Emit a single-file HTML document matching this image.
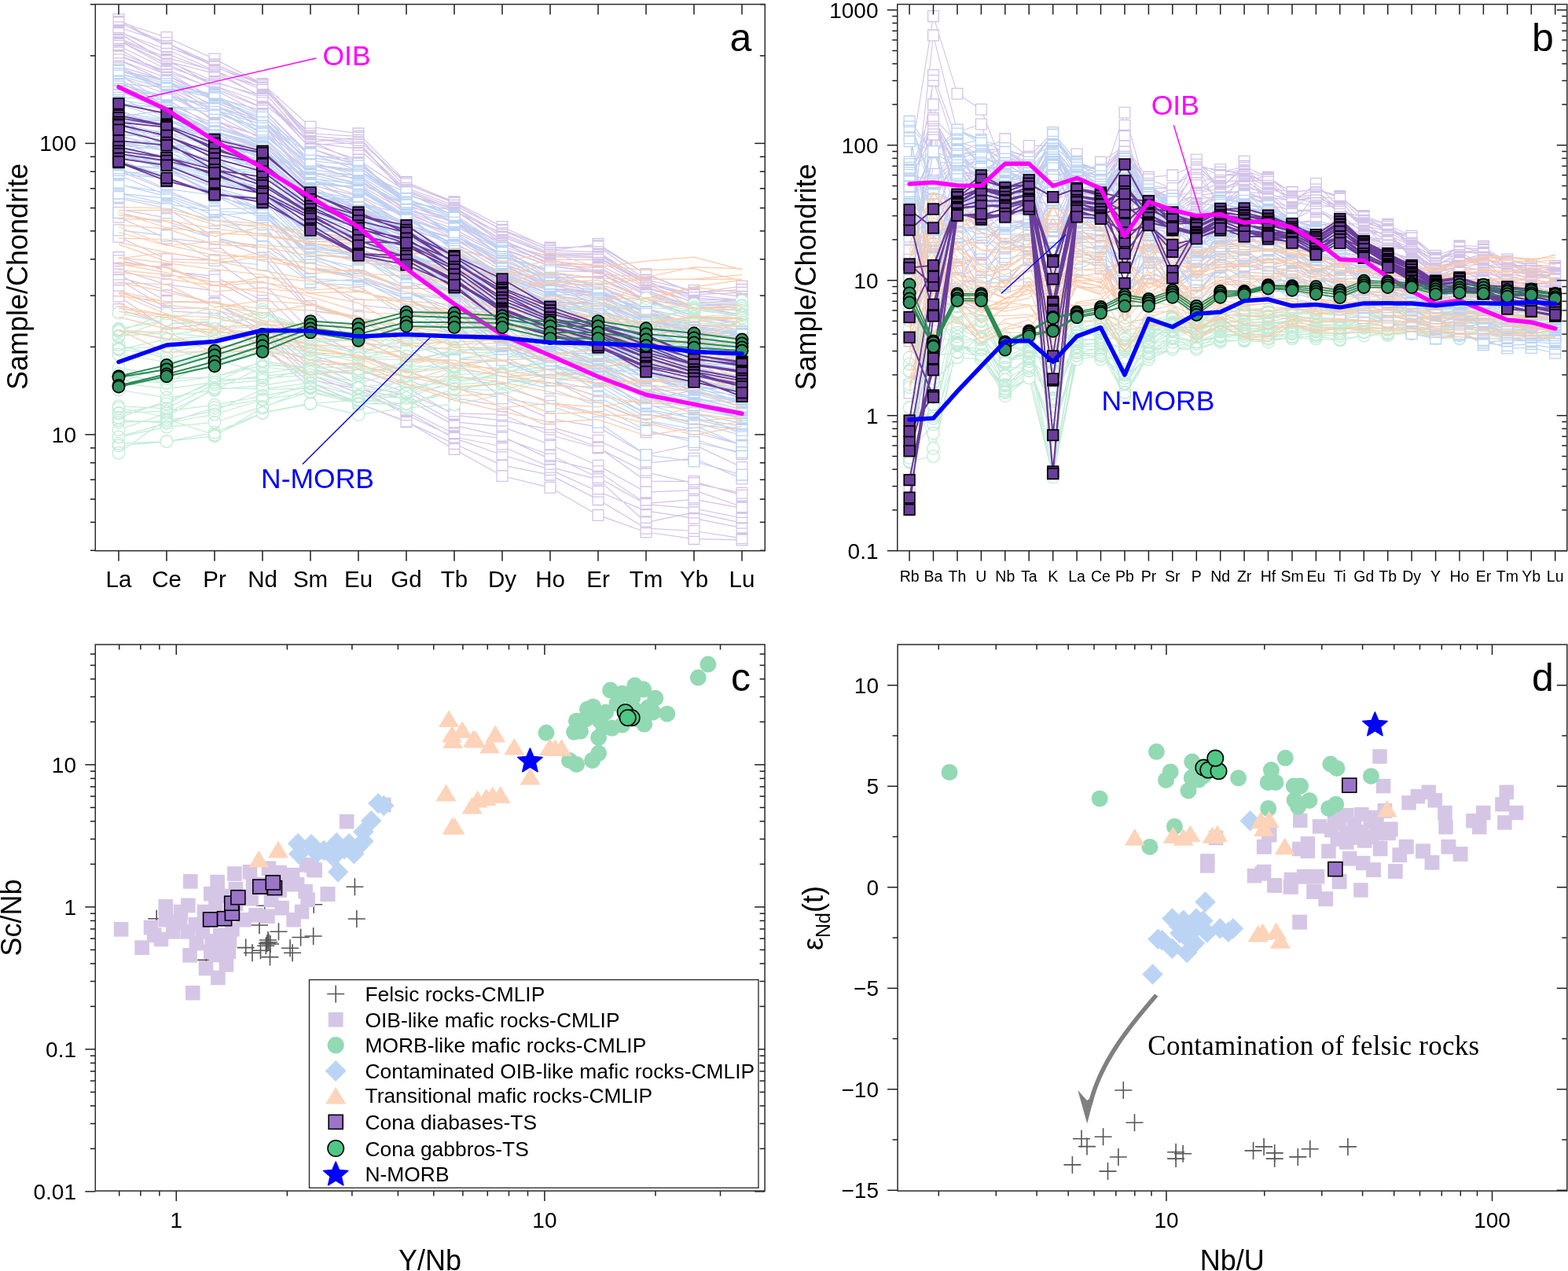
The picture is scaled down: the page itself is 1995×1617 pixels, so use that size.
<!DOCTYPE html>
<html><head><meta charset="utf-8"><style>
html,body{margin:0;padding:0;background:#fff;}
svg{display:block;}
</style></head><body>
<svg xmlns="http://www.w3.org/2000/svg" width="1995" height="1617" viewBox="0 0 1995 1617" font-family="'Liberation Sans', Arial, sans-serif">
<rect width="1995" height="1617" fill="#fff"/>
<defs>
<clipPath id="clipA"><rect x="121.3" y="5.5" width="852.0" height="695.2"/></clipPath>
<clipPath id="clipB"><rect x="1141.8" y="5.5" width="852.0" height="695.2"/></clipPath>
<clipPath id="clipC"><rect x="121.3" y="820.0" width="851.8" height="695.1"/></clipPath>
<clipPath id="clipD"><rect x="1142.1" y="820.0" width="851.7" height="695.1"/></clipPath>
<rect id="dsq" x="-6.8" y="-6.8" width="13.6" height="13.6" fill="#6a3d9a" stroke="#000" stroke-width="1.7"/>
<circle id="dci" r="7.6" fill="#2e915e" stroke="#000" stroke-width="1.7"/>
</defs>
<g clip-path="url(#clipA)">
<path d="M151 94.7L212 131.5 273 157.4 334 183.5 395 239.3 456 268.6 517 296.3 578 324.2 639 349.2 700 370.1 761 376 822 407 883 422.1 944 430.5M151 40.7L212 62.7 273 89.7 334 114.5 395 184.4 456 181.5 517 247.7 578 265.2 639 301.1 700 324.4 761 326.4 822 361.3 883 375.6 944 381.8M151 27.5L212 47.6 273 75.1 334 106.6 395 161.3 456 169.9 517 231.6 578 257.7 639 293.3 700 319 761 310.4 822 349.1 883 372.9 944 364M151 100.1L212 134.9 273 167.9 334 188.7 395 247.5 456 264.9 517 295 578 324.1 639 345 700 375.1 761 383.6 822 410 883 425.9 944 439.2M151 50.4L212 75.6 273 109.2 334 137 395 197.7 456 203 517 262.2 578 278.3 639 309.2 700 336.8 761 340.6 822 374.7 883 389.2 944 387.2M151 114.9L212 142.1 273 167.2 334 204.2 395 260 456 286.9 517 304.2 578 334.3 639 355.8 700 386.9 761 395.3 822 414 883 427.8 944 440.5M151 96.7L212 120 273 152.1 334 185.4 395 252.5 456 266.5 517 291.6 578 308.2 639 344.3 700 369 761 371.9 822 397 883 413.1 944 428.5M151 48.6L212 73.3 273 90.1 334 124.1 395 183.3 456 203.4 517 243.7 578 267.2 639 305.4 700 330.5 761 330.4 822 364.7 883 384.7 944 383.3M151 28.8L212 54.5 273 81.9 334 106.9 395 172.9 456 178.4 517 232.2 578 256.7 639 288.5 700 316.2 761 312.7 822 348.5 883 372.6 944 368.4M151 76.1L212 99.3 273 127.1 334 151.5 395 208.1 456 229.6 517 266.7 578 287.2 639 319 700 348.4 761 353.2 822 382.1 883 402.7 944 410.3M151 34.7L212 54.6 273 85.2 334 107.2 395 175.8 456 184.3 517 241.2 578 264.1 639 298.5 700 323.9 761 323.6 822 360.5 883 378.6 944 383.9M151 106.7L212 126.3 273 162 334 179.8 395 240.6 456 267.5 517 293.8 578 321.3 639 350.5 700 374.8 761 375.5 822 402.1 883 423.1 944 432.3M151 86.7L212 113.3 273 154.7 334 174.2 395 235.4 456 249.1 517 286.3 578 303.9 639 339.3 700 360.3 761 370.1 822 397.9 883 412.9 944 419.9M151 76.1L212 104.5 273 135.1 334 153 395 218.4 456 234.6 517 269.4 578 297.9 639 336.9 700 353.5 761 361.1 822 381.9 883 401.7 944 413.3M151 93.5L212 109.1 273 139.3 334 159.2 395 228.5 456 248.5 517 276.7 578 299.3 639 335.4 700 366.9 761 371.4 822 395.5 883 415.6 944 422.4M151 62.3L212 95.4 273 124.2 334 140.8 395 205.5 456 224 517 266.8 578 281.7 639 326.4 700 344.6 761 345.8 822 375.8 883 391.7 944 399.9M151 103.9L212 134.7 273 170.3 334 189.5 395 248.2 456 281.2 517 300.1 578 322.2 639 358.2 700 388.2 761 385.3 822 413.1 883 432.4 944 440.3M151 24.7L212 59.1 273 81.7 334 108.7 395 180.5 456 175.2 517 234.1 578 258.3 639 292.7 700 318.6 761 320.6 822 359.1 883 374.6 944 372.4M151 89.3L212 102.2 273 136.8 334 155.5 395 234.4 456 237.2 517 274 578 300 639 329.7 700 357.8 761 364 822 392.9 883 405.9 944 416M151 39.9L212 68.4 273 91.1 334 111.1 395 176.5 456 180.7 517 247.1 578 268.8 639 296.8 700 321.6 761 323 822 356.7 883 382.2 944 380.6M151 42.3L212 77.8 273 93.4 334 122.7 395 181.7 456 189.3 517 242.7 578 266.8 639 309.7 700 326.6 761 327.9 822 361.4 883 385.5 944 381.5M151 51.5L212 84.5 273 105 334 122 395 188.6 456 211.8 517 257.3 578 267.7 639 306.5 700 331.7 761 339.1 822 372.1 883 388.5 944 385.2M151 51.4L212 81.1 273 109 334 130.7 395 179.6 456 206.8 517 254.1 578 272.7 639 313 700 334.2 761 344.5 822 369.1 883 391.1 944 391.7M151 86.7L212 116.7 273 152.8 334 174.3 395 234 456 254.1 517 284.5 578 311.2 639 336.2 700 367.6 761 374.1 822 392.4 883 416.5 944 421.4M151 71L212 94.9 273 129.1 334 156.2 395 221.3 456 226.2 517 272.2 578 294.6 639 325.1 700 353 761 352.6 822 380.4 883 402.1 944 411M151 67L212 91.1 273 112.6 334 137.2 395 199.9 456 211.4 517 260.1 578 283.8 639 317.2 700 338.4 761 345.7 822 382 883 388 944 400.9M151 41.8L212 77.6 273 103.5 334 124.6 395 188.9 456 207.8 517 256.1 578 282.3 639 308.8 700 335.6 761 336.4 822 366.5 883 384.1 944 393.6M151 84.5L212 112.4 273 145 334 177.4 395 236.7 456 263.6 517 285.9 578 302.8 639 341.6 700 361.5 761 369.8 822 399.2 883 415.4 944 421.5M151 115.5L212 140 273 176.7 334 200.8 395 258.5 456 281.4 517 310.4 578 331.9 639 357.2 700 384.3 761 385.9 822 417.8 883 429.3 944 437.1M151 70.6L212 91.5 273 126.8 334 151.4 395 215.6 456 223.9 517 268.5 578 291.6 639 323.2 700 354 761 351.9 822 383 883 405.5 944 404.7M151 84.3L212 102.4 273 144 334 162.9 395 231.2 456 239.9 517 275.7 578 303 639 333.3 700 361.7 761 361.8 822 392.4 883 413.5 944 413.8M151 114.1L212 138.6 273 171.8 334 198.8 395 253.1 456 277.9 517 301.5 578 327.7 639 350.7 700 386.4 761 383.4 822 407.5 883 424.1 944 443.8M151 58.3L212 88 273 114 334 145.6 395 209 456 216.4 517 257.4 578 282.1 639 315.7 700 338.3 761 346.9 822 375.5 883 394 944 401.9M151 27.6L212 58.8 273 83.8 334 112.5 395 170 456 173.4 517 239.2 578 261.2 639 292.2 700 315 761 313.7 822 356.1 883 369.6 944 377.4M151 355.7L212 392.3 273 391.9 334 426.9 395 483.2 456 494.7 517 527.7 578 556 639 568 700 594.3 761 609.8 822 664.7 883 651.9 944 665.3M151 331.7L212 342.7 273 356.1 334 389.3 395 451.4 456 469.9 517 492.6 578 528.1 639 534.9 700 546.3 761 568.8 822 612.1 883 612.6 944 630.2M151 327.4L212 344.5 273 351.6 334 382.5 395 457.2 456 477.6 517 499.6 578 526.2 639 527.2 700 553.5 761 570 822 600.8 883 614.8 944 627.3M151 353.2L212 368.4 273 386.5 334 414.1 395 466.5 456 494.5 517 507.7 578 541.1 639 555.1 700 584.1 761 599.7 822 640.7 883 635.3 944 646.3M151 369.7L212 395.6 273 399.2 334 422.5 395 476.9 456 500.1 517 523.6 578 557.4 639 578.7 700 597.4 761 625.3 822 649.9 883 659.3 944 671.7M151 393.6L212 412 273 409.6 334 441.1 395 486.6 456 513 517 536.1 578 571.4 639 605.5 700 620.3 761 655.4 822 677 883 685.6 944 686.9M151 377L212 417.8 273 411.4 334 440.2 395 493.8 456 513.3 517 536.6 578 564.5 639 591.9 700 604.1 761 635.6 822 672.2 883 675.5 944 684.8M151 342.8L212 362.1 273 369.8 334 405.4 395 460.1 456 488.7 517 503.2 578 536.7 639 542.9 700 565.8 761 592.2 822 626.1 883 623.6 944 644.7M151 349L212 383.6 273 385.6 334 420.7 395 471.5 456 492.4 517 521.2 578 552 639 557 700 578.7 761 607.5 822 641.6 883 646.8 944 659M151 276.2L212 303.2 273 309.2 334 359.3 395 420.6 456 450.7 517 472.1 578 494 639 506.2 700 532.6 761 543.2 822 578.5 883 565.6 944 594.5M151 139.6L212 165.1 273 205 334 236.3 395 290.1 456 299.8 517 328 578 349.7 639 378.8 700 400.1 761 418.5 822 450 883 465.6 944 461.7M151 124.4L212 149.8 273 187.1 334 204.2 395 272.8 456 303.9 517 310.1 578 336.8 639 378.6 700 388.5 761 404.3 822 436.5 883 442.1 944 459.7M151 266.1L212 277.1 273 303.9 334 325.9 395 394.3 456 435.6 517 442.9 578 477.5 639 492.2 700 510.8 761 526.7 822 549.7 883 558.8 944 577.7M151 194.1L212 214.4 273 248.7 334 278.3 395 338.7 456 355.5 517 376.7 578 419.1 639 415.8 700 451.6 761 466.9 822 508.4 883 496.6 944 518M151 194.9L212 215 273 239 334 271.8 395 323.7 456 346.5 517 366.6 578 405.6 639 426.9 700 444.6 761 464.9 822 488.9 883 508.5 944 512M151 252L212 265 273 301.6 334 317.8 395 389.5 456 406.9 517 436.5 578 457 639 459.4 700 483 761 513 822 535.8 883 550.5 944 565.7M151 171.9L212 173.8 273 216.4 334 246.4 395 291.9 456 332.7 517 331 578 388.8 639 396.7 700 410.7 761 441.9 822 470.9 883 454.7 944 499.3M151 301.2L212 329.7 273 330.9 334 373.1 395 430.6 456 447.6 517 482.5 578 506.3 639 516.4 700 543.2 761 560.2 822 589.1 883 583.3 944 608.9M151 217.1L212 241.7 273 268.8 334 310 395 349.7 456 387.8 517 394.5 578 421.8 639 436.2 700 474.6 761 475.3 822 521.1 883 539.3 944 547" fill="none" stroke="#d3c3e8" stroke-width="1.2" stroke-linejoin="round" />
<path d="M144.1 87.8h13.8v13.8h-13.8zM205.1 124.6h13.8v13.8h-13.8zM266.1 150.5h13.8v13.8h-13.8zM327.1 176.6h13.8v13.8h-13.8zM388.1 232.4h13.8v13.8h-13.8zM449.1 261.7h13.8v13.8h-13.8zM510.1 289.4h13.8v13.8h-13.8zM571.1 317.3h13.8v13.8h-13.8zM632.1 342.3h13.8v13.8h-13.8zM693.1 363.2h13.8v13.8h-13.8zM754.1 369.1h13.8v13.8h-13.8zM815.1 400.1h13.8v13.8h-13.8zM876.1 415.2h13.8v13.8h-13.8zM937.1 423.6h13.8v13.8h-13.8zM144.1 33.8h13.8v13.8h-13.8zM205.1 55.8h13.8v13.8h-13.8zM266.1 82.8h13.8v13.8h-13.8zM327.1 107.6h13.8v13.8h-13.8zM388.1 177.5h13.8v13.8h-13.8zM449.1 174.6h13.8v13.8h-13.8zM510.1 240.8h13.8v13.8h-13.8zM571.1 258.3h13.8v13.8h-13.8zM632.1 294.2h13.8v13.8h-13.8zM693.1 317.5h13.8v13.8h-13.8zM754.1 319.5h13.8v13.8h-13.8zM815.1 354.4h13.8v13.8h-13.8zM876.1 368.7h13.8v13.8h-13.8zM937.1 374.9h13.8v13.8h-13.8zM144.1 20.6h13.8v13.8h-13.8zM205.1 40.7h13.8v13.8h-13.8zM266.1 68.2h13.8v13.8h-13.8zM327.1 99.7h13.8v13.8h-13.8zM388.1 154.4h13.8v13.8h-13.8zM449.1 163h13.8v13.8h-13.8zM510.1 224.7h13.8v13.8h-13.8zM571.1 250.8h13.8v13.8h-13.8zM632.1 286.4h13.8v13.8h-13.8zM693.1 312.1h13.8v13.8h-13.8zM754.1 303.5h13.8v13.8h-13.8zM815.1 342.2h13.8v13.8h-13.8zM876.1 366h13.8v13.8h-13.8zM937.1 357.1h13.8v13.8h-13.8zM144.1 93.2h13.8v13.8h-13.8zM205.1 128h13.8v13.8h-13.8zM266.1 161h13.8v13.8h-13.8zM327.1 181.8h13.8v13.8h-13.8zM388.1 240.6h13.8v13.8h-13.8zM449.1 258h13.8v13.8h-13.8zM510.1 288.1h13.8v13.8h-13.8zM571.1 317.2h13.8v13.8h-13.8zM632.1 338.1h13.8v13.8h-13.8zM693.1 368.2h13.8v13.8h-13.8zM754.1 376.7h13.8v13.8h-13.8zM815.1 403.1h13.8v13.8h-13.8zM876.1 419h13.8v13.8h-13.8zM937.1 432.3h13.8v13.8h-13.8zM144.1 43.5h13.8v13.8h-13.8zM205.1 68.7h13.8v13.8h-13.8zM266.1 102.3h13.8v13.8h-13.8zM327.1 130.1h13.8v13.8h-13.8zM388.1 190.8h13.8v13.8h-13.8zM449.1 196.1h13.8v13.8h-13.8zM510.1 255.3h13.8v13.8h-13.8zM571.1 271.4h13.8v13.8h-13.8zM632.1 302.3h13.8v13.8h-13.8zM693.1 329.9h13.8v13.8h-13.8zM754.1 333.7h13.8v13.8h-13.8zM815.1 367.8h13.8v13.8h-13.8zM876.1 382.3h13.8v13.8h-13.8zM937.1 380.3h13.8v13.8h-13.8zM144.1 108h13.8v13.8h-13.8zM205.1 135.2h13.8v13.8h-13.8zM266.1 160.3h13.8v13.8h-13.8zM327.1 197.3h13.8v13.8h-13.8zM388.1 253.1h13.8v13.8h-13.8zM449.1 280h13.8v13.8h-13.8zM510.1 297.3h13.8v13.8h-13.8zM571.1 327.4h13.8v13.8h-13.8zM632.1 348.9h13.8v13.8h-13.8zM693.1 380h13.8v13.8h-13.8zM754.1 388.4h13.8v13.8h-13.8zM815.1 407.1h13.8v13.8h-13.8zM876.1 420.9h13.8v13.8h-13.8zM937.1 433.6h13.8v13.8h-13.8zM144.1 89.8h13.8v13.8h-13.8zM205.1 113.1h13.8v13.8h-13.8zM266.1 145.2h13.8v13.8h-13.8zM327.1 178.5h13.8v13.8h-13.8zM388.1 245.6h13.8v13.8h-13.8zM449.1 259.6h13.8v13.8h-13.8zM510.1 284.7h13.8v13.8h-13.8zM571.1 301.3h13.8v13.8h-13.8zM632.1 337.4h13.8v13.8h-13.8zM693.1 362.1h13.8v13.8h-13.8zM754.1 365h13.8v13.8h-13.8zM815.1 390.1h13.8v13.8h-13.8zM876.1 406.2h13.8v13.8h-13.8zM937.1 421.6h13.8v13.8h-13.8zM144.1 41.7h13.8v13.8h-13.8zM205.1 66.4h13.8v13.8h-13.8zM266.1 83.2h13.8v13.8h-13.8zM327.1 117.2h13.8v13.8h-13.8zM388.1 176.4h13.8v13.8h-13.8zM449.1 196.5h13.8v13.8h-13.8zM510.1 236.8h13.8v13.8h-13.8zM571.1 260.3h13.8v13.8h-13.8zM632.1 298.5h13.8v13.8h-13.8zM693.1 323.6h13.8v13.8h-13.8zM754.1 323.5h13.8v13.8h-13.8zM815.1 357.8h13.8v13.8h-13.8zM876.1 377.8h13.8v13.8h-13.8zM937.1 376.4h13.8v13.8h-13.8zM144.1 21.9h13.8v13.8h-13.8zM205.1 47.6h13.8v13.8h-13.8zM266.1 75h13.8v13.8h-13.8zM327.1 100h13.8v13.8h-13.8zM388.1 166h13.8v13.8h-13.8zM449.1 171.5h13.8v13.8h-13.8zM510.1 225.3h13.8v13.8h-13.8zM571.1 249.8h13.8v13.8h-13.8zM632.1 281.6h13.8v13.8h-13.8zM693.1 309.3h13.8v13.8h-13.8zM754.1 305.8h13.8v13.8h-13.8zM815.1 341.6h13.8v13.8h-13.8zM876.1 365.7h13.8v13.8h-13.8zM937.1 361.5h13.8v13.8h-13.8zM144.1 69.2h13.8v13.8h-13.8zM205.1 92.4h13.8v13.8h-13.8zM266.1 120.2h13.8v13.8h-13.8zM327.1 144.6h13.8v13.8h-13.8zM388.1 201.2h13.8v13.8h-13.8zM449.1 222.7h13.8v13.8h-13.8zM510.1 259.8h13.8v13.8h-13.8zM571.1 280.3h13.8v13.8h-13.8zM632.1 312.1h13.8v13.8h-13.8zM693.1 341.5h13.8v13.8h-13.8zM754.1 346.3h13.8v13.8h-13.8zM815.1 375.2h13.8v13.8h-13.8zM876.1 395.8h13.8v13.8h-13.8zM937.1 403.4h13.8v13.8h-13.8zM144.1 27.8h13.8v13.8h-13.8zM205.1 47.7h13.8v13.8h-13.8zM266.1 78.3h13.8v13.8h-13.8zM327.1 100.3h13.8v13.8h-13.8zM388.1 168.9h13.8v13.8h-13.8zM449.1 177.4h13.8v13.8h-13.8zM510.1 234.3h13.8v13.8h-13.8zM571.1 257.2h13.8v13.8h-13.8zM632.1 291.6h13.8v13.8h-13.8zM693.1 317h13.8v13.8h-13.8zM754.1 316.7h13.8v13.8h-13.8zM815.1 353.6h13.8v13.8h-13.8zM876.1 371.7h13.8v13.8h-13.8zM937.1 377h13.8v13.8h-13.8zM144.1 99.8h13.8v13.8h-13.8zM205.1 119.4h13.8v13.8h-13.8zM266.1 155.1h13.8v13.8h-13.8zM327.1 172.9h13.8v13.8h-13.8zM388.1 233.7h13.8v13.8h-13.8zM449.1 260.6h13.8v13.8h-13.8zM510.1 286.9h13.8v13.8h-13.8zM571.1 314.4h13.8v13.8h-13.8zM632.1 343.6h13.8v13.8h-13.8zM693.1 367.9h13.8v13.8h-13.8zM754.1 368.6h13.8v13.8h-13.8zM815.1 395.2h13.8v13.8h-13.8zM876.1 416.2h13.8v13.8h-13.8zM937.1 425.4h13.8v13.8h-13.8zM144.1 79.8h13.8v13.8h-13.8zM205.1 106.4h13.8v13.8h-13.8zM266.1 147.8h13.8v13.8h-13.8zM327.1 167.3h13.8v13.8h-13.8zM388.1 228.5h13.8v13.8h-13.8zM449.1 242.2h13.8v13.8h-13.8zM510.1 279.4h13.8v13.8h-13.8zM571.1 297h13.8v13.8h-13.8zM632.1 332.4h13.8v13.8h-13.8zM693.1 353.4h13.8v13.8h-13.8zM754.1 363.2h13.8v13.8h-13.8zM815.1 391h13.8v13.8h-13.8zM876.1 406h13.8v13.8h-13.8zM937.1 413h13.8v13.8h-13.8zM144.1 69.2h13.8v13.8h-13.8zM205.1 97.6h13.8v13.8h-13.8zM266.1 128.2h13.8v13.8h-13.8zM327.1 146.1h13.8v13.8h-13.8zM388.1 211.5h13.8v13.8h-13.8zM449.1 227.7h13.8v13.8h-13.8zM510.1 262.5h13.8v13.8h-13.8zM571.1 291h13.8v13.8h-13.8zM632.1 330h13.8v13.8h-13.8zM693.1 346.6h13.8v13.8h-13.8zM754.1 354.2h13.8v13.8h-13.8zM815.1 375h13.8v13.8h-13.8zM876.1 394.8h13.8v13.8h-13.8zM937.1 406.4h13.8v13.8h-13.8zM144.1 86.6h13.8v13.8h-13.8zM205.1 102.2h13.8v13.8h-13.8zM266.1 132.4h13.8v13.8h-13.8zM327.1 152.3h13.8v13.8h-13.8zM388.1 221.6h13.8v13.8h-13.8zM449.1 241.6h13.8v13.8h-13.8zM510.1 269.8h13.8v13.8h-13.8zM571.1 292.4h13.8v13.8h-13.8zM632.1 328.5h13.8v13.8h-13.8zM693.1 360h13.8v13.8h-13.8zM754.1 364.5h13.8v13.8h-13.8zM815.1 388.6h13.8v13.8h-13.8zM876.1 408.7h13.8v13.8h-13.8zM937.1 415.5h13.8v13.8h-13.8zM144.1 55.4h13.8v13.8h-13.8zM205.1 88.5h13.8v13.8h-13.8zM266.1 117.3h13.8v13.8h-13.8zM327.1 133.9h13.8v13.8h-13.8zM388.1 198.6h13.8v13.8h-13.8zM449.1 217.1h13.8v13.8h-13.8zM510.1 259.9h13.8v13.8h-13.8zM571.1 274.8h13.8v13.8h-13.8zM632.1 319.5h13.8v13.8h-13.8zM693.1 337.7h13.8v13.8h-13.8zM754.1 338.9h13.8v13.8h-13.8zM815.1 368.9h13.8v13.8h-13.8zM876.1 384.8h13.8v13.8h-13.8zM937.1 393h13.8v13.8h-13.8zM144.1 97h13.8v13.8h-13.8zM205.1 127.8h13.8v13.8h-13.8zM266.1 163.4h13.8v13.8h-13.8zM327.1 182.6h13.8v13.8h-13.8zM388.1 241.3h13.8v13.8h-13.8zM449.1 274.3h13.8v13.8h-13.8zM510.1 293.2h13.8v13.8h-13.8zM571.1 315.3h13.8v13.8h-13.8zM632.1 351.3h13.8v13.8h-13.8zM693.1 381.3h13.8v13.8h-13.8zM754.1 378.4h13.8v13.8h-13.8zM815.1 406.2h13.8v13.8h-13.8zM876.1 425.5h13.8v13.8h-13.8zM937.1 433.4h13.8v13.8h-13.8zM144.1 17.8h13.8v13.8h-13.8zM205.1 52.2h13.8v13.8h-13.8zM266.1 74.8h13.8v13.8h-13.8zM327.1 101.8h13.8v13.8h-13.8zM388.1 173.6h13.8v13.8h-13.8zM449.1 168.3h13.8v13.8h-13.8zM510.1 227.2h13.8v13.8h-13.8zM571.1 251.4h13.8v13.8h-13.8zM632.1 285.8h13.8v13.8h-13.8zM693.1 311.7h13.8v13.8h-13.8zM754.1 313.7h13.8v13.8h-13.8zM815.1 352.2h13.8v13.8h-13.8zM876.1 367.7h13.8v13.8h-13.8zM937.1 365.5h13.8v13.8h-13.8zM144.1 82.4h13.8v13.8h-13.8zM205.1 95.3h13.8v13.8h-13.8zM266.1 129.9h13.8v13.8h-13.8zM327.1 148.6h13.8v13.8h-13.8zM388.1 227.5h13.8v13.8h-13.8zM449.1 230.3h13.8v13.8h-13.8zM510.1 267.1h13.8v13.8h-13.8zM571.1 293.1h13.8v13.8h-13.8zM632.1 322.8h13.8v13.8h-13.8zM693.1 350.9h13.8v13.8h-13.8zM754.1 357.1h13.8v13.8h-13.8zM815.1 386h13.8v13.8h-13.8zM876.1 399h13.8v13.8h-13.8zM937.1 409.1h13.8v13.8h-13.8zM144.1 33h13.8v13.8h-13.8zM205.1 61.5h13.8v13.8h-13.8zM266.1 84.2h13.8v13.8h-13.8zM327.1 104.2h13.8v13.8h-13.8zM388.1 169.6h13.8v13.8h-13.8zM449.1 173.8h13.8v13.8h-13.8zM510.1 240.2h13.8v13.8h-13.8zM571.1 261.9h13.8v13.8h-13.8zM632.1 289.9h13.8v13.8h-13.8zM693.1 314.7h13.8v13.8h-13.8zM754.1 316.1h13.8v13.8h-13.8zM815.1 349.8h13.8v13.8h-13.8zM876.1 375.3h13.8v13.8h-13.8zM937.1 373.7h13.8v13.8h-13.8zM144.1 35.4h13.8v13.8h-13.8zM205.1 70.9h13.8v13.8h-13.8zM266.1 86.5h13.8v13.8h-13.8zM327.1 115.8h13.8v13.8h-13.8zM388.1 174.8h13.8v13.8h-13.8zM449.1 182.4h13.8v13.8h-13.8zM510.1 235.8h13.8v13.8h-13.8zM571.1 259.9h13.8v13.8h-13.8zM632.1 302.8h13.8v13.8h-13.8zM693.1 319.7h13.8v13.8h-13.8zM754.1 321h13.8v13.8h-13.8zM815.1 354.5h13.8v13.8h-13.8zM876.1 378.6h13.8v13.8h-13.8zM937.1 374.6h13.8v13.8h-13.8zM144.1 44.6h13.8v13.8h-13.8zM205.1 77.6h13.8v13.8h-13.8zM266.1 98.1h13.8v13.8h-13.8zM327.1 115.1h13.8v13.8h-13.8zM388.1 181.7h13.8v13.8h-13.8zM449.1 204.9h13.8v13.8h-13.8zM510.1 250.4h13.8v13.8h-13.8zM571.1 260.8h13.8v13.8h-13.8zM632.1 299.6h13.8v13.8h-13.8zM693.1 324.8h13.8v13.8h-13.8zM754.1 332.2h13.8v13.8h-13.8zM815.1 365.2h13.8v13.8h-13.8zM876.1 381.6h13.8v13.8h-13.8zM937.1 378.3h13.8v13.8h-13.8zM144.1 44.5h13.8v13.8h-13.8zM205.1 74.2h13.8v13.8h-13.8zM266.1 102.1h13.8v13.8h-13.8zM327.1 123.8h13.8v13.8h-13.8zM388.1 172.7h13.8v13.8h-13.8zM449.1 199.9h13.8v13.8h-13.8zM510.1 247.2h13.8v13.8h-13.8zM571.1 265.8h13.8v13.8h-13.8zM632.1 306.1h13.8v13.8h-13.8zM693.1 327.3h13.8v13.8h-13.8zM754.1 337.6h13.8v13.8h-13.8zM815.1 362.2h13.8v13.8h-13.8zM876.1 384.2h13.8v13.8h-13.8zM937.1 384.8h13.8v13.8h-13.8zM144.1 79.8h13.8v13.8h-13.8zM205.1 109.8h13.8v13.8h-13.8zM266.1 145.9h13.8v13.8h-13.8zM327.1 167.4h13.8v13.8h-13.8zM388.1 227.1h13.8v13.8h-13.8zM449.1 247.2h13.8v13.8h-13.8zM510.1 277.6h13.8v13.8h-13.8zM571.1 304.3h13.8v13.8h-13.8zM632.1 329.3h13.8v13.8h-13.8zM693.1 360.7h13.8v13.8h-13.8zM754.1 367.2h13.8v13.8h-13.8zM815.1 385.5h13.8v13.8h-13.8zM876.1 409.6h13.8v13.8h-13.8zM937.1 414.5h13.8v13.8h-13.8zM144.1 64.1h13.8v13.8h-13.8zM205.1 88h13.8v13.8h-13.8zM266.1 122.2h13.8v13.8h-13.8zM327.1 149.3h13.8v13.8h-13.8zM388.1 214.4h13.8v13.8h-13.8zM449.1 219.3h13.8v13.8h-13.8zM510.1 265.3h13.8v13.8h-13.8zM571.1 287.7h13.8v13.8h-13.8zM632.1 318.2h13.8v13.8h-13.8zM693.1 346.1h13.8v13.8h-13.8zM754.1 345.7h13.8v13.8h-13.8zM815.1 373.5h13.8v13.8h-13.8zM876.1 395.2h13.8v13.8h-13.8zM937.1 404.1h13.8v13.8h-13.8zM144.1 60.1h13.8v13.8h-13.8zM205.1 84.2h13.8v13.8h-13.8zM266.1 105.7h13.8v13.8h-13.8zM327.1 130.3h13.8v13.8h-13.8zM388.1 193h13.8v13.8h-13.8zM449.1 204.5h13.8v13.8h-13.8zM510.1 253.2h13.8v13.8h-13.8zM571.1 276.9h13.8v13.8h-13.8zM632.1 310.3h13.8v13.8h-13.8zM693.1 331.5h13.8v13.8h-13.8zM754.1 338.8h13.8v13.8h-13.8zM815.1 375.1h13.8v13.8h-13.8zM876.1 381.1h13.8v13.8h-13.8zM937.1 394h13.8v13.8h-13.8zM144.1 34.9h13.8v13.8h-13.8zM205.1 70.7h13.8v13.8h-13.8zM266.1 96.6h13.8v13.8h-13.8zM327.1 117.7h13.8v13.8h-13.8zM388.1 182h13.8v13.8h-13.8zM449.1 200.9h13.8v13.8h-13.8zM510.1 249.2h13.8v13.8h-13.8zM571.1 275.4h13.8v13.8h-13.8zM632.1 301.9h13.8v13.8h-13.8zM693.1 328.7h13.8v13.8h-13.8zM754.1 329.5h13.8v13.8h-13.8zM815.1 359.6h13.8v13.8h-13.8zM876.1 377.2h13.8v13.8h-13.8zM937.1 386.7h13.8v13.8h-13.8zM144.1 77.6h13.8v13.8h-13.8zM205.1 105.5h13.8v13.8h-13.8zM266.1 138.1h13.8v13.8h-13.8zM327.1 170.5h13.8v13.8h-13.8zM388.1 229.8h13.8v13.8h-13.8zM449.1 256.7h13.8v13.8h-13.8zM510.1 279h13.8v13.8h-13.8zM571.1 295.9h13.8v13.8h-13.8zM632.1 334.7h13.8v13.8h-13.8zM693.1 354.6h13.8v13.8h-13.8zM754.1 362.9h13.8v13.8h-13.8zM815.1 392.3h13.8v13.8h-13.8zM876.1 408.5h13.8v13.8h-13.8zM937.1 414.6h13.8v13.8h-13.8zM144.1 108.6h13.8v13.8h-13.8zM205.1 133.1h13.8v13.8h-13.8zM266.1 169.8h13.8v13.8h-13.8zM327.1 193.9h13.8v13.8h-13.8zM388.1 251.6h13.8v13.8h-13.8zM449.1 274.5h13.8v13.8h-13.8zM510.1 303.5h13.8v13.8h-13.8zM571.1 325h13.8v13.8h-13.8zM632.1 350.3h13.8v13.8h-13.8zM693.1 377.4h13.8v13.8h-13.8zM754.1 379h13.8v13.8h-13.8zM815.1 410.9h13.8v13.8h-13.8zM876.1 422.4h13.8v13.8h-13.8zM937.1 430.2h13.8v13.8h-13.8zM144.1 63.7h13.8v13.8h-13.8zM205.1 84.6h13.8v13.8h-13.8zM266.1 119.9h13.8v13.8h-13.8zM327.1 144.5h13.8v13.8h-13.8zM388.1 208.7h13.8v13.8h-13.8zM449.1 217h13.8v13.8h-13.8zM510.1 261.6h13.8v13.8h-13.8zM571.1 284.7h13.8v13.8h-13.8zM632.1 316.3h13.8v13.8h-13.8zM693.1 347.1h13.8v13.8h-13.8zM754.1 345h13.8v13.8h-13.8zM815.1 376.1h13.8v13.8h-13.8zM876.1 398.6h13.8v13.8h-13.8zM937.1 397.8h13.8v13.8h-13.8zM144.1 77.4h13.8v13.8h-13.8zM205.1 95.5h13.8v13.8h-13.8zM266.1 137.1h13.8v13.8h-13.8zM327.1 156h13.8v13.8h-13.8zM388.1 224.3h13.8v13.8h-13.8zM449.1 233h13.8v13.8h-13.8zM510.1 268.8h13.8v13.8h-13.8zM571.1 296.1h13.8v13.8h-13.8zM632.1 326.4h13.8v13.8h-13.8zM693.1 354.8h13.8v13.8h-13.8zM754.1 354.9h13.8v13.8h-13.8zM815.1 385.5h13.8v13.8h-13.8zM876.1 406.6h13.8v13.8h-13.8zM937.1 406.9h13.8v13.8h-13.8zM144.1 107.2h13.8v13.8h-13.8zM205.1 131.7h13.8v13.8h-13.8zM266.1 164.9h13.8v13.8h-13.8zM327.1 191.9h13.8v13.8h-13.8zM388.1 246.2h13.8v13.8h-13.8zM449.1 271h13.8v13.8h-13.8zM510.1 294.6h13.8v13.8h-13.8zM571.1 320.8h13.8v13.8h-13.8zM632.1 343.8h13.8v13.8h-13.8zM693.1 379.5h13.8v13.8h-13.8zM754.1 376.5h13.8v13.8h-13.8zM815.1 400.6h13.8v13.8h-13.8zM876.1 417.2h13.8v13.8h-13.8zM937.1 436.9h13.8v13.8h-13.8zM144.1 51.4h13.8v13.8h-13.8zM205.1 81.1h13.8v13.8h-13.8zM266.1 107.1h13.8v13.8h-13.8zM327.1 138.7h13.8v13.8h-13.8zM388.1 202.1h13.8v13.8h-13.8zM449.1 209.5h13.8v13.8h-13.8zM510.1 250.5h13.8v13.8h-13.8zM571.1 275.2h13.8v13.8h-13.8zM632.1 308.8h13.8v13.8h-13.8zM693.1 331.4h13.8v13.8h-13.8zM754.1 340h13.8v13.8h-13.8zM815.1 368.6h13.8v13.8h-13.8zM876.1 387.1h13.8v13.8h-13.8zM937.1 395h13.8v13.8h-13.8zM144.1 20.7h13.8v13.8h-13.8zM205.1 51.9h13.8v13.8h-13.8zM266.1 76.9h13.8v13.8h-13.8zM327.1 105.6h13.8v13.8h-13.8zM388.1 163.1h13.8v13.8h-13.8zM449.1 166.5h13.8v13.8h-13.8zM510.1 232.3h13.8v13.8h-13.8zM571.1 254.3h13.8v13.8h-13.8zM632.1 285.3h13.8v13.8h-13.8zM693.1 308.1h13.8v13.8h-13.8zM754.1 306.8h13.8v13.8h-13.8zM815.1 349.2h13.8v13.8h-13.8zM876.1 362.7h13.8v13.8h-13.8zM937.1 370.5h13.8v13.8h-13.8zM144.1 348.8h13.8v13.8h-13.8zM205.1 385.4h13.8v13.8h-13.8zM266.1 385h13.8v13.8h-13.8zM327.1 420h13.8v13.8h-13.8zM388.1 476.3h13.8v13.8h-13.8zM449.1 487.8h13.8v13.8h-13.8zM510.1 520.8h13.8v13.8h-13.8zM571.1 549.1h13.8v13.8h-13.8zM632.1 561.1h13.8v13.8h-13.8zM693.1 587.4h13.8v13.8h-13.8zM754.1 602.9h13.8v13.8h-13.8zM815.1 657.8h13.8v13.8h-13.8zM876.1 645h13.8v13.8h-13.8zM937.1 658.4h13.8v13.8h-13.8zM144.1 324.8h13.8v13.8h-13.8zM205.1 335.8h13.8v13.8h-13.8zM266.1 349.2h13.8v13.8h-13.8zM327.1 382.4h13.8v13.8h-13.8zM388.1 444.5h13.8v13.8h-13.8zM449.1 463h13.8v13.8h-13.8zM510.1 485.7h13.8v13.8h-13.8zM571.1 521.2h13.8v13.8h-13.8zM632.1 528h13.8v13.8h-13.8zM693.1 539.4h13.8v13.8h-13.8zM754.1 561.9h13.8v13.8h-13.8zM815.1 605.2h13.8v13.8h-13.8zM876.1 605.7h13.8v13.8h-13.8zM937.1 623.3h13.8v13.8h-13.8zM144.1 320.5h13.8v13.8h-13.8zM205.1 337.6h13.8v13.8h-13.8zM266.1 344.7h13.8v13.8h-13.8zM327.1 375.6h13.8v13.8h-13.8zM388.1 450.3h13.8v13.8h-13.8zM449.1 470.7h13.8v13.8h-13.8zM510.1 492.7h13.8v13.8h-13.8zM571.1 519.3h13.8v13.8h-13.8zM632.1 520.3h13.8v13.8h-13.8zM693.1 546.6h13.8v13.8h-13.8zM754.1 563.1h13.8v13.8h-13.8zM815.1 593.9h13.8v13.8h-13.8zM876.1 607.9h13.8v13.8h-13.8zM937.1 620.4h13.8v13.8h-13.8zM144.1 346.3h13.8v13.8h-13.8zM205.1 361.5h13.8v13.8h-13.8zM266.1 379.6h13.8v13.8h-13.8zM327.1 407.2h13.8v13.8h-13.8zM388.1 459.6h13.8v13.8h-13.8zM449.1 487.6h13.8v13.8h-13.8zM510.1 500.8h13.8v13.8h-13.8zM571.1 534.2h13.8v13.8h-13.8zM632.1 548.2h13.8v13.8h-13.8zM693.1 577.2h13.8v13.8h-13.8zM754.1 592.8h13.8v13.8h-13.8zM815.1 633.8h13.8v13.8h-13.8zM876.1 628.4h13.8v13.8h-13.8zM937.1 639.4h13.8v13.8h-13.8zM144.1 362.8h13.8v13.8h-13.8zM205.1 388.7h13.8v13.8h-13.8zM266.1 392.3h13.8v13.8h-13.8zM327.1 415.6h13.8v13.8h-13.8zM388.1 470h13.8v13.8h-13.8zM449.1 493.2h13.8v13.8h-13.8zM510.1 516.7h13.8v13.8h-13.8zM571.1 550.5h13.8v13.8h-13.8zM632.1 571.8h13.8v13.8h-13.8zM693.1 590.5h13.8v13.8h-13.8zM754.1 618.4h13.8v13.8h-13.8zM815.1 643h13.8v13.8h-13.8zM876.1 652.4h13.8v13.8h-13.8zM937.1 664.8h13.8v13.8h-13.8zM144.1 386.7h13.8v13.8h-13.8zM205.1 405.1h13.8v13.8h-13.8zM266.1 402.7h13.8v13.8h-13.8zM327.1 434.2h13.8v13.8h-13.8zM388.1 479.7h13.8v13.8h-13.8zM449.1 506.1h13.8v13.8h-13.8zM510.1 529.2h13.8v13.8h-13.8zM571.1 564.5h13.8v13.8h-13.8zM632.1 598.6h13.8v13.8h-13.8zM693.1 613.4h13.8v13.8h-13.8zM754.1 648.5h13.8v13.8h-13.8zM815.1 670.1h13.8v13.8h-13.8zM876.1 678.7h13.8v13.8h-13.8zM937.1 680h13.8v13.8h-13.8zM144.1 370.1h13.8v13.8h-13.8zM205.1 410.9h13.8v13.8h-13.8zM266.1 404.5h13.8v13.8h-13.8zM327.1 433.3h13.8v13.8h-13.8zM388.1 486.9h13.8v13.8h-13.8zM449.1 506.4h13.8v13.8h-13.8zM510.1 529.7h13.8v13.8h-13.8zM571.1 557.6h13.8v13.8h-13.8zM632.1 585h13.8v13.8h-13.8zM693.1 597.2h13.8v13.8h-13.8zM754.1 628.7h13.8v13.8h-13.8zM815.1 665.3h13.8v13.8h-13.8zM876.1 668.6h13.8v13.8h-13.8zM937.1 677.9h13.8v13.8h-13.8zM144.1 335.9h13.8v13.8h-13.8zM205.1 355.2h13.8v13.8h-13.8zM266.1 362.9h13.8v13.8h-13.8zM327.1 398.5h13.8v13.8h-13.8zM388.1 453.2h13.8v13.8h-13.8zM449.1 481.8h13.8v13.8h-13.8zM510.1 496.3h13.8v13.8h-13.8zM571.1 529.8h13.8v13.8h-13.8zM632.1 536h13.8v13.8h-13.8zM693.1 558.9h13.8v13.8h-13.8zM754.1 585.3h13.8v13.8h-13.8zM815.1 619.2h13.8v13.8h-13.8zM876.1 616.7h13.8v13.8h-13.8zM937.1 637.8h13.8v13.8h-13.8zM144.1 342.1h13.8v13.8h-13.8zM205.1 376.7h13.8v13.8h-13.8zM266.1 378.7h13.8v13.8h-13.8zM327.1 413.8h13.8v13.8h-13.8zM388.1 464.6h13.8v13.8h-13.8zM449.1 485.5h13.8v13.8h-13.8zM510.1 514.3h13.8v13.8h-13.8zM571.1 545.1h13.8v13.8h-13.8zM632.1 550.1h13.8v13.8h-13.8zM693.1 571.8h13.8v13.8h-13.8zM754.1 600.6h13.8v13.8h-13.8zM815.1 634.7h13.8v13.8h-13.8zM876.1 639.9h13.8v13.8h-13.8zM937.1 652.1h13.8v13.8h-13.8zM144.1 269.3h13.8v13.8h-13.8zM205.1 296.3h13.8v13.8h-13.8zM266.1 302.3h13.8v13.8h-13.8zM327.1 352.4h13.8v13.8h-13.8zM388.1 413.7h13.8v13.8h-13.8zM449.1 443.8h13.8v13.8h-13.8zM510.1 465.2h13.8v13.8h-13.8zM571.1 487.1h13.8v13.8h-13.8zM632.1 499.3h13.8v13.8h-13.8zM693.1 525.7h13.8v13.8h-13.8zM754.1 536.3h13.8v13.8h-13.8zM815.1 571.6h13.8v13.8h-13.8zM876.1 558.7h13.8v13.8h-13.8zM937.1 587.6h13.8v13.8h-13.8zM144.1 132.7h13.8v13.8h-13.8zM205.1 158.2h13.8v13.8h-13.8zM266.1 198.1h13.8v13.8h-13.8zM327.1 229.4h13.8v13.8h-13.8zM388.1 283.2h13.8v13.8h-13.8zM449.1 292.9h13.8v13.8h-13.8zM510.1 321.1h13.8v13.8h-13.8zM571.1 342.8h13.8v13.8h-13.8zM632.1 371.9h13.8v13.8h-13.8zM693.1 393.2h13.8v13.8h-13.8zM754.1 411.6h13.8v13.8h-13.8zM815.1 443.1h13.8v13.8h-13.8zM876.1 458.7h13.8v13.8h-13.8zM937.1 454.8h13.8v13.8h-13.8zM144.1 117.5h13.8v13.8h-13.8zM205.1 142.9h13.8v13.8h-13.8zM266.1 180.2h13.8v13.8h-13.8zM327.1 197.3h13.8v13.8h-13.8zM388.1 265.9h13.8v13.8h-13.8zM449.1 297h13.8v13.8h-13.8zM510.1 303.2h13.8v13.8h-13.8zM571.1 329.9h13.8v13.8h-13.8zM632.1 371.7h13.8v13.8h-13.8zM693.1 381.6h13.8v13.8h-13.8zM754.1 397.4h13.8v13.8h-13.8zM815.1 429.6h13.8v13.8h-13.8zM876.1 435.2h13.8v13.8h-13.8zM937.1 452.8h13.8v13.8h-13.8zM144.1 259.2h13.8v13.8h-13.8zM205.1 270.2h13.8v13.8h-13.8zM266.1 297h13.8v13.8h-13.8zM327.1 319h13.8v13.8h-13.8zM388.1 387.4h13.8v13.8h-13.8zM449.1 428.7h13.8v13.8h-13.8zM510.1 436h13.8v13.8h-13.8zM571.1 470.6h13.8v13.8h-13.8zM632.1 485.3h13.8v13.8h-13.8zM693.1 503.9h13.8v13.8h-13.8zM754.1 519.8h13.8v13.8h-13.8zM815.1 542.8h13.8v13.8h-13.8zM876.1 551.9h13.8v13.8h-13.8zM937.1 570.8h13.8v13.8h-13.8zM144.1 187.2h13.8v13.8h-13.8zM205.1 207.5h13.8v13.8h-13.8zM266.1 241.8h13.8v13.8h-13.8zM327.1 271.4h13.8v13.8h-13.8zM388.1 331.8h13.8v13.8h-13.8zM449.1 348.6h13.8v13.8h-13.8zM510.1 369.8h13.8v13.8h-13.8zM571.1 412.2h13.8v13.8h-13.8zM632.1 408.9h13.8v13.8h-13.8zM693.1 444.7h13.8v13.8h-13.8zM754.1 460h13.8v13.8h-13.8zM815.1 501.5h13.8v13.8h-13.8zM876.1 489.7h13.8v13.8h-13.8zM937.1 511.1h13.8v13.8h-13.8zM144.1 188h13.8v13.8h-13.8zM205.1 208.1h13.8v13.8h-13.8zM266.1 232.1h13.8v13.8h-13.8zM327.1 264.9h13.8v13.8h-13.8zM388.1 316.8h13.8v13.8h-13.8zM449.1 339.6h13.8v13.8h-13.8zM510.1 359.7h13.8v13.8h-13.8zM571.1 398.7h13.8v13.8h-13.8zM632.1 420h13.8v13.8h-13.8zM693.1 437.7h13.8v13.8h-13.8zM754.1 458h13.8v13.8h-13.8zM815.1 482h13.8v13.8h-13.8zM876.1 501.6h13.8v13.8h-13.8zM937.1 505.1h13.8v13.8h-13.8zM144.1 245.1h13.8v13.8h-13.8zM205.1 258.1h13.8v13.8h-13.8zM266.1 294.7h13.8v13.8h-13.8zM327.1 310.9h13.8v13.8h-13.8zM388.1 382.6h13.8v13.8h-13.8zM449.1 400h13.8v13.8h-13.8zM510.1 429.6h13.8v13.8h-13.8zM571.1 450.1h13.8v13.8h-13.8zM632.1 452.5h13.8v13.8h-13.8zM693.1 476.1h13.8v13.8h-13.8zM754.1 506.1h13.8v13.8h-13.8zM815.1 528.9h13.8v13.8h-13.8zM876.1 543.6h13.8v13.8h-13.8zM937.1 558.8h13.8v13.8h-13.8zM144.1 165h13.8v13.8h-13.8zM205.1 166.9h13.8v13.8h-13.8zM266.1 209.5h13.8v13.8h-13.8zM327.1 239.5h13.8v13.8h-13.8zM388.1 285h13.8v13.8h-13.8zM449.1 325.8h13.8v13.8h-13.8zM510.1 324.1h13.8v13.8h-13.8zM571.1 381.9h13.8v13.8h-13.8zM632.1 389.8h13.8v13.8h-13.8zM693.1 403.8h13.8v13.8h-13.8zM754.1 435h13.8v13.8h-13.8zM815.1 464h13.8v13.8h-13.8zM876.1 447.8h13.8v13.8h-13.8zM937.1 492.4h13.8v13.8h-13.8zM144.1 294.3h13.8v13.8h-13.8zM205.1 322.8h13.8v13.8h-13.8zM266.1 324h13.8v13.8h-13.8zM327.1 366.2h13.8v13.8h-13.8zM388.1 423.7h13.8v13.8h-13.8zM449.1 440.7h13.8v13.8h-13.8zM510.1 475.6h13.8v13.8h-13.8zM571.1 499.4h13.8v13.8h-13.8zM632.1 509.5h13.8v13.8h-13.8zM693.1 536.3h13.8v13.8h-13.8zM754.1 553.3h13.8v13.8h-13.8zM815.1 582.2h13.8v13.8h-13.8zM876.1 576.4h13.8v13.8h-13.8zM937.1 602h13.8v13.8h-13.8zM144.1 210.2h13.8v13.8h-13.8zM205.1 234.8h13.8v13.8h-13.8zM266.1 261.9h13.8v13.8h-13.8zM327.1 303.1h13.8v13.8h-13.8zM388.1 342.8h13.8v13.8h-13.8zM449.1 380.9h13.8v13.8h-13.8zM510.1 387.6h13.8v13.8h-13.8zM571.1 414.9h13.8v13.8h-13.8zM632.1 429.3h13.8v13.8h-13.8zM693.1 467.7h13.8v13.8h-13.8zM754.1 468.4h13.8v13.8h-13.8zM815.1 514.2h13.8v13.8h-13.8zM876.1 532.4h13.8v13.8h-13.8zM937.1 540.1h13.8v13.8h-13.8z" fill="#fff" stroke="#d3c3e8" stroke-width="1.3"/>
<path d="M151 438.8L212 456.2 273 442.8 334 431 395 441.4 456 454.9 517 453.3 578 429.8 639 432.5 700 428.9 761 414.4 822 405 883 407.3 944 404.6M151 427.1L212 423.8 273 428.7 334 418.8 395 438 456 448.7 517 432.9 578 431.3 639 414.5 700 407.9 761 398.9 822 406.2 883 408.9 944 399.7M151 418.3L212 407.7 273 406.4 334 396.8 395 432.9 456 433.2 517 426 578 416 639 398.2 700 400.9 761 383.6 822 399 883 398.5 944 388.6M151 428.5L212 406.9 273 390.9 334 397.3 395 418.3 456 424.8 517 410.3 578 404 639 397.7 700 394.4 761 388.5 822 379.6 883 387.1 944 382.8M151 537.1L212 535.6 273 522.6 334 495.4 395 494.1 456 509.5 517 496.4 578 480.6 639 480.9 700 470.7 761 459.2 822 452.6 883 433.6 944 451.8M151 555.9L212 543.3 273 537.2 334 517.4 395 498.5 456 510.2 517 517.1 578 494.4 639 488.2 700 475.7 761 466.6 822 463.5 883 458.4 944 441.4M151 496L212 505.9 273 496.2 334 467 395 472.9 456 474.5 517 478.7 578 458.2 639 449.9 700 449.5 761 449.5 822 428.2 883 427.3 944 428.1M151 566.9L212 561.8 273 550.2 334 525.2 395 513.1 456 527.6 517 518.9 578 514.7 639 502.2 700 481.2 761 482.3 822 457.6 883 453.8 944 456.3M151 445L212 450.4 273 434.4 334 418.3 395 444.8 456 451.4 517 428.6 578 423.5 639 420.6 700 406.8 761 402.3 822 409.9 883 402.6 944 400M151 486.9L212 494.7 273 486.2 334 458.7 395 469.9 456 477 517 466 578 449.6 639 447.4 700 466.1 761 423 822 437.3 883 417.1 944 425M151 484.3L212 487 273 479 334 465.1 395 466.2 456 477.5 517 460.4 578 445 639 443.8 700 428.6 761 427.8 822 420.8 883 418.8 944 420.3M151 526L212 513.9 273 483.2 334 481.1 395 477 456 493.8 517 499.3 578 470.5 639 476.2 700 453.7 761 439.9 822 445.3 883 436.2 944 435.9M151 450.9L212 460.5 273 454.2 334 449.3 395 450 456 455.7 517 458 578 447.1 639 439.3 700 430.4 761 428.6 822 420.1 883 412 944 409.9M151 564.4L212 561.6 273 554.8 334 519 395 493 456 514.1 517 513.3 578 495 639 496.7 700 479.1 761 473.6 822 461 883 465 944 453.7M151 487.4L212 465.2 273 453.3 334 440.5 395 458.3 456 449.6 517 446.7 578 441.8 639 425.5 700 430.9 761 418.2 822 421.5 883 416.3 944 413.4M151 418.9L212 425.8 273 418.3 334 415.7 395 435.6 456 432.6 517 433 578 418.1 639 415.3 700 411.1 761 399.2 822 406.7 883 392.4 944 395.4M151 516.7L212 519.8 273 488.9 334 483.9 395 468.6 456 492.6 517 486.1 578 466.4 639 468.4 700 462.3 761 446.9 822 442.2 883 433.9 944 424.1M151 546.9L212 525.7 273 495.3 334 490.3 395 480.8 456 504.9 517 489.5 578 488 639 474.1 700 465.8 761 455.8 822 448.5 883 439.7 944 438.6M151 531.4L212 510.4 273 486.4 334 478.4 395 473.2 456 486.9 517 472.4 578 464.9 639 454.6 700 452.7 761 443.7 822 448.1 883 431.3 944 427.1M151 576.2L212 533.3 273 553.3 334 525.5 395 513.8 456 508.4 517 514.1 578 498.8 639 481.8 700 486.9 761 473.2 822 470.3 883 463.7 944 444.8M151 525.3L212 523.1 273 515.2 334 503.8 395 491.8 456 514.5 517 477.4 578 487.2 639 467.8 700 461.7 761 450.1 822 448.4 883 447.5 944 431.5M151 420L212 431.9 273 434 334 421.4 395 429.6 456 452 517 416.9 578 422.1 639 418.7 700 390.5 761 396.9 822 386.2 883 394.4 944 400.7M151 534.7L212 537.9 273 527.3 334 508.7 395 488.3 456 503.4 517 506.2 578 484.5 639 477.1 700 469.4 761 472 822 448.7 883 452.4 944 432.7M151 397.9L212 411.7 273 408.8 334 405.3 395 415.4 456 428.4 517 426.1 578 395.6 639 398.2 700 392.4 761 394.2 822 391.2 883 395.5 944 392.5M151 421.7L212 399.1 273 426.7 334 394 395 426.7 456 424.4 517 415.2 578 413 639 406.1 700 395.7 761 390.6 822 388.2 883 390.4 944 389.7M151 443.3L212 440.9 273 461.2 334 441.2 395 446.6 456 461 517 431.7 578 455.2 639 419.4 700 429.2 761 407.6 822 412.7 883 411.5 944 413M151 444.6L212 431.7 273 427.3 334 430.1 395 450.4 456 456 517 444.1 578 430.8 639 417.5 700 414.8 761 413.7 822 407.6 883 394 944 400.8M151 555.9L212 538.3 273 518.7 334 508 395 499.3 456 513.1 517 500.5 578 489.2 639 485.4 700 485.7 761 462.1 822 454.9 883 447.9 944 456.2M151 475.7L212 487.3 273 456.5 334 475.4 395 466.1 456 469.1 517 471.8 578 457.5 639 446.3 700 440 761 424.3 822 425.6 883 405.4 944 420.6M151 519L212 530.5 273 493.4 334 494.9 395 487.2 456 504.7 517 500.9 578 476.5 639 474.9 700 458.5 761 460.1 822 455.1 883 441.4 944 436.9M151 467.7L212 479.4 273 464.1 334 445.2 395 454.8 456 470.8 517 462.2 578 445.7 639 445.2 700 441.3 761 422.3 822 417.9 883 403.5 944 404.5M151 491.4L212 481.7 273 479.6 334 460.4 395 473.2 456 473.9 517 465.1 578 467.6 639 456 700 440.2 761 433.3 822 436.7 883 427.6 944 422.4" fill="none" stroke="#c3ecd8" stroke-width="1.2" stroke-linejoin="round" />
<path d="M143.2 438.8a7.8 7.8 0 1 0 15.6 0a7.8 7.8 0 1 0 -15.6 0zM204.2 456.2a7.8 7.8 0 1 0 15.6 0a7.8 7.8 0 1 0 -15.6 0zM265.2 442.8a7.8 7.8 0 1 0 15.6 0a7.8 7.8 0 1 0 -15.6 0zM326.2 431a7.8 7.8 0 1 0 15.6 0a7.8 7.8 0 1 0 -15.6 0zM387.2 441.4a7.8 7.8 0 1 0 15.6 0a7.8 7.8 0 1 0 -15.6 0zM448.2 454.9a7.8 7.8 0 1 0 15.6 0a7.8 7.8 0 1 0 -15.6 0zM509.2 453.3a7.8 7.8 0 1 0 15.6 0a7.8 7.8 0 1 0 -15.6 0zM570.2 429.8a7.8 7.8 0 1 0 15.6 0a7.8 7.8 0 1 0 -15.6 0zM631.2 432.5a7.8 7.8 0 1 0 15.6 0a7.8 7.8 0 1 0 -15.6 0zM692.2 428.9a7.8 7.8 0 1 0 15.6 0a7.8 7.8 0 1 0 -15.6 0zM753.2 414.4a7.8 7.8 0 1 0 15.6 0a7.8 7.8 0 1 0 -15.6 0zM814.2 405a7.8 7.8 0 1 0 15.6 0a7.8 7.8 0 1 0 -15.6 0zM875.2 407.3a7.8 7.8 0 1 0 15.6 0a7.8 7.8 0 1 0 -15.6 0zM936.2 404.6a7.8 7.8 0 1 0 15.6 0a7.8 7.8 0 1 0 -15.6 0zM143.2 427.1a7.8 7.8 0 1 0 15.6 0a7.8 7.8 0 1 0 -15.6 0zM204.2 423.8a7.8 7.8 0 1 0 15.6 0a7.8 7.8 0 1 0 -15.6 0zM265.2 428.7a7.8 7.8 0 1 0 15.6 0a7.8 7.8 0 1 0 -15.6 0zM326.2 418.8a7.8 7.8 0 1 0 15.6 0a7.8 7.8 0 1 0 -15.6 0zM387.2 438a7.8 7.8 0 1 0 15.6 0a7.8 7.8 0 1 0 -15.6 0zM448.2 448.7a7.8 7.8 0 1 0 15.6 0a7.8 7.8 0 1 0 -15.6 0zM509.2 432.9a7.8 7.8 0 1 0 15.6 0a7.8 7.8 0 1 0 -15.6 0zM570.2 431.3a7.8 7.8 0 1 0 15.6 0a7.8 7.8 0 1 0 -15.6 0zM631.2 414.5a7.8 7.8 0 1 0 15.6 0a7.8 7.8 0 1 0 -15.6 0zM692.2 407.9a7.8 7.8 0 1 0 15.6 0a7.8 7.8 0 1 0 -15.6 0zM753.2 398.9a7.8 7.8 0 1 0 15.6 0a7.8 7.8 0 1 0 -15.6 0zM814.2 406.2a7.8 7.8 0 1 0 15.6 0a7.8 7.8 0 1 0 -15.6 0zM875.2 408.9a7.8 7.8 0 1 0 15.6 0a7.8 7.8 0 1 0 -15.6 0zM936.2 399.7a7.8 7.8 0 1 0 15.6 0a7.8 7.8 0 1 0 -15.6 0zM143.2 418.3a7.8 7.8 0 1 0 15.6 0a7.8 7.8 0 1 0 -15.6 0zM204.2 407.7a7.8 7.8 0 1 0 15.6 0a7.8 7.8 0 1 0 -15.6 0zM265.2 406.4a7.8 7.8 0 1 0 15.6 0a7.8 7.8 0 1 0 -15.6 0zM326.2 396.8a7.8 7.8 0 1 0 15.6 0a7.8 7.8 0 1 0 -15.6 0zM387.2 432.9a7.8 7.8 0 1 0 15.6 0a7.8 7.8 0 1 0 -15.6 0zM448.2 433.2a7.8 7.8 0 1 0 15.6 0a7.8 7.8 0 1 0 -15.6 0zM509.2 426a7.8 7.8 0 1 0 15.6 0a7.8 7.8 0 1 0 -15.6 0zM570.2 416a7.8 7.8 0 1 0 15.6 0a7.8 7.8 0 1 0 -15.6 0zM631.2 398.2a7.8 7.8 0 1 0 15.6 0a7.8 7.8 0 1 0 -15.6 0zM692.2 400.9a7.8 7.8 0 1 0 15.6 0a7.8 7.8 0 1 0 -15.6 0zM753.2 383.6a7.8 7.8 0 1 0 15.6 0a7.8 7.8 0 1 0 -15.6 0zM814.2 399a7.8 7.8 0 1 0 15.6 0a7.8 7.8 0 1 0 -15.6 0zM875.2 398.5a7.8 7.8 0 1 0 15.6 0a7.8 7.8 0 1 0 -15.6 0zM936.2 388.6a7.8 7.8 0 1 0 15.6 0a7.8 7.8 0 1 0 -15.6 0zM143.2 428.5a7.8 7.8 0 1 0 15.6 0a7.8 7.8 0 1 0 -15.6 0zM204.2 406.9a7.8 7.8 0 1 0 15.6 0a7.8 7.8 0 1 0 -15.6 0zM265.2 390.9a7.8 7.8 0 1 0 15.6 0a7.8 7.8 0 1 0 -15.6 0zM326.2 397.3a7.8 7.8 0 1 0 15.6 0a7.8 7.8 0 1 0 -15.6 0zM387.2 418.3a7.8 7.8 0 1 0 15.6 0a7.8 7.8 0 1 0 -15.6 0zM448.2 424.8a7.8 7.8 0 1 0 15.6 0a7.8 7.8 0 1 0 -15.6 0zM509.2 410.3a7.8 7.8 0 1 0 15.6 0a7.8 7.8 0 1 0 -15.6 0zM570.2 404a7.8 7.8 0 1 0 15.6 0a7.8 7.8 0 1 0 -15.6 0zM631.2 397.7a7.8 7.8 0 1 0 15.6 0a7.8 7.8 0 1 0 -15.6 0zM692.2 394.4a7.8 7.8 0 1 0 15.6 0a7.8 7.8 0 1 0 -15.6 0zM753.2 388.5a7.8 7.8 0 1 0 15.6 0a7.8 7.8 0 1 0 -15.6 0zM814.2 379.6a7.8 7.8 0 1 0 15.6 0a7.8 7.8 0 1 0 -15.6 0zM875.2 387.1a7.8 7.8 0 1 0 15.6 0a7.8 7.8 0 1 0 -15.6 0zM936.2 382.8a7.8 7.8 0 1 0 15.6 0a7.8 7.8 0 1 0 -15.6 0zM143.2 537.1a7.8 7.8 0 1 0 15.6 0a7.8 7.8 0 1 0 -15.6 0zM204.2 535.6a7.8 7.8 0 1 0 15.6 0a7.8 7.8 0 1 0 -15.6 0zM265.2 522.6a7.8 7.8 0 1 0 15.6 0a7.8 7.8 0 1 0 -15.6 0zM326.2 495.4a7.8 7.8 0 1 0 15.6 0a7.8 7.8 0 1 0 -15.6 0zM387.2 494.1a7.8 7.8 0 1 0 15.6 0a7.8 7.8 0 1 0 -15.6 0zM448.2 509.5a7.8 7.8 0 1 0 15.6 0a7.8 7.8 0 1 0 -15.6 0zM509.2 496.4a7.8 7.8 0 1 0 15.6 0a7.8 7.8 0 1 0 -15.6 0zM570.2 480.6a7.8 7.8 0 1 0 15.6 0a7.8 7.8 0 1 0 -15.6 0zM631.2 480.9a7.8 7.8 0 1 0 15.6 0a7.8 7.8 0 1 0 -15.6 0zM692.2 470.7a7.8 7.8 0 1 0 15.6 0a7.8 7.8 0 1 0 -15.6 0zM753.2 459.2a7.8 7.8 0 1 0 15.6 0a7.8 7.8 0 1 0 -15.6 0zM814.2 452.6a7.8 7.8 0 1 0 15.6 0a7.8 7.8 0 1 0 -15.6 0zM875.2 433.6a7.8 7.8 0 1 0 15.6 0a7.8 7.8 0 1 0 -15.6 0zM936.2 451.8a7.8 7.8 0 1 0 15.6 0a7.8 7.8 0 1 0 -15.6 0zM143.2 555.9a7.8 7.8 0 1 0 15.6 0a7.8 7.8 0 1 0 -15.6 0zM204.2 543.3a7.8 7.8 0 1 0 15.6 0a7.8 7.8 0 1 0 -15.6 0zM265.2 537.2a7.8 7.8 0 1 0 15.6 0a7.8 7.8 0 1 0 -15.6 0zM326.2 517.4a7.8 7.8 0 1 0 15.6 0a7.8 7.8 0 1 0 -15.6 0zM387.2 498.5a7.8 7.8 0 1 0 15.6 0a7.8 7.8 0 1 0 -15.6 0zM448.2 510.2a7.8 7.8 0 1 0 15.6 0a7.8 7.8 0 1 0 -15.6 0zM509.2 517.1a7.8 7.8 0 1 0 15.6 0a7.8 7.8 0 1 0 -15.6 0zM570.2 494.4a7.8 7.8 0 1 0 15.6 0a7.8 7.8 0 1 0 -15.6 0zM631.2 488.2a7.8 7.8 0 1 0 15.6 0a7.8 7.8 0 1 0 -15.6 0zM692.2 475.7a7.8 7.8 0 1 0 15.6 0a7.8 7.8 0 1 0 -15.6 0zM753.2 466.6a7.8 7.8 0 1 0 15.6 0a7.8 7.8 0 1 0 -15.6 0zM814.2 463.5a7.8 7.8 0 1 0 15.6 0a7.8 7.8 0 1 0 -15.6 0zM875.2 458.4a7.8 7.8 0 1 0 15.6 0a7.8 7.8 0 1 0 -15.6 0zM936.2 441.4a7.8 7.8 0 1 0 15.6 0a7.8 7.8 0 1 0 -15.6 0zM143.2 496a7.8 7.8 0 1 0 15.6 0a7.8 7.8 0 1 0 -15.6 0zM204.2 505.9a7.8 7.8 0 1 0 15.6 0a7.8 7.8 0 1 0 -15.6 0zM265.2 496.2a7.8 7.8 0 1 0 15.6 0a7.8 7.8 0 1 0 -15.6 0zM326.2 467a7.8 7.8 0 1 0 15.6 0a7.8 7.8 0 1 0 -15.6 0zM387.2 472.9a7.8 7.8 0 1 0 15.6 0a7.8 7.8 0 1 0 -15.6 0zM448.2 474.5a7.8 7.8 0 1 0 15.6 0a7.8 7.8 0 1 0 -15.6 0zM509.2 478.7a7.8 7.8 0 1 0 15.6 0a7.8 7.8 0 1 0 -15.6 0zM570.2 458.2a7.8 7.8 0 1 0 15.6 0a7.8 7.8 0 1 0 -15.6 0zM631.2 449.9a7.8 7.8 0 1 0 15.6 0a7.8 7.8 0 1 0 -15.6 0zM692.2 449.5a7.8 7.8 0 1 0 15.6 0a7.8 7.8 0 1 0 -15.6 0zM753.2 449.5a7.8 7.8 0 1 0 15.6 0a7.8 7.8 0 1 0 -15.6 0zM814.2 428.2a7.8 7.8 0 1 0 15.6 0a7.8 7.8 0 1 0 -15.6 0zM875.2 427.3a7.8 7.8 0 1 0 15.6 0a7.8 7.8 0 1 0 -15.6 0zM936.2 428.1a7.8 7.8 0 1 0 15.6 0a7.8 7.8 0 1 0 -15.6 0zM143.2 566.9a7.8 7.8 0 1 0 15.6 0a7.8 7.8 0 1 0 -15.6 0zM204.2 561.8a7.8 7.8 0 1 0 15.6 0a7.8 7.8 0 1 0 -15.6 0zM265.2 550.2a7.8 7.8 0 1 0 15.6 0a7.8 7.8 0 1 0 -15.6 0zM326.2 525.2a7.8 7.8 0 1 0 15.6 0a7.8 7.8 0 1 0 -15.6 0zM387.2 513.1a7.8 7.8 0 1 0 15.6 0a7.8 7.8 0 1 0 -15.6 0zM448.2 527.6a7.8 7.8 0 1 0 15.6 0a7.8 7.8 0 1 0 -15.6 0zM509.2 518.9a7.8 7.8 0 1 0 15.6 0a7.8 7.8 0 1 0 -15.6 0zM570.2 514.7a7.8 7.8 0 1 0 15.6 0a7.8 7.8 0 1 0 -15.6 0zM631.2 502.2a7.8 7.8 0 1 0 15.6 0a7.8 7.8 0 1 0 -15.6 0zM692.2 481.2a7.8 7.8 0 1 0 15.6 0a7.8 7.8 0 1 0 -15.6 0zM753.2 482.3a7.8 7.8 0 1 0 15.6 0a7.8 7.8 0 1 0 -15.6 0zM814.2 457.6a7.8 7.8 0 1 0 15.6 0a7.8 7.8 0 1 0 -15.6 0zM875.2 453.8a7.8 7.8 0 1 0 15.6 0a7.8 7.8 0 1 0 -15.6 0zM936.2 456.3a7.8 7.8 0 1 0 15.6 0a7.8 7.8 0 1 0 -15.6 0zM143.2 445a7.8 7.8 0 1 0 15.6 0a7.8 7.8 0 1 0 -15.6 0zM204.2 450.4a7.8 7.8 0 1 0 15.6 0a7.8 7.8 0 1 0 -15.6 0zM265.2 434.4a7.8 7.8 0 1 0 15.6 0a7.8 7.8 0 1 0 -15.6 0zM326.2 418.3a7.8 7.8 0 1 0 15.6 0a7.8 7.8 0 1 0 -15.6 0zM387.2 444.8a7.8 7.8 0 1 0 15.6 0a7.8 7.8 0 1 0 -15.6 0zM448.2 451.4a7.8 7.8 0 1 0 15.6 0a7.8 7.8 0 1 0 -15.6 0zM509.2 428.6a7.8 7.8 0 1 0 15.6 0a7.8 7.8 0 1 0 -15.6 0zM570.2 423.5a7.8 7.8 0 1 0 15.6 0a7.8 7.8 0 1 0 -15.6 0zM631.2 420.6a7.8 7.8 0 1 0 15.6 0a7.8 7.8 0 1 0 -15.6 0zM692.2 406.8a7.8 7.8 0 1 0 15.6 0a7.8 7.8 0 1 0 -15.6 0zM753.2 402.3a7.8 7.8 0 1 0 15.6 0a7.8 7.8 0 1 0 -15.6 0zM814.2 409.9a7.8 7.8 0 1 0 15.6 0a7.8 7.8 0 1 0 -15.6 0zM875.2 402.6a7.8 7.8 0 1 0 15.6 0a7.8 7.8 0 1 0 -15.6 0zM936.2 400a7.8 7.8 0 1 0 15.6 0a7.8 7.8 0 1 0 -15.6 0zM143.2 486.9a7.8 7.8 0 1 0 15.6 0a7.8 7.8 0 1 0 -15.6 0zM204.2 494.7a7.8 7.8 0 1 0 15.6 0a7.8 7.8 0 1 0 -15.6 0zM265.2 486.2a7.8 7.8 0 1 0 15.6 0a7.8 7.8 0 1 0 -15.6 0zM326.2 458.7a7.8 7.8 0 1 0 15.6 0a7.8 7.8 0 1 0 -15.6 0zM387.2 469.9a7.8 7.8 0 1 0 15.6 0a7.8 7.8 0 1 0 -15.6 0zM448.2 477a7.8 7.8 0 1 0 15.6 0a7.8 7.8 0 1 0 -15.6 0zM509.2 466a7.8 7.8 0 1 0 15.6 0a7.8 7.8 0 1 0 -15.6 0zM570.2 449.6a7.8 7.8 0 1 0 15.6 0a7.8 7.8 0 1 0 -15.6 0zM631.2 447.4a7.8 7.8 0 1 0 15.6 0a7.8 7.8 0 1 0 -15.6 0zM692.2 466.1a7.8 7.8 0 1 0 15.6 0a7.8 7.8 0 1 0 -15.6 0zM753.2 423a7.8 7.8 0 1 0 15.6 0a7.8 7.8 0 1 0 -15.6 0zM814.2 437.3a7.8 7.8 0 1 0 15.6 0a7.8 7.8 0 1 0 -15.6 0zM875.2 417.1a7.8 7.8 0 1 0 15.6 0a7.8 7.8 0 1 0 -15.6 0zM936.2 425a7.8 7.8 0 1 0 15.6 0a7.8 7.8 0 1 0 -15.6 0zM143.2 484.3a7.8 7.8 0 1 0 15.6 0a7.8 7.8 0 1 0 -15.6 0zM204.2 487a7.8 7.8 0 1 0 15.6 0a7.8 7.8 0 1 0 -15.6 0zM265.2 479a7.8 7.8 0 1 0 15.6 0a7.8 7.8 0 1 0 -15.6 0zM326.2 465.1a7.8 7.8 0 1 0 15.6 0a7.8 7.8 0 1 0 -15.6 0zM387.2 466.2a7.8 7.8 0 1 0 15.6 0a7.8 7.8 0 1 0 -15.6 0zM448.2 477.5a7.8 7.8 0 1 0 15.6 0a7.8 7.8 0 1 0 -15.6 0zM509.2 460.4a7.8 7.8 0 1 0 15.6 0a7.8 7.8 0 1 0 -15.6 0zM570.2 445a7.8 7.8 0 1 0 15.6 0a7.8 7.8 0 1 0 -15.6 0zM631.2 443.8a7.8 7.8 0 1 0 15.6 0a7.8 7.8 0 1 0 -15.6 0zM692.2 428.6a7.8 7.8 0 1 0 15.6 0a7.8 7.8 0 1 0 -15.6 0zM753.2 427.8a7.8 7.8 0 1 0 15.6 0a7.8 7.8 0 1 0 -15.6 0zM814.2 420.8a7.8 7.8 0 1 0 15.6 0a7.8 7.8 0 1 0 -15.6 0zM875.2 418.8a7.8 7.8 0 1 0 15.6 0a7.8 7.8 0 1 0 -15.6 0zM936.2 420.3a7.8 7.8 0 1 0 15.6 0a7.8 7.8 0 1 0 -15.6 0zM143.2 526a7.8 7.8 0 1 0 15.6 0a7.8 7.8 0 1 0 -15.6 0zM204.2 513.9a7.8 7.8 0 1 0 15.6 0a7.8 7.8 0 1 0 -15.6 0zM265.2 483.2a7.8 7.8 0 1 0 15.6 0a7.8 7.8 0 1 0 -15.6 0zM326.2 481.1a7.8 7.8 0 1 0 15.6 0a7.8 7.8 0 1 0 -15.6 0zM387.2 477a7.8 7.8 0 1 0 15.6 0a7.8 7.8 0 1 0 -15.6 0zM448.2 493.8a7.8 7.8 0 1 0 15.6 0a7.8 7.8 0 1 0 -15.6 0zM509.2 499.3a7.8 7.8 0 1 0 15.6 0a7.8 7.8 0 1 0 -15.6 0zM570.2 470.5a7.8 7.8 0 1 0 15.6 0a7.8 7.8 0 1 0 -15.6 0zM631.2 476.2a7.8 7.8 0 1 0 15.6 0a7.8 7.8 0 1 0 -15.6 0zM692.2 453.7a7.8 7.8 0 1 0 15.6 0a7.8 7.8 0 1 0 -15.6 0zM753.2 439.9a7.8 7.8 0 1 0 15.6 0a7.8 7.8 0 1 0 -15.6 0zM814.2 445.3a7.8 7.8 0 1 0 15.6 0a7.8 7.8 0 1 0 -15.6 0zM875.2 436.2a7.8 7.8 0 1 0 15.6 0a7.8 7.8 0 1 0 -15.6 0zM936.2 435.9a7.8 7.8 0 1 0 15.6 0a7.8 7.8 0 1 0 -15.6 0zM143.2 450.9a7.8 7.8 0 1 0 15.6 0a7.8 7.8 0 1 0 -15.6 0zM204.2 460.5a7.8 7.8 0 1 0 15.6 0a7.8 7.8 0 1 0 -15.6 0zM265.2 454.2a7.8 7.8 0 1 0 15.6 0a7.8 7.8 0 1 0 -15.6 0zM326.2 449.3a7.8 7.8 0 1 0 15.6 0a7.8 7.8 0 1 0 -15.6 0zM387.2 450a7.8 7.8 0 1 0 15.6 0a7.8 7.8 0 1 0 -15.6 0zM448.2 455.7a7.8 7.8 0 1 0 15.6 0a7.8 7.8 0 1 0 -15.6 0zM509.2 458a7.8 7.8 0 1 0 15.6 0a7.8 7.8 0 1 0 -15.6 0zM570.2 447.1a7.8 7.8 0 1 0 15.6 0a7.8 7.8 0 1 0 -15.6 0zM631.2 439.3a7.8 7.8 0 1 0 15.6 0a7.8 7.8 0 1 0 -15.6 0zM692.2 430.4a7.8 7.8 0 1 0 15.6 0a7.8 7.8 0 1 0 -15.6 0zM753.2 428.6a7.8 7.8 0 1 0 15.6 0a7.8 7.8 0 1 0 -15.6 0zM814.2 420.1a7.8 7.8 0 1 0 15.6 0a7.8 7.8 0 1 0 -15.6 0zM875.2 412a7.8 7.8 0 1 0 15.6 0a7.8 7.8 0 1 0 -15.6 0zM936.2 409.9a7.8 7.8 0 1 0 15.6 0a7.8 7.8 0 1 0 -15.6 0zM143.2 564.4a7.8 7.8 0 1 0 15.6 0a7.8 7.8 0 1 0 -15.6 0zM204.2 561.6a7.8 7.8 0 1 0 15.6 0a7.8 7.8 0 1 0 -15.6 0zM265.2 554.8a7.8 7.8 0 1 0 15.6 0a7.8 7.8 0 1 0 -15.6 0zM326.2 519a7.8 7.8 0 1 0 15.6 0a7.8 7.8 0 1 0 -15.6 0zM387.2 493a7.8 7.8 0 1 0 15.6 0a7.8 7.8 0 1 0 -15.6 0zM448.2 514.1a7.8 7.8 0 1 0 15.6 0a7.8 7.8 0 1 0 -15.6 0zM509.2 513.3a7.8 7.8 0 1 0 15.6 0a7.8 7.8 0 1 0 -15.6 0zM570.2 495a7.8 7.8 0 1 0 15.6 0a7.8 7.8 0 1 0 -15.6 0zM631.2 496.7a7.8 7.8 0 1 0 15.6 0a7.8 7.8 0 1 0 -15.6 0zM692.2 479.1a7.8 7.8 0 1 0 15.6 0a7.8 7.8 0 1 0 -15.6 0zM753.2 473.6a7.8 7.8 0 1 0 15.6 0a7.8 7.8 0 1 0 -15.6 0zM814.2 461a7.8 7.8 0 1 0 15.6 0a7.8 7.8 0 1 0 -15.6 0zM875.2 465a7.8 7.8 0 1 0 15.6 0a7.8 7.8 0 1 0 -15.6 0zM936.2 453.7a7.8 7.8 0 1 0 15.6 0a7.8 7.8 0 1 0 -15.6 0zM143.2 487.4a7.8 7.8 0 1 0 15.6 0a7.8 7.8 0 1 0 -15.6 0zM204.2 465.2a7.8 7.8 0 1 0 15.6 0a7.8 7.8 0 1 0 -15.6 0zM265.2 453.3a7.8 7.8 0 1 0 15.6 0a7.8 7.8 0 1 0 -15.6 0zM326.2 440.5a7.8 7.8 0 1 0 15.6 0a7.8 7.8 0 1 0 -15.6 0zM387.2 458.3a7.8 7.8 0 1 0 15.6 0a7.8 7.8 0 1 0 -15.6 0zM448.2 449.6a7.8 7.8 0 1 0 15.6 0a7.8 7.8 0 1 0 -15.6 0zM509.2 446.7a7.8 7.8 0 1 0 15.6 0a7.8 7.8 0 1 0 -15.6 0zM570.2 441.8a7.8 7.8 0 1 0 15.6 0a7.8 7.8 0 1 0 -15.6 0zM631.2 425.5a7.8 7.8 0 1 0 15.6 0a7.8 7.8 0 1 0 -15.6 0zM692.2 430.9a7.8 7.8 0 1 0 15.6 0a7.8 7.8 0 1 0 -15.6 0zM753.2 418.2a7.8 7.8 0 1 0 15.6 0a7.8 7.8 0 1 0 -15.6 0zM814.2 421.5a7.8 7.8 0 1 0 15.6 0a7.8 7.8 0 1 0 -15.6 0zM875.2 416.3a7.8 7.8 0 1 0 15.6 0a7.8 7.8 0 1 0 -15.6 0zM936.2 413.4a7.8 7.8 0 1 0 15.6 0a7.8 7.8 0 1 0 -15.6 0zM143.2 418.9a7.8 7.8 0 1 0 15.6 0a7.8 7.8 0 1 0 -15.6 0zM204.2 425.8a7.8 7.8 0 1 0 15.6 0a7.8 7.8 0 1 0 -15.6 0zM265.2 418.3a7.8 7.8 0 1 0 15.6 0a7.8 7.8 0 1 0 -15.6 0zM326.2 415.7a7.8 7.8 0 1 0 15.6 0a7.8 7.8 0 1 0 -15.6 0zM387.2 435.6a7.8 7.8 0 1 0 15.6 0a7.8 7.8 0 1 0 -15.6 0zM448.2 432.6a7.8 7.8 0 1 0 15.6 0a7.8 7.8 0 1 0 -15.6 0zM509.2 433a7.8 7.8 0 1 0 15.6 0a7.8 7.8 0 1 0 -15.6 0zM570.2 418.1a7.8 7.8 0 1 0 15.6 0a7.8 7.8 0 1 0 -15.6 0zM631.2 415.3a7.8 7.8 0 1 0 15.6 0a7.8 7.8 0 1 0 -15.6 0zM692.2 411.1a7.8 7.8 0 1 0 15.6 0a7.8 7.8 0 1 0 -15.6 0zM753.2 399.2a7.8 7.8 0 1 0 15.6 0a7.8 7.8 0 1 0 -15.6 0zM814.2 406.7a7.8 7.8 0 1 0 15.6 0a7.8 7.8 0 1 0 -15.6 0zM875.2 392.4a7.8 7.8 0 1 0 15.6 0a7.8 7.8 0 1 0 -15.6 0zM936.2 395.4a7.8 7.8 0 1 0 15.6 0a7.8 7.8 0 1 0 -15.6 0zM143.2 516.7a7.8 7.8 0 1 0 15.6 0a7.8 7.8 0 1 0 -15.6 0zM204.2 519.8a7.8 7.8 0 1 0 15.6 0a7.8 7.8 0 1 0 -15.6 0zM265.2 488.9a7.8 7.8 0 1 0 15.6 0a7.8 7.8 0 1 0 -15.6 0zM326.2 483.9a7.8 7.8 0 1 0 15.6 0a7.8 7.8 0 1 0 -15.6 0zM387.2 468.6a7.8 7.8 0 1 0 15.6 0a7.8 7.8 0 1 0 -15.6 0zM448.2 492.6a7.8 7.8 0 1 0 15.6 0a7.8 7.8 0 1 0 -15.6 0zM509.2 486.1a7.8 7.8 0 1 0 15.6 0a7.8 7.8 0 1 0 -15.6 0zM570.2 466.4a7.8 7.8 0 1 0 15.6 0a7.8 7.8 0 1 0 -15.6 0zM631.2 468.4a7.8 7.8 0 1 0 15.6 0a7.8 7.8 0 1 0 -15.6 0zM692.2 462.3a7.8 7.8 0 1 0 15.6 0a7.8 7.8 0 1 0 -15.6 0zM753.2 446.9a7.8 7.8 0 1 0 15.6 0a7.8 7.8 0 1 0 -15.6 0zM814.2 442.2a7.8 7.8 0 1 0 15.6 0a7.8 7.8 0 1 0 -15.6 0zM875.2 433.9a7.8 7.8 0 1 0 15.6 0a7.8 7.8 0 1 0 -15.6 0zM936.2 424.1a7.8 7.8 0 1 0 15.6 0a7.8 7.8 0 1 0 -15.6 0zM143.2 546.9a7.8 7.8 0 1 0 15.6 0a7.8 7.8 0 1 0 -15.6 0zM204.2 525.7a7.8 7.8 0 1 0 15.6 0a7.8 7.8 0 1 0 -15.6 0zM265.2 495.3a7.8 7.8 0 1 0 15.6 0a7.8 7.8 0 1 0 -15.6 0zM326.2 490.3a7.8 7.8 0 1 0 15.6 0a7.8 7.8 0 1 0 -15.6 0zM387.2 480.8a7.8 7.8 0 1 0 15.6 0a7.8 7.8 0 1 0 -15.6 0zM448.2 504.9a7.8 7.8 0 1 0 15.6 0a7.8 7.8 0 1 0 -15.6 0zM509.2 489.5a7.8 7.8 0 1 0 15.6 0a7.8 7.8 0 1 0 -15.6 0zM570.2 488a7.8 7.8 0 1 0 15.6 0a7.8 7.8 0 1 0 -15.6 0zM631.2 474.1a7.8 7.8 0 1 0 15.6 0a7.8 7.8 0 1 0 -15.6 0zM692.2 465.8a7.8 7.8 0 1 0 15.6 0a7.8 7.8 0 1 0 -15.6 0zM753.2 455.8a7.8 7.8 0 1 0 15.6 0a7.8 7.8 0 1 0 -15.6 0zM814.2 448.5a7.8 7.8 0 1 0 15.6 0a7.8 7.8 0 1 0 -15.6 0zM875.2 439.7a7.8 7.8 0 1 0 15.6 0a7.8 7.8 0 1 0 -15.6 0zM936.2 438.6a7.8 7.8 0 1 0 15.6 0a7.8 7.8 0 1 0 -15.6 0zM143.2 531.4a7.8 7.8 0 1 0 15.6 0a7.8 7.8 0 1 0 -15.6 0zM204.2 510.4a7.8 7.8 0 1 0 15.6 0a7.8 7.8 0 1 0 -15.6 0zM265.2 486.4a7.8 7.8 0 1 0 15.6 0a7.8 7.8 0 1 0 -15.6 0zM326.2 478.4a7.8 7.8 0 1 0 15.6 0a7.8 7.8 0 1 0 -15.6 0zM387.2 473.2a7.8 7.8 0 1 0 15.6 0a7.8 7.8 0 1 0 -15.6 0zM448.2 486.9a7.8 7.8 0 1 0 15.6 0a7.8 7.8 0 1 0 -15.6 0zM509.2 472.4a7.8 7.8 0 1 0 15.6 0a7.8 7.8 0 1 0 -15.6 0zM570.2 464.9a7.8 7.8 0 1 0 15.6 0a7.8 7.8 0 1 0 -15.6 0zM631.2 454.6a7.8 7.8 0 1 0 15.6 0a7.8 7.8 0 1 0 -15.6 0zM692.2 452.7a7.8 7.8 0 1 0 15.6 0a7.8 7.8 0 1 0 -15.6 0zM753.2 443.7a7.8 7.8 0 1 0 15.6 0a7.8 7.8 0 1 0 -15.6 0zM814.2 448.1a7.8 7.8 0 1 0 15.6 0a7.8 7.8 0 1 0 -15.6 0zM875.2 431.3a7.8 7.8 0 1 0 15.6 0a7.8 7.8 0 1 0 -15.6 0zM936.2 427.1a7.8 7.8 0 1 0 15.6 0a7.8 7.8 0 1 0 -15.6 0zM143.2 576.2a7.8 7.8 0 1 0 15.6 0a7.8 7.8 0 1 0 -15.6 0zM204.2 533.3a7.8 7.8 0 1 0 15.6 0a7.8 7.8 0 1 0 -15.6 0zM265.2 553.3a7.8 7.8 0 1 0 15.6 0a7.8 7.8 0 1 0 -15.6 0zM326.2 525.5a7.8 7.8 0 1 0 15.6 0a7.8 7.8 0 1 0 -15.6 0zM387.2 513.8a7.8 7.8 0 1 0 15.6 0a7.8 7.8 0 1 0 -15.6 0zM448.2 508.4a7.8 7.8 0 1 0 15.6 0a7.8 7.8 0 1 0 -15.6 0zM509.2 514.1a7.8 7.8 0 1 0 15.6 0a7.8 7.8 0 1 0 -15.6 0zM570.2 498.8a7.8 7.8 0 1 0 15.6 0a7.8 7.8 0 1 0 -15.6 0zM631.2 481.8a7.8 7.8 0 1 0 15.6 0a7.8 7.8 0 1 0 -15.6 0zM692.2 486.9a7.8 7.8 0 1 0 15.6 0a7.8 7.8 0 1 0 -15.6 0zM753.2 473.2a7.8 7.8 0 1 0 15.6 0a7.8 7.8 0 1 0 -15.6 0zM814.2 470.3a7.8 7.8 0 1 0 15.6 0a7.8 7.8 0 1 0 -15.6 0zM875.2 463.7a7.8 7.8 0 1 0 15.6 0a7.8 7.8 0 1 0 -15.6 0zM936.2 444.8a7.8 7.8 0 1 0 15.6 0a7.8 7.8 0 1 0 -15.6 0zM143.2 525.3a7.8 7.8 0 1 0 15.6 0a7.8 7.8 0 1 0 -15.6 0zM204.2 523.1a7.8 7.8 0 1 0 15.6 0a7.8 7.8 0 1 0 -15.6 0zM265.2 515.2a7.8 7.8 0 1 0 15.6 0a7.8 7.8 0 1 0 -15.6 0zM326.2 503.8a7.8 7.8 0 1 0 15.6 0a7.8 7.8 0 1 0 -15.6 0zM387.2 491.8a7.8 7.8 0 1 0 15.6 0a7.8 7.8 0 1 0 -15.6 0zM448.2 514.5a7.8 7.8 0 1 0 15.6 0a7.8 7.8 0 1 0 -15.6 0zM509.2 477.4a7.8 7.8 0 1 0 15.6 0a7.8 7.8 0 1 0 -15.6 0zM570.2 487.2a7.8 7.8 0 1 0 15.6 0a7.8 7.8 0 1 0 -15.6 0zM631.2 467.8a7.8 7.8 0 1 0 15.6 0a7.8 7.8 0 1 0 -15.6 0zM692.2 461.7a7.8 7.8 0 1 0 15.6 0a7.8 7.8 0 1 0 -15.6 0zM753.2 450.1a7.8 7.8 0 1 0 15.6 0a7.8 7.8 0 1 0 -15.6 0zM814.2 448.4a7.8 7.8 0 1 0 15.6 0a7.8 7.8 0 1 0 -15.6 0zM875.2 447.5a7.8 7.8 0 1 0 15.6 0a7.8 7.8 0 1 0 -15.6 0zM936.2 431.5a7.8 7.8 0 1 0 15.6 0a7.8 7.8 0 1 0 -15.6 0zM143.2 420a7.8 7.8 0 1 0 15.6 0a7.8 7.8 0 1 0 -15.6 0zM204.2 431.9a7.8 7.8 0 1 0 15.6 0a7.8 7.8 0 1 0 -15.6 0zM265.2 434a7.8 7.8 0 1 0 15.6 0a7.8 7.8 0 1 0 -15.6 0zM326.2 421.4a7.8 7.8 0 1 0 15.6 0a7.8 7.8 0 1 0 -15.6 0zM387.2 429.6a7.8 7.8 0 1 0 15.6 0a7.8 7.8 0 1 0 -15.6 0zM448.2 452a7.8 7.8 0 1 0 15.6 0a7.8 7.8 0 1 0 -15.6 0zM509.2 416.9a7.8 7.8 0 1 0 15.6 0a7.8 7.8 0 1 0 -15.6 0zM570.2 422.1a7.8 7.8 0 1 0 15.6 0a7.8 7.8 0 1 0 -15.6 0zM631.2 418.7a7.8 7.8 0 1 0 15.6 0a7.8 7.8 0 1 0 -15.6 0zM692.2 390.5a7.8 7.8 0 1 0 15.6 0a7.8 7.8 0 1 0 -15.6 0zM753.2 396.9a7.8 7.8 0 1 0 15.6 0a7.8 7.8 0 1 0 -15.6 0zM814.2 386.2a7.8 7.8 0 1 0 15.6 0a7.8 7.8 0 1 0 -15.6 0zM875.2 394.4a7.8 7.8 0 1 0 15.6 0a7.8 7.8 0 1 0 -15.6 0zM936.2 400.7a7.8 7.8 0 1 0 15.6 0a7.8 7.8 0 1 0 -15.6 0zM143.2 534.7a7.8 7.8 0 1 0 15.6 0a7.8 7.8 0 1 0 -15.6 0zM204.2 537.9a7.8 7.8 0 1 0 15.6 0a7.8 7.8 0 1 0 -15.6 0zM265.2 527.3a7.8 7.8 0 1 0 15.6 0a7.8 7.8 0 1 0 -15.6 0zM326.2 508.7a7.8 7.8 0 1 0 15.6 0a7.8 7.8 0 1 0 -15.6 0zM387.2 488.3a7.8 7.8 0 1 0 15.6 0a7.8 7.8 0 1 0 -15.6 0zM448.2 503.4a7.8 7.8 0 1 0 15.6 0a7.8 7.8 0 1 0 -15.6 0zM509.2 506.2a7.8 7.8 0 1 0 15.6 0a7.8 7.8 0 1 0 -15.6 0zM570.2 484.5a7.8 7.8 0 1 0 15.6 0a7.8 7.8 0 1 0 -15.6 0zM631.2 477.1a7.8 7.8 0 1 0 15.6 0a7.8 7.8 0 1 0 -15.6 0zM692.2 469.4a7.8 7.8 0 1 0 15.6 0a7.8 7.8 0 1 0 -15.6 0zM753.2 472a7.8 7.8 0 1 0 15.6 0a7.8 7.8 0 1 0 -15.6 0zM814.2 448.7a7.8 7.8 0 1 0 15.6 0a7.8 7.8 0 1 0 -15.6 0zM875.2 452.4a7.8 7.8 0 1 0 15.6 0a7.8 7.8 0 1 0 -15.6 0zM936.2 432.7a7.8 7.8 0 1 0 15.6 0a7.8 7.8 0 1 0 -15.6 0zM143.2 397.9a7.8 7.8 0 1 0 15.6 0a7.8 7.8 0 1 0 -15.6 0zM204.2 411.7a7.8 7.8 0 1 0 15.6 0a7.8 7.8 0 1 0 -15.6 0zM265.2 408.8a7.8 7.8 0 1 0 15.6 0a7.8 7.8 0 1 0 -15.6 0zM326.2 405.3a7.8 7.8 0 1 0 15.6 0a7.8 7.8 0 1 0 -15.6 0zM387.2 415.4a7.8 7.8 0 1 0 15.6 0a7.8 7.8 0 1 0 -15.6 0zM448.2 428.4a7.8 7.8 0 1 0 15.6 0a7.8 7.8 0 1 0 -15.6 0zM509.2 426.1a7.8 7.8 0 1 0 15.6 0a7.8 7.8 0 1 0 -15.6 0zM570.2 395.6a7.8 7.8 0 1 0 15.6 0a7.8 7.8 0 1 0 -15.6 0zM631.2 398.2a7.8 7.8 0 1 0 15.6 0a7.8 7.8 0 1 0 -15.6 0zM692.2 392.4a7.8 7.8 0 1 0 15.6 0a7.8 7.8 0 1 0 -15.6 0zM753.2 394.2a7.8 7.8 0 1 0 15.6 0a7.8 7.8 0 1 0 -15.6 0zM814.2 391.2a7.8 7.8 0 1 0 15.6 0a7.8 7.8 0 1 0 -15.6 0zM875.2 395.5a7.8 7.8 0 1 0 15.6 0a7.8 7.8 0 1 0 -15.6 0zM936.2 392.5a7.8 7.8 0 1 0 15.6 0a7.8 7.8 0 1 0 -15.6 0zM143.2 421.7a7.8 7.8 0 1 0 15.6 0a7.8 7.8 0 1 0 -15.6 0zM204.2 399.1a7.8 7.8 0 1 0 15.6 0a7.8 7.8 0 1 0 -15.6 0zM265.2 426.7a7.8 7.8 0 1 0 15.6 0a7.8 7.8 0 1 0 -15.6 0zM326.2 394a7.8 7.8 0 1 0 15.6 0a7.8 7.8 0 1 0 -15.6 0zM387.2 426.7a7.8 7.8 0 1 0 15.6 0a7.8 7.8 0 1 0 -15.6 0zM448.2 424.4a7.8 7.8 0 1 0 15.6 0a7.8 7.8 0 1 0 -15.6 0zM509.2 415.2a7.8 7.8 0 1 0 15.6 0a7.8 7.8 0 1 0 -15.6 0zM570.2 413a7.8 7.8 0 1 0 15.6 0a7.8 7.8 0 1 0 -15.6 0zM631.2 406.1a7.8 7.8 0 1 0 15.6 0a7.8 7.8 0 1 0 -15.6 0zM692.2 395.7a7.8 7.8 0 1 0 15.6 0a7.8 7.8 0 1 0 -15.6 0zM753.2 390.6a7.8 7.8 0 1 0 15.6 0a7.8 7.8 0 1 0 -15.6 0zM814.2 388.2a7.8 7.8 0 1 0 15.6 0a7.8 7.8 0 1 0 -15.6 0zM875.2 390.4a7.8 7.8 0 1 0 15.6 0a7.8 7.8 0 1 0 -15.6 0zM936.2 389.7a7.8 7.8 0 1 0 15.6 0a7.8 7.8 0 1 0 -15.6 0zM143.2 443.3a7.8 7.8 0 1 0 15.6 0a7.8 7.8 0 1 0 -15.6 0zM204.2 440.9a7.8 7.8 0 1 0 15.6 0a7.8 7.8 0 1 0 -15.6 0zM265.2 461.2a7.8 7.8 0 1 0 15.6 0a7.8 7.8 0 1 0 -15.6 0zM326.2 441.2a7.8 7.8 0 1 0 15.6 0a7.8 7.8 0 1 0 -15.6 0zM387.2 446.6a7.8 7.8 0 1 0 15.6 0a7.8 7.8 0 1 0 -15.6 0zM448.2 461a7.8 7.8 0 1 0 15.6 0a7.8 7.8 0 1 0 -15.6 0zM509.2 431.7a7.8 7.8 0 1 0 15.6 0a7.8 7.8 0 1 0 -15.6 0zM570.2 455.2a7.8 7.8 0 1 0 15.6 0a7.8 7.8 0 1 0 -15.6 0zM631.2 419.4a7.8 7.8 0 1 0 15.6 0a7.8 7.8 0 1 0 -15.6 0zM692.2 429.2a7.8 7.8 0 1 0 15.6 0a7.8 7.8 0 1 0 -15.6 0zM753.2 407.6a7.8 7.8 0 1 0 15.6 0a7.8 7.8 0 1 0 -15.6 0zM814.2 412.7a7.8 7.8 0 1 0 15.6 0a7.8 7.8 0 1 0 -15.6 0zM875.2 411.5a7.8 7.8 0 1 0 15.6 0a7.8 7.8 0 1 0 -15.6 0zM936.2 413a7.8 7.8 0 1 0 15.6 0a7.8 7.8 0 1 0 -15.6 0zM143.2 444.6a7.8 7.8 0 1 0 15.6 0a7.8 7.8 0 1 0 -15.6 0zM204.2 431.7a7.8 7.8 0 1 0 15.6 0a7.8 7.8 0 1 0 -15.6 0zM265.2 427.3a7.8 7.8 0 1 0 15.6 0a7.8 7.8 0 1 0 -15.6 0zM326.2 430.1a7.8 7.8 0 1 0 15.6 0a7.8 7.8 0 1 0 -15.6 0zM387.2 450.4a7.8 7.8 0 1 0 15.6 0a7.8 7.8 0 1 0 -15.6 0zM448.2 456a7.8 7.8 0 1 0 15.6 0a7.8 7.8 0 1 0 -15.6 0zM509.2 444.1a7.8 7.8 0 1 0 15.6 0a7.8 7.8 0 1 0 -15.6 0zM570.2 430.8a7.8 7.8 0 1 0 15.6 0a7.8 7.8 0 1 0 -15.6 0zM631.2 417.5a7.8 7.8 0 1 0 15.6 0a7.8 7.8 0 1 0 -15.6 0zM692.2 414.8a7.8 7.8 0 1 0 15.6 0a7.8 7.8 0 1 0 -15.6 0zM753.2 413.7a7.8 7.8 0 1 0 15.6 0a7.8 7.8 0 1 0 -15.6 0zM814.2 407.6a7.8 7.8 0 1 0 15.6 0a7.8 7.8 0 1 0 -15.6 0zM875.2 394a7.8 7.8 0 1 0 15.6 0a7.8 7.8 0 1 0 -15.6 0zM936.2 400.8a7.8 7.8 0 1 0 15.6 0a7.8 7.8 0 1 0 -15.6 0zM143.2 555.9a7.8 7.8 0 1 0 15.6 0a7.8 7.8 0 1 0 -15.6 0zM204.2 538.3a7.8 7.8 0 1 0 15.6 0a7.8 7.8 0 1 0 -15.6 0zM265.2 518.7a7.8 7.8 0 1 0 15.6 0a7.8 7.8 0 1 0 -15.6 0zM326.2 508a7.8 7.8 0 1 0 15.6 0a7.8 7.8 0 1 0 -15.6 0zM387.2 499.3a7.8 7.8 0 1 0 15.6 0a7.8 7.8 0 1 0 -15.6 0zM448.2 513.1a7.8 7.8 0 1 0 15.6 0a7.8 7.8 0 1 0 -15.6 0zM509.2 500.5a7.8 7.8 0 1 0 15.6 0a7.8 7.8 0 1 0 -15.6 0zM570.2 489.2a7.8 7.8 0 1 0 15.6 0a7.8 7.8 0 1 0 -15.6 0zM631.2 485.4a7.8 7.8 0 1 0 15.6 0a7.8 7.8 0 1 0 -15.6 0zM692.2 485.7a7.8 7.8 0 1 0 15.6 0a7.8 7.8 0 1 0 -15.6 0zM753.2 462.1a7.8 7.8 0 1 0 15.6 0a7.8 7.8 0 1 0 -15.6 0zM814.2 454.9a7.8 7.8 0 1 0 15.6 0a7.8 7.8 0 1 0 -15.6 0zM875.2 447.9a7.8 7.8 0 1 0 15.6 0a7.8 7.8 0 1 0 -15.6 0zM936.2 456.2a7.8 7.8 0 1 0 15.6 0a7.8 7.8 0 1 0 -15.6 0zM143.2 475.7a7.8 7.8 0 1 0 15.6 0a7.8 7.8 0 1 0 -15.6 0zM204.2 487.3a7.8 7.8 0 1 0 15.6 0a7.8 7.8 0 1 0 -15.6 0zM265.2 456.5a7.8 7.8 0 1 0 15.6 0a7.8 7.8 0 1 0 -15.6 0zM326.2 475.4a7.8 7.8 0 1 0 15.6 0a7.8 7.8 0 1 0 -15.6 0zM387.2 466.1a7.8 7.8 0 1 0 15.6 0a7.8 7.8 0 1 0 -15.6 0zM448.2 469.1a7.8 7.8 0 1 0 15.6 0a7.8 7.8 0 1 0 -15.6 0zM509.2 471.8a7.8 7.8 0 1 0 15.6 0a7.8 7.8 0 1 0 -15.6 0zM570.2 457.5a7.8 7.8 0 1 0 15.6 0a7.8 7.8 0 1 0 -15.6 0zM631.2 446.3a7.8 7.8 0 1 0 15.6 0a7.8 7.8 0 1 0 -15.6 0zM692.2 440a7.8 7.8 0 1 0 15.6 0a7.8 7.8 0 1 0 -15.6 0zM753.2 424.3a7.8 7.8 0 1 0 15.6 0a7.8 7.8 0 1 0 -15.6 0zM814.2 425.6a7.8 7.8 0 1 0 15.6 0a7.8 7.8 0 1 0 -15.6 0zM875.2 405.4a7.8 7.8 0 1 0 15.6 0a7.8 7.8 0 1 0 -15.6 0zM936.2 420.6a7.8 7.8 0 1 0 15.6 0a7.8 7.8 0 1 0 -15.6 0zM143.2 519a7.8 7.8 0 1 0 15.6 0a7.8 7.8 0 1 0 -15.6 0zM204.2 530.5a7.8 7.8 0 1 0 15.6 0a7.8 7.8 0 1 0 -15.6 0zM265.2 493.4a7.8 7.8 0 1 0 15.6 0a7.8 7.8 0 1 0 -15.6 0zM326.2 494.9a7.8 7.8 0 1 0 15.6 0a7.8 7.8 0 1 0 -15.6 0zM387.2 487.2a7.8 7.8 0 1 0 15.6 0a7.8 7.8 0 1 0 -15.6 0zM448.2 504.7a7.8 7.8 0 1 0 15.6 0a7.8 7.8 0 1 0 -15.6 0zM509.2 500.9a7.8 7.8 0 1 0 15.6 0a7.8 7.8 0 1 0 -15.6 0zM570.2 476.5a7.8 7.8 0 1 0 15.6 0a7.8 7.8 0 1 0 -15.6 0zM631.2 474.9a7.8 7.8 0 1 0 15.6 0a7.8 7.8 0 1 0 -15.6 0zM692.2 458.5a7.8 7.8 0 1 0 15.6 0a7.8 7.8 0 1 0 -15.6 0zM753.2 460.1a7.8 7.8 0 1 0 15.6 0a7.8 7.8 0 1 0 -15.6 0zM814.2 455.1a7.8 7.8 0 1 0 15.6 0a7.8 7.8 0 1 0 -15.6 0zM875.2 441.4a7.8 7.8 0 1 0 15.6 0a7.8 7.8 0 1 0 -15.6 0zM936.2 436.9a7.8 7.8 0 1 0 15.6 0a7.8 7.8 0 1 0 -15.6 0zM143.2 467.7a7.8 7.8 0 1 0 15.6 0a7.8 7.8 0 1 0 -15.6 0zM204.2 479.4a7.8 7.8 0 1 0 15.6 0a7.8 7.8 0 1 0 -15.6 0zM265.2 464.1a7.8 7.8 0 1 0 15.6 0a7.8 7.8 0 1 0 -15.6 0zM326.2 445.2a7.8 7.8 0 1 0 15.6 0a7.8 7.8 0 1 0 -15.6 0zM387.2 454.8a7.8 7.8 0 1 0 15.6 0a7.8 7.8 0 1 0 -15.6 0zM448.2 470.8a7.8 7.8 0 1 0 15.6 0a7.8 7.8 0 1 0 -15.6 0zM509.2 462.2a7.8 7.8 0 1 0 15.6 0a7.8 7.8 0 1 0 -15.6 0zM570.2 445.7a7.8 7.8 0 1 0 15.6 0a7.8 7.8 0 1 0 -15.6 0zM631.2 445.2a7.8 7.8 0 1 0 15.6 0a7.8 7.8 0 1 0 -15.6 0zM692.2 441.3a7.8 7.8 0 1 0 15.6 0a7.8 7.8 0 1 0 -15.6 0zM753.2 422.3a7.8 7.8 0 1 0 15.6 0a7.8 7.8 0 1 0 -15.6 0zM814.2 417.9a7.8 7.8 0 1 0 15.6 0a7.8 7.8 0 1 0 -15.6 0zM875.2 403.5a7.8 7.8 0 1 0 15.6 0a7.8 7.8 0 1 0 -15.6 0zM936.2 404.5a7.8 7.8 0 1 0 15.6 0a7.8 7.8 0 1 0 -15.6 0zM143.2 491.4a7.8 7.8 0 1 0 15.6 0a7.8 7.8 0 1 0 -15.6 0zM204.2 481.7a7.8 7.8 0 1 0 15.6 0a7.8 7.8 0 1 0 -15.6 0zM265.2 479.6a7.8 7.8 0 1 0 15.6 0a7.8 7.8 0 1 0 -15.6 0zM326.2 460.4a7.8 7.8 0 1 0 15.6 0a7.8 7.8 0 1 0 -15.6 0zM387.2 473.2a7.8 7.8 0 1 0 15.6 0a7.8 7.8 0 1 0 -15.6 0zM448.2 473.9a7.8 7.8 0 1 0 15.6 0a7.8 7.8 0 1 0 -15.6 0zM509.2 465.1a7.8 7.8 0 1 0 15.6 0a7.8 7.8 0 1 0 -15.6 0zM570.2 467.6a7.8 7.8 0 1 0 15.6 0a7.8 7.8 0 1 0 -15.6 0zM631.2 456a7.8 7.8 0 1 0 15.6 0a7.8 7.8 0 1 0 -15.6 0zM692.2 440.2a7.8 7.8 0 1 0 15.6 0a7.8 7.8 0 1 0 -15.6 0zM753.2 433.3a7.8 7.8 0 1 0 15.6 0a7.8 7.8 0 1 0 -15.6 0zM814.2 436.7a7.8 7.8 0 1 0 15.6 0a7.8 7.8 0 1 0 -15.6 0zM875.2 427.6a7.8 7.8 0 1 0 15.6 0a7.8 7.8 0 1 0 -15.6 0zM936.2 422.4a7.8 7.8 0 1 0 15.6 0a7.8 7.8 0 1 0 -15.6 0z" fill="#fff" stroke="#c3ecd8" stroke-width="1.3"/>
<path d="M151 171.4L212 192.7 273 214.8 334 220.3 395 271.3 456 276.4 517 308.4 578 342 639 391.3 700 418.6 761 425.7 822 464.3 883 478.3 944 488.1M151 220L212 218 273 245.6 334 256 395 314.2 456 322 517 343.2 578 376.3 639 428.9 700 438.2 761 466 822 506 883 519.6 944 526M151 136L212 133.8 273 163.1 334 181.6 395 225.5 456 242.4 517 279 578 312.8 639 351.1 700 374.7 761 388.4 822 434.5 883 436.5 944 456.5M151 178.8L212 203.8 273 204.3 334 229.8 395 284.3 456 301.5 517 321.3 578 348.6 639 396.9 700 411.3 761 438.1 822 476.7 883 491.2 944 497.2M151 292.7L212 299.8 273 331.4 334 337 395 395.4 456 403.4 517 423.2 578 458.3 639 506.7 700 516.5 761 537.3 822 578.7 883 587 944 604.1M151 143.1L212 152.3 273 167.4 334 183.2 395 241.8 456 254.3 517 295.8 578 319.6 639 361.9 700 383.8 761 414.3 822 431.1 883 462.1 944 469.2M151 90.2L212 106.5 273 121.8 334 146.8 395 209 456 217.9 517 244.8 578 274.8 639 315.8 700 353.4 761 369.5 822 397.3 883 427.5 944 426.1M151 184.6L212 191.5 273 202.8 334 229.7 395 272.9 456 293.6 517 327.2 578 339 639 397.7 700 418.1 761 427.6 822 476.9 883 486.3 944 495.9M151 149.3L212 189.1 273 183.5 334 213.2 395 271.5 456 279.5 517 312.1 578 338.5 639 371.9 700 410.9 761 427.8 822 472.3 883 482.4 944 498.1M151 147.8L212 140.9 273 186.2 334 193.2 395 248.2 456 255.3 517 286.6 578 323.7 639 364.1 700 381.2 761 413 822 444.8 883 461.1 944 465.6M151 213.9L212 240.2 273 248.6 334 267 395 323.4 456 328.3 517 357.6 578 387.5 639 436.9 700 452.2 761 475.7 822 505.4 883 525.8 944 538.6M151 235L212 245.1 273 266 334 264.7 395 328.1 456 352.1 517 373.9 578 381.6 639 432.2 700 463 761 485.7 822 520.3 883 532.3 944 542.2M151 153.7L212 159.4 273 173.3 334 194 395 227.9 456 258.2 517 287.1 578 313.3 639 350.1 700 388 761 399.9 822 438.6 883 445.6 944 470M151 198.7L212 209 273 226.1 334 245.5 395 292.9 456 305.7 517 332.8 578 354.2 639 404.3 700 421.6 761 449.1 822 467.6 883 490 944 506.6M151 115.4L212 121.3 273 138.4 334 170 395 220.5 456 222.7 517 260.4 578 299.3 639 331.8 700 354.9 761 392.9 822 415.7 883 443.4 944 440.9M151 131.2L212 138.1 273 159.4 334 178.8 395 233.8 456 238.8 517 277.8 578 316.4 639 351.2 700 377.7 761 400.1 822 439.6 883 454.7 944 464M151 189.1L212 198.7 273 226.4 334 237.5 395 304 456 304.2 517 336.6 578 358.8 639 396.4 700 435.6 761 449 822 482 883 492.1 944 511.7M151 132.1L212 152.8 273 168.2 334 186.9 395 243 456 257.8 517 272.9 578 319.6 639 353.4 700 380.1 761 395 822 429.3 883 452.1 944 458.7M151 202.4L212 209.1 273 232.3 334 243.8 395 303.5 456 304.8 517 340.2 578 371.2 639 409.2 700 448.7 761 449.9 822 481 883 496.1 944 512.4M151 189.7L212 206.9 273 223.5 334 239.9 395 287.1 456 301.7 517 326.5 578 361 639 403.2 700 423.6 761 457.3 822 474.5 883 498.7 944 508.7M151 93.9L212 109.1 273 119.6 334 167.2 395 209.1 456 219.8 517 257.1 578 283 639 327 700 343 761 367 822 399.3 883 420.5 944 431.5M151 106.6L212 111.2 273 125 334 149.2 395 194.9 456 217.2 517 253.1 578 273.5 639 320.4 700 356.6 761 360.6 822 407 883 417.3 944 424.5M151 180.2L212 191.2 273 225.5 334 227.7 395 293.9 456 295.7 517 318.4 578 352.5 639 405.9 700 435.5 761 443.1 822 481.4 883 495.5 944 503.6M151 221.3L212 226.8 273 245.1 334 273.8 395 319.8 456 324.5 517 366.6 578 368.4 639 427.6 700 462.7 761 480.1 822 515.9 883 521 944 531.9M151 191.5L212 185.2 273 219.3 334 235 395 270.1 456 288.8 517 325 578 350.9 639 404 700 414.8 761 450.2 822 480.2 883 489.9 944 506.6M151 155.5L212 171 273 185.5 334 218.6 395 263.4 456 269.2 517 300.8 578 334 639 371.8 700 405.5 761 436 822 459.2 883 477.5 944 486M151 162.3L212 174.4 273 195.5 334 216.5 395 253.6 456 271.6 517 300.4 578 325 639 383.5 700 398.4 761 419.9 822 445 883 468.5 944 491.6M151 216.6L212 227.6 273 248.5 334 268 395 323.2 456 330.1 517 347.7 578 383.9 639 435.6 700 458.6 761 471.2 822 504.3 883 508.5 944 524.4M151 246L212 259.3 273 269.2 334 285.4 395 354.5 456 357.8 517 380.4 578 411.4 639 457.9 700 484.3 761 495.9 822 526.1 883 541.1 944 566.8M151 96.2L212 112.9 273 120.5 334 155.8 395 204.3 456 211 517 256.9 578 277.2 639 321.5 700 345.1 761 379.3 822 396.5 883 419.5 944 422.5M151 116.4L212 135.7 273 138.7 334 173.8 395 226.8 456 234.7 517 279.9 578 295.3 639 335.7 700 365 761 383 822 425.9 883 437.9 944 450.6M151 146.3L212 154.1 273 171.5 334 209.7 395 241.9 456 264.1 517 290.5 578 330.2 639 352.9 700 392.8 761 410.9 822 452.5 883 468.4 944 479.6M151 151.9L212 160.1 273 186.4 334 196.5 395 251.8 456 257.9 517 292.8 578 335.7 639 362.4 700 405.8 761 425.3 822 444.4 883 454.6 944 484.2M151 152.9L212 153.6 273 176.4 334 189.1 395 246.8 456 273.1 517 309.2 578 324.7 639 363 700 389.3 761 412.7 822 448.4 883 464.6 944 468M151 196.9L212 215.6 273 236.8 334 267.8 395 309.6 456 316.1 517 349 578 372.9 639 423.6 700 454.3 761 466.9 822 497.7 883 517.8 944 522.4M151 270.4L212 284.6 273 303.6 334 314.1 395 359.8 456 363.4 517 403.5 578 423.4 639 480.7 700 494.3 761 516.4 822 547.2 883 562.5 944 575.6M151 209.8L212 213.6 273 238.1 334 256.1 395 296.3 456 319.7 517 358.5 578 369.5 639 413.9 700 433.8 761 463 822 498.1 883 506.5 944 520.6M151 169.2L212 178.5 273 198.6 334 210.5 395 270.9 456 275.2 517 302.9 578 342.2 639 369.8 700 407.9 761 431 822 463.7 883 473.2 944 485M151 195.6L212 206.7 273 219.4 334 248.5 395 308.2 456 304 517 334.7 578 373.5 639 404.8 700 437.2 761 465.1 822 479.5 883 500.2 944 518M151 203.6L212 224.6 273 250.1 334 264 395 316.1 456 323.4 517 348.8 578 381 639 429.9 700 453.9 761 469.6 822 495.1 883 516 944 532.4M151 124.2L212 126.5 273 132 334 169.7 395 218.8 456 233.2 517 261 578 297.9 639 342.1 700 368.1 761 385.4 822 409.5 883 449.2 944 443.1M151 113.3L212 136.3 273 142.6 334 167.5 395 221.8 456 236.6 517 276.6 578 313.8 639 348.4 700 369.1 761 405.4 822 422.2 883 439.8 944 453.3M151 222.7L212 248.3 273 268.5 334 272 395 327.2 456 340.6 517 371.2 578 392.3 639 440.7 700 463.3 761 483.9 822 513.6 883 533.3 944 547.2M151 191.2L212 212.3 273 228.7 334 246.8 395 297.5 456 314 517 346.6 578 357 639 409.9 700 442.2 761 458.6 822 492.3 883 505.1 944 521.1M151 184.2L212 187.2 273 213.4 334 217.4 395 286.5 456 278 517 324.7 578 348.8 639 383.4 700 412.4 761 431.7 822 459.4 883 480.3 944 498.3M151 174.5L212 183.8 273 189.4 334 212.8 395 283.7 456 284.8 517 323.2 578 341.2 639 388.7 700 405.4 761 437.7 822 466.1 883 493.8 944 495.5M151 246.2L212 252.1 273 280.5 334 290.2 395 341.5 456 351.6 517 380.4 578 405.2 639 440.6 700 472.7 761 490 822 526.6 883 537.3 944 554M151 183.1L212 180.2 273 210.1 334 245.9 395 285.7 456 296.8 517 323.4 578 348.1 639 394.5 700 420.8 761 439.7 822 474.3 883 489 944 507.4M151 163L212 189 273 190.5 334 210.9 395 261.9 456 280.8 517 307.3 578 335.7 639 370.1 700 406.1 761 422.5 822 457.9 883 469.9 944 491M151 163.5L212 167.7 273 184.3 334 199.1 395 250.3 456 263.5 517 295 578 323.2 639 366.9 700 398.5 761 425.1 822 447.5 883 465.8 944 483.5M151 89.2L212 103.6 273 123.6 334 155.5 395 195.9 456 208.2 517 252.4 578 276.1 639 318.7 700 363.5 761 372.1 822 406.8 883 420.3 944 425.9M151 234.3L212 249.9 273 274 334 269.8 395 341.1 456 350.5 517 371.6 578 396.7 639 439.5 700 462.5 761 497.6 822 530.7 883 525 944 552.4M151 173L212 185.8 273 205.7 334 210.4 395 276.4 456 283.9 517 326.7 578 345.3 639 379.8 700 419.7 761 436.6 822 466.3 883 475.5 944 497M151 127L212 136.8 273 166.9 334 185.9 395 229.1 456 240.9 517 278 578 311.4 639 349.2 700 375.1 761 393 822 431.8 883 436.4 944 450.5M151 202.2L212 198.4 273 213.9 334 237.4 395 305.2 456 300.6 517 331.7 578 360.9 639 410 700 423.5 761 450.8 822 488.8 883 498.9 944 512.8M151 210L212 215.5 273 245.3 334 252.5 395 310.4 456 327.8 517 342.6 578 373.2 639 423.7 700 451.6 761 462.7 822 491.5 883 515.3 944 531M151 250.5L212 260.9 273 283.9 334 299.5 395 359 456 355.2 517 386 578 415.5 639 452.3 700 483.8 761 505.3 822 534.8 883 546 944 566.5M151 147L212 160.7 273 175.7 334 203 395 252.5 456 254.4 517 299 578 322.7 639 372.2 700 395.6 761 415.4 822 448.6 883 464.1 944 473.6M151 160.3L212 184.1 273 190.4 334 203.4 395 266.6 456 274.1 517 312.3 578 330 639 371.4 700 413.9 761 422.7 822 454.8 883 480.7 944 485.9M151 107.2L212 122.3 273 133.4 334 160 395 209.1 456 229.7 517 260.6 578 300.3 639 326.6 700 360.5 761 381.2 822 408.9 883 434.4 944 442.8" fill="none" stroke="#bad3f4" stroke-width="1.2" stroke-linejoin="round" />
<path d="M144.1 164.5h13.8v13.8h-13.8zM205.1 185.8h13.8v13.8h-13.8zM266.1 207.9h13.8v13.8h-13.8zM327.1 213.4h13.8v13.8h-13.8zM388.1 264.4h13.8v13.8h-13.8zM449.1 269.5h13.8v13.8h-13.8zM510.1 301.5h13.8v13.8h-13.8zM571.1 335.1h13.8v13.8h-13.8zM632.1 384.4h13.8v13.8h-13.8zM693.1 411.7h13.8v13.8h-13.8zM754.1 418.8h13.8v13.8h-13.8zM815.1 457.4h13.8v13.8h-13.8zM876.1 471.4h13.8v13.8h-13.8zM937.1 481.2h13.8v13.8h-13.8zM144.1 213.1h13.8v13.8h-13.8zM205.1 211.1h13.8v13.8h-13.8zM266.1 238.7h13.8v13.8h-13.8zM327.1 249.1h13.8v13.8h-13.8zM388.1 307.3h13.8v13.8h-13.8zM449.1 315.1h13.8v13.8h-13.8zM510.1 336.3h13.8v13.8h-13.8zM571.1 369.4h13.8v13.8h-13.8zM632.1 422h13.8v13.8h-13.8zM693.1 431.3h13.8v13.8h-13.8zM754.1 459.1h13.8v13.8h-13.8zM815.1 499.1h13.8v13.8h-13.8zM876.1 512.7h13.8v13.8h-13.8zM937.1 519.1h13.8v13.8h-13.8zM144.1 129.1h13.8v13.8h-13.8zM205.1 126.9h13.8v13.8h-13.8zM266.1 156.2h13.8v13.8h-13.8zM327.1 174.7h13.8v13.8h-13.8zM388.1 218.6h13.8v13.8h-13.8zM449.1 235.5h13.8v13.8h-13.8zM510.1 272.1h13.8v13.8h-13.8zM571.1 305.9h13.8v13.8h-13.8zM632.1 344.2h13.8v13.8h-13.8zM693.1 367.8h13.8v13.8h-13.8zM754.1 381.5h13.8v13.8h-13.8zM815.1 427.6h13.8v13.8h-13.8zM876.1 429.6h13.8v13.8h-13.8zM937.1 449.6h13.8v13.8h-13.8zM144.1 171.9h13.8v13.8h-13.8zM205.1 196.9h13.8v13.8h-13.8zM266.1 197.4h13.8v13.8h-13.8zM327.1 222.9h13.8v13.8h-13.8zM388.1 277.4h13.8v13.8h-13.8zM449.1 294.6h13.8v13.8h-13.8zM510.1 314.4h13.8v13.8h-13.8zM571.1 341.7h13.8v13.8h-13.8zM632.1 390h13.8v13.8h-13.8zM693.1 404.4h13.8v13.8h-13.8zM754.1 431.2h13.8v13.8h-13.8zM815.1 469.8h13.8v13.8h-13.8zM876.1 484.3h13.8v13.8h-13.8zM937.1 490.3h13.8v13.8h-13.8zM144.1 285.8h13.8v13.8h-13.8zM205.1 292.9h13.8v13.8h-13.8zM266.1 324.5h13.8v13.8h-13.8zM327.1 330.1h13.8v13.8h-13.8zM388.1 388.5h13.8v13.8h-13.8zM449.1 396.5h13.8v13.8h-13.8zM510.1 416.3h13.8v13.8h-13.8zM571.1 451.4h13.8v13.8h-13.8zM632.1 499.8h13.8v13.8h-13.8zM693.1 509.6h13.8v13.8h-13.8zM754.1 530.4h13.8v13.8h-13.8zM815.1 571.8h13.8v13.8h-13.8zM876.1 580.1h13.8v13.8h-13.8zM937.1 597.2h13.8v13.8h-13.8zM144.1 136.2h13.8v13.8h-13.8zM205.1 145.4h13.8v13.8h-13.8zM266.1 160.5h13.8v13.8h-13.8zM327.1 176.3h13.8v13.8h-13.8zM388.1 234.9h13.8v13.8h-13.8zM449.1 247.4h13.8v13.8h-13.8zM510.1 288.9h13.8v13.8h-13.8zM571.1 312.7h13.8v13.8h-13.8zM632.1 355h13.8v13.8h-13.8zM693.1 376.9h13.8v13.8h-13.8zM754.1 407.4h13.8v13.8h-13.8zM815.1 424.2h13.8v13.8h-13.8zM876.1 455.2h13.8v13.8h-13.8zM937.1 462.3h13.8v13.8h-13.8zM144.1 83.3h13.8v13.8h-13.8zM205.1 99.6h13.8v13.8h-13.8zM266.1 114.9h13.8v13.8h-13.8zM327.1 139.9h13.8v13.8h-13.8zM388.1 202.1h13.8v13.8h-13.8zM449.1 211h13.8v13.8h-13.8zM510.1 237.9h13.8v13.8h-13.8zM571.1 267.9h13.8v13.8h-13.8zM632.1 308.9h13.8v13.8h-13.8zM693.1 346.5h13.8v13.8h-13.8zM754.1 362.6h13.8v13.8h-13.8zM815.1 390.4h13.8v13.8h-13.8zM876.1 420.6h13.8v13.8h-13.8zM937.1 419.2h13.8v13.8h-13.8zM144.1 177.7h13.8v13.8h-13.8zM205.1 184.6h13.8v13.8h-13.8zM266.1 195.9h13.8v13.8h-13.8zM327.1 222.8h13.8v13.8h-13.8zM388.1 266h13.8v13.8h-13.8zM449.1 286.7h13.8v13.8h-13.8zM510.1 320.3h13.8v13.8h-13.8zM571.1 332.1h13.8v13.8h-13.8zM632.1 390.8h13.8v13.8h-13.8zM693.1 411.2h13.8v13.8h-13.8zM754.1 420.7h13.8v13.8h-13.8zM815.1 470h13.8v13.8h-13.8zM876.1 479.4h13.8v13.8h-13.8zM937.1 489h13.8v13.8h-13.8zM144.1 142.4h13.8v13.8h-13.8zM205.1 182.2h13.8v13.8h-13.8zM266.1 176.6h13.8v13.8h-13.8zM327.1 206.3h13.8v13.8h-13.8zM388.1 264.6h13.8v13.8h-13.8zM449.1 272.6h13.8v13.8h-13.8zM510.1 305.2h13.8v13.8h-13.8zM571.1 331.6h13.8v13.8h-13.8zM632.1 365h13.8v13.8h-13.8zM693.1 404h13.8v13.8h-13.8zM754.1 420.9h13.8v13.8h-13.8zM815.1 465.4h13.8v13.8h-13.8zM876.1 475.5h13.8v13.8h-13.8zM937.1 491.2h13.8v13.8h-13.8zM144.1 140.9h13.8v13.8h-13.8zM205.1 134h13.8v13.8h-13.8zM266.1 179.3h13.8v13.8h-13.8zM327.1 186.3h13.8v13.8h-13.8zM388.1 241.3h13.8v13.8h-13.8zM449.1 248.4h13.8v13.8h-13.8zM510.1 279.7h13.8v13.8h-13.8zM571.1 316.8h13.8v13.8h-13.8zM632.1 357.2h13.8v13.8h-13.8zM693.1 374.3h13.8v13.8h-13.8zM754.1 406.1h13.8v13.8h-13.8zM815.1 437.9h13.8v13.8h-13.8zM876.1 454.2h13.8v13.8h-13.8zM937.1 458.7h13.8v13.8h-13.8zM144.1 207h13.8v13.8h-13.8zM205.1 233.3h13.8v13.8h-13.8zM266.1 241.7h13.8v13.8h-13.8zM327.1 260.1h13.8v13.8h-13.8zM388.1 316.5h13.8v13.8h-13.8zM449.1 321.4h13.8v13.8h-13.8zM510.1 350.7h13.8v13.8h-13.8zM571.1 380.6h13.8v13.8h-13.8zM632.1 430h13.8v13.8h-13.8zM693.1 445.3h13.8v13.8h-13.8zM754.1 468.8h13.8v13.8h-13.8zM815.1 498.5h13.8v13.8h-13.8zM876.1 518.9h13.8v13.8h-13.8zM937.1 531.7h13.8v13.8h-13.8zM144.1 228.1h13.8v13.8h-13.8zM205.1 238.2h13.8v13.8h-13.8zM266.1 259.1h13.8v13.8h-13.8zM327.1 257.8h13.8v13.8h-13.8zM388.1 321.2h13.8v13.8h-13.8zM449.1 345.2h13.8v13.8h-13.8zM510.1 367h13.8v13.8h-13.8zM571.1 374.7h13.8v13.8h-13.8zM632.1 425.3h13.8v13.8h-13.8zM693.1 456.1h13.8v13.8h-13.8zM754.1 478.8h13.8v13.8h-13.8zM815.1 513.4h13.8v13.8h-13.8zM876.1 525.4h13.8v13.8h-13.8zM937.1 535.3h13.8v13.8h-13.8zM144.1 146.8h13.8v13.8h-13.8zM205.1 152.5h13.8v13.8h-13.8zM266.1 166.4h13.8v13.8h-13.8zM327.1 187.1h13.8v13.8h-13.8zM388.1 221h13.8v13.8h-13.8zM449.1 251.3h13.8v13.8h-13.8zM510.1 280.2h13.8v13.8h-13.8zM571.1 306.4h13.8v13.8h-13.8zM632.1 343.2h13.8v13.8h-13.8zM693.1 381.1h13.8v13.8h-13.8zM754.1 393h13.8v13.8h-13.8zM815.1 431.7h13.8v13.8h-13.8zM876.1 438.7h13.8v13.8h-13.8zM937.1 463.1h13.8v13.8h-13.8zM144.1 191.8h13.8v13.8h-13.8zM205.1 202.1h13.8v13.8h-13.8zM266.1 219.2h13.8v13.8h-13.8zM327.1 238.6h13.8v13.8h-13.8zM388.1 286h13.8v13.8h-13.8zM449.1 298.8h13.8v13.8h-13.8zM510.1 325.9h13.8v13.8h-13.8zM571.1 347.3h13.8v13.8h-13.8zM632.1 397.4h13.8v13.8h-13.8zM693.1 414.7h13.8v13.8h-13.8zM754.1 442.2h13.8v13.8h-13.8zM815.1 460.7h13.8v13.8h-13.8zM876.1 483.1h13.8v13.8h-13.8zM937.1 499.7h13.8v13.8h-13.8zM144.1 108.5h13.8v13.8h-13.8zM205.1 114.4h13.8v13.8h-13.8zM266.1 131.5h13.8v13.8h-13.8zM327.1 163.1h13.8v13.8h-13.8zM388.1 213.6h13.8v13.8h-13.8zM449.1 215.8h13.8v13.8h-13.8zM510.1 253.5h13.8v13.8h-13.8zM571.1 292.4h13.8v13.8h-13.8zM632.1 324.9h13.8v13.8h-13.8zM693.1 348h13.8v13.8h-13.8zM754.1 386h13.8v13.8h-13.8zM815.1 408.8h13.8v13.8h-13.8zM876.1 436.5h13.8v13.8h-13.8zM937.1 434h13.8v13.8h-13.8zM144.1 124.3h13.8v13.8h-13.8zM205.1 131.2h13.8v13.8h-13.8zM266.1 152.5h13.8v13.8h-13.8zM327.1 171.9h13.8v13.8h-13.8zM388.1 226.9h13.8v13.8h-13.8zM449.1 231.9h13.8v13.8h-13.8zM510.1 270.9h13.8v13.8h-13.8zM571.1 309.5h13.8v13.8h-13.8zM632.1 344.3h13.8v13.8h-13.8zM693.1 370.8h13.8v13.8h-13.8zM754.1 393.2h13.8v13.8h-13.8zM815.1 432.7h13.8v13.8h-13.8zM876.1 447.8h13.8v13.8h-13.8zM937.1 457.1h13.8v13.8h-13.8zM144.1 182.2h13.8v13.8h-13.8zM205.1 191.8h13.8v13.8h-13.8zM266.1 219.5h13.8v13.8h-13.8zM327.1 230.6h13.8v13.8h-13.8zM388.1 297.1h13.8v13.8h-13.8zM449.1 297.3h13.8v13.8h-13.8zM510.1 329.7h13.8v13.8h-13.8zM571.1 351.9h13.8v13.8h-13.8zM632.1 389.5h13.8v13.8h-13.8zM693.1 428.7h13.8v13.8h-13.8zM754.1 442.1h13.8v13.8h-13.8zM815.1 475.1h13.8v13.8h-13.8zM876.1 485.2h13.8v13.8h-13.8zM937.1 504.8h13.8v13.8h-13.8zM144.1 125.2h13.8v13.8h-13.8zM205.1 145.9h13.8v13.8h-13.8zM266.1 161.3h13.8v13.8h-13.8zM327.1 180h13.8v13.8h-13.8zM388.1 236.1h13.8v13.8h-13.8zM449.1 250.9h13.8v13.8h-13.8zM510.1 266h13.8v13.8h-13.8zM571.1 312.7h13.8v13.8h-13.8zM632.1 346.5h13.8v13.8h-13.8zM693.1 373.2h13.8v13.8h-13.8zM754.1 388.1h13.8v13.8h-13.8zM815.1 422.4h13.8v13.8h-13.8zM876.1 445.2h13.8v13.8h-13.8zM937.1 451.8h13.8v13.8h-13.8zM144.1 195.5h13.8v13.8h-13.8zM205.1 202.2h13.8v13.8h-13.8zM266.1 225.4h13.8v13.8h-13.8zM327.1 236.9h13.8v13.8h-13.8zM388.1 296.6h13.8v13.8h-13.8zM449.1 297.9h13.8v13.8h-13.8zM510.1 333.3h13.8v13.8h-13.8zM571.1 364.3h13.8v13.8h-13.8zM632.1 402.3h13.8v13.8h-13.8zM693.1 441.8h13.8v13.8h-13.8zM754.1 443h13.8v13.8h-13.8zM815.1 474.1h13.8v13.8h-13.8zM876.1 489.2h13.8v13.8h-13.8zM937.1 505.5h13.8v13.8h-13.8zM144.1 182.8h13.8v13.8h-13.8zM205.1 200h13.8v13.8h-13.8zM266.1 216.6h13.8v13.8h-13.8zM327.1 233h13.8v13.8h-13.8zM388.1 280.2h13.8v13.8h-13.8zM449.1 294.8h13.8v13.8h-13.8zM510.1 319.6h13.8v13.8h-13.8zM571.1 354.1h13.8v13.8h-13.8zM632.1 396.3h13.8v13.8h-13.8zM693.1 416.7h13.8v13.8h-13.8zM754.1 450.4h13.8v13.8h-13.8zM815.1 467.6h13.8v13.8h-13.8zM876.1 491.8h13.8v13.8h-13.8zM937.1 501.8h13.8v13.8h-13.8zM144.1 87h13.8v13.8h-13.8zM205.1 102.2h13.8v13.8h-13.8zM266.1 112.7h13.8v13.8h-13.8zM327.1 160.3h13.8v13.8h-13.8zM388.1 202.2h13.8v13.8h-13.8zM449.1 212.9h13.8v13.8h-13.8zM510.1 250.2h13.8v13.8h-13.8zM571.1 276.1h13.8v13.8h-13.8zM632.1 320.1h13.8v13.8h-13.8zM693.1 336.1h13.8v13.8h-13.8zM754.1 360.1h13.8v13.8h-13.8zM815.1 392.4h13.8v13.8h-13.8zM876.1 413.6h13.8v13.8h-13.8zM937.1 424.6h13.8v13.8h-13.8zM144.1 99.7h13.8v13.8h-13.8zM205.1 104.3h13.8v13.8h-13.8zM266.1 118.1h13.8v13.8h-13.8zM327.1 142.3h13.8v13.8h-13.8zM388.1 188h13.8v13.8h-13.8zM449.1 210.3h13.8v13.8h-13.8zM510.1 246.2h13.8v13.8h-13.8zM571.1 266.6h13.8v13.8h-13.8zM632.1 313.5h13.8v13.8h-13.8zM693.1 349.7h13.8v13.8h-13.8zM754.1 353.7h13.8v13.8h-13.8zM815.1 400.1h13.8v13.8h-13.8zM876.1 410.4h13.8v13.8h-13.8zM937.1 417.6h13.8v13.8h-13.8zM144.1 173.3h13.8v13.8h-13.8zM205.1 184.3h13.8v13.8h-13.8zM266.1 218.6h13.8v13.8h-13.8zM327.1 220.8h13.8v13.8h-13.8zM388.1 287h13.8v13.8h-13.8zM449.1 288.8h13.8v13.8h-13.8zM510.1 311.5h13.8v13.8h-13.8zM571.1 345.6h13.8v13.8h-13.8zM632.1 399h13.8v13.8h-13.8zM693.1 428.6h13.8v13.8h-13.8zM754.1 436.2h13.8v13.8h-13.8zM815.1 474.5h13.8v13.8h-13.8zM876.1 488.6h13.8v13.8h-13.8zM937.1 496.7h13.8v13.8h-13.8zM144.1 214.4h13.8v13.8h-13.8zM205.1 219.9h13.8v13.8h-13.8zM266.1 238.2h13.8v13.8h-13.8zM327.1 266.9h13.8v13.8h-13.8zM388.1 312.9h13.8v13.8h-13.8zM449.1 317.6h13.8v13.8h-13.8zM510.1 359.7h13.8v13.8h-13.8zM571.1 361.5h13.8v13.8h-13.8zM632.1 420.7h13.8v13.8h-13.8zM693.1 455.8h13.8v13.8h-13.8zM754.1 473.2h13.8v13.8h-13.8zM815.1 509h13.8v13.8h-13.8zM876.1 514.1h13.8v13.8h-13.8zM937.1 525h13.8v13.8h-13.8zM144.1 184.6h13.8v13.8h-13.8zM205.1 178.3h13.8v13.8h-13.8zM266.1 212.4h13.8v13.8h-13.8zM327.1 228.1h13.8v13.8h-13.8zM388.1 263.2h13.8v13.8h-13.8zM449.1 281.9h13.8v13.8h-13.8zM510.1 318.1h13.8v13.8h-13.8zM571.1 344h13.8v13.8h-13.8zM632.1 397.1h13.8v13.8h-13.8zM693.1 407.9h13.8v13.8h-13.8zM754.1 443.3h13.8v13.8h-13.8zM815.1 473.3h13.8v13.8h-13.8zM876.1 483h13.8v13.8h-13.8zM937.1 499.7h13.8v13.8h-13.8zM144.1 148.6h13.8v13.8h-13.8zM205.1 164.1h13.8v13.8h-13.8zM266.1 178.6h13.8v13.8h-13.8zM327.1 211.7h13.8v13.8h-13.8zM388.1 256.5h13.8v13.8h-13.8zM449.1 262.3h13.8v13.8h-13.8zM510.1 293.9h13.8v13.8h-13.8zM571.1 327.1h13.8v13.8h-13.8zM632.1 364.9h13.8v13.8h-13.8zM693.1 398.6h13.8v13.8h-13.8zM754.1 429.1h13.8v13.8h-13.8zM815.1 452.3h13.8v13.8h-13.8zM876.1 470.6h13.8v13.8h-13.8zM937.1 479.1h13.8v13.8h-13.8zM144.1 155.4h13.8v13.8h-13.8zM205.1 167.5h13.8v13.8h-13.8zM266.1 188.6h13.8v13.8h-13.8zM327.1 209.6h13.8v13.8h-13.8zM388.1 246.7h13.8v13.8h-13.8zM449.1 264.7h13.8v13.8h-13.8zM510.1 293.5h13.8v13.8h-13.8zM571.1 318.1h13.8v13.8h-13.8zM632.1 376.6h13.8v13.8h-13.8zM693.1 391.5h13.8v13.8h-13.8zM754.1 413h13.8v13.8h-13.8zM815.1 438.1h13.8v13.8h-13.8zM876.1 461.6h13.8v13.8h-13.8zM937.1 484.7h13.8v13.8h-13.8zM144.1 209.7h13.8v13.8h-13.8zM205.1 220.7h13.8v13.8h-13.8zM266.1 241.6h13.8v13.8h-13.8zM327.1 261.1h13.8v13.8h-13.8zM388.1 316.3h13.8v13.8h-13.8zM449.1 323.2h13.8v13.8h-13.8zM510.1 340.8h13.8v13.8h-13.8zM571.1 377h13.8v13.8h-13.8zM632.1 428.7h13.8v13.8h-13.8zM693.1 451.7h13.8v13.8h-13.8zM754.1 464.3h13.8v13.8h-13.8zM815.1 497.4h13.8v13.8h-13.8zM876.1 501.6h13.8v13.8h-13.8zM937.1 517.5h13.8v13.8h-13.8zM144.1 239.1h13.8v13.8h-13.8zM205.1 252.4h13.8v13.8h-13.8zM266.1 262.3h13.8v13.8h-13.8zM327.1 278.5h13.8v13.8h-13.8zM388.1 347.6h13.8v13.8h-13.8zM449.1 350.9h13.8v13.8h-13.8zM510.1 373.5h13.8v13.8h-13.8zM571.1 404.5h13.8v13.8h-13.8zM632.1 451h13.8v13.8h-13.8zM693.1 477.4h13.8v13.8h-13.8zM754.1 489h13.8v13.8h-13.8zM815.1 519.2h13.8v13.8h-13.8zM876.1 534.2h13.8v13.8h-13.8zM937.1 559.9h13.8v13.8h-13.8zM144.1 89.3h13.8v13.8h-13.8zM205.1 106h13.8v13.8h-13.8zM266.1 113.6h13.8v13.8h-13.8zM327.1 148.9h13.8v13.8h-13.8zM388.1 197.4h13.8v13.8h-13.8zM449.1 204.1h13.8v13.8h-13.8zM510.1 250h13.8v13.8h-13.8zM571.1 270.3h13.8v13.8h-13.8zM632.1 314.6h13.8v13.8h-13.8zM693.1 338.2h13.8v13.8h-13.8zM754.1 372.4h13.8v13.8h-13.8zM815.1 389.6h13.8v13.8h-13.8zM876.1 412.6h13.8v13.8h-13.8zM937.1 415.6h13.8v13.8h-13.8zM144.1 109.5h13.8v13.8h-13.8zM205.1 128.8h13.8v13.8h-13.8zM266.1 131.8h13.8v13.8h-13.8zM327.1 166.9h13.8v13.8h-13.8zM388.1 219.9h13.8v13.8h-13.8zM449.1 227.8h13.8v13.8h-13.8zM510.1 273h13.8v13.8h-13.8zM571.1 288.4h13.8v13.8h-13.8zM632.1 328.8h13.8v13.8h-13.8zM693.1 358.1h13.8v13.8h-13.8zM754.1 376.1h13.8v13.8h-13.8zM815.1 419h13.8v13.8h-13.8zM876.1 431h13.8v13.8h-13.8zM937.1 443.7h13.8v13.8h-13.8zM144.1 139.4h13.8v13.8h-13.8zM205.1 147.2h13.8v13.8h-13.8zM266.1 164.6h13.8v13.8h-13.8zM327.1 202.8h13.8v13.8h-13.8zM388.1 235h13.8v13.8h-13.8zM449.1 257.2h13.8v13.8h-13.8zM510.1 283.6h13.8v13.8h-13.8zM571.1 323.3h13.8v13.8h-13.8zM632.1 346h13.8v13.8h-13.8zM693.1 385.9h13.8v13.8h-13.8zM754.1 404h13.8v13.8h-13.8zM815.1 445.6h13.8v13.8h-13.8zM876.1 461.5h13.8v13.8h-13.8zM937.1 472.7h13.8v13.8h-13.8zM144.1 145h13.8v13.8h-13.8zM205.1 153.2h13.8v13.8h-13.8zM266.1 179.5h13.8v13.8h-13.8zM327.1 189.6h13.8v13.8h-13.8zM388.1 244.9h13.8v13.8h-13.8zM449.1 251h13.8v13.8h-13.8zM510.1 285.9h13.8v13.8h-13.8zM571.1 328.8h13.8v13.8h-13.8zM632.1 355.5h13.8v13.8h-13.8zM693.1 398.9h13.8v13.8h-13.8zM754.1 418.4h13.8v13.8h-13.8zM815.1 437.5h13.8v13.8h-13.8zM876.1 447.7h13.8v13.8h-13.8zM937.1 477.3h13.8v13.8h-13.8zM144.1 146h13.8v13.8h-13.8zM205.1 146.7h13.8v13.8h-13.8zM266.1 169.5h13.8v13.8h-13.8zM327.1 182.2h13.8v13.8h-13.8zM388.1 239.9h13.8v13.8h-13.8zM449.1 266.2h13.8v13.8h-13.8zM510.1 302.3h13.8v13.8h-13.8zM571.1 317.8h13.8v13.8h-13.8zM632.1 356.1h13.8v13.8h-13.8zM693.1 382.4h13.8v13.8h-13.8zM754.1 405.8h13.8v13.8h-13.8zM815.1 441.5h13.8v13.8h-13.8zM876.1 457.7h13.8v13.8h-13.8zM937.1 461.1h13.8v13.8h-13.8zM144.1 190h13.8v13.8h-13.8zM205.1 208.7h13.8v13.8h-13.8zM266.1 229.9h13.8v13.8h-13.8zM327.1 260.9h13.8v13.8h-13.8zM388.1 302.7h13.8v13.8h-13.8zM449.1 309.2h13.8v13.8h-13.8zM510.1 342.1h13.8v13.8h-13.8zM571.1 366h13.8v13.8h-13.8zM632.1 416.7h13.8v13.8h-13.8zM693.1 447.4h13.8v13.8h-13.8zM754.1 460h13.8v13.8h-13.8zM815.1 490.8h13.8v13.8h-13.8zM876.1 510.9h13.8v13.8h-13.8zM937.1 515.5h13.8v13.8h-13.8zM144.1 263.5h13.8v13.8h-13.8zM205.1 277.7h13.8v13.8h-13.8zM266.1 296.7h13.8v13.8h-13.8zM327.1 307.2h13.8v13.8h-13.8zM388.1 352.9h13.8v13.8h-13.8zM449.1 356.5h13.8v13.8h-13.8zM510.1 396.6h13.8v13.8h-13.8zM571.1 416.5h13.8v13.8h-13.8zM632.1 473.8h13.8v13.8h-13.8zM693.1 487.4h13.8v13.8h-13.8zM754.1 509.5h13.8v13.8h-13.8zM815.1 540.3h13.8v13.8h-13.8zM876.1 555.6h13.8v13.8h-13.8zM937.1 568.7h13.8v13.8h-13.8zM144.1 202.9h13.8v13.8h-13.8zM205.1 206.7h13.8v13.8h-13.8zM266.1 231.2h13.8v13.8h-13.8zM327.1 249.2h13.8v13.8h-13.8zM388.1 289.4h13.8v13.8h-13.8zM449.1 312.8h13.8v13.8h-13.8zM510.1 351.6h13.8v13.8h-13.8zM571.1 362.6h13.8v13.8h-13.8zM632.1 407h13.8v13.8h-13.8zM693.1 426.9h13.8v13.8h-13.8zM754.1 456.1h13.8v13.8h-13.8zM815.1 491.2h13.8v13.8h-13.8zM876.1 499.6h13.8v13.8h-13.8zM937.1 513.7h13.8v13.8h-13.8zM144.1 162.3h13.8v13.8h-13.8zM205.1 171.6h13.8v13.8h-13.8zM266.1 191.7h13.8v13.8h-13.8zM327.1 203.6h13.8v13.8h-13.8zM388.1 264h13.8v13.8h-13.8zM449.1 268.3h13.8v13.8h-13.8zM510.1 296h13.8v13.8h-13.8zM571.1 335.3h13.8v13.8h-13.8zM632.1 362.9h13.8v13.8h-13.8zM693.1 401h13.8v13.8h-13.8zM754.1 424.1h13.8v13.8h-13.8zM815.1 456.8h13.8v13.8h-13.8zM876.1 466.3h13.8v13.8h-13.8zM937.1 478.1h13.8v13.8h-13.8zM144.1 188.7h13.8v13.8h-13.8zM205.1 199.8h13.8v13.8h-13.8zM266.1 212.5h13.8v13.8h-13.8zM327.1 241.6h13.8v13.8h-13.8zM388.1 301.3h13.8v13.8h-13.8zM449.1 297.1h13.8v13.8h-13.8zM510.1 327.8h13.8v13.8h-13.8zM571.1 366.6h13.8v13.8h-13.8zM632.1 397.9h13.8v13.8h-13.8zM693.1 430.3h13.8v13.8h-13.8zM754.1 458.2h13.8v13.8h-13.8zM815.1 472.6h13.8v13.8h-13.8zM876.1 493.3h13.8v13.8h-13.8zM937.1 511.1h13.8v13.8h-13.8zM144.1 196.7h13.8v13.8h-13.8zM205.1 217.7h13.8v13.8h-13.8zM266.1 243.2h13.8v13.8h-13.8zM327.1 257.1h13.8v13.8h-13.8zM388.1 309.2h13.8v13.8h-13.8zM449.1 316.5h13.8v13.8h-13.8zM510.1 341.9h13.8v13.8h-13.8zM571.1 374.1h13.8v13.8h-13.8zM632.1 423h13.8v13.8h-13.8zM693.1 447h13.8v13.8h-13.8zM754.1 462.7h13.8v13.8h-13.8zM815.1 488.2h13.8v13.8h-13.8zM876.1 509.1h13.8v13.8h-13.8zM937.1 525.5h13.8v13.8h-13.8zM144.1 117.3h13.8v13.8h-13.8zM205.1 119.6h13.8v13.8h-13.8zM266.1 125.1h13.8v13.8h-13.8zM327.1 162.8h13.8v13.8h-13.8zM388.1 211.9h13.8v13.8h-13.8zM449.1 226.3h13.8v13.8h-13.8zM510.1 254.1h13.8v13.8h-13.8zM571.1 291h13.8v13.8h-13.8zM632.1 335.2h13.8v13.8h-13.8zM693.1 361.2h13.8v13.8h-13.8zM754.1 378.5h13.8v13.8h-13.8zM815.1 402.6h13.8v13.8h-13.8zM876.1 442.3h13.8v13.8h-13.8zM937.1 436.2h13.8v13.8h-13.8zM144.1 106.4h13.8v13.8h-13.8zM205.1 129.4h13.8v13.8h-13.8zM266.1 135.7h13.8v13.8h-13.8zM327.1 160.6h13.8v13.8h-13.8zM388.1 214.9h13.8v13.8h-13.8zM449.1 229.7h13.8v13.8h-13.8zM510.1 269.7h13.8v13.8h-13.8zM571.1 306.9h13.8v13.8h-13.8zM632.1 341.5h13.8v13.8h-13.8zM693.1 362.2h13.8v13.8h-13.8zM754.1 398.5h13.8v13.8h-13.8zM815.1 415.3h13.8v13.8h-13.8zM876.1 432.9h13.8v13.8h-13.8zM937.1 446.4h13.8v13.8h-13.8zM144.1 215.8h13.8v13.8h-13.8zM205.1 241.4h13.8v13.8h-13.8zM266.1 261.6h13.8v13.8h-13.8zM327.1 265.1h13.8v13.8h-13.8zM388.1 320.3h13.8v13.8h-13.8zM449.1 333.7h13.8v13.8h-13.8zM510.1 364.3h13.8v13.8h-13.8zM571.1 385.4h13.8v13.8h-13.8zM632.1 433.8h13.8v13.8h-13.8zM693.1 456.4h13.8v13.8h-13.8zM754.1 477h13.8v13.8h-13.8zM815.1 506.7h13.8v13.8h-13.8zM876.1 526.4h13.8v13.8h-13.8zM937.1 540.3h13.8v13.8h-13.8zM144.1 184.3h13.8v13.8h-13.8zM205.1 205.4h13.8v13.8h-13.8zM266.1 221.8h13.8v13.8h-13.8zM327.1 239.9h13.8v13.8h-13.8zM388.1 290.6h13.8v13.8h-13.8zM449.1 307.1h13.8v13.8h-13.8zM510.1 339.7h13.8v13.8h-13.8zM571.1 350.1h13.8v13.8h-13.8zM632.1 403h13.8v13.8h-13.8zM693.1 435.3h13.8v13.8h-13.8zM754.1 451.7h13.8v13.8h-13.8zM815.1 485.4h13.8v13.8h-13.8zM876.1 498.2h13.8v13.8h-13.8zM937.1 514.2h13.8v13.8h-13.8zM144.1 177.3h13.8v13.8h-13.8zM205.1 180.3h13.8v13.8h-13.8zM266.1 206.5h13.8v13.8h-13.8zM327.1 210.5h13.8v13.8h-13.8zM388.1 279.6h13.8v13.8h-13.8zM449.1 271.1h13.8v13.8h-13.8zM510.1 317.8h13.8v13.8h-13.8zM571.1 341.9h13.8v13.8h-13.8zM632.1 376.5h13.8v13.8h-13.8zM693.1 405.5h13.8v13.8h-13.8zM754.1 424.8h13.8v13.8h-13.8zM815.1 452.5h13.8v13.8h-13.8zM876.1 473.4h13.8v13.8h-13.8zM937.1 491.4h13.8v13.8h-13.8zM144.1 167.6h13.8v13.8h-13.8zM205.1 176.9h13.8v13.8h-13.8zM266.1 182.5h13.8v13.8h-13.8zM327.1 205.9h13.8v13.8h-13.8zM388.1 276.8h13.8v13.8h-13.8zM449.1 277.9h13.8v13.8h-13.8zM510.1 316.3h13.8v13.8h-13.8zM571.1 334.3h13.8v13.8h-13.8zM632.1 381.8h13.8v13.8h-13.8zM693.1 398.5h13.8v13.8h-13.8zM754.1 430.8h13.8v13.8h-13.8zM815.1 459.2h13.8v13.8h-13.8zM876.1 486.9h13.8v13.8h-13.8zM937.1 488.6h13.8v13.8h-13.8zM144.1 239.3h13.8v13.8h-13.8zM205.1 245.2h13.8v13.8h-13.8zM266.1 273.6h13.8v13.8h-13.8zM327.1 283.3h13.8v13.8h-13.8zM388.1 334.6h13.8v13.8h-13.8zM449.1 344.7h13.8v13.8h-13.8zM510.1 373.5h13.8v13.8h-13.8zM571.1 398.3h13.8v13.8h-13.8zM632.1 433.7h13.8v13.8h-13.8zM693.1 465.8h13.8v13.8h-13.8zM754.1 483.1h13.8v13.8h-13.8zM815.1 519.7h13.8v13.8h-13.8zM876.1 530.4h13.8v13.8h-13.8zM937.1 547.1h13.8v13.8h-13.8zM144.1 176.2h13.8v13.8h-13.8zM205.1 173.3h13.8v13.8h-13.8zM266.1 203.2h13.8v13.8h-13.8zM327.1 239h13.8v13.8h-13.8zM388.1 278.8h13.8v13.8h-13.8zM449.1 289.9h13.8v13.8h-13.8zM510.1 316.5h13.8v13.8h-13.8zM571.1 341.2h13.8v13.8h-13.8zM632.1 387.6h13.8v13.8h-13.8zM693.1 413.9h13.8v13.8h-13.8zM754.1 432.8h13.8v13.8h-13.8zM815.1 467.4h13.8v13.8h-13.8zM876.1 482.1h13.8v13.8h-13.8zM937.1 500.5h13.8v13.8h-13.8zM144.1 156.1h13.8v13.8h-13.8zM205.1 182.1h13.8v13.8h-13.8zM266.1 183.6h13.8v13.8h-13.8zM327.1 204h13.8v13.8h-13.8zM388.1 255h13.8v13.8h-13.8zM449.1 273.9h13.8v13.8h-13.8zM510.1 300.4h13.8v13.8h-13.8zM571.1 328.8h13.8v13.8h-13.8zM632.1 363.2h13.8v13.8h-13.8zM693.1 399.2h13.8v13.8h-13.8zM754.1 415.6h13.8v13.8h-13.8zM815.1 451h13.8v13.8h-13.8zM876.1 463h13.8v13.8h-13.8zM937.1 484.1h13.8v13.8h-13.8zM144.1 156.6h13.8v13.8h-13.8zM205.1 160.8h13.8v13.8h-13.8zM266.1 177.4h13.8v13.8h-13.8zM327.1 192.2h13.8v13.8h-13.8zM388.1 243.4h13.8v13.8h-13.8zM449.1 256.6h13.8v13.8h-13.8zM510.1 288.1h13.8v13.8h-13.8zM571.1 316.3h13.8v13.8h-13.8zM632.1 360h13.8v13.8h-13.8zM693.1 391.6h13.8v13.8h-13.8zM754.1 418.2h13.8v13.8h-13.8zM815.1 440.6h13.8v13.8h-13.8zM876.1 458.9h13.8v13.8h-13.8zM937.1 476.6h13.8v13.8h-13.8zM144.1 82.3h13.8v13.8h-13.8zM205.1 96.7h13.8v13.8h-13.8zM266.1 116.7h13.8v13.8h-13.8zM327.1 148.6h13.8v13.8h-13.8zM388.1 189h13.8v13.8h-13.8zM449.1 201.3h13.8v13.8h-13.8zM510.1 245.5h13.8v13.8h-13.8zM571.1 269.2h13.8v13.8h-13.8zM632.1 311.8h13.8v13.8h-13.8zM693.1 356.6h13.8v13.8h-13.8zM754.1 365.2h13.8v13.8h-13.8zM815.1 399.9h13.8v13.8h-13.8zM876.1 413.4h13.8v13.8h-13.8zM937.1 419h13.8v13.8h-13.8zM144.1 227.4h13.8v13.8h-13.8zM205.1 243h13.8v13.8h-13.8zM266.1 267.1h13.8v13.8h-13.8zM327.1 262.9h13.8v13.8h-13.8zM388.1 334.2h13.8v13.8h-13.8zM449.1 343.6h13.8v13.8h-13.8zM510.1 364.7h13.8v13.8h-13.8zM571.1 389.8h13.8v13.8h-13.8zM632.1 432.6h13.8v13.8h-13.8zM693.1 455.6h13.8v13.8h-13.8zM754.1 490.7h13.8v13.8h-13.8zM815.1 523.8h13.8v13.8h-13.8zM876.1 518.1h13.8v13.8h-13.8zM937.1 545.5h13.8v13.8h-13.8zM144.1 166.1h13.8v13.8h-13.8zM205.1 178.9h13.8v13.8h-13.8zM266.1 198.8h13.8v13.8h-13.8zM327.1 203.5h13.8v13.8h-13.8zM388.1 269.5h13.8v13.8h-13.8zM449.1 277h13.8v13.8h-13.8zM510.1 319.8h13.8v13.8h-13.8zM571.1 338.4h13.8v13.8h-13.8zM632.1 372.9h13.8v13.8h-13.8zM693.1 412.8h13.8v13.8h-13.8zM754.1 429.7h13.8v13.8h-13.8zM815.1 459.4h13.8v13.8h-13.8zM876.1 468.6h13.8v13.8h-13.8zM937.1 490.1h13.8v13.8h-13.8zM144.1 120.1h13.8v13.8h-13.8zM205.1 129.9h13.8v13.8h-13.8zM266.1 160h13.8v13.8h-13.8zM327.1 179h13.8v13.8h-13.8zM388.1 222.2h13.8v13.8h-13.8zM449.1 234h13.8v13.8h-13.8zM510.1 271.1h13.8v13.8h-13.8zM571.1 304.5h13.8v13.8h-13.8zM632.1 342.3h13.8v13.8h-13.8zM693.1 368.2h13.8v13.8h-13.8zM754.1 386.1h13.8v13.8h-13.8zM815.1 424.9h13.8v13.8h-13.8zM876.1 429.5h13.8v13.8h-13.8zM937.1 443.6h13.8v13.8h-13.8zM144.1 195.3h13.8v13.8h-13.8zM205.1 191.5h13.8v13.8h-13.8zM266.1 207h13.8v13.8h-13.8zM327.1 230.5h13.8v13.8h-13.8zM388.1 298.3h13.8v13.8h-13.8zM449.1 293.7h13.8v13.8h-13.8zM510.1 324.8h13.8v13.8h-13.8zM571.1 354h13.8v13.8h-13.8zM632.1 403.1h13.8v13.8h-13.8zM693.1 416.6h13.8v13.8h-13.8zM754.1 443.9h13.8v13.8h-13.8zM815.1 481.9h13.8v13.8h-13.8zM876.1 492h13.8v13.8h-13.8zM937.1 505.9h13.8v13.8h-13.8zM144.1 203.1h13.8v13.8h-13.8zM205.1 208.6h13.8v13.8h-13.8zM266.1 238.4h13.8v13.8h-13.8zM327.1 245.6h13.8v13.8h-13.8zM388.1 303.5h13.8v13.8h-13.8zM449.1 320.9h13.8v13.8h-13.8zM510.1 335.7h13.8v13.8h-13.8zM571.1 366.3h13.8v13.8h-13.8zM632.1 416.8h13.8v13.8h-13.8zM693.1 444.7h13.8v13.8h-13.8zM754.1 455.8h13.8v13.8h-13.8zM815.1 484.6h13.8v13.8h-13.8zM876.1 508.4h13.8v13.8h-13.8zM937.1 524.1h13.8v13.8h-13.8zM144.1 243.6h13.8v13.8h-13.8zM205.1 254h13.8v13.8h-13.8zM266.1 277h13.8v13.8h-13.8zM327.1 292.6h13.8v13.8h-13.8zM388.1 352.1h13.8v13.8h-13.8zM449.1 348.3h13.8v13.8h-13.8zM510.1 379.1h13.8v13.8h-13.8zM571.1 408.6h13.8v13.8h-13.8zM632.1 445.4h13.8v13.8h-13.8zM693.1 476.9h13.8v13.8h-13.8zM754.1 498.4h13.8v13.8h-13.8zM815.1 527.9h13.8v13.8h-13.8zM876.1 539.1h13.8v13.8h-13.8zM937.1 559.6h13.8v13.8h-13.8zM144.1 140.1h13.8v13.8h-13.8zM205.1 153.8h13.8v13.8h-13.8zM266.1 168.8h13.8v13.8h-13.8zM327.1 196.1h13.8v13.8h-13.8zM388.1 245.6h13.8v13.8h-13.8zM449.1 247.5h13.8v13.8h-13.8zM510.1 292.1h13.8v13.8h-13.8zM571.1 315.8h13.8v13.8h-13.8zM632.1 365.3h13.8v13.8h-13.8zM693.1 388.7h13.8v13.8h-13.8zM754.1 408.5h13.8v13.8h-13.8zM815.1 441.7h13.8v13.8h-13.8zM876.1 457.2h13.8v13.8h-13.8zM937.1 466.7h13.8v13.8h-13.8zM144.1 153.4h13.8v13.8h-13.8zM205.1 177.2h13.8v13.8h-13.8zM266.1 183.5h13.8v13.8h-13.8zM327.1 196.5h13.8v13.8h-13.8zM388.1 259.7h13.8v13.8h-13.8zM449.1 267.2h13.8v13.8h-13.8zM510.1 305.4h13.8v13.8h-13.8zM571.1 323.1h13.8v13.8h-13.8zM632.1 364.5h13.8v13.8h-13.8zM693.1 407h13.8v13.8h-13.8zM754.1 415.8h13.8v13.8h-13.8zM815.1 447.9h13.8v13.8h-13.8zM876.1 473.8h13.8v13.8h-13.8zM937.1 479h13.8v13.8h-13.8zM144.1 100.3h13.8v13.8h-13.8zM205.1 115.4h13.8v13.8h-13.8zM266.1 126.5h13.8v13.8h-13.8zM327.1 153.1h13.8v13.8h-13.8zM388.1 202.2h13.8v13.8h-13.8zM449.1 222.8h13.8v13.8h-13.8zM510.1 253.7h13.8v13.8h-13.8zM571.1 293.4h13.8v13.8h-13.8zM632.1 319.7h13.8v13.8h-13.8zM693.1 353.6h13.8v13.8h-13.8zM754.1 374.3h13.8v13.8h-13.8zM815.1 402h13.8v13.8h-13.8zM876.1 427.5h13.8v13.8h-13.8zM937.1 435.9h13.8v13.8h-13.8z" fill="#fff" stroke="#bad3f4" stroke-width="1.3"/>
<path d="M151 392.2L212 401.9 273 417.6 334 424.3 395 448.7 456 451.6 517 474.5 578 467.2 639 478.7 700 486.6 761 503.6 822 513.7 883 513.7 944 522.6M151 396.3L212 404 273 429.5 334 428.8 395 438.2 456 455.5 517 480.6 578 478.5 639 486.2 700 498.9 761 512.1 822 535 883 516.5 944 527.4M151 286.2L212 291.1 273 311.2 334 314.4 395 325.3 456 326.5 517 347.1 578 345.3 639 359.3 700 359.9 761 356.4 822 379.7 883 365.7 944 372.2M151 374L212 399.7 273 416.2 334 413.4 395 413.4 456 429.7 517 460.6 578 458 639 479.3 700 476.2 761 476.7 822 491.3 883 491.2 944 484.7M151 303.2L212 304.5 273 319.3 334 331.8 395 341.7 456 345.1 517 365.7 578 354.1 639 378 700 378.9 761 389.7 822 359.2 883 392.1 944 394.3M151 370.6L212 384 273 384.2 334 398.7 395 387.3 456 408 517 427.4 578 438.5 639 436.1 700 459.9 761 467.9 822 456.6 883 477.8 944 485M151 403.4L212 418.3 273 418.9 334 436.9 395 442.5 456 454 517 471.9 578 492.3 639 488.2 700 513.4 761 517.9 822 507.9 883 525.9 944 534.1M151 358.8L212 371.6 273 385.8 334 392.5 395 394.9 456 402.2 517 437.2 578 435.5 639 432.2 700 449.7 761 457.5 822 468.2 883 461.3 944 451.9M151 278.4L212 280 273 291 334 298.2 395 308.3 456 324.5 517 336 578 343.5 639 360.2 700 346.1 761 354.4 822 355 883 355.3 944 355.2M151 333.9L212 340.6 273 363.8 334 352.7 395 357.6 456 369.8 517 386.9 578 394.7 639 398.8 700 409.5 761 402.2 822 425.8 883 420.7 944 429.3M151 335.9L212 346.8 273 370.8 334 366.5 395 373.3 456 385.4 517 419.9 578 410.7 639 413.1 700 425.7 761 421.5 822 441.4 883 441.9 944 429M151 308.7L212 321.2 273 331.1 334 321.5 395 348.2 456 342.5 517 366.9 578 367.9 639 397.7 700 376.5 761 383.9 822 401.7 883 409 944 405M151 327.6L212 334.7 273 342.7 334 349.5 395 372.7 456 371.1 517 383.2 578 399.1 639 404.1 700 393.7 761 404.6 822 415.7 883 414.6 944 415.2M151 346.1L212 354.9 273 363.2 334 371.7 395 385.1 456 408.1 517 415.5 578 423.7 639 428.1 700 437 761 440.9 822 433.9 883 446.9 944 454.9M151 336.6L212 339.1 273 363.5 334 359.4 395 369 456 365.2 517 396.3 578 396.1 639 412 700 417.4 761 412.5 822 440.4 883 433.9 944 407.9M151 372.3L212 388.1 273 394.2 334 410.7 395 426.9 456 424.9 517 450.4 578 462.1 639 459.1 700 471.1 761 487.7 822 483.8 883 484.3 944 493.5M151 359.5L212 361.9 273 390.8 334 382.5 395 387.2 456 404.3 517 414.4 578 441.6 639 443.2 700 450.2 761 445.3 822 438.6 883 449.6 944 462.2M151 267.7L212 267.3 273 286.1 334 286.3 395 294.9 456 305.7 517 323.9 578 319.1 639 346.8 700 329.9 761 348.5 822 352.5 883 339.9 944 341.9M151 343.5L212 349.4 273 358.5 334 358.3 395 377.8 456 396.1 517 400.5 578 399.6 639 427.9 700 426.1 761 427.5 822 437.2 883 431.6 944 449.5M151 263.7L212 265 273 280.3 334 284.6 395 301.1 456 307.5 517 323.4 578 316.2 639 332.7 700 321.8 761 340.1 822 332.2 883 327.1 944 343.2M151 273.7L212 281.9 273 300.6 334 288.9 395 306.9 456 309.7 517 334.4 578 338.2 639 350.9 700 335.5 761 337.3 822 343.9 883 341.6 944 357.8M151 419.7L212 448 273 447.5 334 447 395 477 456 470.1 517 489 578 509.1 639 523.7 700 537.4 761 533.7 822 554.2 883 544.5 944 536.5M151 376.6L212 383.4 273 384.3 334 407.9 395 415.6 456 413.5 517 438.4 578 445.2 639 458.1 700 454.9 761 467.8 822 486.3 883 470.9 944 477.4M151 289L212 311.7 273 324.8 334 327.1 395 334.9 456 348 517 351.3 578 359.9 639 373.4 700 360 761 379.8 822 379.9 883 393.2 944 387.9M151 420L212 430.9 273 440.7 334 439.7 395 457.8 456 464.6 517 479 578 491.5 639 518.3 700 513.4 761 528.4 822 528 883 535.5 944 531.3M151 295.5L212 312.5 273 307.3 334 311.8 395 316.7 456 333.9 517 339.2 578 366.5 639 376.5 700 357.4 761 366.2 822 383.5 883 365.1 944 356.1M151 422L212 422.3 273 449 334 444 395 464.5 456 461.6 517 488.5 578 503.4 639 501.1 700 526.1 761 524.6 822 538.1 883 553.4 944 542.3M151 389.4L212 401 273 404.1 334 418.3 395 430.3 456 433.1 517 456.7 578 458.2 639 473.6 700 490.5 761 492.3 822 485.7 883 484 944 503.8M151 328.9L212 321.5 273 331.7 334 344.3 395 355.3 456 381.1 517 383.2 578 387.5 639 396.2 700 398.6 761 404.1 822 410 883 403.9 944 405.7M151 385.2L212 415.8 273 423.8 334 420.7 395 438.5 456 441.6 517 456 578 463.5 639 470 700 481.4 761 487 822 497 883 495.8 944 518.9M151 270.2L212 289.7 273 296.3 334 299.8 395 309.4 456 318.2 517 331.8 578 349.1 639 350 700 350 761 361.5 822 355.1 883 355.2 944 349.6M151 310.9L212 332.6 273 335.6 334 326 395 342.4 456 354.1 517 371.5 578 379.8 639 391.7 700 384.7 761 397.4 822 412.8 883 402.7 944 404.6" fill="none" stroke="#fdcaa9" stroke-width="1.2" stroke-linejoin="round" />
</g>
<g clip-path="url(#clipA)">
<path d="M151 131.9L212 144.5 273 177.4 334 192.2 395 246.4 456 270.1 517 296.1 578 325.6 639 355 700 390.4 761 411.5 822 426.2 883 452 944 460.1M151 146.9L212 159.5 273 182.5 334 194.5 395 244.9 456 274.3 517 286.6 578 327.1 639 366.3 700 390.4 761 411.3 822 427.8 883 452.2 944 461.6M151 149.9L212 160.2 273 190.9 334 207.5 395 256.4 456 273.8 517 292.6 578 335 639 368.5 700 394.9 761 414.4 822 438.7 883 456 944 465.5M151 155.5L212 161.9 273 187.9 334 211.5 395 253.6 456 280.8 517 295.9 578 334.4 639 371.9 700 398.7 761 415.2 822 433.9 883 457.3 944 463.1M151 158.2L212 173.1 273 195.9 334 208.7 395 257.4 456 287.1 517 306.4 578 331.7 639 373.7 700 405 761 416.4 822 439.2 883 463.4 944 471.6M151 159.3L212 172.4 273 201.4 334 218.2 395 262.2 456 291.8 517 303.2 578 340.7 639 378.5 700 403.8 761 423.1 822 443.4 883 464.9 944 472.6M151 165.2L212 181.4 273 216.5 334 224.8 395 266.1 456 290.3 517 309.9 578 339.5 639 382.2 700 407.2 761 422.9 822 448.3 883 463.8 944 474.1M151 179L212 184.9 273 208.2 334 232.8 395 271 456 299 517 313.1 578 342.9 639 386.7 700 410.2 761 425.6 822 450.9 883 470 944 481.5M151 186.9L212 200.6 273 215.9 334 236 395 272.5 456 307.8 517 308.9 578 349 639 392.2 700 416.2 761 428.5 822 454.7 883 473.2 944 484.3M151 192.2L212 200.6 273 222.8 334 243.6 395 275.1 456 305.5 517 327.7 578 356.4 639 393.1 700 417.4 761 432.2 822 455.1 883 473.9 944 491.8M151 195.6L212 204.5 273 220 334 247.3 395 278.1 456 312.3 517 326 578 358.6 639 395.2 700 416.3 761 434.5 822 461.6 883 477.2 944 488.7M151 201.5L212 210.3 273 234.9 334 246.2 395 285.5 456 322.7 517 325.5 578 354.8 639 397.3 700 421.5 761 439.6 822 465.6 883 477.2 944 491.9M151 206.6L212 230.2 273 245.9 334 257.7 395 290.7 456 323.1 517 330.6 578 365.8 639 409.2 700 427.2 761 442 822 467.4 883 481.4 944 504.4M151 205.8L212 226.4 273 247.9 334 252.8 395 293 456 325 517 337 578 362.6 639 410.4 700 425.5 761 439.4 822 473 883 486 944 499.6" fill="none" stroke="#6a3d9a" stroke-width="1.8" stroke-linejoin="round" />
<use href="#dsq" x="151" y="131.9"/><use href="#dsq" x="212" y="144.5"/><use href="#dsq" x="273" y="177.4"/><use href="#dsq" x="334" y="192.2"/><use href="#dsq" x="395" y="246.4"/><use href="#dsq" x="456" y="270.1"/><use href="#dsq" x="517" y="296.1"/><use href="#dsq" x="578" y="325.6"/><use href="#dsq" x="639" y="355"/><use href="#dsq" x="700" y="390.4"/><use href="#dsq" x="761" y="411.5"/><use href="#dsq" x="822" y="426.2"/><use href="#dsq" x="883" y="452"/><use href="#dsq" x="944" y="460.1"/><use href="#dsq" x="151" y="146.9"/><use href="#dsq" x="212" y="159.5"/><use href="#dsq" x="273" y="182.5"/><use href="#dsq" x="334" y="194.5"/><use href="#dsq" x="395" y="244.9"/><use href="#dsq" x="456" y="274.3"/><use href="#dsq" x="517" y="286.6"/><use href="#dsq" x="578" y="327.1"/><use href="#dsq" x="639" y="366.3"/><use href="#dsq" x="700" y="390.4"/><use href="#dsq" x="761" y="411.3"/><use href="#dsq" x="822" y="427.8"/><use href="#dsq" x="883" y="452.2"/><use href="#dsq" x="944" y="461.6"/><use href="#dsq" x="151" y="149.9"/><use href="#dsq" x="212" y="160.2"/><use href="#dsq" x="273" y="190.9"/><use href="#dsq" x="334" y="207.5"/><use href="#dsq" x="395" y="256.4"/><use href="#dsq" x="456" y="273.8"/><use href="#dsq" x="517" y="292.6"/><use href="#dsq" x="578" y="335"/><use href="#dsq" x="639" y="368.5"/><use href="#dsq" x="700" y="394.9"/><use href="#dsq" x="761" y="414.4"/><use href="#dsq" x="822" y="438.7"/><use href="#dsq" x="883" y="456"/><use href="#dsq" x="944" y="465.5"/><use href="#dsq" x="151" y="155.5"/><use href="#dsq" x="212" y="161.9"/><use href="#dsq" x="273" y="187.9"/><use href="#dsq" x="334" y="211.5"/><use href="#dsq" x="395" y="253.6"/><use href="#dsq" x="456" y="280.8"/><use href="#dsq" x="517" y="295.9"/><use href="#dsq" x="578" y="334.4"/><use href="#dsq" x="639" y="371.9"/><use href="#dsq" x="700" y="398.7"/><use href="#dsq" x="761" y="415.2"/><use href="#dsq" x="822" y="433.9"/><use href="#dsq" x="883" y="457.3"/><use href="#dsq" x="944" y="463.1"/><use href="#dsq" x="151" y="158.2"/><use href="#dsq" x="212" y="173.1"/><use href="#dsq" x="273" y="195.9"/><use href="#dsq" x="334" y="208.7"/><use href="#dsq" x="395" y="257.4"/><use href="#dsq" x="456" y="287.1"/><use href="#dsq" x="517" y="306.4"/><use href="#dsq" x="578" y="331.7"/><use href="#dsq" x="639" y="373.7"/><use href="#dsq" x="700" y="405"/><use href="#dsq" x="761" y="416.4"/><use href="#dsq" x="822" y="439.2"/><use href="#dsq" x="883" y="463.4"/><use href="#dsq" x="944" y="471.6"/><use href="#dsq" x="151" y="159.3"/><use href="#dsq" x="212" y="172.4"/><use href="#dsq" x="273" y="201.4"/><use href="#dsq" x="334" y="218.2"/><use href="#dsq" x="395" y="262.2"/><use href="#dsq" x="456" y="291.8"/><use href="#dsq" x="517" y="303.2"/><use href="#dsq" x="578" y="340.7"/><use href="#dsq" x="639" y="378.5"/><use href="#dsq" x="700" y="403.8"/><use href="#dsq" x="761" y="423.1"/><use href="#dsq" x="822" y="443.4"/><use href="#dsq" x="883" y="464.9"/><use href="#dsq" x="944" y="472.6"/><use href="#dsq" x="151" y="165.2"/><use href="#dsq" x="212" y="181.4"/><use href="#dsq" x="273" y="216.5"/><use href="#dsq" x="334" y="224.8"/><use href="#dsq" x="395" y="266.1"/><use href="#dsq" x="456" y="290.3"/><use href="#dsq" x="517" y="309.9"/><use href="#dsq" x="578" y="339.5"/><use href="#dsq" x="639" y="382.2"/><use href="#dsq" x="700" y="407.2"/><use href="#dsq" x="761" y="422.9"/><use href="#dsq" x="822" y="448.3"/><use href="#dsq" x="883" y="463.8"/><use href="#dsq" x="944" y="474.1"/><use href="#dsq" x="151" y="179"/><use href="#dsq" x="212" y="184.9"/><use href="#dsq" x="273" y="208.2"/><use href="#dsq" x="334" y="232.8"/><use href="#dsq" x="395" y="271"/><use href="#dsq" x="456" y="299"/><use href="#dsq" x="517" y="313.1"/><use href="#dsq" x="578" y="342.9"/><use href="#dsq" x="639" y="386.7"/><use href="#dsq" x="700" y="410.2"/><use href="#dsq" x="761" y="425.6"/><use href="#dsq" x="822" y="450.9"/><use href="#dsq" x="883" y="470"/><use href="#dsq" x="944" y="481.5"/><use href="#dsq" x="151" y="186.9"/><use href="#dsq" x="212" y="200.6"/><use href="#dsq" x="273" y="215.9"/><use href="#dsq" x="334" y="236"/><use href="#dsq" x="395" y="272.5"/><use href="#dsq" x="456" y="307.8"/><use href="#dsq" x="517" y="308.9"/><use href="#dsq" x="578" y="349"/><use href="#dsq" x="639" y="392.2"/><use href="#dsq" x="700" y="416.2"/><use href="#dsq" x="761" y="428.5"/><use href="#dsq" x="822" y="454.7"/><use href="#dsq" x="883" y="473.2"/><use href="#dsq" x="944" y="484.3"/><use href="#dsq" x="151" y="192.2"/><use href="#dsq" x="212" y="200.6"/><use href="#dsq" x="273" y="222.8"/><use href="#dsq" x="334" y="243.6"/><use href="#dsq" x="395" y="275.1"/><use href="#dsq" x="456" y="305.5"/><use href="#dsq" x="517" y="327.7"/><use href="#dsq" x="578" y="356.4"/><use href="#dsq" x="639" y="393.1"/><use href="#dsq" x="700" y="417.4"/><use href="#dsq" x="761" y="432.2"/><use href="#dsq" x="822" y="455.1"/><use href="#dsq" x="883" y="473.9"/><use href="#dsq" x="944" y="491.8"/><use href="#dsq" x="151" y="195.6"/><use href="#dsq" x="212" y="204.5"/><use href="#dsq" x="273" y="220"/><use href="#dsq" x="334" y="247.3"/><use href="#dsq" x="395" y="278.1"/><use href="#dsq" x="456" y="312.3"/><use href="#dsq" x="517" y="326"/><use href="#dsq" x="578" y="358.6"/><use href="#dsq" x="639" y="395.2"/><use href="#dsq" x="700" y="416.3"/><use href="#dsq" x="761" y="434.5"/><use href="#dsq" x="822" y="461.6"/><use href="#dsq" x="883" y="477.2"/><use href="#dsq" x="944" y="488.7"/><use href="#dsq" x="151" y="201.5"/><use href="#dsq" x="212" y="210.3"/><use href="#dsq" x="273" y="234.9"/><use href="#dsq" x="334" y="246.2"/><use href="#dsq" x="395" y="285.5"/><use href="#dsq" x="456" y="322.7"/><use href="#dsq" x="517" y="325.5"/><use href="#dsq" x="578" y="354.8"/><use href="#dsq" x="639" y="397.3"/><use href="#dsq" x="700" y="421.5"/><use href="#dsq" x="761" y="439.6"/><use href="#dsq" x="822" y="465.6"/><use href="#dsq" x="883" y="477.2"/><use href="#dsq" x="944" y="491.9"/><use href="#dsq" x="151" y="206.6"/><use href="#dsq" x="212" y="230.2"/><use href="#dsq" x="273" y="245.9"/><use href="#dsq" x="334" y="257.7"/><use href="#dsq" x="395" y="290.7"/><use href="#dsq" x="456" y="323.1"/><use href="#dsq" x="517" y="330.6"/><use href="#dsq" x="578" y="365.8"/><use href="#dsq" x="639" y="409.2"/><use href="#dsq" x="700" y="427.2"/><use href="#dsq" x="761" y="442"/><use href="#dsq" x="822" y="467.4"/><use href="#dsq" x="883" y="481.4"/><use href="#dsq" x="944" y="504.4"/><use href="#dsq" x="151" y="205.8"/><use href="#dsq" x="212" y="226.4"/><use href="#dsq" x="273" y="247.9"/><use href="#dsq" x="334" y="252.8"/><use href="#dsq" x="395" y="293"/><use href="#dsq" x="456" y="325"/><use href="#dsq" x="517" y="337"/><use href="#dsq" x="578" y="362.6"/><use href="#dsq" x="639" y="410.4"/><use href="#dsq" x="700" y="425.5"/><use href="#dsq" x="761" y="439.4"/><use href="#dsq" x="822" y="473"/><use href="#dsq" x="883" y="486"/><use href="#dsq" x="944" y="499.6"/>
<path d="M151 110.7L212 139.3 273 179.1 334 213.5 395 250.7 456 288.6 517 341.9 578 386.7 639 426 700 452.2 761 479.3 822 502.2 883 514.4 944 526.3" fill="none" stroke="#ff00ff" stroke-width="5.5" stroke-linejoin="round" stroke-linecap="round"/>
<path d="M151 478.7L212 464.4 273 446.2 334 425.5 395 408.6 456 412.5 517 396.9 578 398.2 639 402 700 409.9 761 408.6 822 417.7 883 424 944 432M151 480L212 470 273 452 334 433 395 413 456 418 517 402 578 404 639 406 700 415 761 415 822 425 883 430 944 437M151 490.4L212 476 273 460 334 440 395 418 456 425 517 410 578 410 639 411 700 423 761 423 822 432 883 436 944 442M151 492L212 478.7 273 465.7 334 447.5 395 422.9 456 433.2 517 415 578 416.4 639 416.4 700 430.6 761 430.6 822 439.7 883 442.3 944 446.2" fill="none" stroke="#2a8a55" stroke-width="2" stroke-linejoin="round" />
<use href="#dci" x="151" y="478.7"/><use href="#dci" x="212" y="464.4"/><use href="#dci" x="273" y="446.2"/><use href="#dci" x="334" y="425.5"/><use href="#dci" x="395" y="408.6"/><use href="#dci" x="456" y="412.5"/><use href="#dci" x="517" y="396.9"/><use href="#dci" x="578" y="398.2"/><use href="#dci" x="639" y="402"/><use href="#dci" x="700" y="409.9"/><use href="#dci" x="761" y="408.6"/><use href="#dci" x="822" y="417.7"/><use href="#dci" x="883" y="424"/><use href="#dci" x="944" y="432"/><use href="#dci" x="151" y="480"/><use href="#dci" x="212" y="470"/><use href="#dci" x="273" y="452"/><use href="#dci" x="334" y="433"/><use href="#dci" x="395" y="413"/><use href="#dci" x="456" y="418"/><use href="#dci" x="517" y="402"/><use href="#dci" x="578" y="404"/><use href="#dci" x="639" y="406"/><use href="#dci" x="700" y="415"/><use href="#dci" x="761" y="415"/><use href="#dci" x="822" y="425"/><use href="#dci" x="883" y="430"/><use href="#dci" x="944" y="437"/><use href="#dci" x="151" y="490.4"/><use href="#dci" x="212" y="476"/><use href="#dci" x="273" y="460"/><use href="#dci" x="334" y="440"/><use href="#dci" x="395" y="418"/><use href="#dci" x="456" y="425"/><use href="#dci" x="517" y="410"/><use href="#dci" x="578" y="410"/><use href="#dci" x="639" y="411"/><use href="#dci" x="700" y="423"/><use href="#dci" x="761" y="423"/><use href="#dci" x="822" y="432"/><use href="#dci" x="883" y="436"/><use href="#dci" x="944" y="442"/><use href="#dci" x="151" y="492"/><use href="#dci" x="212" y="478.7"/><use href="#dci" x="273" y="465.7"/><use href="#dci" x="334" y="447.5"/><use href="#dci" x="395" y="422.9"/><use href="#dci" x="456" y="433.2"/><use href="#dci" x="517" y="415"/><use href="#dci" x="578" y="416.4"/><use href="#dci" x="639" y="416.4"/><use href="#dci" x="700" y="430.6"/><use href="#dci" x="761" y="430.6"/><use href="#dci" x="822" y="439.7"/><use href="#dci" x="883" y="442.3"/><use href="#dci" x="944" y="446.2"/>
<path d="M151 460.5L212 439 273 434.5 334 420.3 395 421 456 428 517 425.5 578 428 639 429.4 700 435.8 761 437 822 439.7 883 447.5 944 450" fill="none" stroke="#0000ff" stroke-width="5.5" stroke-linejoin="round" stroke-linecap="round"/>
</g>
<line x1="402.3" y1="74" x2="186.7" y2="124" stroke="#ff00ff" stroke-width="1.4"/>
<text x="441" y="82.7" font-size="35.5" text-anchor="middle" fill="#ff00ff" >OIB</text>
<line x1="385" y1="590.4" x2="548.6" y2="428" stroke="#0000ff" stroke-width="1.4"/>
<text x="404" y="621" font-size="35.5" text-anchor="middle" fill="#0000ff" >N-MORB</text>
<g clip-path="url(#clipB)">
<path d="M1157.1 239.6L1187.5 150.5 1218 202.4 1248.4 282.1 1278.8 230.2 1309.2 233.2 1339.7 301.7 1370.1 243.4 1400.5 250 1431 260.8 1461.4 253.8 1491.8 287.6 1522.3 260.1 1552.7 251.3 1583.1 249.3 1613.5 272.6 1644 284.3 1674.4 279.5 1704.8 290.8 1735.3 301.1 1765.7 316.3 1796.1 336.4 1826.6 348.1 1857 354.2 1887.4 349.7 1917.8 349.7 1948.3 359.8 1978.7 360.4M1157.1 618.6L1187.5 320.1 1218 236.1 1248.4 254.9 1278.8 232.4 1309.2 241.1 1339.7 185.5 1370.1 240.1 1400.5 262.1 1431 208.9 1461.4 259 1491.8 294.9 1522.3 245.8 1552.7 258.3 1583.1 238.2 1613.5 245.6 1644 279.9 1674.4 265.1 1704.8 287.5 1735.3 301.6 1765.7 305 1796.1 320.8 1826.6 345.4 1857 340.8 1887.4 343.8 1917.8 355.8 1948.3 363 1978.7 365.5M1157.1 222.9L1187.5 150.5 1218 248.2 1248.4 290.2 1278.8 244.5 1309.2 268.7 1339.7 195.6 1370.1 253.8 1400.5 254.8 1431 408.5 1461.4 283.1 1491.8 311.7 1522.3 267.3 1552.7 277.5 1583.1 271.9 1613.5 279.7 1644 287.3 1674.4 317.3 1704.8 297.9 1735.3 316.5 1765.7 330.6 1796.1 331.2 1826.6 359.9 1857 354.9 1887.4 368.7 1917.8 373.6 1948.3 371.6 1978.7 370.9M1157.1 551.5L1187.5 164.3 1218 353.7 1248.4 338 1278.8 303.1 1309.2 325.8 1339.7 353.5 1370.1 310.3 1400.5 317.7 1431 408.5 1461.4 330.5 1491.8 364.6 1522.3 328.2 1552.7 327.1 1583.1 343.7 1613.5 341.4 1644 342.9 1674.4 354.6 1704.8 360.9 1735.3 366.5 1765.7 385.7 1796.1 381.5 1826.6 401.9 1857 396.9 1887.4 410.7 1917.8 405.7 1948.3 407.9 1978.7 420.8M1157.1 404.7L1187.5 357.6 1218 262.4 1248.4 244.5 1278.8 230.1 1309.2 218.4 1339.7 185.5 1370.1 244.1 1400.5 245.1 1431 211.2 1461.4 250.9 1491.8 239.5 1522.3 209.2 1552.7 267.1 1583.1 248.4 1613.5 258.8 1644 279.4 1674.4 288.6 1704.8 280.4 1735.3 301.2 1765.7 311.7 1796.1 317.5 1826.6 343.6 1857 332.8 1887.4 333 1917.8 362.4 1948.3 364.4 1978.7 356.1M1157.1 339.4L1187.5 324.5 1218 288.2 1248.4 290.8 1278.8 275.6 1309.2 269.4 1339.7 316.5 1370.1 283 1400.5 282 1431 267.1 1461.4 287.9 1491.8 298.8 1522.3 282.4 1552.7 289.7 1583.1 282.8 1613.5 311.1 1644 306.9 1674.4 308.9 1704.8 331.5 1735.3 351.7 1765.7 346.5 1796.1 344 1826.6 363.5 1857 368.8 1887.4 375.5 1917.8 384.5 1948.3 383.5 1978.7 395.4M1157.1 222.9L1187.5 150.5 1218 235 1248.4 218.8 1278.8 198.6 1309.2 210.8 1339.7 262.6 1370.1 222.5 1400.5 247.7 1431 203.8 1461.4 251.7 1491.8 239.5 1522.3 265.3 1552.7 246.5 1583.1 243.5 1613.5 254 1644 265.1 1674.4 244.6 1704.8 265.5 1735.3 287.3 1765.7 307.6 1796.1 320.2 1826.6 341.3 1857 330.6 1887.4 327.2 1917.8 341.4 1948.3 349.6 1978.7 354.5M1157.1 222.9L1187.5 161.2 1218 214.7 1248.4 226.4 1278.8 193.9 1309.2 226.6 1339.7 338 1370.1 207.7 1400.5 215.7 1431 185.5 1461.4 239.6 1491.8 239.5 1522.3 209.2 1552.7 240.5 1583.1 227.7 1613.5 225.4 1644 249.8 1674.4 247.7 1704.8 267.3 1735.3 281.3 1765.7 288.2 1796.1 313 1826.6 331.3 1857 319.7 1887.4 323.2 1917.8 330 1948.3 348.4 1978.7 340.7M1157.1 581.8L1187.5 150.5 1218 341.7 1248.4 322.3 1278.8 288.2 1309.2 283.1 1339.7 309.7 1370.1 273 1400.5 278 1431 245.6 1461.4 297 1491.8 310.6 1522.3 280.5 1552.7 307.1 1583.1 291.6 1613.5 307 1644 311.5 1674.4 314.4 1704.8 324.2 1735.3 334.3 1765.7 353.3 1796.1 358.1 1826.6 373.8 1857 365.8 1887.4 376 1917.8 381 1948.3 387 1978.7 382.2M1157.1 222.9L1187.5 253.7 1218 198.8 1248.4 190.1 1278.8 190.5 1309.2 214.4 1339.7 298.5 1370.1 219.4 1400.5 223.3 1431 185.5 1461.4 250.6 1491.8 239.5 1522.3 209.2 1552.7 239.4 1583.1 211.3 1613.5 226.5 1644 244.3 1674.4 241.1 1704.8 251.8 1735.3 281.4 1765.7 294.1 1796.1 312.2 1826.6 334.8 1857 331.4 1887.4 323.1 1917.8 333.9 1948.3 345.2 1978.7 347.4M1157.1 222.9L1187.5 229.8 1218 201.6 1248.4 220.3 1278.8 211.7 1309.2 199.5 1339.7 185.5 1370.1 210.7 1400.5 221.1 1431 238.7 1461.4 233.5 1491.8 269.4 1522.3 209.2 1552.7 223.9 1583.1 218 1613.5 236.2 1644 253.3 1674.4 241.1 1704.8 249.5 1735.3 274.6 1765.7 292.6 1796.1 300.2 1826.6 325.2 1857 314.9 1887.4 317.1 1917.8 334.5 1948.3 342.4 1978.7 341.8M1157.1 571.7L1187.5 150.5 1218 256.7 1248.4 298.2 1278.8 269.5 1309.2 258.1 1339.7 185.5 1370.1 267.3 1400.5 270.7 1431 193 1461.4 281.6 1491.8 285.1 1522.3 269.6 1552.7 289.2 1583.1 294.6 1613.5 288.1 1644 304.9 1674.4 304.2 1704.8 328 1735.3 333.3 1765.7 329.6 1796.1 362.6 1826.6 365.5 1857 355.9 1887.4 358.5 1917.8 361.5 1948.3 374 1978.7 380.1M1157.1 618.6L1187.5 368.7 1218 382.3 1248.4 393.3 1278.8 309.2 1309.2 317.7 1339.7 408.5 1370.1 316 1400.5 333.4 1431 408.5 1461.4 343.5 1491.8 325.7 1522.3 337.9 1552.7 334.7 1583.1 337 1613.5 345 1644 352.7 1674.4 359.7 1704.8 353.2 1735.3 383.6 1765.7 389 1796.1 394.4 1826.6 409.6 1857 404.7 1887.4 409.3 1917.8 411.6 1948.3 421.9 1978.7 408.4M1157.1 365.1L1187.5 150.5 1218 180.3 1248.4 190.1 1278.8 190.1 1309.2 201.3 1339.7 227.4 1370.1 211.3 1400.5 220.4 1431 185.5 1461.4 228.3 1491.8 239.5 1522.3 209.2 1552.7 219.2 1583.1 211.8 1613.5 225.6 1644 244.8 1674.4 241.1 1704.8 249.5 1735.3 276.6 1765.7 286.5 1796.1 300.2 1826.6 330.6 1857 313.9 1887.4 321.3 1917.8 330 1948.3 337.1 1978.7 342.2M1157.1 568.4L1187.5 383.5 1218 388 1248.4 394.9 1278.8 352.1 1309.2 356.5 1339.7 366.3 1370.1 326.7 1400.5 341.9 1431 334.6 1461.4 352.9 1491.8 364.6 1522.3 346.2 1552.7 354.5 1583.1 357.5 1613.5 370.4 1644 371 1674.4 376.9 1704.8 363 1735.3 387.6 1765.7 397.3 1796.1 408.5 1826.6 409.7 1857 410.2 1887.4 419.6 1917.8 423.8 1948.3 429 1978.7 424.9M1157.1 409.3L1187.5 295.9 1218 180.8 1248.4 209.5 1278.8 218.9 1309.2 228.9 1339.7 205 1370.1 239.1 1400.5 237 1431 185.5 1461.4 236.1 1491.8 255.3 1522.3 222 1552.7 259.4 1583.1 248.6 1613.5 252.6 1644 270.9 1674.4 265.3 1704.8 279.4 1735.3 293.2 1765.7 298.3 1796.1 322.8 1826.6 353 1857 324.4 1887.4 341.9 1917.8 348.6 1948.3 352.5 1978.7 354.3M1157.1 360.5L1187.5 294.7 1218 222.4 1248.4 196.2 1278.8 190.6 1309.2 211.8 1339.7 355.6 1370.1 215.5 1400.5 224.5 1431 260.8 1461.4 243.6 1491.8 266.6 1522.3 245.8 1552.7 239.5 1583.1 213.7 1613.5 238.9 1644 250.9 1674.4 258.7 1704.8 265.3 1735.3 285.1 1765.7 302.2 1796.1 316.2 1826.6 329.2 1857 320.8 1887.4 322.5 1917.8 330 1948.3 354.3 1978.7 340.4M1157.1 420.4L1187.5 446.6 1218 364.2 1248.4 305.7 1278.8 311 1309.2 314.6 1339.7 248.4 1370.1 288.5 1400.5 311.7 1431 185.5 1461.4 308.4 1491.8 318.6 1522.3 331.8 1552.7 321.6 1583.1 317.8 1613.5 338 1644 331.2 1674.4 343.3 1704.8 336.3 1735.3 358.2 1765.7 364.7 1796.1 363.7 1826.6 382.4 1857 391.1 1887.4 392.5 1917.8 412.1 1948.3 398.4 1978.7 408.1M1157.1 222.9L1187.5 150.5 1218 205.3 1248.4 228.7 1278.8 230.6 1309.2 213.9 1339.7 185.5 1370.1 225.1 1400.5 247.5 1431 185.5 1461.4 237.2 1491.8 261.1 1522.3 246.8 1552.7 231.6 1583.1 229.4 1613.5 248 1644 251.8 1674.4 249.7 1704.8 253.3 1735.3 290.8 1765.7 305.5 1796.1 324 1826.6 338.2 1857 324.8 1887.4 338.8 1917.8 334.5 1948.3 350.9 1978.7 351.1M1157.1 222.9L1187.5 420.9 1218 293 1248.4 254.9 1278.8 269.5 1309.2 256.4 1339.7 185.5 1370.1 245.1 1400.5 261.6 1431 212.7 1461.4 272 1491.8 290.4 1522.3 262.7 1552.7 276.3 1583.1 262.3 1613.5 283.3 1644 300.2 1674.4 290.1 1704.8 291.7 1735.3 336.7 1765.7 324.9 1796.1 340.7 1826.6 355.6 1857 342.8 1887.4 357.4 1917.8 364.7 1948.3 373.6 1978.7 377.6M1157.1 259.6L1187.5 385.1 1218 228.9 1248.4 214.4 1278.8 240.5 1309.2 239.9 1339.7 254.1 1370.1 245.3 1400.5 249.7 1431 285.6 1461.4 262.5 1491.8 272 1522.3 270.2 1552.7 248 1583.1 241.3 1613.5 272.9 1644 277.4 1674.4 290.3 1704.8 290.1 1735.3 307.3 1765.7 321.2 1796.1 328.3 1826.6 347.4 1857 328.8 1887.4 330.9 1917.8 357.2 1948.3 365 1978.7 362.7M1157.1 500L1187.5 309.3 1218 276.4 1248.4 320.4 1278.8 278.8 1309.2 283.8 1339.7 277.6 1370.1 274.6 1400.5 298.9 1431 285 1461.4 307.5 1491.8 304.8 1522.3 289 1552.7 316.1 1583.1 290.1 1613.5 306.8 1644 319.4 1674.4 318.9 1704.8 333.8 1735.3 340.8 1765.7 346.9 1796.1 350.9 1826.6 376.2 1857 377 1887.4 379.4 1917.8 388.5 1948.3 388.5 1978.7 390.2M1157.1 610.9L1187.5 280.3 1218 326.2 1248.4 308.7 1278.8 285.7 1309.2 277.7 1339.7 383.1 1370.1 292.8 1400.5 293.6 1431 307.5 1461.4 291.8 1491.8 343.7 1522.3 295.9 1552.7 305.7 1583.1 306.9 1613.5 320 1644 320.2 1674.4 327.4 1704.8 331 1735.3 342.4 1765.7 355.9 1796.1 361.7 1826.6 382.6 1857 363.5 1887.4 381.5 1917.8 376.9 1948.3 389.7 1978.7 399.2M1157.1 618.6L1187.5 444.7 1218 308.7 1248.4 301.9 1278.8 297.2 1309.2 299 1339.7 366.9 1370.1 305.8 1400.5 301.8 1431 230.4 1461.4 323.5 1491.8 317.7 1522.3 307 1552.7 317.3 1583.1 279.1 1613.5 315.5 1644 327.5 1674.4 343.3 1704.8 335.5 1735.3 353.4 1765.7 371.9 1796.1 383 1826.6 384 1857 374.7 1887.4 390.4 1917.8 386.7 1948.3 397.4 1978.7 402.2M1157.1 433.8L1187.5 153.1 1218 214.2 1248.4 202.7 1278.8 206.8 1309.2 216.6 1339.7 210.2 1370.1 246.7 1400.5 243.7 1431 310 1461.4 251.4 1491.8 274 1522.3 252.8 1552.7 250.9 1583.1 227.9 1613.5 251 1644 287.4 1674.4 244.9 1704.8 272.5 1735.3 296.9 1765.7 312.8 1796.1 318.6 1826.6 345.4 1857 339.4 1887.4 327.3 1917.8 345.2 1948.3 349.6 1978.7 352.3M1157.1 434L1187.5 207.7 1218 205.4 1248.4 246.1 1278.8 209.5 1309.2 223.8 1339.7 201 1370.1 227.7 1400.5 238.4 1431 204.5 1461.4 263.2 1491.8 271 1522.3 249.4 1552.7 244.4 1583.1 243.9 1613.5 246.7 1644 267.6 1674.4 266.8 1704.8 282.6 1735.3 286.3 1765.7 316.7 1796.1 315.9 1826.6 353.1 1857 321 1887.4 336 1917.8 343.3 1948.3 350.5 1978.7 349.1M1157.1 222.9L1187.5 258.5 1218 196.3 1248.4 220 1278.8 206.8 1309.2 227.4 1339.7 200.1 1370.1 218.7 1400.5 228.5 1431 185.5 1461.4 236.3 1491.8 239.5 1522.3 215 1552.7 240.1 1583.1 230.3 1613.5 229.2 1644 254.8 1674.4 251.1 1704.8 262.8 1735.3 290.6 1765.7 298.5 1796.1 312.9 1826.6 338.7 1857 320.8 1887.4 321.1 1917.8 333.9 1948.3 348.6 1978.7 350.4M1157.1 382.9L1187.5 150.5 1218 202.6 1248.4 252.5 1278.8 190.1 1309.2 199.5 1339.7 325.4 1370.1 215.6 1400.5 229.9 1431 256.8 1461.4 236.9 1491.8 268.9 1522.3 232.8 1552.7 223.8 1583.1 221.3 1613.5 239.2 1644 244.3 1674.4 241.1 1704.8 269.3 1735.3 275.9 1765.7 294.3 1796.1 300.2 1826.6 329.4 1857 320.7 1887.4 318.2 1917.8 336 1948.3 339.6 1978.7 350.6M1157.1 576.1L1187.5 413.1 1218 259.1 1248.4 230.5 1278.8 239 1309.2 235.8 1339.7 185.5 1370.1 253 1400.5 255.4 1431 252.6 1461.4 266.2 1491.8 290.3 1522.3 258.4 1552.7 262.3 1583.1 264.3 1613.5 268.3 1644 304.3 1674.4 300.7 1704.8 299.5 1735.3 305.1 1765.7 333 1796.1 332.8 1826.6 366.6 1857 344.9 1887.4 350.7 1917.8 372.2 1948.3 364.4 1978.7 372.3M1157.1 553.7L1187.5 446.6 1218 237.1 1248.4 260.9 1278.8 230.6 1309.2 224.5 1339.7 222 1370.1 246.2 1400.5 256.6 1431 185.5 1461.4 262.6 1491.8 287.1 1522.3 295.1 1552.7 258 1583.1 243.6 1613.5 257.2 1644 281.6 1674.4 283 1704.8 291.6 1735.3 305.7 1765.7 302.4 1796.1 320.7 1826.6 353.2 1857 339.2 1887.4 353.4 1917.8 356.4 1948.3 355.4 1978.7 360.5M1157.1 489.9L1187.5 348.7 1218 267.1 1248.4 254.6 1278.8 259.4 1309.2 273.9 1339.7 293 1370.1 255.7 1400.5 275.7 1431 227.2 1461.4 284.6 1491.8 280.1 1522.3 296.6 1552.7 285.5 1583.1 283.7 1613.5 301 1644 298.1 1674.4 311.2 1704.8 299.6 1735.3 325.4 1765.7 336.8 1796.1 341.8 1826.6 367.7 1857 359.3 1887.4 365.2 1917.8 372.7 1948.3 382.1 1978.7 375.3M1157.1 618.6L1187.5 327.4 1218 265.8 1248.4 308.9 1278.8 283.4 1309.2 283.1 1339.7 357.2 1370.1 273.4 1400.5 292.3 1431 338.4 1461.4 287.4 1491.8 292.5 1522.3 298.7 1552.7 301.4 1583.1 291 1613.5 305.2 1644 320.9 1674.4 315.7 1704.8 317.4 1735.3 330.6 1765.7 336.8 1796.1 359.1 1826.6 386.1 1857 363.8 1887.4 370.6 1917.8 373 1948.3 387.2 1978.7 384.7M1157.1 222.9L1187.5 150.5 1218 215.8 1248.4 231.6 1278.8 204.3 1309.2 214.6 1339.7 282 1370.1 221.8 1400.5 239.8 1431 310.3 1461.4 245.3 1491.8 248.7 1522.3 245 1552.7 222.5 1583.1 223.3 1613.5 246.1 1644 256.2 1674.4 251.7 1704.8 269.5 1735.3 280.3 1765.7 293.9 1796.1 302.9 1826.6 327.8 1857 320.6 1887.4 337.3 1917.8 342.6 1948.3 344.5 1978.7 347.6M1157.1 618.6L1187.5 366.1 1218 291.7 1248.4 337.2 1278.8 298.9 1309.2 282.2 1339.7 408.5 1370.1 289.6 1400.5 308.7 1431 341.5 1461.4 315.7 1491.8 316.9 1522.3 314.4 1552.7 318.4 1583.1 298.1 1613.5 319.6 1644 330.9 1674.4 339.2 1704.8 343.6 1735.3 352.3 1765.7 355.2 1796.1 374.5 1826.6 386.4 1857 386.7 1887.4 378.7 1917.8 394.9 1948.3 405.5 1978.7 403.7M1157.1 229.8L1187.5 326.4 1218 221.9 1248.4 218 1278.8 233.1 1309.2 233.4 1339.7 402.9 1370.1 237.9 1400.5 273.5 1431 256.9 1461.4 265.6 1491.8 267.3 1522.3 233.1 1552.7 250.7 1583.1 258.7 1613.5 267.2 1644 278 1674.4 292 1704.8 286.2 1735.3 303.5 1765.7 318.5 1796.1 330.9 1826.6 352.1 1857 339.9 1887.4 343.2 1917.8 358.8 1948.3 359.9 1978.7 363M1157.1 226.1L1187.5 397.6 1218 257.6 1248.4 286.2 1278.8 271 1309.2 255.5 1339.7 309.5 1370.1 264.5 1400.5 273.7 1431 355.9 1461.4 281 1491.8 289.1 1522.3 290.9 1552.7 280.3 1583.1 282 1613.5 270.1 1644 297.8 1674.4 307.5 1704.8 294.8 1735.3 316.1 1765.7 336.5 1796.1 338 1826.6 355.8 1857 357.6 1887.4 353.1 1917.8 363.5 1948.3 370.6 1978.7 374.8M1157.1 222.9L1187.5 242.9 1218 258.4 1248.4 254.7 1278.8 252.3 1309.2 241.4 1339.7 199.9 1370.1 249.1 1400.5 269.6 1431 271.8 1461.4 266 1491.8 266.6 1522.3 274.4 1552.7 257.3 1583.1 268.5 1613.5 272.4 1644 281.3 1674.4 282.7 1704.8 292.7 1735.3 312 1765.7 316.1 1796.1 334.8 1826.6 354.6 1857 346 1887.4 353.9 1917.8 374.1 1948.3 373.1 1978.7 379.5M1157.1 409.1L1187.5 409.8 1218 344.9 1248.4 361.8 1278.8 300.8 1309.2 328.1 1339.7 265.8 1370.1 308.8 1400.5 308 1431 311.5 1461.4 314.8 1491.8 364.6 1522.3 344.2 1552.7 317.7 1583.1 314.9 1613.5 343.2 1644 333.2 1674.4 360.2 1704.8 337.7 1735.3 362.2 1765.7 366.2 1796.1 368.3 1826.6 396.8 1857 384.4 1887.4 389.9 1917.8 413.5 1948.3 402.7 1978.7 407.4M1157.1 211.3L1187.5 20.6 1218 119.3 1248.4 139.2 1278.8 217.9 1309.2 218.8 1339.7 335.1 1370.1 217.1 1400.5 236.7 1431 143.3 1461.4 255 1491.8 272.2 1522.3 264.5 1552.7 242.8 1583.1 246.1 1613.5 261.4 1644 267 1674.4 269.2 1704.8 281.1 1735.3 300.7 1765.7 312.1 1796.1 314.4 1826.6 338.6 1857 338 1887.4 336.3 1917.8 342.8 1948.3 357.3 1978.7 348.2M1157.1 319L1187.5 44.9 1218 168 1248.4 158 1278.8 256.4 1309.2 260 1339.7 236.5 1370.1 258.7 1400.5 275.2 1431 172.3 1461.4 279.6 1491.8 316 1522.3 298.3 1552.7 278.5 1583.1 271.1 1613.5 304.7 1644 312.6 1674.4 292.2 1704.8 305.3 1735.3 306.1 1765.7 343.4 1796.1 346.8 1826.6 366 1857 352.8 1887.4 351.2 1917.8 362.5 1948.3 380.4 1978.7 370.7M1157.1 410.6L1187.5 95.5 1218 180.3 1248.4 190.1 1278.8 176.9 1309.2 199.5 1339.7 168.6 1370.1 205.3 1400.5 217.7 1431 266.6 1461.4 225.4 1491.8 222.9 1522.3 209.2 1552.7 219.2 1583.1 216.6 1613.5 227.7 1644 244.3 1674.4 241.1 1704.8 250.8 1735.3 274.6 1765.7 285.3 1796.1 310.6 1826.6 328.3 1857 324.2 1887.4 315 1917.8 332.2 1948.3 337.1 1978.7 338.3M1157.1 282.5L1187.5 102.6 1218 195.4 1248.4 181.1 1278.8 217.4 1309.2 185.5 1339.7 185.5 1370.1 224 1400.5 233.8 1431 193.3 1461.4 236.3 1491.8 257.4 1522.3 203.3 1552.7 240.8 1583.1 233.5 1613.5 250.4 1644 255.9 1674.4 263.3 1704.8 262.3 1735.3 287.1 1765.7 293.7 1796.1 329.6 1826.6 341.3 1857 332.7 1887.4 328.3 1917.8 338.1 1948.3 337.1 1978.7 342.1M1157.1 222.9L1187.5 132.9 1218 265.3 1248.4 250.2 1278.8 269.9 1309.2 248.1 1339.7 264.9 1370.1 196 1400.5 271.4 1431 159.6 1461.4 277.3 1491.8 285.5 1522.3 266.2 1552.7 274.3 1583.1 205.2 1613.5 273.2 1644 299 1674.4 293.1 1704.8 309.1 1735.3 321.5 1765.7 321.3 1796.1 343.4 1826.6 348.5 1857 347.2 1887.4 348 1917.8 365 1948.3 365.8 1978.7 366.1M1157.1 229.4L1187.5 171.1 1218 203.9 1248.4 190.1 1278.8 201.5 1309.2 212.6 1339.7 260.1 1370.1 225.9 1400.5 206.2 1431 185.5 1461.4 236.5 1491.8 264.5 1522.3 212.7 1552.7 215.7 1583.1 222 1613.5 231.5 1644 258.7 1674.4 233.5 1704.8 264.5 1735.3 283.8 1765.7 291.2 1796.1 309 1826.6 336 1857 312.8 1887.4 313.2 1917.8 345.2 1948.3 341.8 1978.7 350.1" fill="none" stroke="#d3c3e8" stroke-width="1.1" stroke-linejoin="round" />
<path d="M1150.2 232.7h13.8v13.8h-13.8zM1180.6 143.6h13.8v13.8h-13.8zM1211.1 195.5h13.8v13.8h-13.8zM1241.5 275.2h13.8v13.8h-13.8zM1271.9 223.3h13.8v13.8h-13.8zM1302.3 226.3h13.8v13.8h-13.8zM1332.8 294.8h13.8v13.8h-13.8zM1363.2 236.5h13.8v13.8h-13.8zM1393.6 243.1h13.8v13.8h-13.8zM1424.1 253.9h13.8v13.8h-13.8zM1454.5 246.9h13.8v13.8h-13.8zM1484.9 280.7h13.8v13.8h-13.8zM1515.4 253.2h13.8v13.8h-13.8zM1545.8 244.4h13.8v13.8h-13.8zM1576.2 242.4h13.8v13.8h-13.8zM1606.6 265.7h13.8v13.8h-13.8zM1637.1 277.4h13.8v13.8h-13.8zM1667.5 272.6h13.8v13.8h-13.8zM1697.9 283.9h13.8v13.8h-13.8zM1728.4 294.2h13.8v13.8h-13.8zM1758.8 309.4h13.8v13.8h-13.8zM1789.2 329.5h13.8v13.8h-13.8zM1819.7 341.2h13.8v13.8h-13.8zM1850.1 347.3h13.8v13.8h-13.8zM1880.5 342.8h13.8v13.8h-13.8zM1910.9 342.8h13.8v13.8h-13.8zM1941.4 352.9h13.8v13.8h-13.8zM1971.8 353.5h13.8v13.8h-13.8zM1150.2 611.7h13.8v13.8h-13.8zM1180.6 313.2h13.8v13.8h-13.8zM1211.1 229.2h13.8v13.8h-13.8zM1241.5 248h13.8v13.8h-13.8zM1271.9 225.5h13.8v13.8h-13.8zM1302.3 234.2h13.8v13.8h-13.8zM1332.8 178.6h13.8v13.8h-13.8zM1363.2 233.2h13.8v13.8h-13.8zM1393.6 255.2h13.8v13.8h-13.8zM1424.1 202h13.8v13.8h-13.8zM1454.5 252.1h13.8v13.8h-13.8zM1484.9 288h13.8v13.8h-13.8zM1515.4 238.9h13.8v13.8h-13.8zM1545.8 251.4h13.8v13.8h-13.8zM1576.2 231.3h13.8v13.8h-13.8zM1606.6 238.7h13.8v13.8h-13.8zM1637.1 273h13.8v13.8h-13.8zM1667.5 258.2h13.8v13.8h-13.8zM1697.9 280.6h13.8v13.8h-13.8zM1728.4 294.7h13.8v13.8h-13.8zM1758.8 298.1h13.8v13.8h-13.8zM1789.2 313.9h13.8v13.8h-13.8zM1819.7 338.5h13.8v13.8h-13.8zM1850.1 333.9h13.8v13.8h-13.8zM1880.5 336.9h13.8v13.8h-13.8zM1910.9 348.9h13.8v13.8h-13.8zM1941.4 356.1h13.8v13.8h-13.8zM1971.8 358.6h13.8v13.8h-13.8zM1150.2 216h13.8v13.8h-13.8zM1180.6 143.6h13.8v13.8h-13.8zM1211.1 241.3h13.8v13.8h-13.8zM1241.5 283.3h13.8v13.8h-13.8zM1271.9 237.6h13.8v13.8h-13.8zM1302.3 261.8h13.8v13.8h-13.8zM1332.8 188.7h13.8v13.8h-13.8zM1363.2 246.9h13.8v13.8h-13.8zM1393.6 247.9h13.8v13.8h-13.8zM1424.1 401.6h13.8v13.8h-13.8zM1454.5 276.2h13.8v13.8h-13.8zM1484.9 304.8h13.8v13.8h-13.8zM1515.4 260.4h13.8v13.8h-13.8zM1545.8 270.6h13.8v13.8h-13.8zM1576.2 265h13.8v13.8h-13.8zM1606.6 272.8h13.8v13.8h-13.8zM1637.1 280.4h13.8v13.8h-13.8zM1667.5 310.4h13.8v13.8h-13.8zM1697.9 291h13.8v13.8h-13.8zM1728.4 309.6h13.8v13.8h-13.8zM1758.8 323.7h13.8v13.8h-13.8zM1789.2 324.3h13.8v13.8h-13.8zM1819.7 353h13.8v13.8h-13.8zM1850.1 348h13.8v13.8h-13.8zM1880.5 361.8h13.8v13.8h-13.8zM1910.9 366.7h13.8v13.8h-13.8zM1941.4 364.7h13.8v13.8h-13.8zM1971.8 364h13.8v13.8h-13.8zM1150.2 544.6h13.8v13.8h-13.8zM1180.6 157.4h13.8v13.8h-13.8zM1211.1 346.8h13.8v13.8h-13.8zM1241.5 331.1h13.8v13.8h-13.8zM1271.9 296.2h13.8v13.8h-13.8zM1302.3 318.9h13.8v13.8h-13.8zM1332.8 346.6h13.8v13.8h-13.8zM1363.2 303.4h13.8v13.8h-13.8zM1393.6 310.8h13.8v13.8h-13.8zM1424.1 401.6h13.8v13.8h-13.8zM1454.5 323.6h13.8v13.8h-13.8zM1484.9 357.7h13.8v13.8h-13.8zM1515.4 321.3h13.8v13.8h-13.8zM1545.8 320.2h13.8v13.8h-13.8zM1576.2 336.8h13.8v13.8h-13.8zM1606.6 334.5h13.8v13.8h-13.8zM1637.1 336h13.8v13.8h-13.8zM1667.5 347.7h13.8v13.8h-13.8zM1697.9 354h13.8v13.8h-13.8zM1728.4 359.6h13.8v13.8h-13.8zM1758.8 378.8h13.8v13.8h-13.8zM1789.2 374.6h13.8v13.8h-13.8zM1819.7 395h13.8v13.8h-13.8zM1850.1 390h13.8v13.8h-13.8zM1880.5 403.8h13.8v13.8h-13.8zM1910.9 398.8h13.8v13.8h-13.8zM1941.4 401h13.8v13.8h-13.8zM1971.8 413.9h13.8v13.8h-13.8zM1150.2 397.8h13.8v13.8h-13.8zM1180.6 350.7h13.8v13.8h-13.8zM1211.1 255.5h13.8v13.8h-13.8zM1241.5 237.6h13.8v13.8h-13.8zM1271.9 223.2h13.8v13.8h-13.8zM1302.3 211.5h13.8v13.8h-13.8zM1332.8 178.6h13.8v13.8h-13.8zM1363.2 237.2h13.8v13.8h-13.8zM1393.6 238.2h13.8v13.8h-13.8zM1424.1 204.3h13.8v13.8h-13.8zM1454.5 244h13.8v13.8h-13.8zM1484.9 232.6h13.8v13.8h-13.8zM1515.4 202.3h13.8v13.8h-13.8zM1545.8 260.2h13.8v13.8h-13.8zM1576.2 241.5h13.8v13.8h-13.8zM1606.6 251.9h13.8v13.8h-13.8zM1637.1 272.5h13.8v13.8h-13.8zM1667.5 281.7h13.8v13.8h-13.8zM1697.9 273.5h13.8v13.8h-13.8zM1728.4 294.3h13.8v13.8h-13.8zM1758.8 304.8h13.8v13.8h-13.8zM1789.2 310.6h13.8v13.8h-13.8zM1819.7 336.7h13.8v13.8h-13.8zM1850.1 325.9h13.8v13.8h-13.8zM1880.5 326.1h13.8v13.8h-13.8zM1910.9 355.5h13.8v13.8h-13.8zM1941.4 357.5h13.8v13.8h-13.8zM1971.8 349.2h13.8v13.8h-13.8zM1150.2 332.5h13.8v13.8h-13.8zM1180.6 317.6h13.8v13.8h-13.8zM1211.1 281.3h13.8v13.8h-13.8zM1241.5 283.9h13.8v13.8h-13.8zM1271.9 268.7h13.8v13.8h-13.8zM1302.3 262.5h13.8v13.8h-13.8zM1332.8 309.6h13.8v13.8h-13.8zM1363.2 276.1h13.8v13.8h-13.8zM1393.6 275.1h13.8v13.8h-13.8zM1424.1 260.2h13.8v13.8h-13.8zM1454.5 281h13.8v13.8h-13.8zM1484.9 291.9h13.8v13.8h-13.8zM1515.4 275.5h13.8v13.8h-13.8zM1545.8 282.8h13.8v13.8h-13.8zM1576.2 275.9h13.8v13.8h-13.8zM1606.6 304.2h13.8v13.8h-13.8zM1637.1 300h13.8v13.8h-13.8zM1667.5 302h13.8v13.8h-13.8zM1697.9 324.6h13.8v13.8h-13.8zM1728.4 344.8h13.8v13.8h-13.8zM1758.8 339.6h13.8v13.8h-13.8zM1789.2 337.1h13.8v13.8h-13.8zM1819.7 356.6h13.8v13.8h-13.8zM1850.1 361.9h13.8v13.8h-13.8zM1880.5 368.6h13.8v13.8h-13.8zM1910.9 377.6h13.8v13.8h-13.8zM1941.4 376.6h13.8v13.8h-13.8zM1971.8 388.5h13.8v13.8h-13.8zM1150.2 216h13.8v13.8h-13.8zM1180.6 143.6h13.8v13.8h-13.8zM1211.1 228.1h13.8v13.8h-13.8zM1241.5 211.9h13.8v13.8h-13.8zM1271.9 191.7h13.8v13.8h-13.8zM1302.3 203.9h13.8v13.8h-13.8zM1332.8 255.7h13.8v13.8h-13.8zM1363.2 215.6h13.8v13.8h-13.8zM1393.6 240.8h13.8v13.8h-13.8zM1424.1 196.9h13.8v13.8h-13.8zM1454.5 244.8h13.8v13.8h-13.8zM1484.9 232.6h13.8v13.8h-13.8zM1515.4 258.4h13.8v13.8h-13.8zM1545.8 239.6h13.8v13.8h-13.8zM1576.2 236.6h13.8v13.8h-13.8zM1606.6 247.1h13.8v13.8h-13.8zM1637.1 258.2h13.8v13.8h-13.8zM1667.5 237.7h13.8v13.8h-13.8zM1697.9 258.6h13.8v13.8h-13.8zM1728.4 280.4h13.8v13.8h-13.8zM1758.8 300.7h13.8v13.8h-13.8zM1789.2 313.3h13.8v13.8h-13.8zM1819.7 334.4h13.8v13.8h-13.8zM1850.1 323.7h13.8v13.8h-13.8zM1880.5 320.3h13.8v13.8h-13.8zM1910.9 334.5h13.8v13.8h-13.8zM1941.4 342.7h13.8v13.8h-13.8zM1971.8 347.6h13.8v13.8h-13.8zM1150.2 216h13.8v13.8h-13.8zM1180.6 154.3h13.8v13.8h-13.8zM1211.1 207.8h13.8v13.8h-13.8zM1241.5 219.5h13.8v13.8h-13.8zM1271.9 187h13.8v13.8h-13.8zM1302.3 219.7h13.8v13.8h-13.8zM1332.8 331.1h13.8v13.8h-13.8zM1363.2 200.8h13.8v13.8h-13.8zM1393.6 208.8h13.8v13.8h-13.8zM1424.1 178.6h13.8v13.8h-13.8zM1454.5 232.7h13.8v13.8h-13.8zM1484.9 232.6h13.8v13.8h-13.8zM1515.4 202.3h13.8v13.8h-13.8zM1545.8 233.6h13.8v13.8h-13.8zM1576.2 220.8h13.8v13.8h-13.8zM1606.6 218.5h13.8v13.8h-13.8zM1637.1 242.9h13.8v13.8h-13.8zM1667.5 240.8h13.8v13.8h-13.8zM1697.9 260.4h13.8v13.8h-13.8zM1728.4 274.4h13.8v13.8h-13.8zM1758.8 281.3h13.8v13.8h-13.8zM1789.2 306.1h13.8v13.8h-13.8zM1819.7 324.4h13.8v13.8h-13.8zM1850.1 312.8h13.8v13.8h-13.8zM1880.5 316.3h13.8v13.8h-13.8zM1910.9 323.1h13.8v13.8h-13.8zM1941.4 341.5h13.8v13.8h-13.8zM1971.8 333.8h13.8v13.8h-13.8zM1150.2 574.9h13.8v13.8h-13.8zM1180.6 143.6h13.8v13.8h-13.8zM1211.1 334.8h13.8v13.8h-13.8zM1241.5 315.4h13.8v13.8h-13.8zM1271.9 281.3h13.8v13.8h-13.8zM1302.3 276.2h13.8v13.8h-13.8zM1332.8 302.8h13.8v13.8h-13.8zM1363.2 266.1h13.8v13.8h-13.8zM1393.6 271.1h13.8v13.8h-13.8zM1424.1 238.7h13.8v13.8h-13.8zM1454.5 290.1h13.8v13.8h-13.8zM1484.9 303.7h13.8v13.8h-13.8zM1515.4 273.6h13.8v13.8h-13.8zM1545.8 300.2h13.8v13.8h-13.8zM1576.2 284.7h13.8v13.8h-13.8zM1606.6 300.1h13.8v13.8h-13.8zM1637.1 304.6h13.8v13.8h-13.8zM1667.5 307.5h13.8v13.8h-13.8zM1697.9 317.3h13.8v13.8h-13.8zM1728.4 327.4h13.8v13.8h-13.8zM1758.8 346.4h13.8v13.8h-13.8zM1789.2 351.2h13.8v13.8h-13.8zM1819.7 366.9h13.8v13.8h-13.8zM1850.1 358.9h13.8v13.8h-13.8zM1880.5 369.1h13.8v13.8h-13.8zM1910.9 374.1h13.8v13.8h-13.8zM1941.4 380.1h13.8v13.8h-13.8zM1971.8 375.3h13.8v13.8h-13.8zM1150.2 216h13.8v13.8h-13.8zM1180.6 246.8h13.8v13.8h-13.8zM1211.1 191.9h13.8v13.8h-13.8zM1241.5 183.2h13.8v13.8h-13.8zM1271.9 183.6h13.8v13.8h-13.8zM1302.3 207.5h13.8v13.8h-13.8zM1332.8 291.6h13.8v13.8h-13.8zM1363.2 212.5h13.8v13.8h-13.8zM1393.6 216.4h13.8v13.8h-13.8zM1424.1 178.6h13.8v13.8h-13.8zM1454.5 243.7h13.8v13.8h-13.8zM1484.9 232.6h13.8v13.8h-13.8zM1515.4 202.3h13.8v13.8h-13.8zM1545.8 232.5h13.8v13.8h-13.8zM1576.2 204.4h13.8v13.8h-13.8zM1606.6 219.6h13.8v13.8h-13.8zM1637.1 237.4h13.8v13.8h-13.8zM1667.5 234.2h13.8v13.8h-13.8zM1697.9 244.9h13.8v13.8h-13.8zM1728.4 274.5h13.8v13.8h-13.8zM1758.8 287.2h13.8v13.8h-13.8zM1789.2 305.3h13.8v13.8h-13.8zM1819.7 327.9h13.8v13.8h-13.8zM1850.1 324.5h13.8v13.8h-13.8zM1880.5 316.2h13.8v13.8h-13.8zM1910.9 327h13.8v13.8h-13.8zM1941.4 338.3h13.8v13.8h-13.8zM1971.8 340.5h13.8v13.8h-13.8zM1150.2 216h13.8v13.8h-13.8zM1180.6 222.9h13.8v13.8h-13.8zM1211.1 194.7h13.8v13.8h-13.8zM1241.5 213.4h13.8v13.8h-13.8zM1271.9 204.8h13.8v13.8h-13.8zM1302.3 192.6h13.8v13.8h-13.8zM1332.8 178.6h13.8v13.8h-13.8zM1363.2 203.8h13.8v13.8h-13.8zM1393.6 214.2h13.8v13.8h-13.8zM1424.1 231.8h13.8v13.8h-13.8zM1454.5 226.6h13.8v13.8h-13.8zM1484.9 262.5h13.8v13.8h-13.8zM1515.4 202.3h13.8v13.8h-13.8zM1545.8 217h13.8v13.8h-13.8zM1576.2 211.1h13.8v13.8h-13.8zM1606.6 229.3h13.8v13.8h-13.8zM1637.1 246.4h13.8v13.8h-13.8zM1667.5 234.2h13.8v13.8h-13.8zM1697.9 242.6h13.8v13.8h-13.8zM1728.4 267.7h13.8v13.8h-13.8zM1758.8 285.7h13.8v13.8h-13.8zM1789.2 293.3h13.8v13.8h-13.8zM1819.7 318.3h13.8v13.8h-13.8zM1850.1 308h13.8v13.8h-13.8zM1880.5 310.2h13.8v13.8h-13.8zM1910.9 327.6h13.8v13.8h-13.8zM1941.4 335.5h13.8v13.8h-13.8zM1971.8 334.9h13.8v13.8h-13.8zM1150.2 564.8h13.8v13.8h-13.8zM1180.6 143.6h13.8v13.8h-13.8zM1211.1 249.8h13.8v13.8h-13.8zM1241.5 291.3h13.8v13.8h-13.8zM1271.9 262.6h13.8v13.8h-13.8zM1302.3 251.2h13.8v13.8h-13.8zM1332.8 178.6h13.8v13.8h-13.8zM1363.2 260.4h13.8v13.8h-13.8zM1393.6 263.8h13.8v13.8h-13.8zM1424.1 186.1h13.8v13.8h-13.8zM1454.5 274.7h13.8v13.8h-13.8zM1484.9 278.2h13.8v13.8h-13.8zM1515.4 262.7h13.8v13.8h-13.8zM1545.8 282.3h13.8v13.8h-13.8zM1576.2 287.7h13.8v13.8h-13.8zM1606.6 281.2h13.8v13.8h-13.8zM1637.1 298h13.8v13.8h-13.8zM1667.5 297.3h13.8v13.8h-13.8zM1697.9 321.1h13.8v13.8h-13.8zM1728.4 326.4h13.8v13.8h-13.8zM1758.8 322.7h13.8v13.8h-13.8zM1789.2 355.7h13.8v13.8h-13.8zM1819.7 358.6h13.8v13.8h-13.8zM1850.1 349h13.8v13.8h-13.8zM1880.5 351.6h13.8v13.8h-13.8zM1910.9 354.6h13.8v13.8h-13.8zM1941.4 367.1h13.8v13.8h-13.8zM1971.8 373.2h13.8v13.8h-13.8zM1150.2 611.7h13.8v13.8h-13.8zM1180.6 361.8h13.8v13.8h-13.8zM1211.1 375.4h13.8v13.8h-13.8zM1241.5 386.4h13.8v13.8h-13.8zM1271.9 302.3h13.8v13.8h-13.8zM1302.3 310.8h13.8v13.8h-13.8zM1332.8 401.6h13.8v13.8h-13.8zM1363.2 309.1h13.8v13.8h-13.8zM1393.6 326.5h13.8v13.8h-13.8zM1424.1 401.6h13.8v13.8h-13.8zM1454.5 336.6h13.8v13.8h-13.8zM1484.9 318.8h13.8v13.8h-13.8zM1515.4 331h13.8v13.8h-13.8zM1545.8 327.8h13.8v13.8h-13.8zM1576.2 330.1h13.8v13.8h-13.8zM1606.6 338.1h13.8v13.8h-13.8zM1637.1 345.8h13.8v13.8h-13.8zM1667.5 352.8h13.8v13.8h-13.8zM1697.9 346.3h13.8v13.8h-13.8zM1728.4 376.7h13.8v13.8h-13.8zM1758.8 382.1h13.8v13.8h-13.8zM1789.2 387.5h13.8v13.8h-13.8zM1819.7 402.7h13.8v13.8h-13.8zM1850.1 397.8h13.8v13.8h-13.8zM1880.5 402.4h13.8v13.8h-13.8zM1910.9 404.7h13.8v13.8h-13.8zM1941.4 415h13.8v13.8h-13.8zM1971.8 401.5h13.8v13.8h-13.8zM1150.2 358.2h13.8v13.8h-13.8zM1180.6 143.6h13.8v13.8h-13.8zM1211.1 173.4h13.8v13.8h-13.8zM1241.5 183.2h13.8v13.8h-13.8zM1271.9 183.2h13.8v13.8h-13.8zM1302.3 194.4h13.8v13.8h-13.8zM1332.8 220.5h13.8v13.8h-13.8zM1363.2 204.4h13.8v13.8h-13.8zM1393.6 213.5h13.8v13.8h-13.8zM1424.1 178.6h13.8v13.8h-13.8zM1454.5 221.4h13.8v13.8h-13.8zM1484.9 232.6h13.8v13.8h-13.8zM1515.4 202.3h13.8v13.8h-13.8zM1545.8 212.3h13.8v13.8h-13.8zM1576.2 204.9h13.8v13.8h-13.8zM1606.6 218.7h13.8v13.8h-13.8zM1637.1 237.9h13.8v13.8h-13.8zM1667.5 234.2h13.8v13.8h-13.8zM1697.9 242.6h13.8v13.8h-13.8zM1728.4 269.7h13.8v13.8h-13.8zM1758.8 279.6h13.8v13.8h-13.8zM1789.2 293.3h13.8v13.8h-13.8zM1819.7 323.7h13.8v13.8h-13.8zM1850.1 307h13.8v13.8h-13.8zM1880.5 314.4h13.8v13.8h-13.8zM1910.9 323.1h13.8v13.8h-13.8zM1941.4 330.2h13.8v13.8h-13.8zM1971.8 335.3h13.8v13.8h-13.8zM1150.2 561.5h13.8v13.8h-13.8zM1180.6 376.6h13.8v13.8h-13.8zM1211.1 381.1h13.8v13.8h-13.8zM1241.5 388h13.8v13.8h-13.8zM1271.9 345.2h13.8v13.8h-13.8zM1302.3 349.6h13.8v13.8h-13.8zM1332.8 359.4h13.8v13.8h-13.8zM1363.2 319.8h13.8v13.8h-13.8zM1393.6 335h13.8v13.8h-13.8zM1424.1 327.7h13.8v13.8h-13.8zM1454.5 346h13.8v13.8h-13.8zM1484.9 357.7h13.8v13.8h-13.8zM1515.4 339.3h13.8v13.8h-13.8zM1545.8 347.6h13.8v13.8h-13.8zM1576.2 350.6h13.8v13.8h-13.8zM1606.6 363.5h13.8v13.8h-13.8zM1637.1 364.1h13.8v13.8h-13.8zM1667.5 370h13.8v13.8h-13.8zM1697.9 356.1h13.8v13.8h-13.8zM1728.4 380.7h13.8v13.8h-13.8zM1758.8 390.4h13.8v13.8h-13.8zM1789.2 401.6h13.8v13.8h-13.8zM1819.7 402.8h13.8v13.8h-13.8zM1850.1 403.3h13.8v13.8h-13.8zM1880.5 412.7h13.8v13.8h-13.8zM1910.9 416.9h13.8v13.8h-13.8zM1941.4 422.1h13.8v13.8h-13.8zM1971.8 418h13.8v13.8h-13.8zM1150.2 402.4h13.8v13.8h-13.8zM1180.6 289h13.8v13.8h-13.8zM1211.1 173.9h13.8v13.8h-13.8zM1241.5 202.6h13.8v13.8h-13.8zM1271.9 212h13.8v13.8h-13.8zM1302.3 222h13.8v13.8h-13.8zM1332.8 198.1h13.8v13.8h-13.8zM1363.2 232.2h13.8v13.8h-13.8zM1393.6 230.1h13.8v13.8h-13.8zM1424.1 178.6h13.8v13.8h-13.8zM1454.5 229.2h13.8v13.8h-13.8zM1484.9 248.4h13.8v13.8h-13.8zM1515.4 215.1h13.8v13.8h-13.8zM1545.8 252.5h13.8v13.8h-13.8zM1576.2 241.7h13.8v13.8h-13.8zM1606.6 245.7h13.8v13.8h-13.8zM1637.1 264h13.8v13.8h-13.8zM1667.5 258.4h13.8v13.8h-13.8zM1697.9 272.5h13.8v13.8h-13.8zM1728.4 286.3h13.8v13.8h-13.8zM1758.8 291.4h13.8v13.8h-13.8zM1789.2 315.9h13.8v13.8h-13.8zM1819.7 346.1h13.8v13.8h-13.8zM1850.1 317.5h13.8v13.8h-13.8zM1880.5 335h13.8v13.8h-13.8zM1910.9 341.7h13.8v13.8h-13.8zM1941.4 345.6h13.8v13.8h-13.8zM1971.8 347.4h13.8v13.8h-13.8zM1150.2 353.6h13.8v13.8h-13.8zM1180.6 287.8h13.8v13.8h-13.8zM1211.1 215.5h13.8v13.8h-13.8zM1241.5 189.3h13.8v13.8h-13.8zM1271.9 183.7h13.8v13.8h-13.8zM1302.3 204.9h13.8v13.8h-13.8zM1332.8 348.7h13.8v13.8h-13.8zM1363.2 208.6h13.8v13.8h-13.8zM1393.6 217.6h13.8v13.8h-13.8zM1424.1 253.9h13.8v13.8h-13.8zM1454.5 236.7h13.8v13.8h-13.8zM1484.9 259.7h13.8v13.8h-13.8zM1515.4 238.9h13.8v13.8h-13.8zM1545.8 232.6h13.8v13.8h-13.8zM1576.2 206.8h13.8v13.8h-13.8zM1606.6 232h13.8v13.8h-13.8zM1637.1 244h13.8v13.8h-13.8zM1667.5 251.8h13.8v13.8h-13.8zM1697.9 258.4h13.8v13.8h-13.8zM1728.4 278.2h13.8v13.8h-13.8zM1758.8 295.3h13.8v13.8h-13.8zM1789.2 309.3h13.8v13.8h-13.8zM1819.7 322.3h13.8v13.8h-13.8zM1850.1 313.9h13.8v13.8h-13.8zM1880.5 315.6h13.8v13.8h-13.8zM1910.9 323.1h13.8v13.8h-13.8zM1941.4 347.4h13.8v13.8h-13.8zM1971.8 333.5h13.8v13.8h-13.8zM1150.2 413.5h13.8v13.8h-13.8zM1180.6 439.7h13.8v13.8h-13.8zM1211.1 357.3h13.8v13.8h-13.8zM1241.5 298.8h13.8v13.8h-13.8zM1271.9 304.1h13.8v13.8h-13.8zM1302.3 307.7h13.8v13.8h-13.8zM1332.8 241.5h13.8v13.8h-13.8zM1363.2 281.6h13.8v13.8h-13.8zM1393.6 304.8h13.8v13.8h-13.8zM1424.1 178.6h13.8v13.8h-13.8zM1454.5 301.5h13.8v13.8h-13.8zM1484.9 311.7h13.8v13.8h-13.8zM1515.4 324.9h13.8v13.8h-13.8zM1545.8 314.7h13.8v13.8h-13.8zM1576.2 310.9h13.8v13.8h-13.8zM1606.6 331.1h13.8v13.8h-13.8zM1637.1 324.3h13.8v13.8h-13.8zM1667.5 336.4h13.8v13.8h-13.8zM1697.9 329.4h13.8v13.8h-13.8zM1728.4 351.3h13.8v13.8h-13.8zM1758.8 357.8h13.8v13.8h-13.8zM1789.2 356.8h13.8v13.8h-13.8zM1819.7 375.5h13.8v13.8h-13.8zM1850.1 384.2h13.8v13.8h-13.8zM1880.5 385.6h13.8v13.8h-13.8zM1910.9 405.2h13.8v13.8h-13.8zM1941.4 391.5h13.8v13.8h-13.8zM1971.8 401.2h13.8v13.8h-13.8zM1150.2 216h13.8v13.8h-13.8zM1180.6 143.6h13.8v13.8h-13.8zM1211.1 198.4h13.8v13.8h-13.8zM1241.5 221.8h13.8v13.8h-13.8zM1271.9 223.7h13.8v13.8h-13.8zM1302.3 207h13.8v13.8h-13.8zM1332.8 178.6h13.8v13.8h-13.8zM1363.2 218.2h13.8v13.8h-13.8zM1393.6 240.6h13.8v13.8h-13.8zM1424.1 178.6h13.8v13.8h-13.8zM1454.5 230.3h13.8v13.8h-13.8zM1484.9 254.2h13.8v13.8h-13.8zM1515.4 239.9h13.8v13.8h-13.8zM1545.8 224.7h13.8v13.8h-13.8zM1576.2 222.5h13.8v13.8h-13.8zM1606.6 241.1h13.8v13.8h-13.8zM1637.1 244.9h13.8v13.8h-13.8zM1667.5 242.8h13.8v13.8h-13.8zM1697.9 246.4h13.8v13.8h-13.8zM1728.4 283.9h13.8v13.8h-13.8zM1758.8 298.6h13.8v13.8h-13.8zM1789.2 317.1h13.8v13.8h-13.8zM1819.7 331.3h13.8v13.8h-13.8zM1850.1 317.9h13.8v13.8h-13.8zM1880.5 331.9h13.8v13.8h-13.8zM1910.9 327.6h13.8v13.8h-13.8zM1941.4 344h13.8v13.8h-13.8zM1971.8 344.2h13.8v13.8h-13.8zM1150.2 216h13.8v13.8h-13.8zM1180.6 414h13.8v13.8h-13.8zM1211.1 286.1h13.8v13.8h-13.8zM1241.5 248h13.8v13.8h-13.8zM1271.9 262.6h13.8v13.8h-13.8zM1302.3 249.5h13.8v13.8h-13.8zM1332.8 178.6h13.8v13.8h-13.8zM1363.2 238.2h13.8v13.8h-13.8zM1393.6 254.7h13.8v13.8h-13.8zM1424.1 205.8h13.8v13.8h-13.8zM1454.5 265.1h13.8v13.8h-13.8zM1484.9 283.5h13.8v13.8h-13.8zM1515.4 255.8h13.8v13.8h-13.8zM1545.8 269.4h13.8v13.8h-13.8zM1576.2 255.4h13.8v13.8h-13.8zM1606.6 276.4h13.8v13.8h-13.8zM1637.1 293.3h13.8v13.8h-13.8zM1667.5 283.2h13.8v13.8h-13.8zM1697.9 284.8h13.8v13.8h-13.8zM1728.4 329.8h13.8v13.8h-13.8zM1758.8 318h13.8v13.8h-13.8zM1789.2 333.8h13.8v13.8h-13.8zM1819.7 348.7h13.8v13.8h-13.8zM1850.1 335.9h13.8v13.8h-13.8zM1880.5 350.5h13.8v13.8h-13.8zM1910.9 357.8h13.8v13.8h-13.8zM1941.4 366.7h13.8v13.8h-13.8zM1971.8 370.7h13.8v13.8h-13.8zM1150.2 252.7h13.8v13.8h-13.8zM1180.6 378.2h13.8v13.8h-13.8zM1211.1 222h13.8v13.8h-13.8zM1241.5 207.5h13.8v13.8h-13.8zM1271.9 233.6h13.8v13.8h-13.8zM1302.3 233h13.8v13.8h-13.8zM1332.8 247.2h13.8v13.8h-13.8zM1363.2 238.4h13.8v13.8h-13.8zM1393.6 242.8h13.8v13.8h-13.8zM1424.1 278.7h13.8v13.8h-13.8zM1454.5 255.6h13.8v13.8h-13.8zM1484.9 265.1h13.8v13.8h-13.8zM1515.4 263.3h13.8v13.8h-13.8zM1545.8 241.1h13.8v13.8h-13.8zM1576.2 234.4h13.8v13.8h-13.8zM1606.6 266h13.8v13.8h-13.8zM1637.1 270.5h13.8v13.8h-13.8zM1667.5 283.4h13.8v13.8h-13.8zM1697.9 283.2h13.8v13.8h-13.8zM1728.4 300.4h13.8v13.8h-13.8zM1758.8 314.3h13.8v13.8h-13.8zM1789.2 321.4h13.8v13.8h-13.8zM1819.7 340.5h13.8v13.8h-13.8zM1850.1 321.9h13.8v13.8h-13.8zM1880.5 324h13.8v13.8h-13.8zM1910.9 350.3h13.8v13.8h-13.8zM1941.4 358.1h13.8v13.8h-13.8zM1971.8 355.8h13.8v13.8h-13.8zM1150.2 493.1h13.8v13.8h-13.8zM1180.6 302.4h13.8v13.8h-13.8zM1211.1 269.5h13.8v13.8h-13.8zM1241.5 313.5h13.8v13.8h-13.8zM1271.9 271.9h13.8v13.8h-13.8zM1302.3 276.9h13.8v13.8h-13.8zM1332.8 270.7h13.8v13.8h-13.8zM1363.2 267.7h13.8v13.8h-13.8zM1393.6 292h13.8v13.8h-13.8zM1424.1 278.1h13.8v13.8h-13.8zM1454.5 300.6h13.8v13.8h-13.8zM1484.9 297.9h13.8v13.8h-13.8zM1515.4 282.1h13.8v13.8h-13.8zM1545.8 309.2h13.8v13.8h-13.8zM1576.2 283.2h13.8v13.8h-13.8zM1606.6 299.9h13.8v13.8h-13.8zM1637.1 312.5h13.8v13.8h-13.8zM1667.5 312h13.8v13.8h-13.8zM1697.9 326.9h13.8v13.8h-13.8zM1728.4 333.9h13.8v13.8h-13.8zM1758.8 340h13.8v13.8h-13.8zM1789.2 344h13.8v13.8h-13.8zM1819.7 369.3h13.8v13.8h-13.8zM1850.1 370.1h13.8v13.8h-13.8zM1880.5 372.5h13.8v13.8h-13.8zM1910.9 381.6h13.8v13.8h-13.8zM1941.4 381.6h13.8v13.8h-13.8zM1971.8 383.3h13.8v13.8h-13.8zM1150.2 604h13.8v13.8h-13.8zM1180.6 273.4h13.8v13.8h-13.8zM1211.1 319.3h13.8v13.8h-13.8zM1241.5 301.8h13.8v13.8h-13.8zM1271.9 278.8h13.8v13.8h-13.8zM1302.3 270.8h13.8v13.8h-13.8zM1332.8 376.2h13.8v13.8h-13.8zM1363.2 285.9h13.8v13.8h-13.8zM1393.6 286.7h13.8v13.8h-13.8zM1424.1 300.6h13.8v13.8h-13.8zM1454.5 284.9h13.8v13.8h-13.8zM1484.9 336.8h13.8v13.8h-13.8zM1515.4 289h13.8v13.8h-13.8zM1545.8 298.8h13.8v13.8h-13.8zM1576.2 300h13.8v13.8h-13.8zM1606.6 313.1h13.8v13.8h-13.8zM1637.1 313.3h13.8v13.8h-13.8zM1667.5 320.5h13.8v13.8h-13.8zM1697.9 324.1h13.8v13.8h-13.8zM1728.4 335.5h13.8v13.8h-13.8zM1758.8 349h13.8v13.8h-13.8zM1789.2 354.8h13.8v13.8h-13.8zM1819.7 375.7h13.8v13.8h-13.8zM1850.1 356.6h13.8v13.8h-13.8zM1880.5 374.6h13.8v13.8h-13.8zM1910.9 370h13.8v13.8h-13.8zM1941.4 382.8h13.8v13.8h-13.8zM1971.8 392.3h13.8v13.8h-13.8zM1150.2 611.7h13.8v13.8h-13.8zM1180.6 437.8h13.8v13.8h-13.8zM1211.1 301.8h13.8v13.8h-13.8zM1241.5 295h13.8v13.8h-13.8zM1271.9 290.3h13.8v13.8h-13.8zM1302.3 292.1h13.8v13.8h-13.8zM1332.8 360h13.8v13.8h-13.8zM1363.2 298.9h13.8v13.8h-13.8zM1393.6 294.9h13.8v13.8h-13.8zM1424.1 223.5h13.8v13.8h-13.8zM1454.5 316.6h13.8v13.8h-13.8zM1484.9 310.8h13.8v13.8h-13.8zM1515.4 300.1h13.8v13.8h-13.8zM1545.8 310.4h13.8v13.8h-13.8zM1576.2 272.2h13.8v13.8h-13.8zM1606.6 308.6h13.8v13.8h-13.8zM1637.1 320.6h13.8v13.8h-13.8zM1667.5 336.4h13.8v13.8h-13.8zM1697.9 328.6h13.8v13.8h-13.8zM1728.4 346.5h13.8v13.8h-13.8zM1758.8 365h13.8v13.8h-13.8zM1789.2 376.1h13.8v13.8h-13.8zM1819.7 377.1h13.8v13.8h-13.8zM1850.1 367.8h13.8v13.8h-13.8zM1880.5 383.5h13.8v13.8h-13.8zM1910.9 379.8h13.8v13.8h-13.8zM1941.4 390.5h13.8v13.8h-13.8zM1971.8 395.3h13.8v13.8h-13.8zM1150.2 426.9h13.8v13.8h-13.8zM1180.6 146.2h13.8v13.8h-13.8zM1211.1 207.3h13.8v13.8h-13.8zM1241.5 195.8h13.8v13.8h-13.8zM1271.9 199.9h13.8v13.8h-13.8zM1302.3 209.7h13.8v13.8h-13.8zM1332.8 203.3h13.8v13.8h-13.8zM1363.2 239.8h13.8v13.8h-13.8zM1393.6 236.8h13.8v13.8h-13.8zM1424.1 303.1h13.8v13.8h-13.8zM1454.5 244.5h13.8v13.8h-13.8zM1484.9 267.1h13.8v13.8h-13.8zM1515.4 245.9h13.8v13.8h-13.8zM1545.8 244h13.8v13.8h-13.8zM1576.2 221h13.8v13.8h-13.8zM1606.6 244.1h13.8v13.8h-13.8zM1637.1 280.5h13.8v13.8h-13.8zM1667.5 238h13.8v13.8h-13.8zM1697.9 265.6h13.8v13.8h-13.8zM1728.4 290h13.8v13.8h-13.8zM1758.8 305.9h13.8v13.8h-13.8zM1789.2 311.7h13.8v13.8h-13.8zM1819.7 338.5h13.8v13.8h-13.8zM1850.1 332.5h13.8v13.8h-13.8zM1880.5 320.4h13.8v13.8h-13.8zM1910.9 338.3h13.8v13.8h-13.8zM1941.4 342.7h13.8v13.8h-13.8zM1971.8 345.4h13.8v13.8h-13.8zM1150.2 427.1h13.8v13.8h-13.8zM1180.6 200.8h13.8v13.8h-13.8zM1211.1 198.5h13.8v13.8h-13.8zM1241.5 239.2h13.8v13.8h-13.8zM1271.9 202.6h13.8v13.8h-13.8zM1302.3 216.9h13.8v13.8h-13.8zM1332.8 194.1h13.8v13.8h-13.8zM1363.2 220.8h13.8v13.8h-13.8zM1393.6 231.5h13.8v13.8h-13.8zM1424.1 197.6h13.8v13.8h-13.8zM1454.5 256.3h13.8v13.8h-13.8zM1484.9 264.1h13.8v13.8h-13.8zM1515.4 242.5h13.8v13.8h-13.8zM1545.8 237.5h13.8v13.8h-13.8zM1576.2 237h13.8v13.8h-13.8zM1606.6 239.8h13.8v13.8h-13.8zM1637.1 260.7h13.8v13.8h-13.8zM1667.5 259.9h13.8v13.8h-13.8zM1697.9 275.7h13.8v13.8h-13.8zM1728.4 279.4h13.8v13.8h-13.8zM1758.8 309.8h13.8v13.8h-13.8zM1789.2 309h13.8v13.8h-13.8zM1819.7 346.2h13.8v13.8h-13.8zM1850.1 314.1h13.8v13.8h-13.8zM1880.5 329.1h13.8v13.8h-13.8zM1910.9 336.4h13.8v13.8h-13.8zM1941.4 343.6h13.8v13.8h-13.8zM1971.8 342.2h13.8v13.8h-13.8zM1150.2 216h13.8v13.8h-13.8zM1180.6 251.6h13.8v13.8h-13.8zM1211.1 189.4h13.8v13.8h-13.8zM1241.5 213.1h13.8v13.8h-13.8zM1271.9 199.9h13.8v13.8h-13.8zM1302.3 220.5h13.8v13.8h-13.8zM1332.8 193.2h13.8v13.8h-13.8zM1363.2 211.8h13.8v13.8h-13.8zM1393.6 221.6h13.8v13.8h-13.8zM1424.1 178.6h13.8v13.8h-13.8zM1454.5 229.4h13.8v13.8h-13.8zM1484.9 232.6h13.8v13.8h-13.8zM1515.4 208.1h13.8v13.8h-13.8zM1545.8 233.2h13.8v13.8h-13.8zM1576.2 223.4h13.8v13.8h-13.8zM1606.6 222.3h13.8v13.8h-13.8zM1637.1 247.9h13.8v13.8h-13.8zM1667.5 244.2h13.8v13.8h-13.8zM1697.9 255.9h13.8v13.8h-13.8zM1728.4 283.7h13.8v13.8h-13.8zM1758.8 291.6h13.8v13.8h-13.8zM1789.2 306h13.8v13.8h-13.8zM1819.7 331.8h13.8v13.8h-13.8zM1850.1 313.9h13.8v13.8h-13.8zM1880.5 314.2h13.8v13.8h-13.8zM1910.9 327h13.8v13.8h-13.8zM1941.4 341.7h13.8v13.8h-13.8zM1971.8 343.5h13.8v13.8h-13.8zM1150.2 376h13.8v13.8h-13.8zM1180.6 143.6h13.8v13.8h-13.8zM1211.1 195.7h13.8v13.8h-13.8zM1241.5 245.6h13.8v13.8h-13.8zM1271.9 183.2h13.8v13.8h-13.8zM1302.3 192.6h13.8v13.8h-13.8zM1332.8 318.5h13.8v13.8h-13.8zM1363.2 208.7h13.8v13.8h-13.8zM1393.6 223h13.8v13.8h-13.8zM1424.1 249.9h13.8v13.8h-13.8zM1454.5 230h13.8v13.8h-13.8zM1484.9 262h13.8v13.8h-13.8zM1515.4 225.9h13.8v13.8h-13.8zM1545.8 216.9h13.8v13.8h-13.8zM1576.2 214.4h13.8v13.8h-13.8zM1606.6 232.3h13.8v13.8h-13.8zM1637.1 237.4h13.8v13.8h-13.8zM1667.5 234.2h13.8v13.8h-13.8zM1697.9 262.4h13.8v13.8h-13.8zM1728.4 269h13.8v13.8h-13.8zM1758.8 287.4h13.8v13.8h-13.8zM1789.2 293.3h13.8v13.8h-13.8zM1819.7 322.5h13.8v13.8h-13.8zM1850.1 313.8h13.8v13.8h-13.8zM1880.5 311.3h13.8v13.8h-13.8zM1910.9 329.1h13.8v13.8h-13.8zM1941.4 332.7h13.8v13.8h-13.8zM1971.8 343.7h13.8v13.8h-13.8zM1150.2 569.2h13.8v13.8h-13.8zM1180.6 406.2h13.8v13.8h-13.8zM1211.1 252.2h13.8v13.8h-13.8zM1241.5 223.6h13.8v13.8h-13.8zM1271.9 232.1h13.8v13.8h-13.8zM1302.3 228.9h13.8v13.8h-13.8zM1332.8 178.6h13.8v13.8h-13.8zM1363.2 246.1h13.8v13.8h-13.8zM1393.6 248.5h13.8v13.8h-13.8zM1424.1 245.7h13.8v13.8h-13.8zM1454.5 259.3h13.8v13.8h-13.8zM1484.9 283.4h13.8v13.8h-13.8zM1515.4 251.5h13.8v13.8h-13.8zM1545.8 255.4h13.8v13.8h-13.8zM1576.2 257.4h13.8v13.8h-13.8zM1606.6 261.4h13.8v13.8h-13.8zM1637.1 297.4h13.8v13.8h-13.8zM1667.5 293.8h13.8v13.8h-13.8zM1697.9 292.6h13.8v13.8h-13.8zM1728.4 298.2h13.8v13.8h-13.8zM1758.8 326.1h13.8v13.8h-13.8zM1789.2 325.9h13.8v13.8h-13.8zM1819.7 359.7h13.8v13.8h-13.8zM1850.1 338h13.8v13.8h-13.8zM1880.5 343.8h13.8v13.8h-13.8zM1910.9 365.3h13.8v13.8h-13.8zM1941.4 357.5h13.8v13.8h-13.8zM1971.8 365.4h13.8v13.8h-13.8zM1150.2 546.8h13.8v13.8h-13.8zM1180.6 439.7h13.8v13.8h-13.8zM1211.1 230.2h13.8v13.8h-13.8zM1241.5 254h13.8v13.8h-13.8zM1271.9 223.7h13.8v13.8h-13.8zM1302.3 217.6h13.8v13.8h-13.8zM1332.8 215.1h13.8v13.8h-13.8zM1363.2 239.3h13.8v13.8h-13.8zM1393.6 249.7h13.8v13.8h-13.8zM1424.1 178.6h13.8v13.8h-13.8zM1454.5 255.7h13.8v13.8h-13.8zM1484.9 280.2h13.8v13.8h-13.8zM1515.4 288.2h13.8v13.8h-13.8zM1545.8 251.1h13.8v13.8h-13.8zM1576.2 236.7h13.8v13.8h-13.8zM1606.6 250.3h13.8v13.8h-13.8zM1637.1 274.7h13.8v13.8h-13.8zM1667.5 276.1h13.8v13.8h-13.8zM1697.9 284.7h13.8v13.8h-13.8zM1728.4 298.8h13.8v13.8h-13.8zM1758.8 295.5h13.8v13.8h-13.8zM1789.2 313.8h13.8v13.8h-13.8zM1819.7 346.3h13.8v13.8h-13.8zM1850.1 332.3h13.8v13.8h-13.8zM1880.5 346.5h13.8v13.8h-13.8zM1910.9 349.5h13.8v13.8h-13.8zM1941.4 348.5h13.8v13.8h-13.8zM1971.8 353.6h13.8v13.8h-13.8zM1150.2 483h13.8v13.8h-13.8zM1180.6 341.8h13.8v13.8h-13.8zM1211.1 260.2h13.8v13.8h-13.8zM1241.5 247.7h13.8v13.8h-13.8zM1271.9 252.5h13.8v13.8h-13.8zM1302.3 267h13.8v13.8h-13.8zM1332.8 286.1h13.8v13.8h-13.8zM1363.2 248.8h13.8v13.8h-13.8zM1393.6 268.8h13.8v13.8h-13.8zM1424.1 220.3h13.8v13.8h-13.8zM1454.5 277.7h13.8v13.8h-13.8zM1484.9 273.2h13.8v13.8h-13.8zM1515.4 289.7h13.8v13.8h-13.8zM1545.8 278.6h13.8v13.8h-13.8zM1576.2 276.8h13.8v13.8h-13.8zM1606.6 294.1h13.8v13.8h-13.8zM1637.1 291.2h13.8v13.8h-13.8zM1667.5 304.3h13.8v13.8h-13.8zM1697.9 292.7h13.8v13.8h-13.8zM1728.4 318.5h13.8v13.8h-13.8zM1758.8 329.9h13.8v13.8h-13.8zM1789.2 334.9h13.8v13.8h-13.8zM1819.7 360.8h13.8v13.8h-13.8zM1850.1 352.4h13.8v13.8h-13.8zM1880.5 358.3h13.8v13.8h-13.8zM1910.9 365.8h13.8v13.8h-13.8zM1941.4 375.2h13.8v13.8h-13.8zM1971.8 368.4h13.8v13.8h-13.8zM1150.2 611.7h13.8v13.8h-13.8zM1180.6 320.5h13.8v13.8h-13.8zM1211.1 258.9h13.8v13.8h-13.8zM1241.5 302h13.8v13.8h-13.8zM1271.9 276.5h13.8v13.8h-13.8zM1302.3 276.2h13.8v13.8h-13.8zM1332.8 350.3h13.8v13.8h-13.8zM1363.2 266.5h13.8v13.8h-13.8zM1393.6 285.4h13.8v13.8h-13.8zM1424.1 331.5h13.8v13.8h-13.8zM1454.5 280.5h13.8v13.8h-13.8zM1484.9 285.6h13.8v13.8h-13.8zM1515.4 291.8h13.8v13.8h-13.8zM1545.8 294.5h13.8v13.8h-13.8zM1576.2 284.1h13.8v13.8h-13.8zM1606.6 298.3h13.8v13.8h-13.8zM1637.1 314h13.8v13.8h-13.8zM1667.5 308.8h13.8v13.8h-13.8zM1697.9 310.5h13.8v13.8h-13.8zM1728.4 323.7h13.8v13.8h-13.8zM1758.8 329.9h13.8v13.8h-13.8zM1789.2 352.2h13.8v13.8h-13.8zM1819.7 379.2h13.8v13.8h-13.8zM1850.1 356.9h13.8v13.8h-13.8zM1880.5 363.7h13.8v13.8h-13.8zM1910.9 366.1h13.8v13.8h-13.8zM1941.4 380.3h13.8v13.8h-13.8zM1971.8 377.8h13.8v13.8h-13.8zM1150.2 216h13.8v13.8h-13.8zM1180.6 143.6h13.8v13.8h-13.8zM1211.1 208.9h13.8v13.8h-13.8zM1241.5 224.7h13.8v13.8h-13.8zM1271.9 197.4h13.8v13.8h-13.8zM1302.3 207.7h13.8v13.8h-13.8zM1332.8 275.1h13.8v13.8h-13.8zM1363.2 214.9h13.8v13.8h-13.8zM1393.6 232.9h13.8v13.8h-13.8zM1424.1 303.4h13.8v13.8h-13.8zM1454.5 238.4h13.8v13.8h-13.8zM1484.9 241.8h13.8v13.8h-13.8zM1515.4 238.1h13.8v13.8h-13.8zM1545.8 215.6h13.8v13.8h-13.8zM1576.2 216.4h13.8v13.8h-13.8zM1606.6 239.2h13.8v13.8h-13.8zM1637.1 249.3h13.8v13.8h-13.8zM1667.5 244.8h13.8v13.8h-13.8zM1697.9 262.6h13.8v13.8h-13.8zM1728.4 273.4h13.8v13.8h-13.8zM1758.8 287h13.8v13.8h-13.8zM1789.2 296h13.8v13.8h-13.8zM1819.7 320.9h13.8v13.8h-13.8zM1850.1 313.7h13.8v13.8h-13.8zM1880.5 330.4h13.8v13.8h-13.8zM1910.9 335.7h13.8v13.8h-13.8zM1941.4 337.6h13.8v13.8h-13.8zM1971.8 340.7h13.8v13.8h-13.8zM1150.2 611.7h13.8v13.8h-13.8zM1180.6 359.2h13.8v13.8h-13.8zM1211.1 284.8h13.8v13.8h-13.8zM1241.5 330.3h13.8v13.8h-13.8zM1271.9 292h13.8v13.8h-13.8zM1302.3 275.3h13.8v13.8h-13.8zM1332.8 401.6h13.8v13.8h-13.8zM1363.2 282.7h13.8v13.8h-13.8zM1393.6 301.8h13.8v13.8h-13.8zM1424.1 334.6h13.8v13.8h-13.8zM1454.5 308.8h13.8v13.8h-13.8zM1484.9 310h13.8v13.8h-13.8zM1515.4 307.5h13.8v13.8h-13.8zM1545.8 311.5h13.8v13.8h-13.8zM1576.2 291.2h13.8v13.8h-13.8zM1606.6 312.7h13.8v13.8h-13.8zM1637.1 324h13.8v13.8h-13.8zM1667.5 332.3h13.8v13.8h-13.8zM1697.9 336.7h13.8v13.8h-13.8zM1728.4 345.4h13.8v13.8h-13.8zM1758.8 348.3h13.8v13.8h-13.8zM1789.2 367.6h13.8v13.8h-13.8zM1819.7 379.5h13.8v13.8h-13.8zM1850.1 379.8h13.8v13.8h-13.8zM1880.5 371.8h13.8v13.8h-13.8zM1910.9 388h13.8v13.8h-13.8zM1941.4 398.6h13.8v13.8h-13.8zM1971.8 396.8h13.8v13.8h-13.8zM1150.2 222.9h13.8v13.8h-13.8zM1180.6 319.5h13.8v13.8h-13.8zM1211.1 215h13.8v13.8h-13.8zM1241.5 211.1h13.8v13.8h-13.8zM1271.9 226.2h13.8v13.8h-13.8zM1302.3 226.5h13.8v13.8h-13.8zM1332.8 396h13.8v13.8h-13.8zM1363.2 231h13.8v13.8h-13.8zM1393.6 266.6h13.8v13.8h-13.8zM1424.1 250h13.8v13.8h-13.8zM1454.5 258.7h13.8v13.8h-13.8zM1484.9 260.4h13.8v13.8h-13.8zM1515.4 226.2h13.8v13.8h-13.8zM1545.8 243.8h13.8v13.8h-13.8zM1576.2 251.8h13.8v13.8h-13.8zM1606.6 260.3h13.8v13.8h-13.8zM1637.1 271.1h13.8v13.8h-13.8zM1667.5 285.1h13.8v13.8h-13.8zM1697.9 279.3h13.8v13.8h-13.8zM1728.4 296.6h13.8v13.8h-13.8zM1758.8 311.6h13.8v13.8h-13.8zM1789.2 324h13.8v13.8h-13.8zM1819.7 345.2h13.8v13.8h-13.8zM1850.1 333h13.8v13.8h-13.8zM1880.5 336.3h13.8v13.8h-13.8zM1910.9 351.9h13.8v13.8h-13.8zM1941.4 353h13.8v13.8h-13.8zM1971.8 356.1h13.8v13.8h-13.8zM1150.2 219.2h13.8v13.8h-13.8zM1180.6 390.7h13.8v13.8h-13.8zM1211.1 250.7h13.8v13.8h-13.8zM1241.5 279.3h13.8v13.8h-13.8zM1271.9 264.1h13.8v13.8h-13.8zM1302.3 248.6h13.8v13.8h-13.8zM1332.8 302.6h13.8v13.8h-13.8zM1363.2 257.6h13.8v13.8h-13.8zM1393.6 266.8h13.8v13.8h-13.8zM1424.1 349h13.8v13.8h-13.8zM1454.5 274.1h13.8v13.8h-13.8zM1484.9 282.2h13.8v13.8h-13.8zM1515.4 284h13.8v13.8h-13.8zM1545.8 273.4h13.8v13.8h-13.8zM1576.2 275.1h13.8v13.8h-13.8zM1606.6 263.2h13.8v13.8h-13.8zM1637.1 290.9h13.8v13.8h-13.8zM1667.5 300.6h13.8v13.8h-13.8zM1697.9 287.9h13.8v13.8h-13.8zM1728.4 309.2h13.8v13.8h-13.8zM1758.8 329.6h13.8v13.8h-13.8zM1789.2 331.1h13.8v13.8h-13.8zM1819.7 348.9h13.8v13.8h-13.8zM1850.1 350.7h13.8v13.8h-13.8zM1880.5 346.2h13.8v13.8h-13.8zM1910.9 356.6h13.8v13.8h-13.8zM1941.4 363.7h13.8v13.8h-13.8zM1971.8 367.9h13.8v13.8h-13.8zM1150.2 216h13.8v13.8h-13.8zM1180.6 236h13.8v13.8h-13.8zM1211.1 251.5h13.8v13.8h-13.8zM1241.5 247.8h13.8v13.8h-13.8zM1271.9 245.4h13.8v13.8h-13.8zM1302.3 234.5h13.8v13.8h-13.8zM1332.8 193h13.8v13.8h-13.8zM1363.2 242.2h13.8v13.8h-13.8zM1393.6 262.7h13.8v13.8h-13.8zM1424.1 264.9h13.8v13.8h-13.8zM1454.5 259.1h13.8v13.8h-13.8zM1484.9 259.7h13.8v13.8h-13.8zM1515.4 267.5h13.8v13.8h-13.8zM1545.8 250.4h13.8v13.8h-13.8zM1576.2 261.6h13.8v13.8h-13.8zM1606.6 265.5h13.8v13.8h-13.8zM1637.1 274.4h13.8v13.8h-13.8zM1667.5 275.8h13.8v13.8h-13.8zM1697.9 285.8h13.8v13.8h-13.8zM1728.4 305.1h13.8v13.8h-13.8zM1758.8 309.2h13.8v13.8h-13.8zM1789.2 327.9h13.8v13.8h-13.8zM1819.7 347.7h13.8v13.8h-13.8zM1850.1 339.1h13.8v13.8h-13.8zM1880.5 347h13.8v13.8h-13.8zM1910.9 367.2h13.8v13.8h-13.8zM1941.4 366.2h13.8v13.8h-13.8zM1971.8 372.6h13.8v13.8h-13.8zM1150.2 402.2h13.8v13.8h-13.8zM1180.6 402.9h13.8v13.8h-13.8zM1211.1 338h13.8v13.8h-13.8zM1241.5 354.9h13.8v13.8h-13.8zM1271.9 293.9h13.8v13.8h-13.8zM1302.3 321.2h13.8v13.8h-13.8zM1332.8 258.9h13.8v13.8h-13.8zM1363.2 301.9h13.8v13.8h-13.8zM1393.6 301.1h13.8v13.8h-13.8zM1424.1 304.6h13.8v13.8h-13.8zM1454.5 307.9h13.8v13.8h-13.8zM1484.9 357.7h13.8v13.8h-13.8zM1515.4 337.3h13.8v13.8h-13.8zM1545.8 310.8h13.8v13.8h-13.8zM1576.2 308h13.8v13.8h-13.8zM1606.6 336.3h13.8v13.8h-13.8zM1637.1 326.3h13.8v13.8h-13.8zM1667.5 353.3h13.8v13.8h-13.8zM1697.9 330.8h13.8v13.8h-13.8zM1728.4 355.3h13.8v13.8h-13.8zM1758.8 359.3h13.8v13.8h-13.8zM1789.2 361.4h13.8v13.8h-13.8zM1819.7 389.9h13.8v13.8h-13.8zM1850.1 377.5h13.8v13.8h-13.8zM1880.5 383h13.8v13.8h-13.8zM1910.9 406.6h13.8v13.8h-13.8zM1941.4 395.8h13.8v13.8h-13.8zM1971.8 400.5h13.8v13.8h-13.8zM1150.2 204.4h13.8v13.8h-13.8zM1180.6 13.7h13.8v13.8h-13.8zM1211.1 112.4h13.8v13.8h-13.8zM1241.5 132.3h13.8v13.8h-13.8zM1271.9 211h13.8v13.8h-13.8zM1302.3 211.9h13.8v13.8h-13.8zM1332.8 328.2h13.8v13.8h-13.8zM1363.2 210.2h13.8v13.8h-13.8zM1393.6 229.8h13.8v13.8h-13.8zM1424.1 136.4h13.8v13.8h-13.8zM1454.5 248.1h13.8v13.8h-13.8zM1484.9 265.3h13.8v13.8h-13.8zM1515.4 257.6h13.8v13.8h-13.8zM1545.8 235.9h13.8v13.8h-13.8zM1576.2 239.2h13.8v13.8h-13.8zM1606.6 254.5h13.8v13.8h-13.8zM1637.1 260.1h13.8v13.8h-13.8zM1667.5 262.3h13.8v13.8h-13.8zM1697.9 274.2h13.8v13.8h-13.8zM1728.4 293.8h13.8v13.8h-13.8zM1758.8 305.2h13.8v13.8h-13.8zM1789.2 307.5h13.8v13.8h-13.8zM1819.7 331.7h13.8v13.8h-13.8zM1850.1 331.1h13.8v13.8h-13.8zM1880.5 329.4h13.8v13.8h-13.8zM1910.9 335.9h13.8v13.8h-13.8zM1941.4 350.4h13.8v13.8h-13.8zM1971.8 341.3h13.8v13.8h-13.8zM1150.2 312.1h13.8v13.8h-13.8zM1180.6 38h13.8v13.8h-13.8zM1211.1 161.1h13.8v13.8h-13.8zM1241.5 151.1h13.8v13.8h-13.8zM1271.9 249.5h13.8v13.8h-13.8zM1302.3 253.1h13.8v13.8h-13.8zM1332.8 229.6h13.8v13.8h-13.8zM1363.2 251.8h13.8v13.8h-13.8zM1393.6 268.3h13.8v13.8h-13.8zM1424.1 165.4h13.8v13.8h-13.8zM1454.5 272.7h13.8v13.8h-13.8zM1484.9 309.1h13.8v13.8h-13.8zM1515.4 291.4h13.8v13.8h-13.8zM1545.8 271.6h13.8v13.8h-13.8zM1576.2 264.2h13.8v13.8h-13.8zM1606.6 297.8h13.8v13.8h-13.8zM1637.1 305.7h13.8v13.8h-13.8zM1667.5 285.3h13.8v13.8h-13.8zM1697.9 298.4h13.8v13.8h-13.8zM1728.4 299.2h13.8v13.8h-13.8zM1758.8 336.5h13.8v13.8h-13.8zM1789.2 339.9h13.8v13.8h-13.8zM1819.7 359.1h13.8v13.8h-13.8zM1850.1 345.9h13.8v13.8h-13.8zM1880.5 344.3h13.8v13.8h-13.8zM1910.9 355.6h13.8v13.8h-13.8zM1941.4 373.5h13.8v13.8h-13.8zM1971.8 363.8h13.8v13.8h-13.8zM1150.2 403.7h13.8v13.8h-13.8zM1180.6 88.6h13.8v13.8h-13.8zM1211.1 173.4h13.8v13.8h-13.8zM1241.5 183.2h13.8v13.8h-13.8zM1271.9 170h13.8v13.8h-13.8zM1302.3 192.6h13.8v13.8h-13.8zM1332.8 161.7h13.8v13.8h-13.8zM1363.2 198.4h13.8v13.8h-13.8zM1393.6 210.8h13.8v13.8h-13.8zM1424.1 259.7h13.8v13.8h-13.8zM1454.5 218.5h13.8v13.8h-13.8zM1484.9 216h13.8v13.8h-13.8zM1515.4 202.3h13.8v13.8h-13.8zM1545.8 212.3h13.8v13.8h-13.8zM1576.2 209.7h13.8v13.8h-13.8zM1606.6 220.8h13.8v13.8h-13.8zM1637.1 237.4h13.8v13.8h-13.8zM1667.5 234.2h13.8v13.8h-13.8zM1697.9 243.9h13.8v13.8h-13.8zM1728.4 267.7h13.8v13.8h-13.8zM1758.8 278.4h13.8v13.8h-13.8zM1789.2 303.7h13.8v13.8h-13.8zM1819.7 321.4h13.8v13.8h-13.8zM1850.1 317.3h13.8v13.8h-13.8zM1880.5 308.1h13.8v13.8h-13.8zM1910.9 325.3h13.8v13.8h-13.8zM1941.4 330.2h13.8v13.8h-13.8zM1971.8 331.4h13.8v13.8h-13.8zM1150.2 275.6h13.8v13.8h-13.8zM1180.6 95.7h13.8v13.8h-13.8zM1211.1 188.5h13.8v13.8h-13.8zM1241.5 174.2h13.8v13.8h-13.8zM1271.9 210.5h13.8v13.8h-13.8zM1302.3 178.6h13.8v13.8h-13.8zM1332.8 178.6h13.8v13.8h-13.8zM1363.2 217.1h13.8v13.8h-13.8zM1393.6 226.9h13.8v13.8h-13.8zM1424.1 186.4h13.8v13.8h-13.8zM1454.5 229.4h13.8v13.8h-13.8zM1484.9 250.5h13.8v13.8h-13.8zM1515.4 196.4h13.8v13.8h-13.8zM1545.8 233.9h13.8v13.8h-13.8zM1576.2 226.6h13.8v13.8h-13.8zM1606.6 243.5h13.8v13.8h-13.8zM1637.1 249h13.8v13.8h-13.8zM1667.5 256.4h13.8v13.8h-13.8zM1697.9 255.4h13.8v13.8h-13.8zM1728.4 280.2h13.8v13.8h-13.8zM1758.8 286.8h13.8v13.8h-13.8zM1789.2 322.7h13.8v13.8h-13.8zM1819.7 334.4h13.8v13.8h-13.8zM1850.1 325.8h13.8v13.8h-13.8zM1880.5 321.4h13.8v13.8h-13.8zM1910.9 331.2h13.8v13.8h-13.8zM1941.4 330.2h13.8v13.8h-13.8zM1971.8 335.2h13.8v13.8h-13.8zM1150.2 216h13.8v13.8h-13.8zM1180.6 126h13.8v13.8h-13.8zM1211.1 258.4h13.8v13.8h-13.8zM1241.5 243.3h13.8v13.8h-13.8zM1271.9 263h13.8v13.8h-13.8zM1302.3 241.2h13.8v13.8h-13.8zM1332.8 258h13.8v13.8h-13.8zM1363.2 189.1h13.8v13.8h-13.8zM1393.6 264.5h13.8v13.8h-13.8zM1424.1 152.7h13.8v13.8h-13.8zM1454.5 270.4h13.8v13.8h-13.8zM1484.9 278.6h13.8v13.8h-13.8zM1515.4 259.3h13.8v13.8h-13.8zM1545.8 267.4h13.8v13.8h-13.8zM1576.2 198.3h13.8v13.8h-13.8zM1606.6 266.3h13.8v13.8h-13.8zM1637.1 292.1h13.8v13.8h-13.8zM1667.5 286.2h13.8v13.8h-13.8zM1697.9 302.2h13.8v13.8h-13.8zM1728.4 314.6h13.8v13.8h-13.8zM1758.8 314.4h13.8v13.8h-13.8zM1789.2 336.5h13.8v13.8h-13.8zM1819.7 341.6h13.8v13.8h-13.8zM1850.1 340.3h13.8v13.8h-13.8zM1880.5 341.1h13.8v13.8h-13.8zM1910.9 358.1h13.8v13.8h-13.8zM1941.4 358.9h13.8v13.8h-13.8zM1971.8 359.2h13.8v13.8h-13.8zM1150.2 222.5h13.8v13.8h-13.8zM1180.6 164.2h13.8v13.8h-13.8zM1211.1 197h13.8v13.8h-13.8zM1241.5 183.2h13.8v13.8h-13.8zM1271.9 194.6h13.8v13.8h-13.8zM1302.3 205.7h13.8v13.8h-13.8zM1332.8 253.2h13.8v13.8h-13.8zM1363.2 219h13.8v13.8h-13.8zM1393.6 199.3h13.8v13.8h-13.8zM1424.1 178.6h13.8v13.8h-13.8zM1454.5 229.6h13.8v13.8h-13.8zM1484.9 257.6h13.8v13.8h-13.8zM1515.4 205.8h13.8v13.8h-13.8zM1545.8 208.8h13.8v13.8h-13.8zM1576.2 215.1h13.8v13.8h-13.8zM1606.6 224.6h13.8v13.8h-13.8zM1637.1 251.8h13.8v13.8h-13.8zM1667.5 226.6h13.8v13.8h-13.8zM1697.9 257.6h13.8v13.8h-13.8zM1728.4 276.9h13.8v13.8h-13.8zM1758.8 284.3h13.8v13.8h-13.8zM1789.2 302.1h13.8v13.8h-13.8zM1819.7 329.1h13.8v13.8h-13.8zM1850.1 305.9h13.8v13.8h-13.8zM1880.5 306.3h13.8v13.8h-13.8zM1910.9 338.3h13.8v13.8h-13.8zM1941.4 334.9h13.8v13.8h-13.8zM1971.8 343.2h13.8v13.8h-13.8z" fill="#fff" stroke="#d3c3e8" stroke-width="1.3"/>
<path d="M1157.1 157.5L1187.5 253.1 1218 437.2 1248.4 457.3 1278.8 498.6 1309.2 471.7 1339.7 548.9 1370.1 452.6 1400.5 452.5 1431 484.6 1461.4 450.6 1491.8 444.2 1522.3 442 1552.7 426.8 1583.1 431.8 1613.5 426.7 1644 428.9 1674.4 422.2 1704.8 423.5 1735.3 423 1765.7 423.1 1796.1 420.2 1826.6 428.3 1857 424.1 1887.4 422.5 1917.8 426.6 1948.3 426.5 1978.7 427.6M1157.1 471.7L1187.5 580.5 1218 436.4 1248.4 451 1278.8 499.6 1309.2 480.8 1339.7 607.1 1370.1 452 1400.5 448.1 1431 503.6 1461.4 454 1491.8 444.2 1522.3 444.2 1552.7 432.4 1583.1 433.9 1613.5 430 1644 431 1674.4 426.5 1704.8 433 1735.3 427 1765.7 423.1 1796.1 425 1826.6 427.9 1857 430.3 1887.4 430.5 1917.8 431.8 1948.3 430.2 1978.7 432M1157.1 392.3L1187.5 451.6 1218 365.5 1248.4 381.1 1278.8 440.1 1309.2 430.7 1339.7 416.4 1370.1 396.5 1400.5 392.4 1431 436.5 1461.4 410.5 1491.8 410.6 1522.3 402.7 1552.7 399.9 1583.1 392.4 1613.5 394 1644 393.1 1674.4 396.7 1704.8 394.2 1735.3 387.7 1765.7 390.4 1796.1 387.7 1826.6 397.2 1857 390 1887.4 390 1917.8 391.2 1948.3 391.8 1978.7 395.5M1157.1 586.7L1187.5 580.5 1218 435.4 1248.4 457.3 1278.8 490.9 1309.2 464.7 1339.7 552.1 1370.1 441.1 1400.5 440 1431 503.6 1461.4 450 1491.8 429 1522.3 435 1552.7 426.7 1583.1 427.8 1613.5 423.4 1644 421.2 1674.4 419.7 1704.8 424.7 1735.3 416.9 1765.7 418.6 1796.1 420.5 1826.6 422.7 1857 425.9 1887.4 422.5 1917.8 423.5 1948.3 422.3 1978.7 426.4M1157.1 492.7L1187.5 450.1 1218 390.2 1248.4 379.5 1278.8 429 1309.2 424 1339.7 484.3 1370.1 402.1 1400.5 392.4 1431 454.9 1461.4 409.9 1491.8 399.4 1522.3 408.9 1552.7 401.8 1583.1 399.7 1613.5 397.7 1644 391.4 1674.4 391.2 1704.8 395.1 1735.3 389.2 1765.7 389.8 1796.1 390.5 1826.6 395.7 1857 390.4 1887.4 391.9 1917.8 395 1948.3 395 1978.7 392.2M1157.1 519L1187.5 532.2 1218 411.5 1248.4 414.9 1278.8 459.4 1309.2 447.7 1339.7 510.6 1370.1 426.6 1400.5 418.3 1431 439.2 1461.4 424.3 1491.8 409.8 1522.3 423.4 1552.7 416.6 1583.1 413.6 1613.5 412.4 1644 408.5 1674.4 409.2 1704.8 407.6 1735.3 409.9 1765.7 406.5 1796.1 409.7 1826.6 413.1 1857 411 1887.4 411.1 1917.8 413.5 1948.3 414.8 1978.7 408.6M1157.1 472.6L1187.5 375.9 1218 411.5 1248.4 429.3 1278.8 461.3 1309.2 441.1 1339.7 532.4 1370.1 418.4 1400.5 422.3 1431 408.5 1461.4 425 1491.8 404.6 1522.3 420.4 1552.7 409.8 1583.1 409.3 1613.5 410.7 1644 408.5 1674.4 407 1704.8 410.1 1735.3 406.1 1765.7 403.2 1796.1 401.9 1826.6 408.5 1857 404.5 1887.4 402.8 1917.8 410.9 1948.3 407.3 1978.7 410.2M1157.1 518.4L1187.5 453.1 1218 428.1 1248.4 399.7 1278.8 459.5 1309.2 445.7 1339.7 447.5 1370.1 417 1400.5 423.4 1431 415.2 1461.4 425 1491.8 412.7 1522.3 428.8 1552.7 414.9 1583.1 412.6 1613.5 415.8 1644 409.5 1674.4 407.7 1704.8 410.9 1735.3 406.1 1765.7 402.4 1796.1 407 1826.6 412 1857 408.6 1887.4 406.1 1917.8 408.9 1948.3 410.1 1978.7 411.4M1157.1 403.1L1187.5 453 1218 448.6 1248.4 429.2 1278.8 494.2 1309.2 459.7 1339.7 506.6 1370.1 443.2 1400.5 445.1 1431 488.9 1461.4 448.9 1491.8 426 1522.3 435.4 1552.7 429 1583.1 424 1613.5 421.1 1644 423.4 1674.4 421.4 1704.8 417.9 1735.3 416.4 1765.7 418 1796.1 416.4 1826.6 419.2 1857 422.6 1887.4 420.5 1917.8 426 1948.3 425.8 1978.7 425.7M1157.1 343.1L1187.5 395.1 1218 379.3 1248.4 371.3 1278.8 445.9 1309.2 432.9 1339.7 421.7 1370.1 407.5 1400.5 411.1 1431 439.5 1461.4 417.8 1491.8 405.8 1522.3 415.2 1552.7 406.3 1583.1 401.5 1613.5 401.7 1644 399 1674.4 398.5 1704.8 399.5 1735.3 394.6 1765.7 394.9 1796.1 393.7 1826.6 399.9 1857 400.8 1887.4 394.1 1917.8 398.1 1948.3 397.9 1978.7 399.1M1157.1 354L1187.5 481.6 1218 366.6 1248.4 374.7 1278.8 435.4 1309.2 430.9 1339.7 408.5 1370.1 402.9 1400.5 400.5 1431 408.5 1461.4 407.2 1491.8 405.5 1522.3 405.4 1552.7 399.3 1583.1 394.7 1613.5 393.9 1644 392 1674.4 394.6 1704.8 397.7 1735.3 387.7 1765.7 391.1 1796.1 392.4 1826.6 393.2 1857 391.3 1887.4 394.1 1917.8 391.2 1948.3 399.4 1978.7 391.2M1157.1 574.3L1187.5 539.8 1218 447.7 1248.4 453.3 1278.8 496.8 1309.2 480.8 1339.7 607.1 1370.1 446.3 1400.5 457.3 1431 455.3 1461.4 457.3 1491.8 444.2 1522.3 437.7 1552.7 433.2 1583.1 433.4 1613.5 435.1 1644 428.3 1674.4 428.5 1704.8 431.5 1735.3 427 1765.7 423.8 1796.1 423.2 1826.6 425.7 1857 426.8 1887.4 424.5 1917.8 427.2 1948.3 433 1978.7 426.1M1157.1 417.3L1187.5 514.4 1218 384.8 1248.4 377.3 1278.8 454.9 1309.2 439.8 1339.7 408.5 1370.1 413.1 1400.5 404 1431 426 1461.4 420.6 1491.8 420.3 1522.3 411.1 1552.7 410.9 1583.1 406.6 1613.5 406.7 1644 397.8 1674.4 397.7 1704.8 402.6 1735.3 398.8 1765.7 396.4 1796.1 395.2 1826.6 404.2 1857 395.6 1887.4 401.2 1917.8 399.4 1948.3 407.6 1978.7 402.2M1157.1 488.9L1187.5 373.4 1218 395.7 1248.4 408.9 1278.8 444.3 1309.2 441.3 1339.7 471.3 1370.1 418.9 1400.5 410.3 1431 431.9 1461.4 422.7 1491.8 414.2 1522.3 418 1552.7 410.8 1583.1 409.2 1613.5 402.9 1644 401.7 1674.4 406.8 1704.8 407.1 1735.3 399.2 1765.7 395.1 1796.1 400.5 1826.6 405.2 1857 403.5 1887.4 402.3 1917.8 404.8 1948.3 401.8 1978.7 402M1157.1 369.5L1187.5 373.4 1218 397.2 1248.4 401.7 1278.8 441 1309.2 446.4 1339.7 598.3 1370.1 423.7 1400.5 412.5 1431 475.7 1461.4 419.5 1491.8 431 1522.3 416.9 1552.7 410.6 1583.1 409.1 1613.5 403.8 1644 405.2 1674.4 403.3 1704.8 406.2 1735.3 400.3 1765.7 401.7 1796.1 400.5 1826.6 405.3 1857 405.1 1887.4 402.5 1917.8 405.4 1948.3 407.2 1978.7 407.4M1157.1 463.2L1187.5 401.1 1218 438.2 1248.4 431.5 1278.8 476.9 1309.2 456.9 1339.7 484.3 1370.1 440.7 1400.5 435.6 1431 441.8 1461.4 439.4 1491.8 429.9 1522.3 435.1 1552.7 422.2 1583.1 421.1 1613.5 420.8 1644 414.4 1674.4 415.1 1704.8 421 1735.3 413.5 1765.7 414.6 1796.1 413.7 1826.6 414.6 1857 415.2 1887.4 417.3 1917.8 420.7 1948.3 419.5 1978.7 418.3M1157.1 547.4L1187.5 412.8 1218 423.1 1248.4 437.3 1278.8 467.6 1309.2 468.3 1339.7 555.7 1370.1 434.8 1400.5 429.9 1431 431.2 1461.4 434 1491.8 411.2 1522.3 427.7 1552.7 421 1583.1 417 1613.5 419.5 1644 419.2 1674.4 417.4 1704.8 416.1 1735.3 411.2 1765.7 415 1796.1 409.9 1826.6 416.1 1857 419.4 1887.4 414.8 1917.8 415.3 1948.3 416.4 1978.7 418.4M1157.1 588.3L1187.5 486.2 1218 454.8 1248.4 456.9 1278.8 503.6 1309.2 480.8 1339.7 607.1 1370.1 457.3 1400.5 452.9 1431 477.4 1461.4 457.3 1491.8 429.4 1522.3 444.2 1552.7 435.1 1583.1 432.5 1613.5 431.6 1644 431 1674.4 431 1704.8 432.9 1735.3 427 1765.7 426.7 1796.1 423.5 1826.6 430.2 1857 431 1887.4 429.1 1917.8 433 1948.3 429.8 1978.7 433M1157.1 343.1L1187.5 570.6 1218 438.1 1248.4 451 1278.8 494.8 1309.2 468 1339.7 541.6 1370.1 448.9 1400.5 443 1431 499.5 1461.4 449.1 1491.8 435.5 1522.3 434.8 1552.7 426.4 1583.1 424.1 1613.5 426.1 1644 425.1 1674.4 425 1704.8 424.2 1735.3 422.2 1765.7 420 1796.1 420.5 1826.6 423.9 1857 422.8 1887.4 420.8 1917.8 421.3 1948.3 423 1978.7 422.7M1157.1 582.4L1187.5 400.4 1218 403.7 1248.4 431.4 1278.8 459.1 1309.2 455 1339.7 607.1 1370.1 422.8 1400.5 427.6 1431 487.4 1461.4 435.5 1491.8 411.6 1522.3 424.4 1552.7 418.8 1583.1 413 1613.5 418 1644 414.8 1674.4 414.2 1704.8 415.8 1735.3 407.7 1765.7 409.7 1796.1 411.5 1826.6 414.5 1857 417 1887.4 412 1917.8 413.8 1948.3 412.6 1978.7 414.6M1157.1 396.8L1187.5 529.5 1218 399.5 1248.4 397.9 1278.8 462.3 1309.2 440.8 1339.7 472.4 1370.1 418.3 1400.5 418.7 1431 408.5 1461.4 425.2 1491.8 420.8 1522.3 421.8 1552.7 410.4 1583.1 409.1 1613.5 410.5 1644 407.9 1674.4 404.2 1704.8 406.8 1735.3 400.3 1765.7 402.7 1796.1 405.2 1826.6 405.1 1857 404.8 1887.4 407 1917.8 407.8 1948.3 409.3 1978.7 405.1M1157.1 587.9L1187.5 505.8 1218 439.3 1248.4 444.7 1278.8 489.4 1309.2 471.3 1339.7 607.1 1370.1 448.2 1400.5 450.6 1431 462.2 1461.4 446.7 1491.8 441.4 1522.3 434.7 1552.7 428.2 1583.1 425.6 1613.5 430.1 1644 424.2 1674.4 426.4 1704.8 427.5 1735.3 417.4 1765.7 424.8 1796.1 422.4 1826.6 423.4 1857 422.3 1887.4 425.8 1917.8 430.7 1948.3 430 1978.7 425.1M1157.1 343.1L1187.5 373.4 1218 389.4 1248.4 366.8 1278.8 444.5 1309.2 429.7 1339.7 463 1370.1 401.6 1400.5 407.1 1431 499.1 1461.4 416.7 1491.8 402.8 1522.3 409.8 1552.7 406.4 1583.1 401.4 1613.5 403.6 1644 399.6 1674.4 398.9 1704.8 398.9 1735.3 391.9 1765.7 399.9 1796.1 394.4 1826.6 399.1 1857 400.8 1887.4 398 1917.8 399.5 1948.3 401.8 1978.7 397.8M1157.1 343.1L1187.5 373.4 1218 370.4 1248.4 364.7 1278.8 439.8 1309.2 424.8 1339.7 499.9 1370.1 402.8 1400.5 398.8 1431 408.5 1461.4 413.5 1491.8 404.4 1522.3 406.6 1552.7 402.7 1583.1 398 1613.5 396.4 1644 398.4 1674.4 394.7 1704.8 396.1 1735.3 393.7 1765.7 395.9 1796.1 394.5 1826.6 397.8 1857 393.5 1887.4 400.2 1917.8 395.3 1948.3 396.5 1978.7 399.6M1157.1 407.4L1187.5 465.7 1218 416.7 1248.4 432.1 1278.8 478.6 1309.2 453.5 1339.7 417.3 1370.1 431.3 1400.5 432.3 1431 480.9 1461.4 441.8 1491.8 415.4 1522.3 428.1 1552.7 417.6 1583.1 419.9 1613.5 415.7 1644 416.8 1674.4 413.9 1704.8 413.3 1735.3 413 1765.7 409.5 1796.1 411.5 1826.6 417.7 1857 414.3 1887.4 413.3 1917.8 418.1 1948.3 417.1 1978.7 417.8M1157.1 454.9L1187.5 421.6 1218 371.2 1248.4 384.3 1278.8 435 1309.2 430.2 1339.7 492.7 1370.1 400.5 1400.5 397.1 1431 444.4 1461.4 411.6 1491.8 413.2 1522.3 410.5 1552.7 403.8 1583.1 397.1 1613.5 401.8 1644 398.3 1674.4 398.7 1704.8 397.2 1735.3 396.3 1765.7 396.5 1796.1 387.7 1826.6 397.7 1857 399.6 1887.4 394.3 1917.8 400.5 1948.3 401.8 1978.7 393.6M1157.1 350.4L1187.5 551.1 1218 422.9 1248.4 407.7 1278.8 459.7 1309.2 449.8 1339.7 460.9 1370.1 431.8 1400.5 432.9 1431 445.6 1461.4 429.8 1491.8 419.5 1522.3 424.5 1552.7 414.3 1583.1 416.8 1613.5 412.2 1644 410.3 1674.4 413.5 1704.8 412.9 1735.3 408.1 1765.7 407.1 1796.1 410.5 1826.6 413.2 1857 411.3 1887.4 411.5 1917.8 413.1 1948.3 412.6 1978.7 413.6M1157.1 558.1L1187.5 429.7 1218 433.2 1248.4 431.3 1278.8 483.3 1309.2 465.1 1339.7 508.4 1370.1 437.4 1400.5 437 1431 458.1 1461.4 441.2 1491.8 422 1522.3 423.8 1552.7 422.3 1583.1 422.1 1613.5 417.5 1644 416.7 1674.4 421.9 1704.8 416.5 1735.3 414 1765.7 412.6 1796.1 416.9 1826.6 420.4 1857 419.3 1887.4 416.6 1917.8 422.2 1948.3 421.3 1978.7 417.4" fill="none" stroke="#c3ecd8" stroke-width="1.1" stroke-linejoin="round" />
<path d="M1149.3 157.5a7.8 7.8 0 1 0 15.6 0a7.8 7.8 0 1 0 -15.6 0zM1179.7 253.1a7.8 7.8 0 1 0 15.6 0a7.8 7.8 0 1 0 -15.6 0zM1210.2 437.2a7.8 7.8 0 1 0 15.6 0a7.8 7.8 0 1 0 -15.6 0zM1240.6 457.3a7.8 7.8 0 1 0 15.6 0a7.8 7.8 0 1 0 -15.6 0zM1271 498.6a7.8 7.8 0 1 0 15.6 0a7.8 7.8 0 1 0 -15.6 0zM1301.5 471.7a7.8 7.8 0 1 0 15.6 0a7.8 7.8 0 1 0 -15.6 0zM1331.9 548.9a7.8 7.8 0 1 0 15.6 0a7.8 7.8 0 1 0 -15.6 0zM1362.3 452.6a7.8 7.8 0 1 0 15.6 0a7.8 7.8 0 1 0 -15.6 0zM1392.7 452.5a7.8 7.8 0 1 0 15.6 0a7.8 7.8 0 1 0 -15.6 0zM1423.2 484.6a7.8 7.8 0 1 0 15.6 0a7.8 7.8 0 1 0 -15.6 0zM1453.6 450.6a7.8 7.8 0 1 0 15.6 0a7.8 7.8 0 1 0 -15.6 0zM1484 444.2a7.8 7.8 0 1 0 15.6 0a7.8 7.8 0 1 0 -15.6 0zM1514.5 442a7.8 7.8 0 1 0 15.6 0a7.8 7.8 0 1 0 -15.6 0zM1544.9 426.8a7.8 7.8 0 1 0 15.6 0a7.8 7.8 0 1 0 -15.6 0zM1575.3 431.8a7.8 7.8 0 1 0 15.6 0a7.8 7.8 0 1 0 -15.6 0zM1605.8 426.7a7.8 7.8 0 1 0 15.6 0a7.8 7.8 0 1 0 -15.6 0zM1636.2 428.9a7.8 7.8 0 1 0 15.6 0a7.8 7.8 0 1 0 -15.6 0zM1666.6 422.2a7.8 7.8 0 1 0 15.6 0a7.8 7.8 0 1 0 -15.6 0zM1697 423.5a7.8 7.8 0 1 0 15.6 0a7.8 7.8 0 1 0 -15.6 0zM1727.5 423a7.8 7.8 0 1 0 15.6 0a7.8 7.8 0 1 0 -15.6 0zM1757.9 423.1a7.8 7.8 0 1 0 15.6 0a7.8 7.8 0 1 0 -15.6 0zM1788.3 420.2a7.8 7.8 0 1 0 15.6 0a7.8 7.8 0 1 0 -15.6 0zM1818.8 428.3a7.8 7.8 0 1 0 15.6 0a7.8 7.8 0 1 0 -15.6 0zM1849.2 424.1a7.8 7.8 0 1 0 15.6 0a7.8 7.8 0 1 0 -15.6 0zM1879.6 422.5a7.8 7.8 0 1 0 15.6 0a7.8 7.8 0 1 0 -15.6 0zM1910 426.6a7.8 7.8 0 1 0 15.6 0a7.8 7.8 0 1 0 -15.6 0zM1940.5 426.5a7.8 7.8 0 1 0 15.6 0a7.8 7.8 0 1 0 -15.6 0zM1970.9 427.6a7.8 7.8 0 1 0 15.6 0a7.8 7.8 0 1 0 -15.6 0zM1149.3 471.7a7.8 7.8 0 1 0 15.6 0a7.8 7.8 0 1 0 -15.6 0zM1179.7 580.5a7.8 7.8 0 1 0 15.6 0a7.8 7.8 0 1 0 -15.6 0zM1210.2 436.4a7.8 7.8 0 1 0 15.6 0a7.8 7.8 0 1 0 -15.6 0zM1240.6 451a7.8 7.8 0 1 0 15.6 0a7.8 7.8 0 1 0 -15.6 0zM1271 499.6a7.8 7.8 0 1 0 15.6 0a7.8 7.8 0 1 0 -15.6 0zM1301.5 480.8a7.8 7.8 0 1 0 15.6 0a7.8 7.8 0 1 0 -15.6 0zM1331.9 607.1a7.8 7.8 0 1 0 15.6 0a7.8 7.8 0 1 0 -15.6 0zM1362.3 452a7.8 7.8 0 1 0 15.6 0a7.8 7.8 0 1 0 -15.6 0zM1392.7 448.1a7.8 7.8 0 1 0 15.6 0a7.8 7.8 0 1 0 -15.6 0zM1423.2 503.6a7.8 7.8 0 1 0 15.6 0a7.8 7.8 0 1 0 -15.6 0zM1453.6 454a7.8 7.8 0 1 0 15.6 0a7.8 7.8 0 1 0 -15.6 0zM1484 444.2a7.8 7.8 0 1 0 15.6 0a7.8 7.8 0 1 0 -15.6 0zM1514.5 444.2a7.8 7.8 0 1 0 15.6 0a7.8 7.8 0 1 0 -15.6 0zM1544.9 432.4a7.8 7.8 0 1 0 15.6 0a7.8 7.8 0 1 0 -15.6 0zM1575.3 433.9a7.8 7.8 0 1 0 15.6 0a7.8 7.8 0 1 0 -15.6 0zM1605.8 430a7.8 7.8 0 1 0 15.6 0a7.8 7.8 0 1 0 -15.6 0zM1636.2 431a7.8 7.8 0 1 0 15.6 0a7.8 7.8 0 1 0 -15.6 0zM1666.6 426.5a7.8 7.8 0 1 0 15.6 0a7.8 7.8 0 1 0 -15.6 0zM1697 433a7.8 7.8 0 1 0 15.6 0a7.8 7.8 0 1 0 -15.6 0zM1727.5 427a7.8 7.8 0 1 0 15.6 0a7.8 7.8 0 1 0 -15.6 0zM1757.9 423.1a7.8 7.8 0 1 0 15.6 0a7.8 7.8 0 1 0 -15.6 0zM1788.3 425a7.8 7.8 0 1 0 15.6 0a7.8 7.8 0 1 0 -15.6 0zM1818.8 427.9a7.8 7.8 0 1 0 15.6 0a7.8 7.8 0 1 0 -15.6 0zM1849.2 430.3a7.8 7.8 0 1 0 15.6 0a7.8 7.8 0 1 0 -15.6 0zM1879.6 430.5a7.8 7.8 0 1 0 15.6 0a7.8 7.8 0 1 0 -15.6 0zM1910 431.8a7.8 7.8 0 1 0 15.6 0a7.8 7.8 0 1 0 -15.6 0zM1940.5 430.2a7.8 7.8 0 1 0 15.6 0a7.8 7.8 0 1 0 -15.6 0zM1970.9 432a7.8 7.8 0 1 0 15.6 0a7.8 7.8 0 1 0 -15.6 0zM1149.3 392.3a7.8 7.8 0 1 0 15.6 0a7.8 7.8 0 1 0 -15.6 0zM1179.7 451.6a7.8 7.8 0 1 0 15.6 0a7.8 7.8 0 1 0 -15.6 0zM1210.2 365.5a7.8 7.8 0 1 0 15.6 0a7.8 7.8 0 1 0 -15.6 0zM1240.6 381.1a7.8 7.8 0 1 0 15.6 0a7.8 7.8 0 1 0 -15.6 0zM1271 440.1a7.8 7.8 0 1 0 15.6 0a7.8 7.8 0 1 0 -15.6 0zM1301.5 430.7a7.8 7.8 0 1 0 15.6 0a7.8 7.8 0 1 0 -15.6 0zM1331.9 416.4a7.8 7.8 0 1 0 15.6 0a7.8 7.8 0 1 0 -15.6 0zM1362.3 396.5a7.8 7.8 0 1 0 15.6 0a7.8 7.8 0 1 0 -15.6 0zM1392.7 392.4a7.8 7.8 0 1 0 15.6 0a7.8 7.8 0 1 0 -15.6 0zM1423.2 436.5a7.8 7.8 0 1 0 15.6 0a7.8 7.8 0 1 0 -15.6 0zM1453.6 410.5a7.8 7.8 0 1 0 15.6 0a7.8 7.8 0 1 0 -15.6 0zM1484 410.6a7.8 7.8 0 1 0 15.6 0a7.8 7.8 0 1 0 -15.6 0zM1514.5 402.7a7.8 7.8 0 1 0 15.6 0a7.8 7.8 0 1 0 -15.6 0zM1544.9 399.9a7.8 7.8 0 1 0 15.6 0a7.8 7.8 0 1 0 -15.6 0zM1575.3 392.4a7.8 7.8 0 1 0 15.6 0a7.8 7.8 0 1 0 -15.6 0zM1605.8 394a7.8 7.8 0 1 0 15.6 0a7.8 7.8 0 1 0 -15.6 0zM1636.2 393.1a7.8 7.8 0 1 0 15.6 0a7.8 7.8 0 1 0 -15.6 0zM1666.6 396.7a7.8 7.8 0 1 0 15.6 0a7.8 7.8 0 1 0 -15.6 0zM1697 394.2a7.8 7.8 0 1 0 15.6 0a7.8 7.8 0 1 0 -15.6 0zM1727.5 387.7a7.8 7.8 0 1 0 15.6 0a7.8 7.8 0 1 0 -15.6 0zM1757.9 390.4a7.8 7.8 0 1 0 15.6 0a7.8 7.8 0 1 0 -15.6 0zM1788.3 387.7a7.8 7.8 0 1 0 15.6 0a7.8 7.8 0 1 0 -15.6 0zM1818.8 397.2a7.8 7.8 0 1 0 15.6 0a7.8 7.8 0 1 0 -15.6 0zM1849.2 390a7.8 7.8 0 1 0 15.6 0a7.8 7.8 0 1 0 -15.6 0zM1879.6 390a7.8 7.8 0 1 0 15.6 0a7.8 7.8 0 1 0 -15.6 0zM1910 391.2a7.8 7.8 0 1 0 15.6 0a7.8 7.8 0 1 0 -15.6 0zM1940.5 391.8a7.8 7.8 0 1 0 15.6 0a7.8 7.8 0 1 0 -15.6 0zM1970.9 395.5a7.8 7.8 0 1 0 15.6 0a7.8 7.8 0 1 0 -15.6 0zM1149.3 586.7a7.8 7.8 0 1 0 15.6 0a7.8 7.8 0 1 0 -15.6 0zM1179.7 580.5a7.8 7.8 0 1 0 15.6 0a7.8 7.8 0 1 0 -15.6 0zM1210.2 435.4a7.8 7.8 0 1 0 15.6 0a7.8 7.8 0 1 0 -15.6 0zM1240.6 457.3a7.8 7.8 0 1 0 15.6 0a7.8 7.8 0 1 0 -15.6 0zM1271 490.9a7.8 7.8 0 1 0 15.6 0a7.8 7.8 0 1 0 -15.6 0zM1301.5 464.7a7.8 7.8 0 1 0 15.6 0a7.8 7.8 0 1 0 -15.6 0zM1331.9 552.1a7.8 7.8 0 1 0 15.6 0a7.8 7.8 0 1 0 -15.6 0zM1362.3 441.1a7.8 7.8 0 1 0 15.6 0a7.8 7.8 0 1 0 -15.6 0zM1392.7 440a7.8 7.8 0 1 0 15.6 0a7.8 7.8 0 1 0 -15.6 0zM1423.2 503.6a7.8 7.8 0 1 0 15.6 0a7.8 7.8 0 1 0 -15.6 0zM1453.6 450a7.8 7.8 0 1 0 15.6 0a7.8 7.8 0 1 0 -15.6 0zM1484 429a7.8 7.8 0 1 0 15.6 0a7.8 7.8 0 1 0 -15.6 0zM1514.5 435a7.8 7.8 0 1 0 15.6 0a7.8 7.8 0 1 0 -15.6 0zM1544.9 426.7a7.8 7.8 0 1 0 15.6 0a7.8 7.8 0 1 0 -15.6 0zM1575.3 427.8a7.8 7.8 0 1 0 15.6 0a7.8 7.8 0 1 0 -15.6 0zM1605.8 423.4a7.8 7.8 0 1 0 15.6 0a7.8 7.8 0 1 0 -15.6 0zM1636.2 421.2a7.8 7.8 0 1 0 15.6 0a7.8 7.8 0 1 0 -15.6 0zM1666.6 419.7a7.8 7.8 0 1 0 15.6 0a7.8 7.8 0 1 0 -15.6 0zM1697 424.7a7.8 7.8 0 1 0 15.6 0a7.8 7.8 0 1 0 -15.6 0zM1727.5 416.9a7.8 7.8 0 1 0 15.6 0a7.8 7.8 0 1 0 -15.6 0zM1757.9 418.6a7.8 7.8 0 1 0 15.6 0a7.8 7.8 0 1 0 -15.6 0zM1788.3 420.5a7.8 7.8 0 1 0 15.6 0a7.8 7.8 0 1 0 -15.6 0zM1818.8 422.7a7.8 7.8 0 1 0 15.6 0a7.8 7.8 0 1 0 -15.6 0zM1849.2 425.9a7.8 7.8 0 1 0 15.6 0a7.8 7.8 0 1 0 -15.6 0zM1879.6 422.5a7.8 7.8 0 1 0 15.6 0a7.8 7.8 0 1 0 -15.6 0zM1910 423.5a7.8 7.8 0 1 0 15.6 0a7.8 7.8 0 1 0 -15.6 0zM1940.5 422.3a7.8 7.8 0 1 0 15.6 0a7.8 7.8 0 1 0 -15.6 0zM1970.9 426.4a7.8 7.8 0 1 0 15.6 0a7.8 7.8 0 1 0 -15.6 0zM1149.3 492.7a7.8 7.8 0 1 0 15.6 0a7.8 7.8 0 1 0 -15.6 0zM1179.7 450.1a7.8 7.8 0 1 0 15.6 0a7.8 7.8 0 1 0 -15.6 0zM1210.2 390.2a7.8 7.8 0 1 0 15.6 0a7.8 7.8 0 1 0 -15.6 0zM1240.6 379.5a7.8 7.8 0 1 0 15.6 0a7.8 7.8 0 1 0 -15.6 0zM1271 429a7.8 7.8 0 1 0 15.6 0a7.8 7.8 0 1 0 -15.6 0zM1301.5 424a7.8 7.8 0 1 0 15.6 0a7.8 7.8 0 1 0 -15.6 0zM1331.9 484.3a7.8 7.8 0 1 0 15.6 0a7.8 7.8 0 1 0 -15.6 0zM1362.3 402.1a7.8 7.8 0 1 0 15.6 0a7.8 7.8 0 1 0 -15.6 0zM1392.7 392.4a7.8 7.8 0 1 0 15.6 0a7.8 7.8 0 1 0 -15.6 0zM1423.2 454.9a7.8 7.8 0 1 0 15.6 0a7.8 7.8 0 1 0 -15.6 0zM1453.6 409.9a7.8 7.8 0 1 0 15.6 0a7.8 7.8 0 1 0 -15.6 0zM1484 399.4a7.8 7.8 0 1 0 15.6 0a7.8 7.8 0 1 0 -15.6 0zM1514.5 408.9a7.8 7.8 0 1 0 15.6 0a7.8 7.8 0 1 0 -15.6 0zM1544.9 401.8a7.8 7.8 0 1 0 15.6 0a7.8 7.8 0 1 0 -15.6 0zM1575.3 399.7a7.8 7.8 0 1 0 15.6 0a7.8 7.8 0 1 0 -15.6 0zM1605.8 397.7a7.8 7.8 0 1 0 15.6 0a7.8 7.8 0 1 0 -15.6 0zM1636.2 391.4a7.8 7.8 0 1 0 15.6 0a7.8 7.8 0 1 0 -15.6 0zM1666.6 391.2a7.8 7.8 0 1 0 15.6 0a7.8 7.8 0 1 0 -15.6 0zM1697 395.1a7.8 7.8 0 1 0 15.6 0a7.8 7.8 0 1 0 -15.6 0zM1727.5 389.2a7.8 7.8 0 1 0 15.6 0a7.8 7.8 0 1 0 -15.6 0zM1757.9 389.8a7.8 7.8 0 1 0 15.6 0a7.8 7.8 0 1 0 -15.6 0zM1788.3 390.5a7.8 7.8 0 1 0 15.6 0a7.8 7.8 0 1 0 -15.6 0zM1818.8 395.7a7.8 7.8 0 1 0 15.6 0a7.8 7.8 0 1 0 -15.6 0zM1849.2 390.4a7.8 7.8 0 1 0 15.6 0a7.8 7.8 0 1 0 -15.6 0zM1879.6 391.9a7.8 7.8 0 1 0 15.6 0a7.8 7.8 0 1 0 -15.6 0zM1910 395a7.8 7.8 0 1 0 15.6 0a7.8 7.8 0 1 0 -15.6 0zM1940.5 395a7.8 7.8 0 1 0 15.6 0a7.8 7.8 0 1 0 -15.6 0zM1970.9 392.2a7.8 7.8 0 1 0 15.6 0a7.8 7.8 0 1 0 -15.6 0zM1149.3 519a7.8 7.8 0 1 0 15.6 0a7.8 7.8 0 1 0 -15.6 0zM1179.7 532.2a7.8 7.8 0 1 0 15.6 0a7.8 7.8 0 1 0 -15.6 0zM1210.2 411.5a7.8 7.8 0 1 0 15.6 0a7.8 7.8 0 1 0 -15.6 0zM1240.6 414.9a7.8 7.8 0 1 0 15.6 0a7.8 7.8 0 1 0 -15.6 0zM1271 459.4a7.8 7.8 0 1 0 15.6 0a7.8 7.8 0 1 0 -15.6 0zM1301.5 447.7a7.8 7.8 0 1 0 15.6 0a7.8 7.8 0 1 0 -15.6 0zM1331.9 510.6a7.8 7.8 0 1 0 15.6 0a7.8 7.8 0 1 0 -15.6 0zM1362.3 426.6a7.8 7.8 0 1 0 15.6 0a7.8 7.8 0 1 0 -15.6 0zM1392.7 418.3a7.8 7.8 0 1 0 15.6 0a7.8 7.8 0 1 0 -15.6 0zM1423.2 439.2a7.8 7.8 0 1 0 15.6 0a7.8 7.8 0 1 0 -15.6 0zM1453.6 424.3a7.8 7.8 0 1 0 15.6 0a7.8 7.8 0 1 0 -15.6 0zM1484 409.8a7.8 7.8 0 1 0 15.6 0a7.8 7.8 0 1 0 -15.6 0zM1514.5 423.4a7.8 7.8 0 1 0 15.6 0a7.8 7.8 0 1 0 -15.6 0zM1544.9 416.6a7.8 7.8 0 1 0 15.6 0a7.8 7.8 0 1 0 -15.6 0zM1575.3 413.6a7.8 7.8 0 1 0 15.6 0a7.8 7.8 0 1 0 -15.6 0zM1605.8 412.4a7.8 7.8 0 1 0 15.6 0a7.8 7.8 0 1 0 -15.6 0zM1636.2 408.5a7.8 7.8 0 1 0 15.6 0a7.8 7.8 0 1 0 -15.6 0zM1666.6 409.2a7.8 7.8 0 1 0 15.6 0a7.8 7.8 0 1 0 -15.6 0zM1697 407.6a7.8 7.8 0 1 0 15.6 0a7.8 7.8 0 1 0 -15.6 0zM1727.5 409.9a7.8 7.8 0 1 0 15.6 0a7.8 7.8 0 1 0 -15.6 0zM1757.9 406.5a7.8 7.8 0 1 0 15.6 0a7.8 7.8 0 1 0 -15.6 0zM1788.3 409.7a7.8 7.8 0 1 0 15.6 0a7.8 7.8 0 1 0 -15.6 0zM1818.8 413.1a7.8 7.8 0 1 0 15.6 0a7.8 7.8 0 1 0 -15.6 0zM1849.2 411a7.8 7.8 0 1 0 15.6 0a7.8 7.8 0 1 0 -15.6 0zM1879.6 411.1a7.8 7.8 0 1 0 15.6 0a7.8 7.8 0 1 0 -15.6 0zM1910 413.5a7.8 7.8 0 1 0 15.6 0a7.8 7.8 0 1 0 -15.6 0zM1940.5 414.8a7.8 7.8 0 1 0 15.6 0a7.8 7.8 0 1 0 -15.6 0zM1970.9 408.6a7.8 7.8 0 1 0 15.6 0a7.8 7.8 0 1 0 -15.6 0zM1149.3 472.6a7.8 7.8 0 1 0 15.6 0a7.8 7.8 0 1 0 -15.6 0zM1179.7 375.9a7.8 7.8 0 1 0 15.6 0a7.8 7.8 0 1 0 -15.6 0zM1210.2 411.5a7.8 7.8 0 1 0 15.6 0a7.8 7.8 0 1 0 -15.6 0zM1240.6 429.3a7.8 7.8 0 1 0 15.6 0a7.8 7.8 0 1 0 -15.6 0zM1271 461.3a7.8 7.8 0 1 0 15.6 0a7.8 7.8 0 1 0 -15.6 0zM1301.5 441.1a7.8 7.8 0 1 0 15.6 0a7.8 7.8 0 1 0 -15.6 0zM1331.9 532.4a7.8 7.8 0 1 0 15.6 0a7.8 7.8 0 1 0 -15.6 0zM1362.3 418.4a7.8 7.8 0 1 0 15.6 0a7.8 7.8 0 1 0 -15.6 0zM1392.7 422.3a7.8 7.8 0 1 0 15.6 0a7.8 7.8 0 1 0 -15.6 0zM1423.2 408.5a7.8 7.8 0 1 0 15.6 0a7.8 7.8 0 1 0 -15.6 0zM1453.6 425a7.8 7.8 0 1 0 15.6 0a7.8 7.8 0 1 0 -15.6 0zM1484 404.6a7.8 7.8 0 1 0 15.6 0a7.8 7.8 0 1 0 -15.6 0zM1514.5 420.4a7.8 7.8 0 1 0 15.6 0a7.8 7.8 0 1 0 -15.6 0zM1544.9 409.8a7.8 7.8 0 1 0 15.6 0a7.8 7.8 0 1 0 -15.6 0zM1575.3 409.3a7.8 7.8 0 1 0 15.6 0a7.8 7.8 0 1 0 -15.6 0zM1605.8 410.7a7.8 7.8 0 1 0 15.6 0a7.8 7.8 0 1 0 -15.6 0zM1636.2 408.5a7.8 7.8 0 1 0 15.6 0a7.8 7.8 0 1 0 -15.6 0zM1666.6 407a7.8 7.8 0 1 0 15.6 0a7.8 7.8 0 1 0 -15.6 0zM1697 410.1a7.8 7.8 0 1 0 15.6 0a7.8 7.8 0 1 0 -15.6 0zM1727.5 406.1a7.8 7.8 0 1 0 15.6 0a7.8 7.8 0 1 0 -15.6 0zM1757.9 403.2a7.8 7.8 0 1 0 15.6 0a7.8 7.8 0 1 0 -15.6 0zM1788.3 401.9a7.8 7.8 0 1 0 15.6 0a7.8 7.8 0 1 0 -15.6 0zM1818.8 408.5a7.8 7.8 0 1 0 15.6 0a7.8 7.8 0 1 0 -15.6 0zM1849.2 404.5a7.8 7.8 0 1 0 15.6 0a7.8 7.8 0 1 0 -15.6 0zM1879.6 402.8a7.8 7.8 0 1 0 15.6 0a7.8 7.8 0 1 0 -15.6 0zM1910 410.9a7.8 7.8 0 1 0 15.6 0a7.8 7.8 0 1 0 -15.6 0zM1940.5 407.3a7.8 7.8 0 1 0 15.6 0a7.8 7.8 0 1 0 -15.6 0zM1970.9 410.2a7.8 7.8 0 1 0 15.6 0a7.8 7.8 0 1 0 -15.6 0zM1149.3 518.4a7.8 7.8 0 1 0 15.6 0a7.8 7.8 0 1 0 -15.6 0zM1179.7 453.1a7.8 7.8 0 1 0 15.6 0a7.8 7.8 0 1 0 -15.6 0zM1210.2 428.1a7.8 7.8 0 1 0 15.6 0a7.8 7.8 0 1 0 -15.6 0zM1240.6 399.7a7.8 7.8 0 1 0 15.6 0a7.8 7.8 0 1 0 -15.6 0zM1271 459.5a7.8 7.8 0 1 0 15.6 0a7.8 7.8 0 1 0 -15.6 0zM1301.5 445.7a7.8 7.8 0 1 0 15.6 0a7.8 7.8 0 1 0 -15.6 0zM1331.9 447.5a7.8 7.8 0 1 0 15.6 0a7.8 7.8 0 1 0 -15.6 0zM1362.3 417a7.8 7.8 0 1 0 15.6 0a7.8 7.8 0 1 0 -15.6 0zM1392.7 423.4a7.8 7.8 0 1 0 15.6 0a7.8 7.8 0 1 0 -15.6 0zM1423.2 415.2a7.8 7.8 0 1 0 15.6 0a7.8 7.8 0 1 0 -15.6 0zM1453.6 425a7.8 7.8 0 1 0 15.6 0a7.8 7.8 0 1 0 -15.6 0zM1484 412.7a7.8 7.8 0 1 0 15.6 0a7.8 7.8 0 1 0 -15.6 0zM1514.5 428.8a7.8 7.8 0 1 0 15.6 0a7.8 7.8 0 1 0 -15.6 0zM1544.9 414.9a7.8 7.8 0 1 0 15.6 0a7.8 7.8 0 1 0 -15.6 0zM1575.3 412.6a7.8 7.8 0 1 0 15.6 0a7.8 7.8 0 1 0 -15.6 0zM1605.8 415.8a7.8 7.8 0 1 0 15.6 0a7.8 7.8 0 1 0 -15.6 0zM1636.2 409.5a7.8 7.8 0 1 0 15.6 0a7.8 7.8 0 1 0 -15.6 0zM1666.6 407.7a7.8 7.8 0 1 0 15.6 0a7.8 7.8 0 1 0 -15.6 0zM1697 410.9a7.8 7.8 0 1 0 15.6 0a7.8 7.8 0 1 0 -15.6 0zM1727.5 406.1a7.8 7.8 0 1 0 15.6 0a7.8 7.8 0 1 0 -15.6 0zM1757.9 402.4a7.8 7.8 0 1 0 15.6 0a7.8 7.8 0 1 0 -15.6 0zM1788.3 407a7.8 7.8 0 1 0 15.6 0a7.8 7.8 0 1 0 -15.6 0zM1818.8 412a7.8 7.8 0 1 0 15.6 0a7.8 7.8 0 1 0 -15.6 0zM1849.2 408.6a7.8 7.8 0 1 0 15.6 0a7.8 7.8 0 1 0 -15.6 0zM1879.6 406.1a7.8 7.8 0 1 0 15.6 0a7.8 7.8 0 1 0 -15.6 0zM1910 408.9a7.8 7.8 0 1 0 15.6 0a7.8 7.8 0 1 0 -15.6 0zM1940.5 410.1a7.8 7.8 0 1 0 15.6 0a7.8 7.8 0 1 0 -15.6 0zM1970.9 411.4a7.8 7.8 0 1 0 15.6 0a7.8 7.8 0 1 0 -15.6 0zM1149.3 403.1a7.8 7.8 0 1 0 15.6 0a7.8 7.8 0 1 0 -15.6 0zM1179.7 453a7.8 7.8 0 1 0 15.6 0a7.8 7.8 0 1 0 -15.6 0zM1210.2 448.6a7.8 7.8 0 1 0 15.6 0a7.8 7.8 0 1 0 -15.6 0zM1240.6 429.2a7.8 7.8 0 1 0 15.6 0a7.8 7.8 0 1 0 -15.6 0zM1271 494.2a7.8 7.8 0 1 0 15.6 0a7.8 7.8 0 1 0 -15.6 0zM1301.5 459.7a7.8 7.8 0 1 0 15.6 0a7.8 7.8 0 1 0 -15.6 0zM1331.9 506.6a7.8 7.8 0 1 0 15.6 0a7.8 7.8 0 1 0 -15.6 0zM1362.3 443.2a7.8 7.8 0 1 0 15.6 0a7.8 7.8 0 1 0 -15.6 0zM1392.7 445.1a7.8 7.8 0 1 0 15.6 0a7.8 7.8 0 1 0 -15.6 0zM1423.2 488.9a7.8 7.8 0 1 0 15.6 0a7.8 7.8 0 1 0 -15.6 0zM1453.6 448.9a7.8 7.8 0 1 0 15.6 0a7.8 7.8 0 1 0 -15.6 0zM1484 426a7.8 7.8 0 1 0 15.6 0a7.8 7.8 0 1 0 -15.6 0zM1514.5 435.4a7.8 7.8 0 1 0 15.6 0a7.8 7.8 0 1 0 -15.6 0zM1544.9 429a7.8 7.8 0 1 0 15.6 0a7.8 7.8 0 1 0 -15.6 0zM1575.3 424a7.8 7.8 0 1 0 15.6 0a7.8 7.8 0 1 0 -15.6 0zM1605.8 421.1a7.8 7.8 0 1 0 15.6 0a7.8 7.8 0 1 0 -15.6 0zM1636.2 423.4a7.8 7.8 0 1 0 15.6 0a7.8 7.8 0 1 0 -15.6 0zM1666.6 421.4a7.8 7.8 0 1 0 15.6 0a7.8 7.8 0 1 0 -15.6 0zM1697 417.9a7.8 7.8 0 1 0 15.6 0a7.8 7.8 0 1 0 -15.6 0zM1727.5 416.4a7.8 7.8 0 1 0 15.6 0a7.8 7.8 0 1 0 -15.6 0zM1757.9 418a7.8 7.8 0 1 0 15.6 0a7.8 7.8 0 1 0 -15.6 0zM1788.3 416.4a7.8 7.8 0 1 0 15.6 0a7.8 7.8 0 1 0 -15.6 0zM1818.8 419.2a7.8 7.8 0 1 0 15.6 0a7.8 7.8 0 1 0 -15.6 0zM1849.2 422.6a7.8 7.8 0 1 0 15.6 0a7.8 7.8 0 1 0 -15.6 0zM1879.6 420.5a7.8 7.8 0 1 0 15.6 0a7.8 7.8 0 1 0 -15.6 0zM1910 426a7.8 7.8 0 1 0 15.6 0a7.8 7.8 0 1 0 -15.6 0zM1940.5 425.8a7.8 7.8 0 1 0 15.6 0a7.8 7.8 0 1 0 -15.6 0zM1970.9 425.7a7.8 7.8 0 1 0 15.6 0a7.8 7.8 0 1 0 -15.6 0zM1149.3 343.1a7.8 7.8 0 1 0 15.6 0a7.8 7.8 0 1 0 -15.6 0zM1179.7 395.1a7.8 7.8 0 1 0 15.6 0a7.8 7.8 0 1 0 -15.6 0zM1210.2 379.3a7.8 7.8 0 1 0 15.6 0a7.8 7.8 0 1 0 -15.6 0zM1240.6 371.3a7.8 7.8 0 1 0 15.6 0a7.8 7.8 0 1 0 -15.6 0zM1271 445.9a7.8 7.8 0 1 0 15.6 0a7.8 7.8 0 1 0 -15.6 0zM1301.5 432.9a7.8 7.8 0 1 0 15.6 0a7.8 7.8 0 1 0 -15.6 0zM1331.9 421.7a7.8 7.8 0 1 0 15.6 0a7.8 7.8 0 1 0 -15.6 0zM1362.3 407.5a7.8 7.8 0 1 0 15.6 0a7.8 7.8 0 1 0 -15.6 0zM1392.7 411.1a7.8 7.8 0 1 0 15.6 0a7.8 7.8 0 1 0 -15.6 0zM1423.2 439.5a7.8 7.8 0 1 0 15.6 0a7.8 7.8 0 1 0 -15.6 0zM1453.6 417.8a7.8 7.8 0 1 0 15.6 0a7.8 7.8 0 1 0 -15.6 0zM1484 405.8a7.8 7.8 0 1 0 15.6 0a7.8 7.8 0 1 0 -15.6 0zM1514.5 415.2a7.8 7.8 0 1 0 15.6 0a7.8 7.8 0 1 0 -15.6 0zM1544.9 406.3a7.8 7.8 0 1 0 15.6 0a7.8 7.8 0 1 0 -15.6 0zM1575.3 401.5a7.8 7.8 0 1 0 15.6 0a7.8 7.8 0 1 0 -15.6 0zM1605.8 401.7a7.8 7.8 0 1 0 15.6 0a7.8 7.8 0 1 0 -15.6 0zM1636.2 399a7.8 7.8 0 1 0 15.6 0a7.8 7.8 0 1 0 -15.6 0zM1666.6 398.5a7.8 7.8 0 1 0 15.6 0a7.8 7.8 0 1 0 -15.6 0zM1697 399.5a7.8 7.8 0 1 0 15.6 0a7.8 7.8 0 1 0 -15.6 0zM1727.5 394.6a7.8 7.8 0 1 0 15.6 0a7.8 7.8 0 1 0 -15.6 0zM1757.9 394.9a7.8 7.8 0 1 0 15.6 0a7.8 7.8 0 1 0 -15.6 0zM1788.3 393.7a7.8 7.8 0 1 0 15.6 0a7.8 7.8 0 1 0 -15.6 0zM1818.8 399.9a7.8 7.8 0 1 0 15.6 0a7.8 7.8 0 1 0 -15.6 0zM1849.2 400.8a7.8 7.8 0 1 0 15.6 0a7.8 7.8 0 1 0 -15.6 0zM1879.6 394.1a7.8 7.8 0 1 0 15.6 0a7.8 7.8 0 1 0 -15.6 0zM1910 398.1a7.8 7.8 0 1 0 15.6 0a7.8 7.8 0 1 0 -15.6 0zM1940.5 397.9a7.8 7.8 0 1 0 15.6 0a7.8 7.8 0 1 0 -15.6 0zM1970.9 399.1a7.8 7.8 0 1 0 15.6 0a7.8 7.8 0 1 0 -15.6 0zM1149.3 354a7.8 7.8 0 1 0 15.6 0a7.8 7.8 0 1 0 -15.6 0zM1179.7 481.6a7.8 7.8 0 1 0 15.6 0a7.8 7.8 0 1 0 -15.6 0zM1210.2 366.6a7.8 7.8 0 1 0 15.6 0a7.8 7.8 0 1 0 -15.6 0zM1240.6 374.7a7.8 7.8 0 1 0 15.6 0a7.8 7.8 0 1 0 -15.6 0zM1271 435.4a7.8 7.8 0 1 0 15.6 0a7.8 7.8 0 1 0 -15.6 0zM1301.5 430.9a7.8 7.8 0 1 0 15.6 0a7.8 7.8 0 1 0 -15.6 0zM1331.9 408.5a7.8 7.8 0 1 0 15.6 0a7.8 7.8 0 1 0 -15.6 0zM1362.3 402.9a7.8 7.8 0 1 0 15.6 0a7.8 7.8 0 1 0 -15.6 0zM1392.7 400.5a7.8 7.8 0 1 0 15.6 0a7.8 7.8 0 1 0 -15.6 0zM1423.2 408.5a7.8 7.8 0 1 0 15.6 0a7.8 7.8 0 1 0 -15.6 0zM1453.6 407.2a7.8 7.8 0 1 0 15.6 0a7.8 7.8 0 1 0 -15.6 0zM1484 405.5a7.8 7.8 0 1 0 15.6 0a7.8 7.8 0 1 0 -15.6 0zM1514.5 405.4a7.8 7.8 0 1 0 15.6 0a7.8 7.8 0 1 0 -15.6 0zM1544.9 399.3a7.8 7.8 0 1 0 15.6 0a7.8 7.8 0 1 0 -15.6 0zM1575.3 394.7a7.8 7.8 0 1 0 15.6 0a7.8 7.8 0 1 0 -15.6 0zM1605.8 393.9a7.8 7.8 0 1 0 15.6 0a7.8 7.8 0 1 0 -15.6 0zM1636.2 392a7.8 7.8 0 1 0 15.6 0a7.8 7.8 0 1 0 -15.6 0zM1666.6 394.6a7.8 7.8 0 1 0 15.6 0a7.8 7.8 0 1 0 -15.6 0zM1697 397.7a7.8 7.8 0 1 0 15.6 0a7.8 7.8 0 1 0 -15.6 0zM1727.5 387.7a7.8 7.8 0 1 0 15.6 0a7.8 7.8 0 1 0 -15.6 0zM1757.9 391.1a7.8 7.8 0 1 0 15.6 0a7.8 7.8 0 1 0 -15.6 0zM1788.3 392.4a7.8 7.8 0 1 0 15.6 0a7.8 7.8 0 1 0 -15.6 0zM1818.8 393.2a7.8 7.8 0 1 0 15.6 0a7.8 7.8 0 1 0 -15.6 0zM1849.2 391.3a7.8 7.8 0 1 0 15.6 0a7.8 7.8 0 1 0 -15.6 0zM1879.6 394.1a7.8 7.8 0 1 0 15.6 0a7.8 7.8 0 1 0 -15.6 0zM1910 391.2a7.8 7.8 0 1 0 15.6 0a7.8 7.8 0 1 0 -15.6 0zM1940.5 399.4a7.8 7.8 0 1 0 15.6 0a7.8 7.8 0 1 0 -15.6 0zM1970.9 391.2a7.8 7.8 0 1 0 15.6 0a7.8 7.8 0 1 0 -15.6 0zM1149.3 574.3a7.8 7.8 0 1 0 15.6 0a7.8 7.8 0 1 0 -15.6 0zM1179.7 539.8a7.8 7.8 0 1 0 15.6 0a7.8 7.8 0 1 0 -15.6 0zM1210.2 447.7a7.8 7.8 0 1 0 15.6 0a7.8 7.8 0 1 0 -15.6 0zM1240.6 453.3a7.8 7.8 0 1 0 15.6 0a7.8 7.8 0 1 0 -15.6 0zM1271 496.8a7.8 7.8 0 1 0 15.6 0a7.8 7.8 0 1 0 -15.6 0zM1301.5 480.8a7.8 7.8 0 1 0 15.6 0a7.8 7.8 0 1 0 -15.6 0zM1331.9 607.1a7.8 7.8 0 1 0 15.6 0a7.8 7.8 0 1 0 -15.6 0zM1362.3 446.3a7.8 7.8 0 1 0 15.6 0a7.8 7.8 0 1 0 -15.6 0zM1392.7 457.3a7.8 7.8 0 1 0 15.6 0a7.8 7.8 0 1 0 -15.6 0zM1423.2 455.3a7.8 7.8 0 1 0 15.6 0a7.8 7.8 0 1 0 -15.6 0zM1453.6 457.3a7.8 7.8 0 1 0 15.6 0a7.8 7.8 0 1 0 -15.6 0zM1484 444.2a7.8 7.8 0 1 0 15.6 0a7.8 7.8 0 1 0 -15.6 0zM1514.5 437.7a7.8 7.8 0 1 0 15.6 0a7.8 7.8 0 1 0 -15.6 0zM1544.9 433.2a7.8 7.8 0 1 0 15.6 0a7.8 7.8 0 1 0 -15.6 0zM1575.3 433.4a7.8 7.8 0 1 0 15.6 0a7.8 7.8 0 1 0 -15.6 0zM1605.8 435.1a7.8 7.8 0 1 0 15.6 0a7.8 7.8 0 1 0 -15.6 0zM1636.2 428.3a7.8 7.8 0 1 0 15.6 0a7.8 7.8 0 1 0 -15.6 0zM1666.6 428.5a7.8 7.8 0 1 0 15.6 0a7.8 7.8 0 1 0 -15.6 0zM1697 431.5a7.8 7.8 0 1 0 15.6 0a7.8 7.8 0 1 0 -15.6 0zM1727.5 427a7.8 7.8 0 1 0 15.6 0a7.8 7.8 0 1 0 -15.6 0zM1757.9 423.8a7.8 7.8 0 1 0 15.6 0a7.8 7.8 0 1 0 -15.6 0zM1788.3 423.2a7.8 7.8 0 1 0 15.6 0a7.8 7.8 0 1 0 -15.6 0zM1818.8 425.7a7.8 7.8 0 1 0 15.6 0a7.8 7.8 0 1 0 -15.6 0zM1849.2 426.8a7.8 7.8 0 1 0 15.6 0a7.8 7.8 0 1 0 -15.6 0zM1879.6 424.5a7.8 7.8 0 1 0 15.6 0a7.8 7.8 0 1 0 -15.6 0zM1910 427.2a7.8 7.8 0 1 0 15.6 0a7.8 7.8 0 1 0 -15.6 0zM1940.5 433a7.8 7.8 0 1 0 15.6 0a7.8 7.8 0 1 0 -15.6 0zM1970.9 426.1a7.8 7.8 0 1 0 15.6 0a7.8 7.8 0 1 0 -15.6 0zM1149.3 417.3a7.8 7.8 0 1 0 15.6 0a7.8 7.8 0 1 0 -15.6 0zM1179.7 514.4a7.8 7.8 0 1 0 15.6 0a7.8 7.8 0 1 0 -15.6 0zM1210.2 384.8a7.8 7.8 0 1 0 15.6 0a7.8 7.8 0 1 0 -15.6 0zM1240.6 377.3a7.8 7.8 0 1 0 15.6 0a7.8 7.8 0 1 0 -15.6 0zM1271 454.9a7.8 7.8 0 1 0 15.6 0a7.8 7.8 0 1 0 -15.6 0zM1301.5 439.8a7.8 7.8 0 1 0 15.6 0a7.8 7.8 0 1 0 -15.6 0zM1331.9 408.5a7.8 7.8 0 1 0 15.6 0a7.8 7.8 0 1 0 -15.6 0zM1362.3 413.1a7.8 7.8 0 1 0 15.6 0a7.8 7.8 0 1 0 -15.6 0zM1392.7 404a7.8 7.8 0 1 0 15.6 0a7.8 7.8 0 1 0 -15.6 0zM1423.2 426a7.8 7.8 0 1 0 15.6 0a7.8 7.8 0 1 0 -15.6 0zM1453.6 420.6a7.8 7.8 0 1 0 15.6 0a7.8 7.8 0 1 0 -15.6 0zM1484 420.3a7.8 7.8 0 1 0 15.6 0a7.8 7.8 0 1 0 -15.6 0zM1514.5 411.1a7.8 7.8 0 1 0 15.6 0a7.8 7.8 0 1 0 -15.6 0zM1544.9 410.9a7.8 7.8 0 1 0 15.6 0a7.8 7.8 0 1 0 -15.6 0zM1575.3 406.6a7.8 7.8 0 1 0 15.6 0a7.8 7.8 0 1 0 -15.6 0zM1605.8 406.7a7.8 7.8 0 1 0 15.6 0a7.8 7.8 0 1 0 -15.6 0zM1636.2 397.8a7.8 7.8 0 1 0 15.6 0a7.8 7.8 0 1 0 -15.6 0zM1666.6 397.7a7.8 7.8 0 1 0 15.6 0a7.8 7.8 0 1 0 -15.6 0zM1697 402.6a7.8 7.8 0 1 0 15.6 0a7.8 7.8 0 1 0 -15.6 0zM1727.5 398.8a7.8 7.8 0 1 0 15.6 0a7.8 7.8 0 1 0 -15.6 0zM1757.9 396.4a7.8 7.8 0 1 0 15.6 0a7.8 7.8 0 1 0 -15.6 0zM1788.3 395.2a7.8 7.8 0 1 0 15.6 0a7.8 7.8 0 1 0 -15.6 0zM1818.8 404.2a7.8 7.8 0 1 0 15.6 0a7.8 7.8 0 1 0 -15.6 0zM1849.2 395.6a7.8 7.8 0 1 0 15.6 0a7.8 7.8 0 1 0 -15.6 0zM1879.6 401.2a7.8 7.8 0 1 0 15.6 0a7.8 7.8 0 1 0 -15.6 0zM1910 399.4a7.8 7.8 0 1 0 15.6 0a7.8 7.8 0 1 0 -15.6 0zM1940.5 407.6a7.8 7.8 0 1 0 15.6 0a7.8 7.8 0 1 0 -15.6 0zM1970.9 402.2a7.8 7.8 0 1 0 15.6 0a7.8 7.8 0 1 0 -15.6 0zM1149.3 488.9a7.8 7.8 0 1 0 15.6 0a7.8 7.8 0 1 0 -15.6 0zM1179.7 373.4a7.8 7.8 0 1 0 15.6 0a7.8 7.8 0 1 0 -15.6 0zM1210.2 395.7a7.8 7.8 0 1 0 15.6 0a7.8 7.8 0 1 0 -15.6 0zM1240.6 408.9a7.8 7.8 0 1 0 15.6 0a7.8 7.8 0 1 0 -15.6 0zM1271 444.3a7.8 7.8 0 1 0 15.6 0a7.8 7.8 0 1 0 -15.6 0zM1301.5 441.3a7.8 7.8 0 1 0 15.6 0a7.8 7.8 0 1 0 -15.6 0zM1331.9 471.3a7.8 7.8 0 1 0 15.6 0a7.8 7.8 0 1 0 -15.6 0zM1362.3 418.9a7.8 7.8 0 1 0 15.6 0a7.8 7.8 0 1 0 -15.6 0zM1392.7 410.3a7.8 7.8 0 1 0 15.6 0a7.8 7.8 0 1 0 -15.6 0zM1423.2 431.9a7.8 7.8 0 1 0 15.6 0a7.8 7.8 0 1 0 -15.6 0zM1453.6 422.7a7.8 7.8 0 1 0 15.6 0a7.8 7.8 0 1 0 -15.6 0zM1484 414.2a7.8 7.8 0 1 0 15.6 0a7.8 7.8 0 1 0 -15.6 0zM1514.5 418a7.8 7.8 0 1 0 15.6 0a7.8 7.8 0 1 0 -15.6 0zM1544.9 410.8a7.8 7.8 0 1 0 15.6 0a7.8 7.8 0 1 0 -15.6 0zM1575.3 409.2a7.8 7.8 0 1 0 15.6 0a7.8 7.8 0 1 0 -15.6 0zM1605.8 402.9a7.8 7.8 0 1 0 15.6 0a7.8 7.8 0 1 0 -15.6 0zM1636.2 401.7a7.8 7.8 0 1 0 15.6 0a7.8 7.8 0 1 0 -15.6 0zM1666.6 406.8a7.8 7.8 0 1 0 15.6 0a7.8 7.8 0 1 0 -15.6 0zM1697 407.1a7.8 7.8 0 1 0 15.6 0a7.8 7.8 0 1 0 -15.6 0zM1727.5 399.2a7.8 7.8 0 1 0 15.6 0a7.8 7.8 0 1 0 -15.6 0zM1757.9 395.1a7.8 7.8 0 1 0 15.6 0a7.8 7.8 0 1 0 -15.6 0zM1788.3 400.5a7.8 7.8 0 1 0 15.6 0a7.8 7.8 0 1 0 -15.6 0zM1818.8 405.2a7.8 7.8 0 1 0 15.6 0a7.8 7.8 0 1 0 -15.6 0zM1849.2 403.5a7.8 7.8 0 1 0 15.6 0a7.8 7.8 0 1 0 -15.6 0zM1879.6 402.3a7.8 7.8 0 1 0 15.6 0a7.8 7.8 0 1 0 -15.6 0zM1910 404.8a7.8 7.8 0 1 0 15.6 0a7.8 7.8 0 1 0 -15.6 0zM1940.5 401.8a7.8 7.8 0 1 0 15.6 0a7.8 7.8 0 1 0 -15.6 0zM1970.9 402a7.8 7.8 0 1 0 15.6 0a7.8 7.8 0 1 0 -15.6 0zM1149.3 369.5a7.8 7.8 0 1 0 15.6 0a7.8 7.8 0 1 0 -15.6 0zM1179.7 373.4a7.8 7.8 0 1 0 15.6 0a7.8 7.8 0 1 0 -15.6 0zM1210.2 397.2a7.8 7.8 0 1 0 15.6 0a7.8 7.8 0 1 0 -15.6 0zM1240.6 401.7a7.8 7.8 0 1 0 15.6 0a7.8 7.8 0 1 0 -15.6 0zM1271 441a7.8 7.8 0 1 0 15.6 0a7.8 7.8 0 1 0 -15.6 0zM1301.5 446.4a7.8 7.8 0 1 0 15.6 0a7.8 7.8 0 1 0 -15.6 0zM1331.9 598.3a7.8 7.8 0 1 0 15.6 0a7.8 7.8 0 1 0 -15.6 0zM1362.3 423.7a7.8 7.8 0 1 0 15.6 0a7.8 7.8 0 1 0 -15.6 0zM1392.7 412.5a7.8 7.8 0 1 0 15.6 0a7.8 7.8 0 1 0 -15.6 0zM1423.2 475.7a7.8 7.8 0 1 0 15.6 0a7.8 7.8 0 1 0 -15.6 0zM1453.6 419.5a7.8 7.8 0 1 0 15.6 0a7.8 7.8 0 1 0 -15.6 0zM1484 431a7.8 7.8 0 1 0 15.6 0a7.8 7.8 0 1 0 -15.6 0zM1514.5 416.9a7.8 7.8 0 1 0 15.6 0a7.8 7.8 0 1 0 -15.6 0zM1544.9 410.6a7.8 7.8 0 1 0 15.6 0a7.8 7.8 0 1 0 -15.6 0zM1575.3 409.1a7.8 7.8 0 1 0 15.6 0a7.8 7.8 0 1 0 -15.6 0zM1605.8 403.8a7.8 7.8 0 1 0 15.6 0a7.8 7.8 0 1 0 -15.6 0zM1636.2 405.2a7.8 7.8 0 1 0 15.6 0a7.8 7.8 0 1 0 -15.6 0zM1666.6 403.3a7.8 7.8 0 1 0 15.6 0a7.8 7.8 0 1 0 -15.6 0zM1697 406.2a7.8 7.8 0 1 0 15.6 0a7.8 7.8 0 1 0 -15.6 0zM1727.5 400.3a7.8 7.8 0 1 0 15.6 0a7.8 7.8 0 1 0 -15.6 0zM1757.9 401.7a7.8 7.8 0 1 0 15.6 0a7.8 7.8 0 1 0 -15.6 0zM1788.3 400.5a7.8 7.8 0 1 0 15.6 0a7.8 7.8 0 1 0 -15.6 0zM1818.8 405.3a7.8 7.8 0 1 0 15.6 0a7.8 7.8 0 1 0 -15.6 0zM1849.2 405.1a7.8 7.8 0 1 0 15.6 0a7.8 7.8 0 1 0 -15.6 0zM1879.6 402.5a7.8 7.8 0 1 0 15.6 0a7.8 7.8 0 1 0 -15.6 0zM1910 405.4a7.8 7.8 0 1 0 15.6 0a7.8 7.8 0 1 0 -15.6 0zM1940.5 407.2a7.8 7.8 0 1 0 15.6 0a7.8 7.8 0 1 0 -15.6 0zM1970.9 407.4a7.8 7.8 0 1 0 15.6 0a7.8 7.8 0 1 0 -15.6 0zM1149.3 463.2a7.8 7.8 0 1 0 15.6 0a7.8 7.8 0 1 0 -15.6 0zM1179.7 401.1a7.8 7.8 0 1 0 15.6 0a7.8 7.8 0 1 0 -15.6 0zM1210.2 438.2a7.8 7.8 0 1 0 15.6 0a7.8 7.8 0 1 0 -15.6 0zM1240.6 431.5a7.8 7.8 0 1 0 15.6 0a7.8 7.8 0 1 0 -15.6 0zM1271 476.9a7.8 7.8 0 1 0 15.6 0a7.8 7.8 0 1 0 -15.6 0zM1301.5 456.9a7.8 7.8 0 1 0 15.6 0a7.8 7.8 0 1 0 -15.6 0zM1331.9 484.3a7.8 7.8 0 1 0 15.6 0a7.8 7.8 0 1 0 -15.6 0zM1362.3 440.7a7.8 7.8 0 1 0 15.6 0a7.8 7.8 0 1 0 -15.6 0zM1392.7 435.6a7.8 7.8 0 1 0 15.6 0a7.8 7.8 0 1 0 -15.6 0zM1423.2 441.8a7.8 7.8 0 1 0 15.6 0a7.8 7.8 0 1 0 -15.6 0zM1453.6 439.4a7.8 7.8 0 1 0 15.6 0a7.8 7.8 0 1 0 -15.6 0zM1484 429.9a7.8 7.8 0 1 0 15.6 0a7.8 7.8 0 1 0 -15.6 0zM1514.5 435.1a7.8 7.8 0 1 0 15.6 0a7.8 7.8 0 1 0 -15.6 0zM1544.9 422.2a7.8 7.8 0 1 0 15.6 0a7.8 7.8 0 1 0 -15.6 0zM1575.3 421.1a7.8 7.8 0 1 0 15.6 0a7.8 7.8 0 1 0 -15.6 0zM1605.8 420.8a7.8 7.8 0 1 0 15.6 0a7.8 7.8 0 1 0 -15.6 0zM1636.2 414.4a7.8 7.8 0 1 0 15.6 0a7.8 7.8 0 1 0 -15.6 0zM1666.6 415.1a7.8 7.8 0 1 0 15.6 0a7.8 7.8 0 1 0 -15.6 0zM1697 421a7.8 7.8 0 1 0 15.6 0a7.8 7.8 0 1 0 -15.6 0zM1727.5 413.5a7.8 7.8 0 1 0 15.6 0a7.8 7.8 0 1 0 -15.6 0zM1757.9 414.6a7.8 7.8 0 1 0 15.6 0a7.8 7.8 0 1 0 -15.6 0zM1788.3 413.7a7.8 7.8 0 1 0 15.6 0a7.8 7.8 0 1 0 -15.6 0zM1818.8 414.6a7.8 7.8 0 1 0 15.6 0a7.8 7.8 0 1 0 -15.6 0zM1849.2 415.2a7.8 7.8 0 1 0 15.6 0a7.8 7.8 0 1 0 -15.6 0zM1879.6 417.3a7.8 7.8 0 1 0 15.6 0a7.8 7.8 0 1 0 -15.6 0zM1910 420.7a7.8 7.8 0 1 0 15.6 0a7.8 7.8 0 1 0 -15.6 0zM1940.5 419.5a7.8 7.8 0 1 0 15.6 0a7.8 7.8 0 1 0 -15.6 0zM1970.9 418.3a7.8 7.8 0 1 0 15.6 0a7.8 7.8 0 1 0 -15.6 0zM1149.3 547.4a7.8 7.8 0 1 0 15.6 0a7.8 7.8 0 1 0 -15.6 0zM1179.7 412.8a7.8 7.8 0 1 0 15.6 0a7.8 7.8 0 1 0 -15.6 0zM1210.2 423.1a7.8 7.8 0 1 0 15.6 0a7.8 7.8 0 1 0 -15.6 0zM1240.6 437.3a7.8 7.8 0 1 0 15.6 0a7.8 7.8 0 1 0 -15.6 0zM1271 467.6a7.8 7.8 0 1 0 15.6 0a7.8 7.8 0 1 0 -15.6 0zM1301.5 468.3a7.8 7.8 0 1 0 15.6 0a7.8 7.8 0 1 0 -15.6 0zM1331.9 555.7a7.8 7.8 0 1 0 15.6 0a7.8 7.8 0 1 0 -15.6 0zM1362.3 434.8a7.8 7.8 0 1 0 15.6 0a7.8 7.8 0 1 0 -15.6 0zM1392.7 429.9a7.8 7.8 0 1 0 15.6 0a7.8 7.8 0 1 0 -15.6 0zM1423.2 431.2a7.8 7.8 0 1 0 15.6 0a7.8 7.8 0 1 0 -15.6 0zM1453.6 434a7.8 7.8 0 1 0 15.6 0a7.8 7.8 0 1 0 -15.6 0zM1484 411.2a7.8 7.8 0 1 0 15.6 0a7.8 7.8 0 1 0 -15.6 0zM1514.5 427.7a7.8 7.8 0 1 0 15.6 0a7.8 7.8 0 1 0 -15.6 0zM1544.9 421a7.8 7.8 0 1 0 15.6 0a7.8 7.8 0 1 0 -15.6 0zM1575.3 417a7.8 7.8 0 1 0 15.6 0a7.8 7.8 0 1 0 -15.6 0zM1605.8 419.5a7.8 7.8 0 1 0 15.6 0a7.8 7.8 0 1 0 -15.6 0zM1636.2 419.2a7.8 7.8 0 1 0 15.6 0a7.8 7.8 0 1 0 -15.6 0zM1666.6 417.4a7.8 7.8 0 1 0 15.6 0a7.8 7.8 0 1 0 -15.6 0zM1697 416.1a7.8 7.8 0 1 0 15.6 0a7.8 7.8 0 1 0 -15.6 0zM1727.5 411.2a7.8 7.8 0 1 0 15.6 0a7.8 7.8 0 1 0 -15.6 0zM1757.9 415a7.8 7.8 0 1 0 15.6 0a7.8 7.8 0 1 0 -15.6 0zM1788.3 409.9a7.8 7.8 0 1 0 15.6 0a7.8 7.8 0 1 0 -15.6 0zM1818.8 416.1a7.8 7.8 0 1 0 15.6 0a7.8 7.8 0 1 0 -15.6 0zM1849.2 419.4a7.8 7.8 0 1 0 15.6 0a7.8 7.8 0 1 0 -15.6 0zM1879.6 414.8a7.8 7.8 0 1 0 15.6 0a7.8 7.8 0 1 0 -15.6 0zM1910 415.3a7.8 7.8 0 1 0 15.6 0a7.8 7.8 0 1 0 -15.6 0zM1940.5 416.4a7.8 7.8 0 1 0 15.6 0a7.8 7.8 0 1 0 -15.6 0zM1970.9 418.4a7.8 7.8 0 1 0 15.6 0a7.8 7.8 0 1 0 -15.6 0zM1149.3 588.3a7.8 7.8 0 1 0 15.6 0a7.8 7.8 0 1 0 -15.6 0zM1179.7 486.2a7.8 7.8 0 1 0 15.6 0a7.8 7.8 0 1 0 -15.6 0zM1210.2 454.8a7.8 7.8 0 1 0 15.6 0a7.8 7.8 0 1 0 -15.6 0zM1240.6 456.9a7.8 7.8 0 1 0 15.6 0a7.8 7.8 0 1 0 -15.6 0zM1271 503.6a7.8 7.8 0 1 0 15.6 0a7.8 7.8 0 1 0 -15.6 0zM1301.5 480.8a7.8 7.8 0 1 0 15.6 0a7.8 7.8 0 1 0 -15.6 0zM1331.9 607.1a7.8 7.8 0 1 0 15.6 0a7.8 7.8 0 1 0 -15.6 0zM1362.3 457.3a7.8 7.8 0 1 0 15.6 0a7.8 7.8 0 1 0 -15.6 0zM1392.7 452.9a7.8 7.8 0 1 0 15.6 0a7.8 7.8 0 1 0 -15.6 0zM1423.2 477.4a7.8 7.8 0 1 0 15.6 0a7.8 7.8 0 1 0 -15.6 0zM1453.6 457.3a7.8 7.8 0 1 0 15.6 0a7.8 7.8 0 1 0 -15.6 0zM1484 429.4a7.8 7.8 0 1 0 15.6 0a7.8 7.8 0 1 0 -15.6 0zM1514.5 444.2a7.8 7.8 0 1 0 15.6 0a7.8 7.8 0 1 0 -15.6 0zM1544.9 435.1a7.8 7.8 0 1 0 15.6 0a7.8 7.8 0 1 0 -15.6 0zM1575.3 432.5a7.8 7.8 0 1 0 15.6 0a7.8 7.8 0 1 0 -15.6 0zM1605.8 431.6a7.8 7.8 0 1 0 15.6 0a7.8 7.8 0 1 0 -15.6 0zM1636.2 431a7.8 7.8 0 1 0 15.6 0a7.8 7.8 0 1 0 -15.6 0zM1666.6 431a7.8 7.8 0 1 0 15.6 0a7.8 7.8 0 1 0 -15.6 0zM1697 432.9a7.8 7.8 0 1 0 15.6 0a7.8 7.8 0 1 0 -15.6 0zM1727.5 427a7.8 7.8 0 1 0 15.6 0a7.8 7.8 0 1 0 -15.6 0zM1757.9 426.7a7.8 7.8 0 1 0 15.6 0a7.8 7.8 0 1 0 -15.6 0zM1788.3 423.5a7.8 7.8 0 1 0 15.6 0a7.8 7.8 0 1 0 -15.6 0zM1818.8 430.2a7.8 7.8 0 1 0 15.6 0a7.8 7.8 0 1 0 -15.6 0zM1849.2 431a7.8 7.8 0 1 0 15.6 0a7.8 7.8 0 1 0 -15.6 0zM1879.6 429.1a7.8 7.8 0 1 0 15.6 0a7.8 7.8 0 1 0 -15.6 0zM1910 433a7.8 7.8 0 1 0 15.6 0a7.8 7.8 0 1 0 -15.6 0zM1940.5 429.8a7.8 7.8 0 1 0 15.6 0a7.8 7.8 0 1 0 -15.6 0zM1970.9 433a7.8 7.8 0 1 0 15.6 0a7.8 7.8 0 1 0 -15.6 0zM1149.3 343.1a7.8 7.8 0 1 0 15.6 0a7.8 7.8 0 1 0 -15.6 0zM1179.7 570.6a7.8 7.8 0 1 0 15.6 0a7.8 7.8 0 1 0 -15.6 0zM1210.2 438.1a7.8 7.8 0 1 0 15.6 0a7.8 7.8 0 1 0 -15.6 0zM1240.6 451a7.8 7.8 0 1 0 15.6 0a7.8 7.8 0 1 0 -15.6 0zM1271 494.8a7.8 7.8 0 1 0 15.6 0a7.8 7.8 0 1 0 -15.6 0zM1301.5 468a7.8 7.8 0 1 0 15.6 0a7.8 7.8 0 1 0 -15.6 0zM1331.9 541.6a7.8 7.8 0 1 0 15.6 0a7.8 7.8 0 1 0 -15.6 0zM1362.3 448.9a7.8 7.8 0 1 0 15.6 0a7.8 7.8 0 1 0 -15.6 0zM1392.7 443a7.8 7.8 0 1 0 15.6 0a7.8 7.8 0 1 0 -15.6 0zM1423.2 499.5a7.8 7.8 0 1 0 15.6 0a7.8 7.8 0 1 0 -15.6 0zM1453.6 449.1a7.8 7.8 0 1 0 15.6 0a7.8 7.8 0 1 0 -15.6 0zM1484 435.5a7.8 7.8 0 1 0 15.6 0a7.8 7.8 0 1 0 -15.6 0zM1514.5 434.8a7.8 7.8 0 1 0 15.6 0a7.8 7.8 0 1 0 -15.6 0zM1544.9 426.4a7.8 7.8 0 1 0 15.6 0a7.8 7.8 0 1 0 -15.6 0zM1575.3 424.1a7.8 7.8 0 1 0 15.6 0a7.8 7.8 0 1 0 -15.6 0zM1605.8 426.1a7.8 7.8 0 1 0 15.6 0a7.8 7.8 0 1 0 -15.6 0zM1636.2 425.1a7.8 7.8 0 1 0 15.6 0a7.8 7.8 0 1 0 -15.6 0zM1666.6 425a7.8 7.8 0 1 0 15.6 0a7.8 7.8 0 1 0 -15.6 0zM1697 424.2a7.8 7.8 0 1 0 15.6 0a7.8 7.8 0 1 0 -15.6 0zM1727.5 422.2a7.8 7.8 0 1 0 15.6 0a7.8 7.8 0 1 0 -15.6 0zM1757.9 420a7.8 7.8 0 1 0 15.6 0a7.8 7.8 0 1 0 -15.6 0zM1788.3 420.5a7.8 7.8 0 1 0 15.6 0a7.8 7.8 0 1 0 -15.6 0zM1818.8 423.9a7.8 7.8 0 1 0 15.6 0a7.8 7.8 0 1 0 -15.6 0zM1849.2 422.8a7.8 7.8 0 1 0 15.6 0a7.8 7.8 0 1 0 -15.6 0zM1879.6 420.8a7.8 7.8 0 1 0 15.6 0a7.8 7.8 0 1 0 -15.6 0zM1910 421.3a7.8 7.8 0 1 0 15.6 0a7.8 7.8 0 1 0 -15.6 0zM1940.5 423a7.8 7.8 0 1 0 15.6 0a7.8 7.8 0 1 0 -15.6 0zM1970.9 422.7a7.8 7.8 0 1 0 15.6 0a7.8 7.8 0 1 0 -15.6 0zM1149.3 582.4a7.8 7.8 0 1 0 15.6 0a7.8 7.8 0 1 0 -15.6 0zM1179.7 400.4a7.8 7.8 0 1 0 15.6 0a7.8 7.8 0 1 0 -15.6 0zM1210.2 403.7a7.8 7.8 0 1 0 15.6 0a7.8 7.8 0 1 0 -15.6 0zM1240.6 431.4a7.8 7.8 0 1 0 15.6 0a7.8 7.8 0 1 0 -15.6 0zM1271 459.1a7.8 7.8 0 1 0 15.6 0a7.8 7.8 0 1 0 -15.6 0zM1301.5 455a7.8 7.8 0 1 0 15.6 0a7.8 7.8 0 1 0 -15.6 0zM1331.9 607.1a7.8 7.8 0 1 0 15.6 0a7.8 7.8 0 1 0 -15.6 0zM1362.3 422.8a7.8 7.8 0 1 0 15.6 0a7.8 7.8 0 1 0 -15.6 0zM1392.7 427.6a7.8 7.8 0 1 0 15.6 0a7.8 7.8 0 1 0 -15.6 0zM1423.2 487.4a7.8 7.8 0 1 0 15.6 0a7.8 7.8 0 1 0 -15.6 0zM1453.6 435.5a7.8 7.8 0 1 0 15.6 0a7.8 7.8 0 1 0 -15.6 0zM1484 411.6a7.8 7.8 0 1 0 15.6 0a7.8 7.8 0 1 0 -15.6 0zM1514.5 424.4a7.8 7.8 0 1 0 15.6 0a7.8 7.8 0 1 0 -15.6 0zM1544.9 418.8a7.8 7.8 0 1 0 15.6 0a7.8 7.8 0 1 0 -15.6 0zM1575.3 413a7.8 7.8 0 1 0 15.6 0a7.8 7.8 0 1 0 -15.6 0zM1605.8 418a7.8 7.8 0 1 0 15.6 0a7.8 7.8 0 1 0 -15.6 0zM1636.2 414.8a7.8 7.8 0 1 0 15.6 0a7.8 7.8 0 1 0 -15.6 0zM1666.6 414.2a7.8 7.8 0 1 0 15.6 0a7.8 7.8 0 1 0 -15.6 0zM1697 415.8a7.8 7.8 0 1 0 15.6 0a7.8 7.8 0 1 0 -15.6 0zM1727.5 407.7a7.8 7.8 0 1 0 15.6 0a7.8 7.8 0 1 0 -15.6 0zM1757.9 409.7a7.8 7.8 0 1 0 15.6 0a7.8 7.8 0 1 0 -15.6 0zM1788.3 411.5a7.8 7.8 0 1 0 15.6 0a7.8 7.8 0 1 0 -15.6 0zM1818.8 414.5a7.8 7.8 0 1 0 15.6 0a7.8 7.8 0 1 0 -15.6 0zM1849.2 417a7.8 7.8 0 1 0 15.6 0a7.8 7.8 0 1 0 -15.6 0zM1879.6 412a7.8 7.8 0 1 0 15.6 0a7.8 7.8 0 1 0 -15.6 0zM1910 413.8a7.8 7.8 0 1 0 15.6 0a7.8 7.8 0 1 0 -15.6 0zM1940.5 412.6a7.8 7.8 0 1 0 15.6 0a7.8 7.8 0 1 0 -15.6 0zM1970.9 414.6a7.8 7.8 0 1 0 15.6 0a7.8 7.8 0 1 0 -15.6 0zM1149.3 396.8a7.8 7.8 0 1 0 15.6 0a7.8 7.8 0 1 0 -15.6 0zM1179.7 529.5a7.8 7.8 0 1 0 15.6 0a7.8 7.8 0 1 0 -15.6 0zM1210.2 399.5a7.8 7.8 0 1 0 15.6 0a7.8 7.8 0 1 0 -15.6 0zM1240.6 397.9a7.8 7.8 0 1 0 15.6 0a7.8 7.8 0 1 0 -15.6 0zM1271 462.3a7.8 7.8 0 1 0 15.6 0a7.8 7.8 0 1 0 -15.6 0zM1301.5 440.8a7.8 7.8 0 1 0 15.6 0a7.8 7.8 0 1 0 -15.6 0zM1331.9 472.4a7.8 7.8 0 1 0 15.6 0a7.8 7.8 0 1 0 -15.6 0zM1362.3 418.3a7.8 7.8 0 1 0 15.6 0a7.8 7.8 0 1 0 -15.6 0zM1392.7 418.7a7.8 7.8 0 1 0 15.6 0a7.8 7.8 0 1 0 -15.6 0zM1423.2 408.5a7.8 7.8 0 1 0 15.6 0a7.8 7.8 0 1 0 -15.6 0zM1453.6 425.2a7.8 7.8 0 1 0 15.6 0a7.8 7.8 0 1 0 -15.6 0zM1484 420.8a7.8 7.8 0 1 0 15.6 0a7.8 7.8 0 1 0 -15.6 0zM1514.5 421.8a7.8 7.8 0 1 0 15.6 0a7.8 7.8 0 1 0 -15.6 0zM1544.9 410.4a7.8 7.8 0 1 0 15.6 0a7.8 7.8 0 1 0 -15.6 0zM1575.3 409.1a7.8 7.8 0 1 0 15.6 0a7.8 7.8 0 1 0 -15.6 0zM1605.8 410.5a7.8 7.8 0 1 0 15.6 0a7.8 7.8 0 1 0 -15.6 0zM1636.2 407.9a7.8 7.8 0 1 0 15.6 0a7.8 7.8 0 1 0 -15.6 0zM1666.6 404.2a7.8 7.8 0 1 0 15.6 0a7.8 7.8 0 1 0 -15.6 0zM1697 406.8a7.8 7.8 0 1 0 15.6 0a7.8 7.8 0 1 0 -15.6 0zM1727.5 400.3a7.8 7.8 0 1 0 15.6 0a7.8 7.8 0 1 0 -15.6 0zM1757.9 402.7a7.8 7.8 0 1 0 15.6 0a7.8 7.8 0 1 0 -15.6 0zM1788.3 405.2a7.8 7.8 0 1 0 15.6 0a7.8 7.8 0 1 0 -15.6 0zM1818.8 405.1a7.8 7.8 0 1 0 15.6 0a7.8 7.8 0 1 0 -15.6 0zM1849.2 404.8a7.8 7.8 0 1 0 15.6 0a7.8 7.8 0 1 0 -15.6 0zM1879.6 407a7.8 7.8 0 1 0 15.6 0a7.8 7.8 0 1 0 -15.6 0zM1910 407.8a7.8 7.8 0 1 0 15.6 0a7.8 7.8 0 1 0 -15.6 0zM1940.5 409.3a7.8 7.8 0 1 0 15.6 0a7.8 7.8 0 1 0 -15.6 0zM1970.9 405.1a7.8 7.8 0 1 0 15.6 0a7.8 7.8 0 1 0 -15.6 0zM1149.3 587.9a7.8 7.8 0 1 0 15.6 0a7.8 7.8 0 1 0 -15.6 0zM1179.7 505.8a7.8 7.8 0 1 0 15.6 0a7.8 7.8 0 1 0 -15.6 0zM1210.2 439.3a7.8 7.8 0 1 0 15.6 0a7.8 7.8 0 1 0 -15.6 0zM1240.6 444.7a7.8 7.8 0 1 0 15.6 0a7.8 7.8 0 1 0 -15.6 0zM1271 489.4a7.8 7.8 0 1 0 15.6 0a7.8 7.8 0 1 0 -15.6 0zM1301.5 471.3a7.8 7.8 0 1 0 15.6 0a7.8 7.8 0 1 0 -15.6 0zM1331.9 607.1a7.8 7.8 0 1 0 15.6 0a7.8 7.8 0 1 0 -15.6 0zM1362.3 448.2a7.8 7.8 0 1 0 15.6 0a7.8 7.8 0 1 0 -15.6 0zM1392.7 450.6a7.8 7.8 0 1 0 15.6 0a7.8 7.8 0 1 0 -15.6 0zM1423.2 462.2a7.8 7.8 0 1 0 15.6 0a7.8 7.8 0 1 0 -15.6 0zM1453.6 446.7a7.8 7.8 0 1 0 15.6 0a7.8 7.8 0 1 0 -15.6 0zM1484 441.4a7.8 7.8 0 1 0 15.6 0a7.8 7.8 0 1 0 -15.6 0zM1514.5 434.7a7.8 7.8 0 1 0 15.6 0a7.8 7.8 0 1 0 -15.6 0zM1544.9 428.2a7.8 7.8 0 1 0 15.6 0a7.8 7.8 0 1 0 -15.6 0zM1575.3 425.6a7.8 7.8 0 1 0 15.6 0a7.8 7.8 0 1 0 -15.6 0zM1605.8 430.1a7.8 7.8 0 1 0 15.6 0a7.8 7.8 0 1 0 -15.6 0zM1636.2 424.2a7.8 7.8 0 1 0 15.6 0a7.8 7.8 0 1 0 -15.6 0zM1666.6 426.4a7.8 7.8 0 1 0 15.6 0a7.8 7.8 0 1 0 -15.6 0zM1697 427.5a7.8 7.8 0 1 0 15.6 0a7.8 7.8 0 1 0 -15.6 0zM1727.5 417.4a7.8 7.8 0 1 0 15.6 0a7.8 7.8 0 1 0 -15.6 0zM1757.9 424.8a7.8 7.8 0 1 0 15.6 0a7.8 7.8 0 1 0 -15.6 0zM1788.3 422.4a7.8 7.8 0 1 0 15.6 0a7.8 7.8 0 1 0 -15.6 0zM1818.8 423.4a7.8 7.8 0 1 0 15.6 0a7.8 7.8 0 1 0 -15.6 0zM1849.2 422.3a7.8 7.8 0 1 0 15.6 0a7.8 7.8 0 1 0 -15.6 0zM1879.6 425.8a7.8 7.8 0 1 0 15.6 0a7.8 7.8 0 1 0 -15.6 0zM1910 430.7a7.8 7.8 0 1 0 15.6 0a7.8 7.8 0 1 0 -15.6 0zM1940.5 430a7.8 7.8 0 1 0 15.6 0a7.8 7.8 0 1 0 -15.6 0zM1970.9 425.1a7.8 7.8 0 1 0 15.6 0a7.8 7.8 0 1 0 -15.6 0zM1149.3 343.1a7.8 7.8 0 1 0 15.6 0a7.8 7.8 0 1 0 -15.6 0zM1179.7 373.4a7.8 7.8 0 1 0 15.6 0a7.8 7.8 0 1 0 -15.6 0zM1210.2 389.4a7.8 7.8 0 1 0 15.6 0a7.8 7.8 0 1 0 -15.6 0zM1240.6 366.8a7.8 7.8 0 1 0 15.6 0a7.8 7.8 0 1 0 -15.6 0zM1271 444.5a7.8 7.8 0 1 0 15.6 0a7.8 7.8 0 1 0 -15.6 0zM1301.5 429.7a7.8 7.8 0 1 0 15.6 0a7.8 7.8 0 1 0 -15.6 0zM1331.9 463a7.8 7.8 0 1 0 15.6 0a7.8 7.8 0 1 0 -15.6 0zM1362.3 401.6a7.8 7.8 0 1 0 15.6 0a7.8 7.8 0 1 0 -15.6 0zM1392.7 407.1a7.8 7.8 0 1 0 15.6 0a7.8 7.8 0 1 0 -15.6 0zM1423.2 499.1a7.8 7.8 0 1 0 15.6 0a7.8 7.8 0 1 0 -15.6 0zM1453.6 416.7a7.8 7.8 0 1 0 15.6 0a7.8 7.8 0 1 0 -15.6 0zM1484 402.8a7.8 7.8 0 1 0 15.6 0a7.8 7.8 0 1 0 -15.6 0zM1514.5 409.8a7.8 7.8 0 1 0 15.6 0a7.8 7.8 0 1 0 -15.6 0zM1544.9 406.4a7.8 7.8 0 1 0 15.6 0a7.8 7.8 0 1 0 -15.6 0zM1575.3 401.4a7.8 7.8 0 1 0 15.6 0a7.8 7.8 0 1 0 -15.6 0zM1605.8 403.6a7.8 7.8 0 1 0 15.6 0a7.8 7.8 0 1 0 -15.6 0zM1636.2 399.6a7.8 7.8 0 1 0 15.6 0a7.8 7.8 0 1 0 -15.6 0zM1666.6 398.9a7.8 7.8 0 1 0 15.6 0a7.8 7.8 0 1 0 -15.6 0zM1697 398.9a7.8 7.8 0 1 0 15.6 0a7.8 7.8 0 1 0 -15.6 0zM1727.5 391.9a7.8 7.8 0 1 0 15.6 0a7.8 7.8 0 1 0 -15.6 0zM1757.9 399.9a7.8 7.8 0 1 0 15.6 0a7.8 7.8 0 1 0 -15.6 0zM1788.3 394.4a7.8 7.8 0 1 0 15.6 0a7.8 7.8 0 1 0 -15.6 0zM1818.8 399.1a7.8 7.8 0 1 0 15.6 0a7.8 7.8 0 1 0 -15.6 0zM1849.2 400.8a7.8 7.8 0 1 0 15.6 0a7.8 7.8 0 1 0 -15.6 0zM1879.6 398a7.8 7.8 0 1 0 15.6 0a7.8 7.8 0 1 0 -15.6 0zM1910 399.5a7.8 7.8 0 1 0 15.6 0a7.8 7.8 0 1 0 -15.6 0zM1940.5 401.8a7.8 7.8 0 1 0 15.6 0a7.8 7.8 0 1 0 -15.6 0zM1970.9 397.8a7.8 7.8 0 1 0 15.6 0a7.8 7.8 0 1 0 -15.6 0zM1149.3 343.1a7.8 7.8 0 1 0 15.6 0a7.8 7.8 0 1 0 -15.6 0zM1179.7 373.4a7.8 7.8 0 1 0 15.6 0a7.8 7.8 0 1 0 -15.6 0zM1210.2 370.4a7.8 7.8 0 1 0 15.6 0a7.8 7.8 0 1 0 -15.6 0zM1240.6 364.7a7.8 7.8 0 1 0 15.6 0a7.8 7.8 0 1 0 -15.6 0zM1271 439.8a7.8 7.8 0 1 0 15.6 0a7.8 7.8 0 1 0 -15.6 0zM1301.5 424.8a7.8 7.8 0 1 0 15.6 0a7.8 7.8 0 1 0 -15.6 0zM1331.9 499.9a7.8 7.8 0 1 0 15.6 0a7.8 7.8 0 1 0 -15.6 0zM1362.3 402.8a7.8 7.8 0 1 0 15.6 0a7.8 7.8 0 1 0 -15.6 0zM1392.7 398.8a7.8 7.8 0 1 0 15.6 0a7.8 7.8 0 1 0 -15.6 0zM1423.2 408.5a7.8 7.8 0 1 0 15.6 0a7.8 7.8 0 1 0 -15.6 0zM1453.6 413.5a7.8 7.8 0 1 0 15.6 0a7.8 7.8 0 1 0 -15.6 0zM1484 404.4a7.8 7.8 0 1 0 15.6 0a7.8 7.8 0 1 0 -15.6 0zM1514.5 406.6a7.8 7.8 0 1 0 15.6 0a7.8 7.8 0 1 0 -15.6 0zM1544.9 402.7a7.8 7.8 0 1 0 15.6 0a7.8 7.8 0 1 0 -15.6 0zM1575.3 398a7.8 7.8 0 1 0 15.6 0a7.8 7.8 0 1 0 -15.6 0zM1605.8 396.4a7.8 7.8 0 1 0 15.6 0a7.8 7.8 0 1 0 -15.6 0zM1636.2 398.4a7.8 7.8 0 1 0 15.6 0a7.8 7.8 0 1 0 -15.6 0zM1666.6 394.7a7.8 7.8 0 1 0 15.6 0a7.8 7.8 0 1 0 -15.6 0zM1697 396.1a7.8 7.8 0 1 0 15.6 0a7.8 7.8 0 1 0 -15.6 0zM1727.5 393.7a7.8 7.8 0 1 0 15.6 0a7.8 7.8 0 1 0 -15.6 0zM1757.9 395.9a7.8 7.8 0 1 0 15.6 0a7.8 7.8 0 1 0 -15.6 0zM1788.3 394.5a7.8 7.8 0 1 0 15.6 0a7.8 7.8 0 1 0 -15.6 0zM1818.8 397.8a7.8 7.8 0 1 0 15.6 0a7.8 7.8 0 1 0 -15.6 0zM1849.2 393.5a7.8 7.8 0 1 0 15.6 0a7.8 7.8 0 1 0 -15.6 0zM1879.6 400.2a7.8 7.8 0 1 0 15.6 0a7.8 7.8 0 1 0 -15.6 0zM1910 395.3a7.8 7.8 0 1 0 15.6 0a7.8 7.8 0 1 0 -15.6 0zM1940.5 396.5a7.8 7.8 0 1 0 15.6 0a7.8 7.8 0 1 0 -15.6 0zM1970.9 399.6a7.8 7.8 0 1 0 15.6 0a7.8 7.8 0 1 0 -15.6 0zM1149.3 407.4a7.8 7.8 0 1 0 15.6 0a7.8 7.8 0 1 0 -15.6 0zM1179.7 465.7a7.8 7.8 0 1 0 15.6 0a7.8 7.8 0 1 0 -15.6 0zM1210.2 416.7a7.8 7.8 0 1 0 15.6 0a7.8 7.8 0 1 0 -15.6 0zM1240.6 432.1a7.8 7.8 0 1 0 15.6 0a7.8 7.8 0 1 0 -15.6 0zM1271 478.6a7.8 7.8 0 1 0 15.6 0a7.8 7.8 0 1 0 -15.6 0zM1301.5 453.5a7.8 7.8 0 1 0 15.6 0a7.8 7.8 0 1 0 -15.6 0zM1331.9 417.3a7.8 7.8 0 1 0 15.6 0a7.8 7.8 0 1 0 -15.6 0zM1362.3 431.3a7.8 7.8 0 1 0 15.6 0a7.8 7.8 0 1 0 -15.6 0zM1392.7 432.3a7.8 7.8 0 1 0 15.6 0a7.8 7.8 0 1 0 -15.6 0zM1423.2 480.9a7.8 7.8 0 1 0 15.6 0a7.8 7.8 0 1 0 -15.6 0zM1453.6 441.8a7.8 7.8 0 1 0 15.6 0a7.8 7.8 0 1 0 -15.6 0zM1484 415.4a7.8 7.8 0 1 0 15.6 0a7.8 7.8 0 1 0 -15.6 0zM1514.5 428.1a7.8 7.8 0 1 0 15.6 0a7.8 7.8 0 1 0 -15.6 0zM1544.9 417.6a7.8 7.8 0 1 0 15.6 0a7.8 7.8 0 1 0 -15.6 0zM1575.3 419.9a7.8 7.8 0 1 0 15.6 0a7.8 7.8 0 1 0 -15.6 0zM1605.8 415.7a7.8 7.8 0 1 0 15.6 0a7.8 7.8 0 1 0 -15.6 0zM1636.2 416.8a7.8 7.8 0 1 0 15.6 0a7.8 7.8 0 1 0 -15.6 0zM1666.6 413.9a7.8 7.8 0 1 0 15.6 0a7.8 7.8 0 1 0 -15.6 0zM1697 413.3a7.8 7.8 0 1 0 15.6 0a7.8 7.8 0 1 0 -15.6 0zM1727.5 413a7.8 7.8 0 1 0 15.6 0a7.8 7.8 0 1 0 -15.6 0zM1757.9 409.5a7.8 7.8 0 1 0 15.6 0a7.8 7.8 0 1 0 -15.6 0zM1788.3 411.5a7.8 7.8 0 1 0 15.6 0a7.8 7.8 0 1 0 -15.6 0zM1818.8 417.7a7.8 7.8 0 1 0 15.6 0a7.8 7.8 0 1 0 -15.6 0zM1849.2 414.3a7.8 7.8 0 1 0 15.6 0a7.8 7.8 0 1 0 -15.6 0zM1879.6 413.3a7.8 7.8 0 1 0 15.6 0a7.8 7.8 0 1 0 -15.6 0zM1910 418.1a7.8 7.8 0 1 0 15.6 0a7.8 7.8 0 1 0 -15.6 0zM1940.5 417.1a7.8 7.8 0 1 0 15.6 0a7.8 7.8 0 1 0 -15.6 0zM1970.9 417.8a7.8 7.8 0 1 0 15.6 0a7.8 7.8 0 1 0 -15.6 0zM1149.3 454.9a7.8 7.8 0 1 0 15.6 0a7.8 7.8 0 1 0 -15.6 0zM1179.7 421.6a7.8 7.8 0 1 0 15.6 0a7.8 7.8 0 1 0 -15.6 0zM1210.2 371.2a7.8 7.8 0 1 0 15.6 0a7.8 7.8 0 1 0 -15.6 0zM1240.6 384.3a7.8 7.8 0 1 0 15.6 0a7.8 7.8 0 1 0 -15.6 0zM1271 435a7.8 7.8 0 1 0 15.6 0a7.8 7.8 0 1 0 -15.6 0zM1301.5 430.2a7.8 7.8 0 1 0 15.6 0a7.8 7.8 0 1 0 -15.6 0zM1331.9 492.7a7.8 7.8 0 1 0 15.6 0a7.8 7.8 0 1 0 -15.6 0zM1362.3 400.5a7.8 7.8 0 1 0 15.6 0a7.8 7.8 0 1 0 -15.6 0zM1392.7 397.1a7.8 7.8 0 1 0 15.6 0a7.8 7.8 0 1 0 -15.6 0zM1423.2 444.4a7.8 7.8 0 1 0 15.6 0a7.8 7.8 0 1 0 -15.6 0zM1453.6 411.6a7.8 7.8 0 1 0 15.6 0a7.8 7.8 0 1 0 -15.6 0zM1484 413.2a7.8 7.8 0 1 0 15.6 0a7.8 7.8 0 1 0 -15.6 0zM1514.5 410.5a7.8 7.8 0 1 0 15.6 0a7.8 7.8 0 1 0 -15.6 0zM1544.9 403.8a7.8 7.8 0 1 0 15.6 0a7.8 7.8 0 1 0 -15.6 0zM1575.3 397.1a7.8 7.8 0 1 0 15.6 0a7.8 7.8 0 1 0 -15.6 0zM1605.8 401.8a7.8 7.8 0 1 0 15.6 0a7.8 7.8 0 1 0 -15.6 0zM1636.2 398.3a7.8 7.8 0 1 0 15.6 0a7.8 7.8 0 1 0 -15.6 0zM1666.6 398.7a7.8 7.8 0 1 0 15.6 0a7.8 7.8 0 1 0 -15.6 0zM1697 397.2a7.8 7.8 0 1 0 15.6 0a7.8 7.8 0 1 0 -15.6 0zM1727.5 396.3a7.8 7.8 0 1 0 15.6 0a7.8 7.8 0 1 0 -15.6 0zM1757.9 396.5a7.8 7.8 0 1 0 15.6 0a7.8 7.8 0 1 0 -15.6 0zM1788.3 387.7a7.8 7.8 0 1 0 15.6 0a7.8 7.8 0 1 0 -15.6 0zM1818.8 397.7a7.8 7.8 0 1 0 15.6 0a7.8 7.8 0 1 0 -15.6 0zM1849.2 399.6a7.8 7.8 0 1 0 15.6 0a7.8 7.8 0 1 0 -15.6 0zM1879.6 394.3a7.8 7.8 0 1 0 15.6 0a7.8 7.8 0 1 0 -15.6 0zM1910 400.5a7.8 7.8 0 1 0 15.6 0a7.8 7.8 0 1 0 -15.6 0zM1940.5 401.8a7.8 7.8 0 1 0 15.6 0a7.8 7.8 0 1 0 -15.6 0zM1970.9 393.6a7.8 7.8 0 1 0 15.6 0a7.8 7.8 0 1 0 -15.6 0zM1149.3 350.4a7.8 7.8 0 1 0 15.6 0a7.8 7.8 0 1 0 -15.6 0zM1179.7 551.1a7.8 7.8 0 1 0 15.6 0a7.8 7.8 0 1 0 -15.6 0zM1210.2 422.9a7.8 7.8 0 1 0 15.6 0a7.8 7.8 0 1 0 -15.6 0zM1240.6 407.7a7.8 7.8 0 1 0 15.6 0a7.8 7.8 0 1 0 -15.6 0zM1271 459.7a7.8 7.8 0 1 0 15.6 0a7.8 7.8 0 1 0 -15.6 0zM1301.5 449.8a7.8 7.8 0 1 0 15.6 0a7.8 7.8 0 1 0 -15.6 0zM1331.9 460.9a7.8 7.8 0 1 0 15.6 0a7.8 7.8 0 1 0 -15.6 0zM1362.3 431.8a7.8 7.8 0 1 0 15.6 0a7.8 7.8 0 1 0 -15.6 0zM1392.7 432.9a7.8 7.8 0 1 0 15.6 0a7.8 7.8 0 1 0 -15.6 0zM1423.2 445.6a7.8 7.8 0 1 0 15.6 0a7.8 7.8 0 1 0 -15.6 0zM1453.6 429.8a7.8 7.8 0 1 0 15.6 0a7.8 7.8 0 1 0 -15.6 0zM1484 419.5a7.8 7.8 0 1 0 15.6 0a7.8 7.8 0 1 0 -15.6 0zM1514.5 424.5a7.8 7.8 0 1 0 15.6 0a7.8 7.8 0 1 0 -15.6 0zM1544.9 414.3a7.8 7.8 0 1 0 15.6 0a7.8 7.8 0 1 0 -15.6 0zM1575.3 416.8a7.8 7.8 0 1 0 15.6 0a7.8 7.8 0 1 0 -15.6 0zM1605.8 412.2a7.8 7.8 0 1 0 15.6 0a7.8 7.8 0 1 0 -15.6 0zM1636.2 410.3a7.8 7.8 0 1 0 15.6 0a7.8 7.8 0 1 0 -15.6 0zM1666.6 413.5a7.8 7.8 0 1 0 15.6 0a7.8 7.8 0 1 0 -15.6 0zM1697 412.9a7.8 7.8 0 1 0 15.6 0a7.8 7.8 0 1 0 -15.6 0zM1727.5 408.1a7.8 7.8 0 1 0 15.6 0a7.8 7.8 0 1 0 -15.6 0zM1757.9 407.1a7.8 7.8 0 1 0 15.6 0a7.8 7.8 0 1 0 -15.6 0zM1788.3 410.5a7.8 7.8 0 1 0 15.6 0a7.8 7.8 0 1 0 -15.6 0zM1818.8 413.2a7.8 7.8 0 1 0 15.6 0a7.8 7.8 0 1 0 -15.6 0zM1849.2 411.3a7.8 7.8 0 1 0 15.6 0a7.8 7.8 0 1 0 -15.6 0zM1879.6 411.5a7.8 7.8 0 1 0 15.6 0a7.8 7.8 0 1 0 -15.6 0zM1910 413.1a7.8 7.8 0 1 0 15.6 0a7.8 7.8 0 1 0 -15.6 0zM1940.5 412.6a7.8 7.8 0 1 0 15.6 0a7.8 7.8 0 1 0 -15.6 0zM1970.9 413.6a7.8 7.8 0 1 0 15.6 0a7.8 7.8 0 1 0 -15.6 0zM1149.3 558.1a7.8 7.8 0 1 0 15.6 0a7.8 7.8 0 1 0 -15.6 0zM1179.7 429.7a7.8 7.8 0 1 0 15.6 0a7.8 7.8 0 1 0 -15.6 0zM1210.2 433.2a7.8 7.8 0 1 0 15.6 0a7.8 7.8 0 1 0 -15.6 0zM1240.6 431.3a7.8 7.8 0 1 0 15.6 0a7.8 7.8 0 1 0 -15.6 0zM1271 483.3a7.8 7.8 0 1 0 15.6 0a7.8 7.8 0 1 0 -15.6 0zM1301.5 465.1a7.8 7.8 0 1 0 15.6 0a7.8 7.8 0 1 0 -15.6 0zM1331.9 508.4a7.8 7.8 0 1 0 15.6 0a7.8 7.8 0 1 0 -15.6 0zM1362.3 437.4a7.8 7.8 0 1 0 15.6 0a7.8 7.8 0 1 0 -15.6 0zM1392.7 437a7.8 7.8 0 1 0 15.6 0a7.8 7.8 0 1 0 -15.6 0zM1423.2 458.1a7.8 7.8 0 1 0 15.6 0a7.8 7.8 0 1 0 -15.6 0zM1453.6 441.2a7.8 7.8 0 1 0 15.6 0a7.8 7.8 0 1 0 -15.6 0zM1484 422a7.8 7.8 0 1 0 15.6 0a7.8 7.8 0 1 0 -15.6 0zM1514.5 423.8a7.8 7.8 0 1 0 15.6 0a7.8 7.8 0 1 0 -15.6 0zM1544.9 422.3a7.8 7.8 0 1 0 15.6 0a7.8 7.8 0 1 0 -15.6 0zM1575.3 422.1a7.8 7.8 0 1 0 15.6 0a7.8 7.8 0 1 0 -15.6 0zM1605.8 417.5a7.8 7.8 0 1 0 15.6 0a7.8 7.8 0 1 0 -15.6 0zM1636.2 416.7a7.8 7.8 0 1 0 15.6 0a7.8 7.8 0 1 0 -15.6 0zM1666.6 421.9a7.8 7.8 0 1 0 15.6 0a7.8 7.8 0 1 0 -15.6 0zM1697 416.5a7.8 7.8 0 1 0 15.6 0a7.8 7.8 0 1 0 -15.6 0zM1727.5 414a7.8 7.8 0 1 0 15.6 0a7.8 7.8 0 1 0 -15.6 0zM1757.9 412.6a7.8 7.8 0 1 0 15.6 0a7.8 7.8 0 1 0 -15.6 0zM1788.3 416.9a7.8 7.8 0 1 0 15.6 0a7.8 7.8 0 1 0 -15.6 0zM1818.8 420.4a7.8 7.8 0 1 0 15.6 0a7.8 7.8 0 1 0 -15.6 0zM1849.2 419.3a7.8 7.8 0 1 0 15.6 0a7.8 7.8 0 1 0 -15.6 0zM1879.6 416.6a7.8 7.8 0 1 0 15.6 0a7.8 7.8 0 1 0 -15.6 0zM1910 422.2a7.8 7.8 0 1 0 15.6 0a7.8 7.8 0 1 0 -15.6 0zM1940.5 421.3a7.8 7.8 0 1 0 15.6 0a7.8 7.8 0 1 0 -15.6 0zM1970.9 417.4a7.8 7.8 0 1 0 15.6 0a7.8 7.8 0 1 0 -15.6 0z" fill="#fff" stroke="#c3ecd8" stroke-width="1.3"/>
<path d="M1157.1 154.4L1187.5 233.9 1218 206.7 1248.4 200.3 1278.8 247.3 1309.2 245.7 1339.7 195.6 1370.1 238.2 1400.5 248.9 1431 228.1 1461.4 266.3 1491.8 288.9 1522.3 315.7 1552.7 281.1 1583.1 282.5 1613.5 278.5 1644 303.1 1674.4 329.7 1704.8 330.4 1735.3 341 1765.7 347.4 1796.1 357.3 1826.6 382.6 1857 373.3 1887.4 386.6 1917.8 386.8 1948.3 385.3 1978.7 393.5M1157.1 166.3L1187.5 328.1 1218 234.1 1248.4 250.9 1278.8 268.7 1309.2 260.6 1339.7 301.6 1370.1 273.4 1400.5 286 1431 305.9 1461.4 281.6 1491.8 319 1522.3 342 1552.7 302 1583.1 317.8 1613.5 309.7 1644 318.5 1674.4 337.5 1704.8 356.2 1735.3 352.8 1765.7 374.2 1796.1 376.6 1826.6 400.9 1857 394 1887.4 400.3 1917.8 408.2 1948.3 405.6 1978.7 406.7M1157.1 342.6L1187.5 253.1 1218 288.4 1248.4 298.6 1278.8 327 1309.2 293.2 1339.7 272.5 1370.1 301.2 1400.5 299.3 1431 373.4 1461.4 321.9 1491.8 344.7 1522.3 345.4 1552.7 316.9 1583.1 324.4 1613.5 337.9 1644 332.1 1674.4 349.5 1704.8 374.8 1735.3 367.2 1765.7 385.1 1796.1 393.5 1826.6 408.6 1857 416.9 1887.4 411.9 1917.8 422.4 1948.3 424.1 1978.7 419.6M1157.1 228L1187.5 246 1218 210.2 1248.4 214.8 1278.8 210.9 1309.2 206.2 1339.7 171.1 1370.1 218.4 1400.5 228.6 1431 201.4 1461.4 241 1491.8 270.9 1522.3 280 1552.7 256.6 1583.1 249.5 1613.5 276.8 1644 297 1674.4 292.5 1704.8 311.7 1735.3 314.1 1765.7 331.2 1796.1 341.5 1826.6 359.7 1857 356.7 1887.4 368.6 1917.8 373.4 1948.3 378.6 1978.7 382.1M1157.1 301L1187.5 231.8 1218 182.2 1248.4 198 1278.8 216 1309.2 220.6 1339.7 255.2 1370.1 208.4 1400.5 216.9 1431 267 1461.4 245.2 1491.8 256.8 1522.3 283.1 1552.7 255.9 1583.1 255.3 1613.5 267.7 1644 288.8 1674.4 300.4 1704.8 319.2 1735.3 317.2 1765.7 335.6 1796.1 337.7 1826.6 361.9 1857 359.9 1887.4 364.6 1917.8 379.9 1948.3 376.5 1978.7 390.4M1157.1 215.9L1187.5 192.6 1218 165.1 1248.4 177.6 1278.8 188.5 1309.2 224.9 1339.7 245.2 1370.1 206.2 1400.5 229.3 1431 201.4 1461.4 236.8 1491.8 253.1 1522.3 294 1552.7 255.1 1583.1 249.5 1613.5 261 1644 286.5 1674.4 294.6 1704.8 304.9 1735.3 312.8 1765.7 326.4 1796.1 341.3 1826.6 364 1857 356.7 1887.4 365.5 1917.8 373.4 1948.3 376.7 1978.7 385.1M1157.1 303.9L1187.5 301.8 1218 280.5 1248.4 260.1 1278.8 284.6 1309.2 290.8 1339.7 307.8 1370.1 293.7 1400.5 264.2 1431 264.2 1461.4 295.4 1491.8 303.7 1522.3 333.3 1552.7 300.1 1583.1 303.2 1613.5 310.9 1644 319.1 1674.4 344.6 1704.8 354.3 1735.3 355 1765.7 364.3 1796.1 375.7 1826.6 390.9 1857 391.4 1887.4 391.7 1917.8 409 1948.3 407.4 1978.7 416.7M1157.1 237.7L1187.5 246.8 1218 300.7 1248.4 284.2 1278.8 300.6 1309.2 299.2 1339.7 356.7 1370.1 291 1400.5 287.3 1431 283.8 1461.4 304.3 1491.8 368.1 1522.3 331.2 1552.7 313.1 1583.1 339.5 1613.5 318.9 1644 341.7 1674.4 350.8 1704.8 362.1 1735.3 374.5 1765.7 376.2 1796.1 391.3 1826.6 398.5 1857 400 1887.4 408.5 1917.8 418.4 1948.3 420.8 1978.7 416.6M1157.1 272.5L1187.5 379.8 1218 322.7 1248.4 290.5 1278.8 302 1309.2 312.6 1339.7 356.7 1370.1 295.6 1400.5 298.7 1431 346.9 1461.4 313.5 1491.8 288.6 1522.3 355.6 1552.7 322.8 1583.1 327.5 1613.5 332 1644 361.4 1674.4 355.6 1704.8 368.1 1735.3 379.7 1765.7 390.8 1796.1 391.1 1826.6 410.9 1857 408.5 1887.4 405 1917.8 422.4 1948.3 416.6 1978.7 420M1157.1 355.9L1187.5 279.1 1218 296.8 1248.4 283.9 1278.8 313.6 1309.2 296.6 1339.7 257.4 1370.1 289.3 1400.5 291.6 1431 373.4 1461.4 323.8 1491.8 373.4 1522.3 345.5 1552.7 329.2 1583.1 328.1 1613.5 341.3 1644 351.9 1674.4 366.5 1704.8 364.5 1735.3 385.4 1765.7 387.1 1796.1 407.7 1826.6 418.5 1857 406.8 1887.4 414.3 1917.8 425.7 1948.3 429.5 1978.7 432.5M1157.1 260.2L1187.5 274.9 1218 204.9 1248.4 267.5 1278.8 254.1 1309.2 246.5 1339.7 208.7 1370.1 260.3 1400.5 258.4 1431 240.3 1461.4 269.6 1491.8 290 1522.3 308.2 1552.7 284.6 1583.1 296 1613.5 289 1644 317.4 1674.4 322.4 1704.8 332.7 1735.3 345.9 1765.7 350.8 1796.1 363.9 1826.6 376.4 1857 381.3 1887.4 393.3 1917.8 388.8 1948.3 399.8 1978.7 399.4M1157.1 154.4L1187.5 240.5 1218 184.5 1248.4 177.6 1278.8 224.4 1309.2 233.4 1339.7 308.2 1370.1 225 1400.5 224 1431 239.5 1461.4 247.6 1491.8 253.1 1522.3 300.8 1552.7 271 1583.1 261 1613.5 275.1 1644 288.1 1674.4 300.9 1704.8 312.3 1735.3 325 1765.7 334.9 1796.1 351.8 1826.6 369.3 1857 371.1 1887.4 373.1 1917.8 385.1 1948.3 382.9 1978.7 386.8M1157.1 206L1187.5 192.6 1218 268.1 1248.4 262.1 1278.8 286.3 1309.2 293.8 1339.7 210.9 1370.1 281.9 1400.5 292.2 1431 270.4 1461.4 298.5 1491.8 330.7 1522.3 338.1 1552.7 313 1583.1 327.4 1613.5 326.5 1644 334.5 1674.4 351.8 1704.8 364.1 1735.3 368.3 1765.7 374.8 1796.1 386.4 1826.6 397.1 1857 404.7 1887.4 411.6 1917.8 417.8 1948.3 414.6 1978.7 414.7M1157.1 264.2L1187.5 305.1 1218 282 1248.4 206.7 1278.8 264.1 1309.2 240.4 1339.7 356.7 1370.1 240.3 1400.5 250.3 1431 205.6 1461.4 273.9 1491.8 253.1 1522.3 315.2 1552.7 288.2 1583.1 281.1 1613.5 299.4 1644 310.1 1674.4 327.1 1704.8 342.2 1735.3 341.1 1765.7 336.8 1796.1 354.2 1826.6 378.7 1857 384.3 1887.4 384.2 1917.8 395.3 1948.3 390.6 1978.7 393.3M1157.1 341.8L1187.5 192.6 1218 268.5 1248.4 244.2 1278.8 263.9 1309.2 276.3 1339.7 200.3 1370.1 251.6 1400.5 264.7 1431 233.8 1461.4 286.1 1491.8 297.6 1522.3 332.5 1552.7 296.7 1583.1 296.3 1613.5 304 1644 323 1674.4 327.5 1704.8 339.3 1735.3 353 1765.7 351.2 1796.1 360.3 1826.6 397.8 1857 381.5 1887.4 390 1917.8 400 1948.3 402.6 1978.7 404.7M1157.1 373.4L1187.5 394.9 1218 356.7 1248.4 360.2 1278.8 349.8 1309.2 330.9 1339.7 302.4 1370.1 334.3 1400.5 327.5 1431 373.4 1461.4 347.5 1491.8 357.1 1522.3 394.9 1552.7 359.4 1583.1 343.2 1613.5 368.9 1644 372.9 1674.4 380.4 1704.8 400.2 1735.3 397.1 1765.7 410.4 1796.1 414.2 1826.6 431 1857 424.6 1887.4 436.4 1917.8 439.6 1948.3 437.6 1978.7 443.6M1157.1 251.5L1187.5 296.8 1218 222.4 1248.4 279.6 1278.8 236.9 1309.2 255.9 1339.7 183.4 1370.1 252.5 1400.5 255.3 1431 202.3 1461.4 285.9 1491.8 285.6 1522.3 321.1 1552.7 278.5 1583.1 287.5 1613.5 298.1 1644 309.1 1674.4 325.6 1704.8 342.3 1735.3 350.3 1765.7 347.6 1796.1 368 1826.6 379 1857 379.7 1887.4 385.7 1917.8 399 1948.3 393.5 1978.7 402.3M1157.1 373.4L1187.5 394.9 1218 356.7 1248.4 373.4 1278.8 363.9 1309.2 352 1339.7 356.7 1370.1 343.1 1400.5 330.1 1431 373.4 1461.4 343.7 1491.8 360.4 1522.3 385.4 1552.7 353.6 1583.1 373.4 1613.5 358.1 1644 382.7 1674.4 385.6 1704.8 402.2 1735.3 404.5 1765.7 409.5 1796.1 424.6 1826.6 430.6 1857 426.5 1887.4 432.4 1917.8 442.9 1948.3 442.5 1978.7 449.2M1157.1 175.8L1187.5 388.5 1218 240.5 1248.4 268 1278.8 296.4 1309.2 281.8 1339.7 191.7 1370.1 262.5 1400.5 282.7 1431 220.8 1461.4 284.4 1491.8 291.9 1522.3 363.4 1552.7 300.9 1583.1 317.2 1613.5 316.7 1644 333.7 1674.4 336.4 1704.8 364.8 1735.3 358.9 1765.7 367.4 1796.1 378.9 1826.6 391.6 1857 389.9 1887.4 405.3 1917.8 406.3 1948.3 416.2 1978.7 418.3M1157.1 154.4L1187.5 192.6 1218 214.2 1248.4 248.9 1278.8 249.1 1309.2 249.4 1339.7 319.6 1370.1 253 1400.5 258.4 1431 257.3 1461.4 284.8 1491.8 314.9 1522.3 310.7 1552.7 275.7 1583.1 289 1613.5 299.6 1644 300.8 1674.4 323.7 1704.8 333.3 1735.3 345.5 1765.7 359.6 1796.1 361.8 1826.6 385 1857 377.6 1887.4 387.2 1917.8 391.6 1948.3 395.8 1978.7 395.9M1157.1 272.6L1187.5 239.9 1218 356.7 1248.4 357.4 1278.8 361.8 1309.2 327.4 1339.7 236.6 1370.1 320 1400.5 323.3 1431 373.4 1461.4 325.6 1491.8 335.6 1522.3 363.2 1552.7 340.2 1583.1 351.5 1613.5 351.4 1644 360.4 1674.4 380.8 1704.8 382.9 1735.3 401.4 1765.7 394.2 1796.1 403.3 1826.6 422.5 1857 424.4 1887.4 434.3 1917.8 433.9 1948.3 433.5 1978.7 433.8M1157.1 217.2L1187.5 328.8 1218 302.2 1248.4 352.2 1278.8 313.9 1309.2 293.6 1339.7 306.5 1370.1 297 1400.5 307.4 1431 205.4 1461.4 319.3 1491.8 303.1 1522.3 343.3 1552.7 333.6 1583.1 346.3 1613.5 347.7 1644 346.4 1674.4 363.5 1704.8 372.3 1735.3 378.5 1765.7 387.3 1796.1 402.2 1826.6 413 1857 400.8 1887.4 414.2 1917.8 422.7 1948.3 426.7 1978.7 426.4M1157.1 330.2L1187.5 306.5 1218 310.8 1248.4 373.4 1278.8 329.8 1309.2 321.9 1339.7 267.7 1370.1 316.1 1400.5 314.4 1431 365 1461.4 334.5 1491.8 330.1 1522.3 375.7 1552.7 338.3 1583.1 338.3 1613.5 337.6 1644 369.8 1674.4 368.1 1704.8 389.5 1735.3 388.8 1765.7 383.7 1796.1 399.1 1826.6 415.3 1857 413 1887.4 423.6 1917.8 429.9 1948.3 434.4 1978.7 429.5M1157.1 154.4L1187.5 394.9 1218 192.3 1248.4 198.4 1278.8 213 1309.2 235.8 1339.7 171.1 1370.1 213.2 1400.5 240.9 1431 201.9 1461.4 246.8 1491.8 273.8 1522.3 288.8 1552.7 258.4 1583.1 266.8 1613.5 268.7 1644 284.6 1674.4 293.7 1704.8 316.8 1735.3 322.8 1765.7 337.6 1796.1 341.8 1826.6 370 1857 370.1 1887.4 367.4 1917.8 389.8 1948.3 380.4 1978.7 380.6M1157.1 179.7L1187.5 192.6 1218 203.5 1248.4 226.5 1278.8 233.2 1309.2 256.9 1339.7 189 1370.1 241.4 1400.5 244.5 1431 201.4 1461.4 262.9 1491.8 253.1 1522.3 296.2 1552.7 275.2 1583.1 279.3 1613.5 271.6 1644 300.2 1674.4 320.6 1704.8 329 1735.3 331.6 1765.7 350.4 1796.1 359.3 1826.6 374.2 1857 374.8 1887.4 377.3 1917.8 389.7 1948.3 393.4 1978.7 389.8M1157.1 257.3L1187.5 192.6 1218 203.9 1248.4 211.5 1278.8 218.1 1309.2 234.7 1339.7 228.6 1370.1 229.8 1400.5 242.8 1431 292.8 1461.4 264.6 1491.8 253.2 1522.3 299.4 1552.7 269 1583.1 266.6 1613.5 288 1644 290.5 1674.4 309.5 1704.8 320.3 1735.3 332.9 1765.7 348.2 1796.1 354 1826.6 364.2 1857 377.9 1887.4 376.5 1917.8 385.3 1948.3 385.7 1978.7 390.1M1157.1 208.8L1187.5 355.5 1218 258.1 1248.4 295.1 1278.8 286 1309.2 279.4 1339.7 301.6 1370.1 265.4 1400.5 285.8 1431 251.9 1461.4 306.2 1491.8 331.5 1522.3 312.7 1552.7 306.3 1583.1 316 1613.5 310.4 1644 330.8 1674.4 339.6 1704.8 361.1 1735.3 359.2 1765.7 367.8 1796.1 379.4 1826.6 396.4 1857 399.1 1887.4 412.7 1917.8 411.8 1948.3 412.9 1978.7 409.2M1157.1 262.2L1187.5 192.7 1218 177.1 1248.4 209 1278.8 188.5 1309.2 210.2 1339.7 171.1 1370.1 210.2 1400.5 216.9 1431 227 1461.4 247.9 1491.8 253.1 1522.3 276.6 1552.7 252.6 1583.1 259.8 1613.5 266.4 1644 278.2 1674.4 291.3 1704.8 312.7 1735.3 312.8 1765.7 331.1 1796.1 338.4 1826.6 360.2 1857 360.2 1887.4 371 1917.8 373.4 1948.3 373.5 1978.7 380.3M1157.1 259.4L1187.5 192.6 1218 165.3 1248.4 182.3 1278.8 207.7 1309.2 212.4 1339.7 171.1 1370.1 225.6 1400.5 216.9 1431 263.9 1461.4 255.5 1491.8 253.1 1522.3 306.4 1552.7 260.7 1583.1 263.3 1613.5 269.4 1644 292 1674.4 303.7 1704.8 309.3 1735.3 330.4 1765.7 338.2 1796.1 354.8 1826.6 362.2 1857 370 1887.4 378.9 1917.8 377.7 1948.3 376.2 1978.7 392.6M1157.1 236.7L1187.5 393.7 1218 189.8 1248.4 224.7 1278.8 216.6 1309.2 228.4 1339.7 180.2 1370.1 239.1 1400.5 243 1431 201.4 1461.4 250.8 1491.8 274.9 1522.3 278 1552.7 275.2 1583.1 264.7 1613.5 288.7 1644 288.2 1674.4 303.1 1704.8 322.5 1735.3 324.4 1765.7 340.4 1796.1 345.7 1826.6 366.6 1857 371.7 1887.4 380.1 1917.8 386.3 1948.3 386.8 1978.7 386.5M1157.1 354.1L1187.5 192.6 1218 252.1 1248.4 258.8 1278.8 255.9 1309.2 278 1339.7 223.1 1370.1 261.7 1400.5 255.3 1431 201.4 1461.4 298.2 1491.8 253.1 1522.3 313.6 1552.7 300 1583.1 300.1 1613.5 312.4 1644 322.4 1674.4 336 1704.8 356.9 1735.3 351.6 1765.7 364.9 1796.1 371.8 1826.6 386.2 1857 397.3 1887.4 399.3 1917.8 403.7 1948.3 398.5 1978.7 409.9M1157.1 281.8L1187.5 345.5 1218 243.6 1248.4 227 1278.8 254.4 1309.2 263.6 1339.7 301.4 1370.1 261.2 1400.5 271.2 1431 259.8 1461.4 274.6 1491.8 253.1 1522.3 328.8 1552.7 300.5 1583.1 294.6 1613.5 317.5 1644 316.2 1674.4 336.6 1704.8 341.3 1735.3 351.2 1765.7 370.9 1796.1 375.6 1826.6 391.6 1857 390 1887.4 400.6 1917.8 401.1 1948.3 404.3 1978.7 406.5M1157.1 154.4L1187.5 192.6 1218 165.1 1248.4 179.3 1278.8 193.4 1309.2 231.2 1339.7 171.4 1370.1 216.7 1400.5 234.9 1431 281.3 1461.4 251.1 1491.8 253.1 1522.3 282.8 1552.7 256 1583.1 261.7 1613.5 262.5 1644 278.6 1674.4 295.2 1704.8 312.7 1735.3 312.8 1765.7 327.5 1796.1 352.1 1826.6 364.2 1857 368.9 1887.4 370.6 1917.8 373.4 1948.3 380.3 1978.7 386.5M1157.1 270.3L1187.5 375.1 1218 354.5 1248.4 316.3 1278.8 358.5 1309.2 329.6 1339.7 301.7 1370.1 312.6 1400.5 337.7 1431 373.4 1461.4 348.3 1491.8 371.2 1522.3 372.6 1552.7 340.4 1583.1 373.4 1613.5 359.1 1644 361.6 1674.4 381 1704.8 394 1735.3 391.8 1765.7 411 1796.1 414.5 1826.6 419.1 1857 418.7 1887.4 438.8 1917.8 430.5 1948.3 434.8 1978.7 437.4M1157.1 161.1L1187.5 192.6 1218 170 1248.4 264.4 1278.8 222.4 1309.2 246.9 1339.7 189.5 1370.1 235.9 1400.5 253.8 1431 224.3 1461.4 258.3 1491.8 253.1 1522.3 302.5 1552.7 273.2 1583.1 285.3 1613.5 281.3 1644 299.8 1674.4 313.8 1704.8 320.2 1735.3 332.3 1765.7 341.4 1796.1 353.4 1826.6 368.3 1857 376.1 1887.4 377.8 1917.8 392.8 1948.3 391.7 1978.7 397.5M1157.1 213.3L1187.5 302 1218 276.3 1248.4 285.3 1278.8 291 1309.2 286.1 1339.7 356.7 1370.1 271.1 1400.5 278.2 1431 368.2 1461.4 293 1491.8 322.3 1522.3 331.3 1552.7 317.7 1583.1 310.4 1613.5 317.3 1644 334.6 1674.4 352.3 1704.8 357.3 1735.3 374.5 1765.7 369.4 1796.1 382.5 1826.6 401.3 1857 406.4 1887.4 403.8 1917.8 414.2 1948.3 415.1 1978.7 413.5M1157.1 289.8L1187.5 386.8 1218 268.1 1248.4 343 1278.8 321.8 1309.2 306.8 1339.7 193 1370.1 295.8 1400.5 319.8 1431 323.6 1461.4 327.3 1491.8 327.3 1522.3 372.5 1552.7 337.3 1583.1 354.7 1613.5 355.1 1644 359.2 1674.4 365.3 1704.8 386.5 1735.3 382.7 1765.7 400.6 1796.1 408.6 1826.6 414.4 1857 417.7 1887.4 417.2 1917.8 433.5 1948.3 425 1978.7 434.3M1157.1 282.5L1187.5 394.9 1218 238.1 1248.4 263 1278.8 248.4 1309.2 259.4 1339.7 171.1 1370.1 268.3 1400.5 276.3 1431 294.3 1461.4 278 1491.8 320.5 1522.3 315.4 1552.7 294.8 1583.1 290.6 1613.5 301.2 1644 304 1674.4 326.1 1704.8 351.4 1735.3 333.8 1765.7 359.8 1796.1 370.8 1826.6 385.7 1857 387.9 1887.4 391.8 1917.8 403.4 1948.3 409 1978.7 398" fill="none" stroke="#bad3f4" stroke-width="1.1" stroke-linejoin="round" />
<path d="M1150.2 147.5h13.8v13.8h-13.8zM1180.6 227h13.8v13.8h-13.8zM1211.1 199.8h13.8v13.8h-13.8zM1241.5 193.4h13.8v13.8h-13.8zM1271.9 240.4h13.8v13.8h-13.8zM1302.3 238.8h13.8v13.8h-13.8zM1332.8 188.7h13.8v13.8h-13.8zM1363.2 231.3h13.8v13.8h-13.8zM1393.6 242h13.8v13.8h-13.8zM1424.1 221.2h13.8v13.8h-13.8zM1454.5 259.4h13.8v13.8h-13.8zM1484.9 282h13.8v13.8h-13.8zM1515.4 308.8h13.8v13.8h-13.8zM1545.8 274.2h13.8v13.8h-13.8zM1576.2 275.6h13.8v13.8h-13.8zM1606.6 271.6h13.8v13.8h-13.8zM1637.1 296.2h13.8v13.8h-13.8zM1667.5 322.8h13.8v13.8h-13.8zM1697.9 323.5h13.8v13.8h-13.8zM1728.4 334.1h13.8v13.8h-13.8zM1758.8 340.5h13.8v13.8h-13.8zM1789.2 350.4h13.8v13.8h-13.8zM1819.7 375.7h13.8v13.8h-13.8zM1850.1 366.4h13.8v13.8h-13.8zM1880.5 379.7h13.8v13.8h-13.8zM1910.9 379.9h13.8v13.8h-13.8zM1941.4 378.4h13.8v13.8h-13.8zM1971.8 386.6h13.8v13.8h-13.8zM1150.2 159.4h13.8v13.8h-13.8zM1180.6 321.2h13.8v13.8h-13.8zM1211.1 227.2h13.8v13.8h-13.8zM1241.5 244h13.8v13.8h-13.8zM1271.9 261.8h13.8v13.8h-13.8zM1302.3 253.7h13.8v13.8h-13.8zM1332.8 294.7h13.8v13.8h-13.8zM1363.2 266.5h13.8v13.8h-13.8zM1393.6 279.1h13.8v13.8h-13.8zM1424.1 299h13.8v13.8h-13.8zM1454.5 274.7h13.8v13.8h-13.8zM1484.9 312.1h13.8v13.8h-13.8zM1515.4 335.1h13.8v13.8h-13.8zM1545.8 295.1h13.8v13.8h-13.8zM1576.2 310.9h13.8v13.8h-13.8zM1606.6 302.8h13.8v13.8h-13.8zM1637.1 311.6h13.8v13.8h-13.8zM1667.5 330.6h13.8v13.8h-13.8zM1697.9 349.3h13.8v13.8h-13.8zM1728.4 345.9h13.8v13.8h-13.8zM1758.8 367.3h13.8v13.8h-13.8zM1789.2 369.7h13.8v13.8h-13.8zM1819.7 394h13.8v13.8h-13.8zM1850.1 387.1h13.8v13.8h-13.8zM1880.5 393.4h13.8v13.8h-13.8zM1910.9 401.3h13.8v13.8h-13.8zM1941.4 398.7h13.8v13.8h-13.8zM1971.8 399.8h13.8v13.8h-13.8zM1150.2 335.7h13.8v13.8h-13.8zM1180.6 246.2h13.8v13.8h-13.8zM1211.1 281.5h13.8v13.8h-13.8zM1241.5 291.7h13.8v13.8h-13.8zM1271.9 320.1h13.8v13.8h-13.8zM1302.3 286.3h13.8v13.8h-13.8zM1332.8 265.6h13.8v13.8h-13.8zM1363.2 294.3h13.8v13.8h-13.8zM1393.6 292.4h13.8v13.8h-13.8zM1424.1 366.5h13.8v13.8h-13.8zM1454.5 315h13.8v13.8h-13.8zM1484.9 337.8h13.8v13.8h-13.8zM1515.4 338.5h13.8v13.8h-13.8zM1545.8 310h13.8v13.8h-13.8zM1576.2 317.5h13.8v13.8h-13.8zM1606.6 331h13.8v13.8h-13.8zM1637.1 325.2h13.8v13.8h-13.8zM1667.5 342.6h13.8v13.8h-13.8zM1697.9 367.9h13.8v13.8h-13.8zM1728.4 360.3h13.8v13.8h-13.8zM1758.8 378.2h13.8v13.8h-13.8zM1789.2 386.6h13.8v13.8h-13.8zM1819.7 401.7h13.8v13.8h-13.8zM1850.1 410h13.8v13.8h-13.8zM1880.5 405h13.8v13.8h-13.8zM1910.9 415.5h13.8v13.8h-13.8zM1941.4 417.2h13.8v13.8h-13.8zM1971.8 412.7h13.8v13.8h-13.8zM1150.2 221.1h13.8v13.8h-13.8zM1180.6 239.1h13.8v13.8h-13.8zM1211.1 203.3h13.8v13.8h-13.8zM1241.5 207.9h13.8v13.8h-13.8zM1271.9 204h13.8v13.8h-13.8zM1302.3 199.3h13.8v13.8h-13.8zM1332.8 164.2h13.8v13.8h-13.8zM1363.2 211.5h13.8v13.8h-13.8zM1393.6 221.7h13.8v13.8h-13.8zM1424.1 194.5h13.8v13.8h-13.8zM1454.5 234.1h13.8v13.8h-13.8zM1484.9 264h13.8v13.8h-13.8zM1515.4 273.1h13.8v13.8h-13.8zM1545.8 249.7h13.8v13.8h-13.8zM1576.2 242.6h13.8v13.8h-13.8zM1606.6 269.9h13.8v13.8h-13.8zM1637.1 290.1h13.8v13.8h-13.8zM1667.5 285.6h13.8v13.8h-13.8zM1697.9 304.8h13.8v13.8h-13.8zM1728.4 307.2h13.8v13.8h-13.8zM1758.8 324.3h13.8v13.8h-13.8zM1789.2 334.6h13.8v13.8h-13.8zM1819.7 352.8h13.8v13.8h-13.8zM1850.1 349.8h13.8v13.8h-13.8zM1880.5 361.7h13.8v13.8h-13.8zM1910.9 366.5h13.8v13.8h-13.8zM1941.4 371.7h13.8v13.8h-13.8zM1971.8 375.2h13.8v13.8h-13.8zM1150.2 294.1h13.8v13.8h-13.8zM1180.6 224.9h13.8v13.8h-13.8zM1211.1 175.3h13.8v13.8h-13.8zM1241.5 191.1h13.8v13.8h-13.8zM1271.9 209.1h13.8v13.8h-13.8zM1302.3 213.7h13.8v13.8h-13.8zM1332.8 248.3h13.8v13.8h-13.8zM1363.2 201.5h13.8v13.8h-13.8zM1393.6 210h13.8v13.8h-13.8zM1424.1 260.1h13.8v13.8h-13.8zM1454.5 238.3h13.8v13.8h-13.8zM1484.9 249.9h13.8v13.8h-13.8zM1515.4 276.2h13.8v13.8h-13.8zM1545.8 249h13.8v13.8h-13.8zM1576.2 248.4h13.8v13.8h-13.8zM1606.6 260.8h13.8v13.8h-13.8zM1637.1 281.9h13.8v13.8h-13.8zM1667.5 293.5h13.8v13.8h-13.8zM1697.9 312.3h13.8v13.8h-13.8zM1728.4 310.3h13.8v13.8h-13.8zM1758.8 328.7h13.8v13.8h-13.8zM1789.2 330.8h13.8v13.8h-13.8zM1819.7 355h13.8v13.8h-13.8zM1850.1 353h13.8v13.8h-13.8zM1880.5 357.7h13.8v13.8h-13.8zM1910.9 373h13.8v13.8h-13.8zM1941.4 369.6h13.8v13.8h-13.8zM1971.8 383.5h13.8v13.8h-13.8zM1150.2 209h13.8v13.8h-13.8zM1180.6 185.7h13.8v13.8h-13.8zM1211.1 158.2h13.8v13.8h-13.8zM1241.5 170.7h13.8v13.8h-13.8zM1271.9 181.6h13.8v13.8h-13.8zM1302.3 218h13.8v13.8h-13.8zM1332.8 238.3h13.8v13.8h-13.8zM1363.2 199.3h13.8v13.8h-13.8zM1393.6 222.4h13.8v13.8h-13.8zM1424.1 194.5h13.8v13.8h-13.8zM1454.5 229.9h13.8v13.8h-13.8zM1484.9 246.2h13.8v13.8h-13.8zM1515.4 287.1h13.8v13.8h-13.8zM1545.8 248.2h13.8v13.8h-13.8zM1576.2 242.6h13.8v13.8h-13.8zM1606.6 254.1h13.8v13.8h-13.8zM1637.1 279.6h13.8v13.8h-13.8zM1667.5 287.7h13.8v13.8h-13.8zM1697.9 298h13.8v13.8h-13.8zM1728.4 305.9h13.8v13.8h-13.8zM1758.8 319.5h13.8v13.8h-13.8zM1789.2 334.4h13.8v13.8h-13.8zM1819.7 357.1h13.8v13.8h-13.8zM1850.1 349.8h13.8v13.8h-13.8zM1880.5 358.6h13.8v13.8h-13.8zM1910.9 366.5h13.8v13.8h-13.8zM1941.4 369.8h13.8v13.8h-13.8zM1971.8 378.2h13.8v13.8h-13.8zM1150.2 297h13.8v13.8h-13.8zM1180.6 294.9h13.8v13.8h-13.8zM1211.1 273.6h13.8v13.8h-13.8zM1241.5 253.2h13.8v13.8h-13.8zM1271.9 277.7h13.8v13.8h-13.8zM1302.3 283.9h13.8v13.8h-13.8zM1332.8 300.9h13.8v13.8h-13.8zM1363.2 286.8h13.8v13.8h-13.8zM1393.6 257.3h13.8v13.8h-13.8zM1424.1 257.3h13.8v13.8h-13.8zM1454.5 288.5h13.8v13.8h-13.8zM1484.9 296.8h13.8v13.8h-13.8zM1515.4 326.4h13.8v13.8h-13.8zM1545.8 293.2h13.8v13.8h-13.8zM1576.2 296.3h13.8v13.8h-13.8zM1606.6 304h13.8v13.8h-13.8zM1637.1 312.2h13.8v13.8h-13.8zM1667.5 337.7h13.8v13.8h-13.8zM1697.9 347.4h13.8v13.8h-13.8zM1728.4 348.1h13.8v13.8h-13.8zM1758.8 357.4h13.8v13.8h-13.8zM1789.2 368.8h13.8v13.8h-13.8zM1819.7 384h13.8v13.8h-13.8zM1850.1 384.5h13.8v13.8h-13.8zM1880.5 384.8h13.8v13.8h-13.8zM1910.9 402.1h13.8v13.8h-13.8zM1941.4 400.5h13.8v13.8h-13.8zM1971.8 409.8h13.8v13.8h-13.8zM1150.2 230.8h13.8v13.8h-13.8zM1180.6 239.9h13.8v13.8h-13.8zM1211.1 293.8h13.8v13.8h-13.8zM1241.5 277.3h13.8v13.8h-13.8zM1271.9 293.7h13.8v13.8h-13.8zM1302.3 292.3h13.8v13.8h-13.8zM1332.8 349.8h13.8v13.8h-13.8zM1363.2 284.1h13.8v13.8h-13.8zM1393.6 280.4h13.8v13.8h-13.8zM1424.1 276.9h13.8v13.8h-13.8zM1454.5 297.4h13.8v13.8h-13.8zM1484.9 361.2h13.8v13.8h-13.8zM1515.4 324.3h13.8v13.8h-13.8zM1545.8 306.2h13.8v13.8h-13.8zM1576.2 332.6h13.8v13.8h-13.8zM1606.6 312h13.8v13.8h-13.8zM1637.1 334.8h13.8v13.8h-13.8zM1667.5 343.9h13.8v13.8h-13.8zM1697.9 355.2h13.8v13.8h-13.8zM1728.4 367.6h13.8v13.8h-13.8zM1758.8 369.3h13.8v13.8h-13.8zM1789.2 384.4h13.8v13.8h-13.8zM1819.7 391.6h13.8v13.8h-13.8zM1850.1 393.1h13.8v13.8h-13.8zM1880.5 401.6h13.8v13.8h-13.8zM1910.9 411.5h13.8v13.8h-13.8zM1941.4 413.9h13.8v13.8h-13.8zM1971.8 409.7h13.8v13.8h-13.8zM1150.2 265.6h13.8v13.8h-13.8zM1180.6 372.9h13.8v13.8h-13.8zM1211.1 315.8h13.8v13.8h-13.8zM1241.5 283.6h13.8v13.8h-13.8zM1271.9 295.1h13.8v13.8h-13.8zM1302.3 305.7h13.8v13.8h-13.8zM1332.8 349.8h13.8v13.8h-13.8zM1363.2 288.7h13.8v13.8h-13.8zM1393.6 291.8h13.8v13.8h-13.8zM1424.1 340h13.8v13.8h-13.8zM1454.5 306.6h13.8v13.8h-13.8zM1484.9 281.7h13.8v13.8h-13.8zM1515.4 348.7h13.8v13.8h-13.8zM1545.8 315.9h13.8v13.8h-13.8zM1576.2 320.6h13.8v13.8h-13.8zM1606.6 325.1h13.8v13.8h-13.8zM1637.1 354.5h13.8v13.8h-13.8zM1667.5 348.7h13.8v13.8h-13.8zM1697.9 361.2h13.8v13.8h-13.8zM1728.4 372.8h13.8v13.8h-13.8zM1758.8 383.9h13.8v13.8h-13.8zM1789.2 384.2h13.8v13.8h-13.8zM1819.7 404h13.8v13.8h-13.8zM1850.1 401.6h13.8v13.8h-13.8zM1880.5 398.1h13.8v13.8h-13.8zM1910.9 415.5h13.8v13.8h-13.8zM1941.4 409.7h13.8v13.8h-13.8zM1971.8 413.1h13.8v13.8h-13.8zM1150.2 349h13.8v13.8h-13.8zM1180.6 272.2h13.8v13.8h-13.8zM1211.1 289.9h13.8v13.8h-13.8zM1241.5 277h13.8v13.8h-13.8zM1271.9 306.7h13.8v13.8h-13.8zM1302.3 289.7h13.8v13.8h-13.8zM1332.8 250.5h13.8v13.8h-13.8zM1363.2 282.4h13.8v13.8h-13.8zM1393.6 284.7h13.8v13.8h-13.8zM1424.1 366.5h13.8v13.8h-13.8zM1454.5 316.9h13.8v13.8h-13.8zM1484.9 366.5h13.8v13.8h-13.8zM1515.4 338.6h13.8v13.8h-13.8zM1545.8 322.3h13.8v13.8h-13.8zM1576.2 321.2h13.8v13.8h-13.8zM1606.6 334.4h13.8v13.8h-13.8zM1637.1 345h13.8v13.8h-13.8zM1667.5 359.6h13.8v13.8h-13.8zM1697.9 357.6h13.8v13.8h-13.8zM1728.4 378.5h13.8v13.8h-13.8zM1758.8 380.2h13.8v13.8h-13.8zM1789.2 400.8h13.8v13.8h-13.8zM1819.7 411.6h13.8v13.8h-13.8zM1850.1 399.9h13.8v13.8h-13.8zM1880.5 407.4h13.8v13.8h-13.8zM1910.9 418.8h13.8v13.8h-13.8zM1941.4 422.6h13.8v13.8h-13.8zM1971.8 425.6h13.8v13.8h-13.8zM1150.2 253.3h13.8v13.8h-13.8zM1180.6 268h13.8v13.8h-13.8zM1211.1 198h13.8v13.8h-13.8zM1241.5 260.6h13.8v13.8h-13.8zM1271.9 247.2h13.8v13.8h-13.8zM1302.3 239.6h13.8v13.8h-13.8zM1332.8 201.8h13.8v13.8h-13.8zM1363.2 253.4h13.8v13.8h-13.8zM1393.6 251.5h13.8v13.8h-13.8zM1424.1 233.4h13.8v13.8h-13.8zM1454.5 262.7h13.8v13.8h-13.8zM1484.9 283.1h13.8v13.8h-13.8zM1515.4 301.3h13.8v13.8h-13.8zM1545.8 277.7h13.8v13.8h-13.8zM1576.2 289.1h13.8v13.8h-13.8zM1606.6 282.1h13.8v13.8h-13.8zM1637.1 310.5h13.8v13.8h-13.8zM1667.5 315.5h13.8v13.8h-13.8zM1697.9 325.8h13.8v13.8h-13.8zM1728.4 339h13.8v13.8h-13.8zM1758.8 343.9h13.8v13.8h-13.8zM1789.2 357h13.8v13.8h-13.8zM1819.7 369.5h13.8v13.8h-13.8zM1850.1 374.4h13.8v13.8h-13.8zM1880.5 386.4h13.8v13.8h-13.8zM1910.9 381.9h13.8v13.8h-13.8zM1941.4 392.9h13.8v13.8h-13.8zM1971.8 392.5h13.8v13.8h-13.8zM1150.2 147.5h13.8v13.8h-13.8zM1180.6 233.6h13.8v13.8h-13.8zM1211.1 177.6h13.8v13.8h-13.8zM1241.5 170.7h13.8v13.8h-13.8zM1271.9 217.5h13.8v13.8h-13.8zM1302.3 226.5h13.8v13.8h-13.8zM1332.8 301.3h13.8v13.8h-13.8zM1363.2 218.1h13.8v13.8h-13.8zM1393.6 217.1h13.8v13.8h-13.8zM1424.1 232.6h13.8v13.8h-13.8zM1454.5 240.7h13.8v13.8h-13.8zM1484.9 246.2h13.8v13.8h-13.8zM1515.4 293.9h13.8v13.8h-13.8zM1545.8 264.1h13.8v13.8h-13.8zM1576.2 254.1h13.8v13.8h-13.8zM1606.6 268.2h13.8v13.8h-13.8zM1637.1 281.2h13.8v13.8h-13.8zM1667.5 294h13.8v13.8h-13.8zM1697.9 305.4h13.8v13.8h-13.8zM1728.4 318.1h13.8v13.8h-13.8zM1758.8 328h13.8v13.8h-13.8zM1789.2 344.9h13.8v13.8h-13.8zM1819.7 362.4h13.8v13.8h-13.8zM1850.1 364.2h13.8v13.8h-13.8zM1880.5 366.2h13.8v13.8h-13.8zM1910.9 378.2h13.8v13.8h-13.8zM1941.4 376h13.8v13.8h-13.8zM1971.8 379.9h13.8v13.8h-13.8zM1150.2 199.1h13.8v13.8h-13.8zM1180.6 185.7h13.8v13.8h-13.8zM1211.1 261.2h13.8v13.8h-13.8zM1241.5 255.2h13.8v13.8h-13.8zM1271.9 279.4h13.8v13.8h-13.8zM1302.3 286.9h13.8v13.8h-13.8zM1332.8 204h13.8v13.8h-13.8zM1363.2 275h13.8v13.8h-13.8zM1393.6 285.3h13.8v13.8h-13.8zM1424.1 263.5h13.8v13.8h-13.8zM1454.5 291.6h13.8v13.8h-13.8zM1484.9 323.8h13.8v13.8h-13.8zM1515.4 331.2h13.8v13.8h-13.8zM1545.8 306.1h13.8v13.8h-13.8zM1576.2 320.5h13.8v13.8h-13.8zM1606.6 319.6h13.8v13.8h-13.8zM1637.1 327.6h13.8v13.8h-13.8zM1667.5 344.9h13.8v13.8h-13.8zM1697.9 357.2h13.8v13.8h-13.8zM1728.4 361.4h13.8v13.8h-13.8zM1758.8 367.9h13.8v13.8h-13.8zM1789.2 379.5h13.8v13.8h-13.8zM1819.7 390.2h13.8v13.8h-13.8zM1850.1 397.8h13.8v13.8h-13.8zM1880.5 404.7h13.8v13.8h-13.8zM1910.9 410.9h13.8v13.8h-13.8zM1941.4 407.7h13.8v13.8h-13.8zM1971.8 407.8h13.8v13.8h-13.8zM1150.2 257.3h13.8v13.8h-13.8zM1180.6 298.2h13.8v13.8h-13.8zM1211.1 275.1h13.8v13.8h-13.8zM1241.5 199.8h13.8v13.8h-13.8zM1271.9 257.2h13.8v13.8h-13.8zM1302.3 233.5h13.8v13.8h-13.8zM1332.8 349.8h13.8v13.8h-13.8zM1363.2 233.4h13.8v13.8h-13.8zM1393.6 243.4h13.8v13.8h-13.8zM1424.1 198.7h13.8v13.8h-13.8zM1454.5 267h13.8v13.8h-13.8zM1484.9 246.2h13.8v13.8h-13.8zM1515.4 308.3h13.8v13.8h-13.8zM1545.8 281.3h13.8v13.8h-13.8zM1576.2 274.2h13.8v13.8h-13.8zM1606.6 292.5h13.8v13.8h-13.8zM1637.1 303.2h13.8v13.8h-13.8zM1667.5 320.2h13.8v13.8h-13.8zM1697.9 335.3h13.8v13.8h-13.8zM1728.4 334.2h13.8v13.8h-13.8zM1758.8 329.9h13.8v13.8h-13.8zM1789.2 347.3h13.8v13.8h-13.8zM1819.7 371.8h13.8v13.8h-13.8zM1850.1 377.4h13.8v13.8h-13.8zM1880.5 377.3h13.8v13.8h-13.8zM1910.9 388.4h13.8v13.8h-13.8zM1941.4 383.7h13.8v13.8h-13.8zM1971.8 386.4h13.8v13.8h-13.8zM1150.2 334.9h13.8v13.8h-13.8zM1180.6 185.7h13.8v13.8h-13.8zM1211.1 261.6h13.8v13.8h-13.8zM1241.5 237.3h13.8v13.8h-13.8zM1271.9 257h13.8v13.8h-13.8zM1302.3 269.4h13.8v13.8h-13.8zM1332.8 193.4h13.8v13.8h-13.8zM1363.2 244.7h13.8v13.8h-13.8zM1393.6 257.8h13.8v13.8h-13.8zM1424.1 226.9h13.8v13.8h-13.8zM1454.5 279.2h13.8v13.8h-13.8zM1484.9 290.7h13.8v13.8h-13.8zM1515.4 325.6h13.8v13.8h-13.8zM1545.8 289.8h13.8v13.8h-13.8zM1576.2 289.4h13.8v13.8h-13.8zM1606.6 297.1h13.8v13.8h-13.8zM1637.1 316.1h13.8v13.8h-13.8zM1667.5 320.6h13.8v13.8h-13.8zM1697.9 332.4h13.8v13.8h-13.8zM1728.4 346.1h13.8v13.8h-13.8zM1758.8 344.3h13.8v13.8h-13.8zM1789.2 353.4h13.8v13.8h-13.8zM1819.7 390.9h13.8v13.8h-13.8zM1850.1 374.6h13.8v13.8h-13.8zM1880.5 383.1h13.8v13.8h-13.8zM1910.9 393.1h13.8v13.8h-13.8zM1941.4 395.7h13.8v13.8h-13.8zM1971.8 397.8h13.8v13.8h-13.8zM1150.2 366.5h13.8v13.8h-13.8zM1180.6 388h13.8v13.8h-13.8zM1211.1 349.8h13.8v13.8h-13.8zM1241.5 353.3h13.8v13.8h-13.8zM1271.9 342.9h13.8v13.8h-13.8zM1302.3 324h13.8v13.8h-13.8zM1332.8 295.5h13.8v13.8h-13.8zM1363.2 327.4h13.8v13.8h-13.8zM1393.6 320.6h13.8v13.8h-13.8zM1424.1 366.5h13.8v13.8h-13.8zM1454.5 340.6h13.8v13.8h-13.8zM1484.9 350.2h13.8v13.8h-13.8zM1515.4 388h13.8v13.8h-13.8zM1545.8 352.5h13.8v13.8h-13.8zM1576.2 336.3h13.8v13.8h-13.8zM1606.6 362h13.8v13.8h-13.8zM1637.1 366h13.8v13.8h-13.8zM1667.5 373.5h13.8v13.8h-13.8zM1697.9 393.3h13.8v13.8h-13.8zM1728.4 390.2h13.8v13.8h-13.8zM1758.8 403.5h13.8v13.8h-13.8zM1789.2 407.3h13.8v13.8h-13.8zM1819.7 424.1h13.8v13.8h-13.8zM1850.1 417.7h13.8v13.8h-13.8zM1880.5 429.5h13.8v13.8h-13.8zM1910.9 432.7h13.8v13.8h-13.8zM1941.4 430.7h13.8v13.8h-13.8zM1971.8 436.7h13.8v13.8h-13.8zM1150.2 244.6h13.8v13.8h-13.8zM1180.6 289.9h13.8v13.8h-13.8zM1211.1 215.5h13.8v13.8h-13.8zM1241.5 272.7h13.8v13.8h-13.8zM1271.9 230h13.8v13.8h-13.8zM1302.3 249h13.8v13.8h-13.8zM1332.8 176.5h13.8v13.8h-13.8zM1363.2 245.6h13.8v13.8h-13.8zM1393.6 248.4h13.8v13.8h-13.8zM1424.1 195.4h13.8v13.8h-13.8zM1454.5 279h13.8v13.8h-13.8zM1484.9 278.7h13.8v13.8h-13.8zM1515.4 314.2h13.8v13.8h-13.8zM1545.8 271.6h13.8v13.8h-13.8zM1576.2 280.6h13.8v13.8h-13.8zM1606.6 291.2h13.8v13.8h-13.8zM1637.1 302.2h13.8v13.8h-13.8zM1667.5 318.7h13.8v13.8h-13.8zM1697.9 335.4h13.8v13.8h-13.8zM1728.4 343.4h13.8v13.8h-13.8zM1758.8 340.7h13.8v13.8h-13.8zM1789.2 361.1h13.8v13.8h-13.8zM1819.7 372.1h13.8v13.8h-13.8zM1850.1 372.8h13.8v13.8h-13.8zM1880.5 378.8h13.8v13.8h-13.8zM1910.9 392.1h13.8v13.8h-13.8zM1941.4 386.6h13.8v13.8h-13.8zM1971.8 395.4h13.8v13.8h-13.8zM1150.2 366.5h13.8v13.8h-13.8zM1180.6 388h13.8v13.8h-13.8zM1211.1 349.8h13.8v13.8h-13.8zM1241.5 366.5h13.8v13.8h-13.8zM1271.9 357h13.8v13.8h-13.8zM1302.3 345.1h13.8v13.8h-13.8zM1332.8 349.8h13.8v13.8h-13.8zM1363.2 336.2h13.8v13.8h-13.8zM1393.6 323.2h13.8v13.8h-13.8zM1424.1 366.5h13.8v13.8h-13.8zM1454.5 336.8h13.8v13.8h-13.8zM1484.9 353.5h13.8v13.8h-13.8zM1515.4 378.5h13.8v13.8h-13.8zM1545.8 346.7h13.8v13.8h-13.8zM1576.2 366.5h13.8v13.8h-13.8zM1606.6 351.2h13.8v13.8h-13.8zM1637.1 375.8h13.8v13.8h-13.8zM1667.5 378.7h13.8v13.8h-13.8zM1697.9 395.3h13.8v13.8h-13.8zM1728.4 397.6h13.8v13.8h-13.8zM1758.8 402.6h13.8v13.8h-13.8zM1789.2 417.7h13.8v13.8h-13.8zM1819.7 423.7h13.8v13.8h-13.8zM1850.1 419.6h13.8v13.8h-13.8zM1880.5 425.5h13.8v13.8h-13.8zM1910.9 436h13.8v13.8h-13.8zM1941.4 435.6h13.8v13.8h-13.8zM1971.8 442.3h13.8v13.8h-13.8zM1150.2 168.9h13.8v13.8h-13.8zM1180.6 381.6h13.8v13.8h-13.8zM1211.1 233.6h13.8v13.8h-13.8zM1241.5 261.1h13.8v13.8h-13.8zM1271.9 289.5h13.8v13.8h-13.8zM1302.3 274.9h13.8v13.8h-13.8zM1332.8 184.8h13.8v13.8h-13.8zM1363.2 255.6h13.8v13.8h-13.8zM1393.6 275.8h13.8v13.8h-13.8zM1424.1 213.9h13.8v13.8h-13.8zM1454.5 277.5h13.8v13.8h-13.8zM1484.9 285h13.8v13.8h-13.8zM1515.4 356.5h13.8v13.8h-13.8zM1545.8 294h13.8v13.8h-13.8zM1576.2 310.3h13.8v13.8h-13.8zM1606.6 309.8h13.8v13.8h-13.8zM1637.1 326.8h13.8v13.8h-13.8zM1667.5 329.5h13.8v13.8h-13.8zM1697.9 357.9h13.8v13.8h-13.8zM1728.4 352h13.8v13.8h-13.8zM1758.8 360.5h13.8v13.8h-13.8zM1789.2 372h13.8v13.8h-13.8zM1819.7 384.7h13.8v13.8h-13.8zM1850.1 383h13.8v13.8h-13.8zM1880.5 398.4h13.8v13.8h-13.8zM1910.9 399.4h13.8v13.8h-13.8zM1941.4 409.3h13.8v13.8h-13.8zM1971.8 411.4h13.8v13.8h-13.8zM1150.2 147.5h13.8v13.8h-13.8zM1180.6 185.7h13.8v13.8h-13.8zM1211.1 207.3h13.8v13.8h-13.8zM1241.5 242h13.8v13.8h-13.8zM1271.9 242.2h13.8v13.8h-13.8zM1302.3 242.5h13.8v13.8h-13.8zM1332.8 312.7h13.8v13.8h-13.8zM1363.2 246.1h13.8v13.8h-13.8zM1393.6 251.5h13.8v13.8h-13.8zM1424.1 250.4h13.8v13.8h-13.8zM1454.5 277.9h13.8v13.8h-13.8zM1484.9 308h13.8v13.8h-13.8zM1515.4 303.8h13.8v13.8h-13.8zM1545.8 268.8h13.8v13.8h-13.8zM1576.2 282.1h13.8v13.8h-13.8zM1606.6 292.7h13.8v13.8h-13.8zM1637.1 293.9h13.8v13.8h-13.8zM1667.5 316.8h13.8v13.8h-13.8zM1697.9 326.4h13.8v13.8h-13.8zM1728.4 338.6h13.8v13.8h-13.8zM1758.8 352.7h13.8v13.8h-13.8zM1789.2 354.9h13.8v13.8h-13.8zM1819.7 378.1h13.8v13.8h-13.8zM1850.1 370.7h13.8v13.8h-13.8zM1880.5 380.3h13.8v13.8h-13.8zM1910.9 384.7h13.8v13.8h-13.8zM1941.4 388.9h13.8v13.8h-13.8zM1971.8 389h13.8v13.8h-13.8zM1150.2 265.7h13.8v13.8h-13.8zM1180.6 233h13.8v13.8h-13.8zM1211.1 349.8h13.8v13.8h-13.8zM1241.5 350.5h13.8v13.8h-13.8zM1271.9 354.9h13.8v13.8h-13.8zM1302.3 320.5h13.8v13.8h-13.8zM1332.8 229.7h13.8v13.8h-13.8zM1363.2 313.1h13.8v13.8h-13.8zM1393.6 316.4h13.8v13.8h-13.8zM1424.1 366.5h13.8v13.8h-13.8zM1454.5 318.7h13.8v13.8h-13.8zM1484.9 328.7h13.8v13.8h-13.8zM1515.4 356.3h13.8v13.8h-13.8zM1545.8 333.3h13.8v13.8h-13.8zM1576.2 344.6h13.8v13.8h-13.8zM1606.6 344.5h13.8v13.8h-13.8zM1637.1 353.5h13.8v13.8h-13.8zM1667.5 373.9h13.8v13.8h-13.8zM1697.9 376h13.8v13.8h-13.8zM1728.4 394.5h13.8v13.8h-13.8zM1758.8 387.3h13.8v13.8h-13.8zM1789.2 396.4h13.8v13.8h-13.8zM1819.7 415.6h13.8v13.8h-13.8zM1850.1 417.5h13.8v13.8h-13.8zM1880.5 427.4h13.8v13.8h-13.8zM1910.9 427h13.8v13.8h-13.8zM1941.4 426.6h13.8v13.8h-13.8zM1971.8 426.9h13.8v13.8h-13.8zM1150.2 210.3h13.8v13.8h-13.8zM1180.6 321.9h13.8v13.8h-13.8zM1211.1 295.3h13.8v13.8h-13.8zM1241.5 345.3h13.8v13.8h-13.8zM1271.9 307h13.8v13.8h-13.8zM1302.3 286.7h13.8v13.8h-13.8zM1332.8 299.6h13.8v13.8h-13.8zM1363.2 290.1h13.8v13.8h-13.8zM1393.6 300.5h13.8v13.8h-13.8zM1424.1 198.5h13.8v13.8h-13.8zM1454.5 312.4h13.8v13.8h-13.8zM1484.9 296.2h13.8v13.8h-13.8zM1515.4 336.4h13.8v13.8h-13.8zM1545.8 326.7h13.8v13.8h-13.8zM1576.2 339.4h13.8v13.8h-13.8zM1606.6 340.8h13.8v13.8h-13.8zM1637.1 339.5h13.8v13.8h-13.8zM1667.5 356.6h13.8v13.8h-13.8zM1697.9 365.4h13.8v13.8h-13.8zM1728.4 371.6h13.8v13.8h-13.8zM1758.8 380.4h13.8v13.8h-13.8zM1789.2 395.3h13.8v13.8h-13.8zM1819.7 406.1h13.8v13.8h-13.8zM1850.1 393.9h13.8v13.8h-13.8zM1880.5 407.3h13.8v13.8h-13.8zM1910.9 415.8h13.8v13.8h-13.8zM1941.4 419.8h13.8v13.8h-13.8zM1971.8 419.5h13.8v13.8h-13.8zM1150.2 323.3h13.8v13.8h-13.8zM1180.6 299.6h13.8v13.8h-13.8zM1211.1 303.9h13.8v13.8h-13.8zM1241.5 366.5h13.8v13.8h-13.8zM1271.9 322.9h13.8v13.8h-13.8zM1302.3 315h13.8v13.8h-13.8zM1332.8 260.8h13.8v13.8h-13.8zM1363.2 309.2h13.8v13.8h-13.8zM1393.6 307.5h13.8v13.8h-13.8zM1424.1 358.1h13.8v13.8h-13.8zM1454.5 327.6h13.8v13.8h-13.8zM1484.9 323.2h13.8v13.8h-13.8zM1515.4 368.8h13.8v13.8h-13.8zM1545.8 331.4h13.8v13.8h-13.8zM1576.2 331.4h13.8v13.8h-13.8zM1606.6 330.7h13.8v13.8h-13.8zM1637.1 362.9h13.8v13.8h-13.8zM1667.5 361.2h13.8v13.8h-13.8zM1697.9 382.6h13.8v13.8h-13.8zM1728.4 381.9h13.8v13.8h-13.8zM1758.8 376.8h13.8v13.8h-13.8zM1789.2 392.2h13.8v13.8h-13.8zM1819.7 408.4h13.8v13.8h-13.8zM1850.1 406.1h13.8v13.8h-13.8zM1880.5 416.7h13.8v13.8h-13.8zM1910.9 423h13.8v13.8h-13.8zM1941.4 427.5h13.8v13.8h-13.8zM1971.8 422.6h13.8v13.8h-13.8zM1150.2 147.5h13.8v13.8h-13.8zM1180.6 388h13.8v13.8h-13.8zM1211.1 185.4h13.8v13.8h-13.8zM1241.5 191.5h13.8v13.8h-13.8zM1271.9 206.1h13.8v13.8h-13.8zM1302.3 228.9h13.8v13.8h-13.8zM1332.8 164.2h13.8v13.8h-13.8zM1363.2 206.3h13.8v13.8h-13.8zM1393.6 234h13.8v13.8h-13.8zM1424.1 195h13.8v13.8h-13.8zM1454.5 239.9h13.8v13.8h-13.8zM1484.9 266.9h13.8v13.8h-13.8zM1515.4 281.9h13.8v13.8h-13.8zM1545.8 251.5h13.8v13.8h-13.8zM1576.2 259.9h13.8v13.8h-13.8zM1606.6 261.8h13.8v13.8h-13.8zM1637.1 277.7h13.8v13.8h-13.8zM1667.5 286.8h13.8v13.8h-13.8zM1697.9 309.9h13.8v13.8h-13.8zM1728.4 315.9h13.8v13.8h-13.8zM1758.8 330.7h13.8v13.8h-13.8zM1789.2 334.9h13.8v13.8h-13.8zM1819.7 363.1h13.8v13.8h-13.8zM1850.1 363.2h13.8v13.8h-13.8zM1880.5 360.5h13.8v13.8h-13.8zM1910.9 382.9h13.8v13.8h-13.8zM1941.4 373.5h13.8v13.8h-13.8zM1971.8 373.7h13.8v13.8h-13.8zM1150.2 172.8h13.8v13.8h-13.8zM1180.6 185.7h13.8v13.8h-13.8zM1211.1 196.6h13.8v13.8h-13.8zM1241.5 219.6h13.8v13.8h-13.8zM1271.9 226.3h13.8v13.8h-13.8zM1302.3 250h13.8v13.8h-13.8zM1332.8 182.1h13.8v13.8h-13.8zM1363.2 234.5h13.8v13.8h-13.8zM1393.6 237.6h13.8v13.8h-13.8zM1424.1 194.5h13.8v13.8h-13.8zM1454.5 256h13.8v13.8h-13.8zM1484.9 246.2h13.8v13.8h-13.8zM1515.4 289.3h13.8v13.8h-13.8zM1545.8 268.3h13.8v13.8h-13.8zM1576.2 272.4h13.8v13.8h-13.8zM1606.6 264.7h13.8v13.8h-13.8zM1637.1 293.3h13.8v13.8h-13.8zM1667.5 313.7h13.8v13.8h-13.8zM1697.9 322.1h13.8v13.8h-13.8zM1728.4 324.7h13.8v13.8h-13.8zM1758.8 343.5h13.8v13.8h-13.8zM1789.2 352.4h13.8v13.8h-13.8zM1819.7 367.3h13.8v13.8h-13.8zM1850.1 367.9h13.8v13.8h-13.8zM1880.5 370.4h13.8v13.8h-13.8zM1910.9 382.8h13.8v13.8h-13.8zM1941.4 386.5h13.8v13.8h-13.8zM1971.8 382.9h13.8v13.8h-13.8zM1150.2 250.4h13.8v13.8h-13.8zM1180.6 185.7h13.8v13.8h-13.8zM1211.1 197h13.8v13.8h-13.8zM1241.5 204.6h13.8v13.8h-13.8zM1271.9 211.2h13.8v13.8h-13.8zM1302.3 227.8h13.8v13.8h-13.8zM1332.8 221.7h13.8v13.8h-13.8zM1363.2 222.9h13.8v13.8h-13.8zM1393.6 235.9h13.8v13.8h-13.8zM1424.1 285.9h13.8v13.8h-13.8zM1454.5 257.7h13.8v13.8h-13.8zM1484.9 246.3h13.8v13.8h-13.8zM1515.4 292.5h13.8v13.8h-13.8zM1545.8 262.1h13.8v13.8h-13.8zM1576.2 259.7h13.8v13.8h-13.8zM1606.6 281.1h13.8v13.8h-13.8zM1637.1 283.6h13.8v13.8h-13.8zM1667.5 302.6h13.8v13.8h-13.8zM1697.9 313.4h13.8v13.8h-13.8zM1728.4 326h13.8v13.8h-13.8zM1758.8 341.3h13.8v13.8h-13.8zM1789.2 347.1h13.8v13.8h-13.8zM1819.7 357.3h13.8v13.8h-13.8zM1850.1 371h13.8v13.8h-13.8zM1880.5 369.6h13.8v13.8h-13.8zM1910.9 378.4h13.8v13.8h-13.8zM1941.4 378.8h13.8v13.8h-13.8zM1971.8 383.2h13.8v13.8h-13.8zM1150.2 201.9h13.8v13.8h-13.8zM1180.6 348.6h13.8v13.8h-13.8zM1211.1 251.2h13.8v13.8h-13.8zM1241.5 288.2h13.8v13.8h-13.8zM1271.9 279.1h13.8v13.8h-13.8zM1302.3 272.5h13.8v13.8h-13.8zM1332.8 294.7h13.8v13.8h-13.8zM1363.2 258.5h13.8v13.8h-13.8zM1393.6 278.9h13.8v13.8h-13.8zM1424.1 245h13.8v13.8h-13.8zM1454.5 299.3h13.8v13.8h-13.8zM1484.9 324.6h13.8v13.8h-13.8zM1515.4 305.8h13.8v13.8h-13.8zM1545.8 299.4h13.8v13.8h-13.8zM1576.2 309.1h13.8v13.8h-13.8zM1606.6 303.5h13.8v13.8h-13.8zM1637.1 323.9h13.8v13.8h-13.8zM1667.5 332.7h13.8v13.8h-13.8zM1697.9 354.2h13.8v13.8h-13.8zM1728.4 352.3h13.8v13.8h-13.8zM1758.8 360.9h13.8v13.8h-13.8zM1789.2 372.5h13.8v13.8h-13.8zM1819.7 389.5h13.8v13.8h-13.8zM1850.1 392.2h13.8v13.8h-13.8zM1880.5 405.8h13.8v13.8h-13.8zM1910.9 404.9h13.8v13.8h-13.8zM1941.4 406h13.8v13.8h-13.8zM1971.8 402.3h13.8v13.8h-13.8zM1150.2 255.3h13.8v13.8h-13.8zM1180.6 185.8h13.8v13.8h-13.8zM1211.1 170.2h13.8v13.8h-13.8zM1241.5 202.1h13.8v13.8h-13.8zM1271.9 181.6h13.8v13.8h-13.8zM1302.3 203.3h13.8v13.8h-13.8zM1332.8 164.2h13.8v13.8h-13.8zM1363.2 203.3h13.8v13.8h-13.8zM1393.6 210h13.8v13.8h-13.8zM1424.1 220.1h13.8v13.8h-13.8zM1454.5 241h13.8v13.8h-13.8zM1484.9 246.2h13.8v13.8h-13.8zM1515.4 269.7h13.8v13.8h-13.8zM1545.8 245.7h13.8v13.8h-13.8zM1576.2 252.9h13.8v13.8h-13.8zM1606.6 259.5h13.8v13.8h-13.8zM1637.1 271.3h13.8v13.8h-13.8zM1667.5 284.4h13.8v13.8h-13.8zM1697.9 305.8h13.8v13.8h-13.8zM1728.4 305.9h13.8v13.8h-13.8zM1758.8 324.2h13.8v13.8h-13.8zM1789.2 331.5h13.8v13.8h-13.8zM1819.7 353.3h13.8v13.8h-13.8zM1850.1 353.3h13.8v13.8h-13.8zM1880.5 364.1h13.8v13.8h-13.8zM1910.9 366.5h13.8v13.8h-13.8zM1941.4 366.6h13.8v13.8h-13.8zM1971.8 373.4h13.8v13.8h-13.8zM1150.2 252.5h13.8v13.8h-13.8zM1180.6 185.7h13.8v13.8h-13.8zM1211.1 158.4h13.8v13.8h-13.8zM1241.5 175.4h13.8v13.8h-13.8zM1271.9 200.8h13.8v13.8h-13.8zM1302.3 205.5h13.8v13.8h-13.8zM1332.8 164.2h13.8v13.8h-13.8zM1363.2 218.7h13.8v13.8h-13.8zM1393.6 210h13.8v13.8h-13.8zM1424.1 257h13.8v13.8h-13.8zM1454.5 248.6h13.8v13.8h-13.8zM1484.9 246.2h13.8v13.8h-13.8zM1515.4 299.5h13.8v13.8h-13.8zM1545.8 253.8h13.8v13.8h-13.8zM1576.2 256.4h13.8v13.8h-13.8zM1606.6 262.5h13.8v13.8h-13.8zM1637.1 285.1h13.8v13.8h-13.8zM1667.5 296.8h13.8v13.8h-13.8zM1697.9 302.4h13.8v13.8h-13.8zM1728.4 323.5h13.8v13.8h-13.8zM1758.8 331.3h13.8v13.8h-13.8zM1789.2 347.9h13.8v13.8h-13.8zM1819.7 355.3h13.8v13.8h-13.8zM1850.1 363.1h13.8v13.8h-13.8zM1880.5 372h13.8v13.8h-13.8zM1910.9 370.8h13.8v13.8h-13.8zM1941.4 369.3h13.8v13.8h-13.8zM1971.8 385.7h13.8v13.8h-13.8zM1150.2 229.8h13.8v13.8h-13.8zM1180.6 386.8h13.8v13.8h-13.8zM1211.1 182.9h13.8v13.8h-13.8zM1241.5 217.8h13.8v13.8h-13.8zM1271.9 209.7h13.8v13.8h-13.8zM1302.3 221.5h13.8v13.8h-13.8zM1332.8 173.3h13.8v13.8h-13.8zM1363.2 232.2h13.8v13.8h-13.8zM1393.6 236.1h13.8v13.8h-13.8zM1424.1 194.5h13.8v13.8h-13.8zM1454.5 243.9h13.8v13.8h-13.8zM1484.9 268h13.8v13.8h-13.8zM1515.4 271.1h13.8v13.8h-13.8zM1545.8 268.3h13.8v13.8h-13.8zM1576.2 257.8h13.8v13.8h-13.8zM1606.6 281.8h13.8v13.8h-13.8zM1637.1 281.3h13.8v13.8h-13.8zM1667.5 296.2h13.8v13.8h-13.8zM1697.9 315.6h13.8v13.8h-13.8zM1728.4 317.5h13.8v13.8h-13.8zM1758.8 333.5h13.8v13.8h-13.8zM1789.2 338.8h13.8v13.8h-13.8zM1819.7 359.7h13.8v13.8h-13.8zM1850.1 364.8h13.8v13.8h-13.8zM1880.5 373.2h13.8v13.8h-13.8zM1910.9 379.4h13.8v13.8h-13.8zM1941.4 379.9h13.8v13.8h-13.8zM1971.8 379.6h13.8v13.8h-13.8zM1150.2 347.2h13.8v13.8h-13.8zM1180.6 185.7h13.8v13.8h-13.8zM1211.1 245.2h13.8v13.8h-13.8zM1241.5 251.9h13.8v13.8h-13.8zM1271.9 249h13.8v13.8h-13.8zM1302.3 271.1h13.8v13.8h-13.8zM1332.8 216.2h13.8v13.8h-13.8zM1363.2 254.8h13.8v13.8h-13.8zM1393.6 248.4h13.8v13.8h-13.8zM1424.1 194.5h13.8v13.8h-13.8zM1454.5 291.3h13.8v13.8h-13.8zM1484.9 246.2h13.8v13.8h-13.8zM1515.4 306.7h13.8v13.8h-13.8zM1545.8 293.1h13.8v13.8h-13.8zM1576.2 293.2h13.8v13.8h-13.8zM1606.6 305.5h13.8v13.8h-13.8zM1637.1 315.5h13.8v13.8h-13.8zM1667.5 329.1h13.8v13.8h-13.8zM1697.9 350h13.8v13.8h-13.8zM1728.4 344.7h13.8v13.8h-13.8zM1758.8 358h13.8v13.8h-13.8zM1789.2 364.9h13.8v13.8h-13.8zM1819.7 379.3h13.8v13.8h-13.8zM1850.1 390.4h13.8v13.8h-13.8zM1880.5 392.4h13.8v13.8h-13.8zM1910.9 396.8h13.8v13.8h-13.8zM1941.4 391.6h13.8v13.8h-13.8zM1971.8 403h13.8v13.8h-13.8zM1150.2 274.9h13.8v13.8h-13.8zM1180.6 338.6h13.8v13.8h-13.8zM1211.1 236.7h13.8v13.8h-13.8zM1241.5 220.1h13.8v13.8h-13.8zM1271.9 247.5h13.8v13.8h-13.8zM1302.3 256.7h13.8v13.8h-13.8zM1332.8 294.5h13.8v13.8h-13.8zM1363.2 254.3h13.8v13.8h-13.8zM1393.6 264.3h13.8v13.8h-13.8zM1424.1 252.9h13.8v13.8h-13.8zM1454.5 267.7h13.8v13.8h-13.8zM1484.9 246.2h13.8v13.8h-13.8zM1515.4 321.9h13.8v13.8h-13.8zM1545.8 293.6h13.8v13.8h-13.8zM1576.2 287.7h13.8v13.8h-13.8zM1606.6 310.6h13.8v13.8h-13.8zM1637.1 309.3h13.8v13.8h-13.8zM1667.5 329.7h13.8v13.8h-13.8zM1697.9 334.4h13.8v13.8h-13.8zM1728.4 344.3h13.8v13.8h-13.8zM1758.8 364h13.8v13.8h-13.8zM1789.2 368.7h13.8v13.8h-13.8zM1819.7 384.7h13.8v13.8h-13.8zM1850.1 383.1h13.8v13.8h-13.8zM1880.5 393.7h13.8v13.8h-13.8zM1910.9 394.2h13.8v13.8h-13.8zM1941.4 397.4h13.8v13.8h-13.8zM1971.8 399.6h13.8v13.8h-13.8zM1150.2 147.5h13.8v13.8h-13.8zM1180.6 185.7h13.8v13.8h-13.8zM1211.1 158.2h13.8v13.8h-13.8zM1241.5 172.4h13.8v13.8h-13.8zM1271.9 186.5h13.8v13.8h-13.8zM1302.3 224.3h13.8v13.8h-13.8zM1332.8 164.5h13.8v13.8h-13.8zM1363.2 209.8h13.8v13.8h-13.8zM1393.6 228h13.8v13.8h-13.8zM1424.1 274.4h13.8v13.8h-13.8zM1454.5 244.2h13.8v13.8h-13.8zM1484.9 246.2h13.8v13.8h-13.8zM1515.4 275.9h13.8v13.8h-13.8zM1545.8 249.1h13.8v13.8h-13.8zM1576.2 254.8h13.8v13.8h-13.8zM1606.6 255.6h13.8v13.8h-13.8zM1637.1 271.7h13.8v13.8h-13.8zM1667.5 288.3h13.8v13.8h-13.8zM1697.9 305.8h13.8v13.8h-13.8zM1728.4 305.9h13.8v13.8h-13.8zM1758.8 320.6h13.8v13.8h-13.8zM1789.2 345.2h13.8v13.8h-13.8zM1819.7 357.3h13.8v13.8h-13.8zM1850.1 362h13.8v13.8h-13.8zM1880.5 363.7h13.8v13.8h-13.8zM1910.9 366.5h13.8v13.8h-13.8zM1941.4 373.4h13.8v13.8h-13.8zM1971.8 379.6h13.8v13.8h-13.8zM1150.2 263.4h13.8v13.8h-13.8zM1180.6 368.2h13.8v13.8h-13.8zM1211.1 347.6h13.8v13.8h-13.8zM1241.5 309.4h13.8v13.8h-13.8zM1271.9 351.6h13.8v13.8h-13.8zM1302.3 322.7h13.8v13.8h-13.8zM1332.8 294.8h13.8v13.8h-13.8zM1363.2 305.7h13.8v13.8h-13.8zM1393.6 330.8h13.8v13.8h-13.8zM1424.1 366.5h13.8v13.8h-13.8zM1454.5 341.4h13.8v13.8h-13.8zM1484.9 364.3h13.8v13.8h-13.8zM1515.4 365.7h13.8v13.8h-13.8zM1545.8 333.5h13.8v13.8h-13.8zM1576.2 366.5h13.8v13.8h-13.8zM1606.6 352.2h13.8v13.8h-13.8zM1637.1 354.7h13.8v13.8h-13.8zM1667.5 374.1h13.8v13.8h-13.8zM1697.9 387.1h13.8v13.8h-13.8zM1728.4 384.9h13.8v13.8h-13.8zM1758.8 404.1h13.8v13.8h-13.8zM1789.2 407.6h13.8v13.8h-13.8zM1819.7 412.2h13.8v13.8h-13.8zM1850.1 411.8h13.8v13.8h-13.8zM1880.5 431.9h13.8v13.8h-13.8zM1910.9 423.6h13.8v13.8h-13.8zM1941.4 427.9h13.8v13.8h-13.8zM1971.8 430.5h13.8v13.8h-13.8zM1150.2 154.2h13.8v13.8h-13.8zM1180.6 185.7h13.8v13.8h-13.8zM1211.1 163.1h13.8v13.8h-13.8zM1241.5 257.5h13.8v13.8h-13.8zM1271.9 215.5h13.8v13.8h-13.8zM1302.3 240h13.8v13.8h-13.8zM1332.8 182.6h13.8v13.8h-13.8zM1363.2 229h13.8v13.8h-13.8zM1393.6 246.9h13.8v13.8h-13.8zM1424.1 217.4h13.8v13.8h-13.8zM1454.5 251.4h13.8v13.8h-13.8zM1484.9 246.2h13.8v13.8h-13.8zM1515.4 295.6h13.8v13.8h-13.8zM1545.8 266.3h13.8v13.8h-13.8zM1576.2 278.4h13.8v13.8h-13.8zM1606.6 274.4h13.8v13.8h-13.8zM1637.1 292.9h13.8v13.8h-13.8zM1667.5 306.9h13.8v13.8h-13.8zM1697.9 313.3h13.8v13.8h-13.8zM1728.4 325.4h13.8v13.8h-13.8zM1758.8 334.5h13.8v13.8h-13.8zM1789.2 346.5h13.8v13.8h-13.8zM1819.7 361.4h13.8v13.8h-13.8zM1850.1 369.2h13.8v13.8h-13.8zM1880.5 370.9h13.8v13.8h-13.8zM1910.9 385.9h13.8v13.8h-13.8zM1941.4 384.8h13.8v13.8h-13.8zM1971.8 390.6h13.8v13.8h-13.8zM1150.2 206.4h13.8v13.8h-13.8zM1180.6 295.1h13.8v13.8h-13.8zM1211.1 269.4h13.8v13.8h-13.8zM1241.5 278.4h13.8v13.8h-13.8zM1271.9 284.1h13.8v13.8h-13.8zM1302.3 279.2h13.8v13.8h-13.8zM1332.8 349.8h13.8v13.8h-13.8zM1363.2 264.2h13.8v13.8h-13.8zM1393.6 271.3h13.8v13.8h-13.8zM1424.1 361.3h13.8v13.8h-13.8zM1454.5 286.1h13.8v13.8h-13.8zM1484.9 315.4h13.8v13.8h-13.8zM1515.4 324.4h13.8v13.8h-13.8zM1545.8 310.8h13.8v13.8h-13.8zM1576.2 303.5h13.8v13.8h-13.8zM1606.6 310.4h13.8v13.8h-13.8zM1637.1 327.7h13.8v13.8h-13.8zM1667.5 345.4h13.8v13.8h-13.8zM1697.9 350.4h13.8v13.8h-13.8zM1728.4 367.6h13.8v13.8h-13.8zM1758.8 362.5h13.8v13.8h-13.8zM1789.2 375.6h13.8v13.8h-13.8zM1819.7 394.4h13.8v13.8h-13.8zM1850.1 399.5h13.8v13.8h-13.8zM1880.5 396.9h13.8v13.8h-13.8zM1910.9 407.3h13.8v13.8h-13.8zM1941.4 408.2h13.8v13.8h-13.8zM1971.8 406.6h13.8v13.8h-13.8zM1150.2 282.9h13.8v13.8h-13.8zM1180.6 379.9h13.8v13.8h-13.8zM1211.1 261.2h13.8v13.8h-13.8zM1241.5 336.1h13.8v13.8h-13.8zM1271.9 314.9h13.8v13.8h-13.8zM1302.3 299.9h13.8v13.8h-13.8zM1332.8 186.1h13.8v13.8h-13.8zM1363.2 288.9h13.8v13.8h-13.8zM1393.6 312.9h13.8v13.8h-13.8zM1424.1 316.7h13.8v13.8h-13.8zM1454.5 320.4h13.8v13.8h-13.8zM1484.9 320.4h13.8v13.8h-13.8zM1515.4 365.6h13.8v13.8h-13.8zM1545.8 330.4h13.8v13.8h-13.8zM1576.2 347.8h13.8v13.8h-13.8zM1606.6 348.2h13.8v13.8h-13.8zM1637.1 352.3h13.8v13.8h-13.8zM1667.5 358.4h13.8v13.8h-13.8zM1697.9 379.6h13.8v13.8h-13.8zM1728.4 375.8h13.8v13.8h-13.8zM1758.8 393.7h13.8v13.8h-13.8zM1789.2 401.7h13.8v13.8h-13.8zM1819.7 407.5h13.8v13.8h-13.8zM1850.1 410.8h13.8v13.8h-13.8zM1880.5 410.3h13.8v13.8h-13.8zM1910.9 426.6h13.8v13.8h-13.8zM1941.4 418.1h13.8v13.8h-13.8zM1971.8 427.4h13.8v13.8h-13.8zM1150.2 275.6h13.8v13.8h-13.8zM1180.6 388h13.8v13.8h-13.8zM1211.1 231.2h13.8v13.8h-13.8zM1241.5 256.1h13.8v13.8h-13.8zM1271.9 241.5h13.8v13.8h-13.8zM1302.3 252.5h13.8v13.8h-13.8zM1332.8 164.2h13.8v13.8h-13.8zM1363.2 261.4h13.8v13.8h-13.8zM1393.6 269.4h13.8v13.8h-13.8zM1424.1 287.4h13.8v13.8h-13.8zM1454.5 271.1h13.8v13.8h-13.8zM1484.9 313.6h13.8v13.8h-13.8zM1515.4 308.5h13.8v13.8h-13.8zM1545.8 287.9h13.8v13.8h-13.8zM1576.2 283.7h13.8v13.8h-13.8zM1606.6 294.3h13.8v13.8h-13.8zM1637.1 297.1h13.8v13.8h-13.8zM1667.5 319.2h13.8v13.8h-13.8zM1697.9 344.5h13.8v13.8h-13.8zM1728.4 326.9h13.8v13.8h-13.8zM1758.8 352.9h13.8v13.8h-13.8zM1789.2 363.9h13.8v13.8h-13.8zM1819.7 378.8h13.8v13.8h-13.8zM1850.1 381h13.8v13.8h-13.8zM1880.5 384.9h13.8v13.8h-13.8zM1910.9 396.5h13.8v13.8h-13.8zM1941.4 402.1h13.8v13.8h-13.8zM1971.8 391.1h13.8v13.8h-13.8z" fill="#fff" stroke="#bad3f4" stroke-width="1.3"/>
<path d="M1157.1 327.5L1187.5 300.7 1218 318.1 1248.4 348.5 1278.8 338.7 1309.2 324.7 1339.7 277.5 1370.1 321.3 1400.5 328.3 1431 342.6 1461.4 338.2 1491.8 331.5 1522.3 346.3 1552.7 340.5 1583.1 338.9 1613.5 334.5 1644 334.5 1674.4 343.2 1704.8 353.9 1735.3 355.8 1765.7 358.8 1796.1 362.3 1826.6 364 1857 357.7 1887.4 354.6 1917.8 355.4 1948.3 353.8 1978.7 353.5M1157.1 363.8L1187.5 337.6 1218 354.7 1248.4 382.9 1278.8 363.2 1309.2 353 1339.7 382.3 1370.1 344 1400.5 341.1 1431 385.8 1461.4 355.9 1491.8 363.7 1522.3 371.5 1552.7 360.4 1583.1 355.8 1613.5 352.8 1644 348.5 1674.4 366.2 1704.8 372.6 1735.3 364.6 1765.7 368.6 1796.1 371.4 1826.6 384.5 1857 378.3 1887.4 370.1 1917.8 373.4 1948.3 374 1978.7 375.9M1157.1 274.6L1187.5 355.5 1218 306 1248.4 343.5 1278.8 337.5 1309.2 311.9 1339.7 263.1 1370.1 316 1400.5 323 1431 244.3 1461.4 335.5 1491.8 357 1522.3 345.5 1552.7 336.3 1583.1 337.7 1613.5 328.1 1644 335.5 1674.4 349.8 1704.8 350.8 1735.3 349.8 1765.7 349 1796.1 355.8 1826.6 355.1 1857 350.9 1887.4 343.5 1917.8 344.4 1948.3 348.2 1978.7 346.5M1157.1 332.5L1187.5 367.2 1218 313.9 1248.4 305.8 1278.8 344.4 1309.2 321.9 1339.7 386.5 1370.1 309.8 1400.5 319.3 1431 287.9 1461.4 329.6 1491.8 328.2 1522.3 350.4 1552.7 337.2 1583.1 328.6 1613.5 333.7 1644 331.8 1674.4 342 1704.8 344.7 1735.3 344.2 1765.7 345.5 1796.1 357.6 1826.6 355.2 1857 346.8 1887.4 345.3 1917.8 349.2 1948.3 343.7 1978.7 347.1M1157.1 417.5L1187.5 266.5 1218 329.3 1248.4 361.5 1278.8 358.1 1309.2 329 1339.7 395.3 1370.1 326.2 1400.5 332.1 1431 274.8 1461.4 345.9 1491.8 359.8 1522.3 367.1 1552.7 348.7 1583.1 335.2 1613.5 344.2 1644 343.9 1674.4 353.5 1704.8 360.6 1735.3 360.3 1765.7 360 1796.1 365.4 1826.6 367.3 1857 359.9 1887.4 363 1917.8 361 1948.3 361.5 1978.7 356.5M1157.1 416.1L1187.5 331.4 1218 361.6 1248.4 394.9 1278.8 392.1 1309.2 365.2 1339.7 352 1370.1 359.1 1400.5 364.1 1431 408.5 1461.4 373.4 1491.8 383.3 1522.3 393.6 1552.7 373.4 1583.1 367.5 1613.5 373.4 1644 362.7 1674.4 380 1704.8 388.9 1735.3 383.3 1765.7 379.5 1796.1 386.5 1826.6 394.4 1857 384.2 1887.4 384.3 1917.8 388.9 1948.3 387.7 1978.7 388.9M1157.1 309.5L1187.5 244.3 1218 283.4 1248.4 275.1 1278.8 316.1 1309.2 298.7 1339.7 263.1 1370.1 280.9 1400.5 294.4 1431 244.3 1461.4 305.7 1491.8 340.1 1522.3 337.7 1552.7 305.2 1583.1 304.9 1613.5 310 1644 318.1 1674.4 327.3 1704.8 332.9 1735.3 334.4 1765.7 337.1 1796.1 340.5 1826.6 341.1 1857 335.6 1887.4 327.4 1917.8 326.6 1948.3 332.3 1978.7 323.7M1157.1 446.6L1187.5 276.9 1218 292.5 1248.4 318.4 1278.8 316.8 1309.2 318.7 1339.7 371.8 1370.1 307.4 1400.5 309.2 1431 248.8 1461.4 324.9 1491.8 302.4 1522.3 345.3 1552.7 327.6 1583.1 324.8 1613.5 330.3 1644 327.7 1674.4 341.3 1704.8 342.7 1735.3 346.5 1765.7 348.5 1796.1 352.3 1826.6 355.5 1857 351.8 1887.4 344.2 1917.8 346.6 1948.3 339.7 1978.7 339.2M1157.1 316.8L1187.5 285.4 1218 299.3 1248.4 318.5 1278.8 322.8 1309.2 313.4 1339.7 364.4 1370.1 299.9 1400.5 307.1 1431 307.3 1461.4 324.7 1491.8 310.4 1522.3 341.1 1552.7 323.4 1583.1 321 1613.5 319.1 1644 323.4 1674.4 338.8 1704.8 337.6 1735.3 344 1765.7 344.8 1796.1 343.9 1826.6 343.8 1857 345.3 1887.4 341.2 1917.8 339.5 1948.3 342.5 1978.7 338.7M1157.1 424.7L1187.5 373.4 1218 329.4 1248.4 372 1278.8 358.1 1309.2 345.2 1339.7 329.9 1370.1 343 1400.5 344.8 1431 408.5 1461.4 352.7 1491.8 360.2 1522.3 369.7 1552.7 356.3 1583.1 351.9 1613.5 359.3 1644 355.9 1674.4 364.1 1704.8 367.3 1735.3 376.8 1765.7 364.9 1796.1 374.3 1826.6 378.8 1857 377.3 1887.4 373.8 1917.8 367.1 1948.3 372.3 1978.7 369.8M1157.1 425.7L1187.5 251.4 1218 344.8 1248.4 393.4 1278.8 380.3 1309.2 363.7 1339.7 408.5 1370.1 352.8 1400.5 346.6 1431 376.8 1461.4 358.8 1491.8 368.6 1522.3 384.2 1552.7 361.1 1583.1 361.6 1613.5 354.2 1644 350.4 1674.4 371.3 1704.8 375.8 1735.3 379.5 1765.7 374.6 1796.1 372.2 1826.6 387.2 1857 376.3 1887.4 373.2 1917.8 378.5 1948.3 377.9 1978.7 378.7M1157.1 274.6L1187.5 261.7 1218 263.5 1248.4 274.6 1278.8 311.8 1309.2 288.5 1339.7 300.6 1370.1 294.8 1400.5 300.2 1431 317 1461.4 316.3 1491.8 300.7 1522.3 321.8 1552.7 320.6 1583.1 319.9 1613.5 317.7 1644 321.1 1674.4 329 1704.8 338 1735.3 330 1765.7 340.5 1796.1 342.8 1826.6 345.2 1857 336.2 1887.4 332.2 1917.8 331.2 1948.3 333.2 1978.7 330.7M1157.1 321.3L1187.5 317.5 1218 310.8 1248.4 354 1278.8 342.5 1309.2 319.6 1339.7 263.1 1370.1 316.8 1400.5 330.1 1431 244.3 1461.4 335.1 1491.8 285.3 1522.3 353.6 1552.7 330.8 1583.1 336.7 1613.5 329.4 1644 331.9 1674.4 351.8 1704.8 349 1735.3 342.2 1765.7 354.5 1796.1 361.5 1826.6 361.2 1857 357.6 1887.4 357.2 1917.8 354.5 1948.3 349.7 1978.7 356.2M1157.1 309.1L1187.5 302.1 1218 333.4 1248.4 328.5 1278.8 363 1309.2 338 1339.7 408.5 1370.1 334 1400.5 333 1431 376.4 1461.4 347.9 1491.8 334.4 1522.3 354.4 1552.7 342.7 1583.1 345.8 1613.5 348.5 1644 349 1674.4 354.2 1704.8 358.9 1735.3 368.5 1765.7 361.3 1796.1 368.4 1826.6 370.8 1857 366.2 1887.4 365 1917.8 363.5 1948.3 363.5 1978.7 359.2M1157.1 406.4L1187.5 357.9 1218 330.2 1248.4 345.5 1278.8 360.5 1309.2 343.9 1339.7 277.3 1370.1 331.4 1400.5 338.4 1431 366 1461.4 348.3 1491.8 383.3 1522.3 372.8 1552.7 353.4 1583.1 350.1 1613.5 352.2 1644 340.6 1674.4 360.5 1704.8 366.8 1735.3 357.6 1765.7 366.2 1796.1 371.8 1826.6 371.9 1857 367.4 1887.4 364.2 1917.8 362.2 1948.3 367.9 1978.7 369.1M1157.1 328.8L1187.5 244.6 1218 263.1 1248.4 295.4 1278.8 304.6 1309.2 298 1339.7 263.1 1370.1 279.8 1400.5 290.5 1431 319.6 1461.4 311.6 1491.8 301.2 1522.3 320 1552.7 312.5 1583.1 308.6 1613.5 304.9 1644 314.9 1674.4 323.9 1704.8 336.1 1735.3 329.6 1765.7 334.1 1796.1 338.6 1826.6 343.8 1857 334.2 1887.4 330.2 1917.8 326.4 1948.3 330.2 1978.7 324.8M1157.1 366.8L1187.5 373.4 1218 357.8 1248.4 394.9 1278.8 381 1309.2 361.4 1339.7 408.5 1370.1 351.1 1400.5 359.7 1431 387.6 1461.4 359.6 1491.8 372.9 1522.3 394.3 1552.7 361.5 1583.1 363.8 1613.5 366.8 1644 363.9 1674.4 382.8 1704.8 387 1735.3 372.4 1765.7 376.8 1796.1 385.4 1826.6 384.9 1857 378 1887.4 384.6 1917.8 379.7 1948.3 387.4 1978.7 380.1M1157.1 316.8L1187.5 373.4 1218 366.8 1248.4 394.9 1278.8 390.1 1309.2 368.4 1339.7 384.6 1370.1 356 1400.5 358.4 1431 340.8 1461.4 366 1491.8 358 1522.3 394.9 1552.7 368.2 1583.1 371.1 1613.5 372.9 1644 356.4 1674.4 379.1 1704.8 385.4 1735.3 383.3 1765.7 381.2 1796.1 383.7 1826.6 392.4 1857 387.5 1887.4 380.3 1917.8 386.5 1948.3 386.5 1978.7 385.7M1157.1 378.9L1187.5 258.3 1218 314.5 1248.4 338.1 1278.8 350 1309.2 333.5 1339.7 263.1 1370.1 325.2 1400.5 325.1 1431 408.5 1461.4 339.2 1491.8 323.6 1522.3 348.3 1552.7 339.3 1583.1 338.3 1613.5 339.2 1644 336.7 1674.4 346.7 1704.8 358.1 1735.3 358.5 1765.7 356.8 1796.1 362.9 1826.6 365.1 1857 358.9 1887.4 357.1 1917.8 358.1 1948.3 355.4 1978.7 361.1M1157.1 289L1187.5 313.8 1218 279.7 1248.4 295.9 1278.8 317.6 1309.2 310.2 1339.7 287.7 1370.1 299.2 1400.5 303.5 1431 244.3 1461.4 314.6 1491.8 327.8 1522.3 325.3 1552.7 313 1583.1 313.9 1613.5 317.1 1644 323 1674.4 327.6 1704.8 339.5 1735.3 342.1 1765.7 341.2 1796.1 343.9 1826.6 351.4 1857 346.4 1887.4 329.5 1917.8 334.1 1948.3 331.7 1978.7 336.7M1157.1 446.6L1187.5 357.7 1218 338.7 1248.4 382 1278.8 385.6 1309.2 358 1339.7 395.8 1370.1 348.3 1400.5 354.3 1431 394.7 1461.4 362.3 1491.8 348.5 1522.3 378.9 1552.7 357.1 1583.1 360.5 1613.5 368.3 1644 360.1 1674.4 369.8 1704.8 374 1735.3 369.8 1765.7 373.7 1796.1 383.8 1826.6 385.3 1857 376.7 1887.4 371.7 1917.8 377.3 1948.3 378 1978.7 378.9M1157.1 274.6L1187.5 244.3 1218 291.3 1248.4 274.6 1278.8 311.2 1309.2 302.7 1339.7 364.1 1370.1 290.7 1400.5 288.3 1431 244.3 1461.4 315.5 1491.8 306.4 1522.3 322.8 1552.7 309.5 1583.1 312.7 1613.5 316.9 1644 318.5 1674.4 329.4 1704.8 337.9 1735.3 331 1765.7 340.2 1796.1 344.3 1826.6 337.5 1857 333.7 1887.4 324.7 1917.8 327.1 1948.3 329 1978.7 327.9M1157.1 448.2L1187.5 423.4 1218 405.1 1248.4 436.7 1278.8 419.1 1309.2 414.5 1339.7 446.6 1370.1 401 1400.5 401.1 1431 420.8 1461.4 414.2 1491.8 416.3 1522.3 426.4 1552.7 415.3 1583.1 428.9 1613.5 428.6 1644 414.1 1674.4 421.7 1704.8 417.9 1735.3 419.8 1765.7 420.7 1796.1 418.4 1826.6 423.6 1857 425.5 1887.4 424.4 1917.8 426.3 1948.3 427.1 1978.7 428.3M1157.1 413.2L1187.5 342.7 1218 376.9 1248.4 367.7 1278.8 379.9 1309.2 373.9 1339.7 348.5 1370.1 365.1 1400.5 366.1 1431 326.4 1461.4 377.6 1491.8 362.6 1522.3 397.8 1552.7 386.8 1583.1 389.6 1613.5 385.6 1644 386.7 1674.4 395.1 1704.8 393.6 1735.3 395.2 1765.7 394.7 1796.1 402.5 1826.6 402.7 1857 403.1 1887.4 399.5 1917.8 406.2 1948.3 402.1 1978.7 403.5M1157.1 367.3L1187.5 329.9 1218 349.2 1248.4 356.7 1278.8 373.7 1309.2 362.4 1339.7 349.8 1370.1 351.4 1400.5 360.3 1431 326.4 1461.4 378.4 1491.8 343.1 1522.3 391.9 1552.7 377.5 1583.1 380 1613.5 378.4 1644 382.9 1674.4 393.7 1704.8 383.3 1735.3 390.5 1765.7 394.6 1796.1 394.5 1826.6 402.2 1857 400.6 1887.4 397.4 1917.8 400.5 1948.3 401.7 1978.7 400.2M1157.1 479.5L1187.5 425.1 1218 385.3 1248.4 429.9 1278.8 406 1309.2 403.1 1339.7 391.2 1370.1 388.9 1400.5 387.4 1431 441.6 1461.4 397.5 1491.8 396 1522.3 418.7 1552.7 403.9 1583.1 412.3 1613.5 418.3 1644 406.3 1674.4 410.3 1704.8 409 1735.3 408.1 1765.7 416.6 1796.1 409.6 1826.6 417.6 1857 419.7 1887.4 419.3 1917.8 421.4 1948.3 419.6 1978.7 418.9M1157.1 356.7L1187.5 304.9 1218 348.2 1248.4 364.8 1278.8 364.6 1309.2 363.5 1339.7 365.3 1370.1 352.8 1400.5 356 1431 326.4 1461.4 366.9 1491.8 343.1 1522.3 385.1 1552.7 373.4 1583.1 374.7 1613.5 380.1 1644 379.5 1674.4 386.1 1704.8 385 1735.3 387.2 1765.7 391 1796.1 392.4 1826.6 397.5 1857 396.2 1887.4 394.9 1917.8 398.5 1948.3 395.7 1978.7 395M1157.1 490.3L1187.5 357.5 1218 390.6 1248.4 430.5 1278.8 417.3 1309.2 406.6 1339.7 432.7 1370.1 395.7 1400.5 398.4 1431 446.6 1461.4 405 1491.8 416.3 1522.3 416.8 1552.7 405.3 1583.1 424.5 1613.5 417.8 1644 411.7 1674.4 419.6 1704.8 417.7 1735.3 415.2 1765.7 418 1796.1 416.2 1826.6 420.6 1857 424.7 1887.4 424.1 1917.8 420.5 1948.3 425.8 1978.7 417.9M1157.1 356.7L1187.5 319.3 1218 381.3 1248.4 389.2 1278.8 396.2 1309.2 389.4 1339.7 386.6 1370.1 365 1400.5 375 1431 423 1461.4 385.8 1491.8 361.2 1522.3 414.4 1552.7 389.9 1583.1 401.6 1613.5 401.1 1644 392.6 1674.4 398.8 1704.8 397.5 1735.3 402.8 1765.7 403.5 1796.1 404.5 1826.6 412.5 1857 408.8 1887.4 408.9 1917.8 410.9 1948.3 415.4 1978.7 409.6M1157.1 471.8L1187.5 425.1 1218 405.1 1248.4 435.5 1278.8 423 1309.2 423.2 1339.7 428.9 1370.1 407.7 1400.5 408.2 1431 446.6 1461.4 413.8 1491.8 413.4 1522.3 433.6 1552.7 413.5 1583.1 429.6 1613.5 434.9 1644 410.4 1674.4 423.9 1704.8 425 1735.3 422.3 1765.7 425.1 1796.1 421.9 1826.6 428.1 1857 428.6 1887.4 430.5 1917.8 431 1948.3 429.8 1978.7 429.2M1157.1 424.2L1187.5 323.4 1218 376.3 1248.4 390.5 1278.8 385.2 1309.2 379.4 1339.7 343.1 1370.1 362.2 1400.5 370.8 1431 332.8 1461.4 384.1 1491.8 388.3 1522.3 404.2 1552.7 388.2 1583.1 394.5 1613.5 396.3 1644 391.3 1674.4 396.5 1704.8 400.3 1735.3 394.7 1765.7 401.6 1796.1 402.1 1826.6 405.5 1857 404.8 1887.4 405.6 1917.8 405 1948.3 403.9 1978.7 405.7M1157.1 490.2L1187.5 425.1 1218 380.5 1248.4 411.1 1278.8 392.3 1309.2 387.5 1339.7 436.7 1370.1 384.3 1400.5 380.4 1431 352.4 1461.4 389.8 1491.8 370.2 1522.3 422.8 1552.7 399.5 1583.1 402.1 1613.5 404.2 1644 400.8 1674.4 406.5 1704.8 405.2 1735.3 407.5 1765.7 409.5 1796.1 408.1 1826.6 411.9 1857 414.5 1887.4 417.5 1917.8 415 1948.3 418 1978.7 417.4M1157.1 498.4L1187.5 364.6 1218 411.2 1248.4 421 1278.8 410.9 1309.2 417.6 1339.7 380.1 1370.1 390 1400.5 398.2 1431 412 1461.4 404.1 1491.8 393.8 1522.3 435.1 1552.7 404 1583.1 424.3 1613.5 427.7 1644 407.1 1674.4 416 1704.8 418 1735.3 418.1 1765.7 417.8 1796.1 418.2 1826.6 420.4 1857 423.9 1887.4 424.1 1917.8 425.3 1948.3 424.5 1978.7 420.6M1157.1 374.2L1187.5 345.7 1218 377.7 1248.4 397.8 1278.8 385.7 1309.2 387.8 1339.7 425.7 1370.1 363.6 1400.5 373.8 1431 362.9 1461.4 383.1 1491.8 363.4 1522.3 395.2 1552.7 384.3 1583.1 396.2 1613.5 390.8 1644 391.3 1674.4 400.2 1704.8 397.1 1735.3 393.8 1765.7 402.3 1796.1 401.3 1826.6 408.9 1857 411.4 1887.4 407 1917.8 406.7 1948.3 404.9 1978.7 404.5M1157.1 461.6L1187.5 337.5 1218 387.2 1248.4 402.2 1278.8 401.8 1309.2 400.3 1339.7 417.6 1370.1 385.8 1400.5 385.3 1431 358.1 1461.4 395.3 1491.8 388.3 1522.3 420.5 1552.7 398.4 1583.1 411.6 1613.5 409.5 1644 403.5 1674.4 409.8 1704.8 406.7 1735.3 407.9 1765.7 411.5 1796.1 409.8 1826.6 415.6 1857 413.5 1887.4 418.2 1917.8 414.2 1948.3 416.8 1978.7 415.9M1157.1 356.7L1187.5 311.4 1218 355.5 1248.4 365.4 1278.8 379.1 1309.2 367.9 1339.7 443.5 1370.1 356.6 1400.5 365.1 1431 377.2 1461.4 370.8 1491.8 358.6 1522.3 388.6 1552.7 381.8 1583.1 387.9 1613.5 385.8 1644 385.7 1674.4 389.3 1704.8 392.8 1735.3 395.3 1765.7 393.4 1796.1 394.9 1826.6 399.8 1857 402.7 1887.4 402 1917.8 401.9 1948.3 403.1 1978.7 397.8" fill="none" stroke="#fdcaa9" stroke-width="1.1" stroke-linejoin="round" />
</g>
<g clip-path="url(#clipB)">
<path d="M1157.1 292.6L1187.5 266 1218 247.2 1248.4 223 1278.8 239 1309.2 229 1339.7 355 1370.1 240.2 1400.5 245 1431 252 1461.4 256.2 1491.8 282 1522.3 281 1552.7 266.3 1583.1 265 1613.5 274 1644 286.7 1674.4 298.6 1704.8 278.6 1735.3 306.8 1765.7 322.5 1796.1 337.6 1826.6 357.1 1857 353 1887.4 362.9 1917.8 365 1948.3 368 1978.7 373.8M1157.1 279.7L1187.5 400.3 1218 251.3 1248.4 228.5 1278.8 238.6 1309.2 233.9 1339.7 250.7 1370.1 239.4 1400.5 247.2 1431 284.7 1461.4 255.8 1491.8 273 1522.3 282.1 1552.7 265.4 1583.1 270.4 1613.5 278.2 1644 284.5 1674.4 301.8 1704.8 281.9 1735.3 307.9 1765.7 324.2 1796.1 340 1826.6 359 1857 355.1 1887.4 362.6 1917.8 365.4 1948.3 371.3 1978.7 374.6M1157.1 266.8L1187.5 290 1218 251.1 1248.4 239.3 1278.8 244.2 1309.2 233.4 1339.7 384 1370.1 240.7 1400.5 248.7 1431 340.4 1461.4 261.2 1491.8 285 1522.3 282.9 1552.7 270.9 1583.1 273.7 1613.5 279 1644 289.1 1674.4 301.7 1704.8 285.1 1735.3 310.3 1765.7 326.2 1796.1 340.5 1826.6 359 1857 354.7 1887.4 364.3 1917.8 370.3 1948.3 373.4 1978.7 378.9M1157.1 336L1187.5 363.4 1218 250.9 1248.4 240.9 1278.8 248.2 1309.2 238.3 1339.7 386 1370.1 249.6 1400.5 253 1431 270 1461.4 261.6 1491.8 276 1522.3 284.9 1552.7 269.6 1583.1 274.4 1613.5 281.8 1644 291.4 1674.4 302 1704.8 286 1735.3 310.5 1765.7 329.6 1796.1 339.8 1826.6 361.3 1857 358.2 1887.4 366.4 1917.8 372.9 1948.3 377.3 1978.7 383.4M1157.1 403.5L1187.5 340 1218 256.6 1248.4 240.1 1278.8 246 1309.2 242.9 1339.7 331 1370.1 249.7 1400.5 255.9 1431 209 1461.4 264.3 1491.8 270 1522.3 288.1 1552.7 273.5 1583.1 277.4 1613.5 284.7 1644 294 1674.4 304.4 1704.8 289 1735.3 315.1 1765.7 330.2 1796.1 343 1826.6 361.3 1857 359.9 1887.4 365.3 1917.8 372.7 1948.3 376.1 1978.7 384.4M1157.1 340.8L1187.5 337.6 1218 258.2 1248.4 241 1278.8 250.5 1309.2 237.3 1339.7 553.6 1370.1 254.6 1400.5 259.2 1431 242 1461.4 266.7 1491.8 279 1522.3 286.5 1552.7 277 1583.1 279.9 1613.5 283.6 1644 295.2 1674.4 307.1 1704.8 291.4 1735.3 312.4 1765.7 332.1 1796.1 346.4 1826.6 362.1 1857 357.8 1887.4 366.2 1917.8 375.1 1948.3 376.4 1978.7 383.5M1157.1 648.4L1187.5 402 1218 259.9 1248.4 246.7 1278.8 254.3 1309.2 246.7 1339.7 394 1370.1 257.4 1400.5 260.3 1431 307 1461.4 276.2 1491.8 344.8 1522.3 290 1552.7 275.5 1583.1 280.4 1613.5 286.5 1644 294.4 1674.4 310.8 1704.8 290 1735.3 316.7 1765.7 332.8 1796.1 347.2 1826.6 363.8 1857 359 1887.4 366.2 1917.8 376.6 1948.3 382.3 1978.7 389M1157.1 535L1187.5 352 1218 263.2 1248.4 255.5 1278.8 255.6 1309.2 248.2 1339.7 600 1370.1 258.5 1400.5 266.1 1431 236 1461.4 271.2 1491.8 293 1522.3 295.3 1552.7 278.2 1583.1 284.7 1613.5 294.8 1644 297.5 1674.4 313.5 1704.8 294.5 1735.3 317.7 1765.7 332.8 1796.1 350.2 1826.6 365.7 1857 363.1 1887.4 368.7 1917.8 381.3 1948.3 384.7 1978.7 390.9M1157.1 633.2L1187.5 453 1218 264.6 1248.4 261.6 1278.8 261 1309.2 252.9 1339.7 333 1370.1 257.3 1400.5 270 1431 247 1461.4 272.8 1491.8 288 1522.3 296.3 1552.7 279.7 1583.1 286.6 1613.5 290.3 1644 298.8 1674.4 311.3 1704.8 301.4 1735.3 316.8 1765.7 335.7 1796.1 348.8 1826.6 369.3 1857 364.1 1887.4 369.9 1917.8 382.6 1948.3 383.3 1978.7 393.3M1157.1 561.6L1187.5 387.4 1218 265.6 1248.4 262 1278.8 262.5 1309.2 254.2 1339.7 396 1370.1 263 1400.5 269.8 1431 360.4 1461.4 277 1491.8 291 1522.3 299.1 1552.7 280.5 1583.1 292.9 1613.5 296.5 1644 300.1 1674.4 316.7 1704.8 300.7 1735.3 322.6 1765.7 337.6 1796.1 351.1 1826.6 370.7 1857 366.1 1887.4 373 1917.8 383.1 1948.3 388.9 1978.7 395.4M1157.1 573.7L1187.5 470.7 1218 274.2 1248.4 274.1 1278.8 265.1 1309.2 256.6 1339.7 453 1370.1 265.1 1400.5 269.8 1431 322.6 1461.4 282.8 1491.8 290 1522.3 298.7 1552.7 285.2 1583.1 295.2 1613.5 298.5 1644 301.9 1674.4 316.4 1704.8 301.3 1735.3 322.8 1765.7 337.9 1796.1 352.1 1826.6 371.9 1857 366.1 1887.4 372.4 1917.8 385.4 1948.3 389.3 1978.7 394M1157.1 548.7L1187.5 503 1218 271.4 1248.4 279.2 1278.8 273.3 1309.2 256.4 1339.7 484 1370.1 272 1400.5 274.2 1431 260 1461.4 284.6 1491.8 353.7 1522.3 300.3 1552.7 286.5 1583.1 295 1613.5 300.9 1644 303.7 1674.4 320.1 1704.8 301 1735.3 325.7 1765.7 339.9 1796.1 353.8 1826.6 371.2 1857 369.3 1887.4 373.1 1917.8 386 1948.3 391.2 1978.7 397.4M1157.1 610.6L1187.5 456 1218 273 1248.4 276.7 1278.8 271.7 1309.2 266 1339.7 482 1370.1 267.9 1400.5 276.7 1431 296 1461.4 286.5 1491.8 320.3 1522.3 302.5 1552.7 293 1583.1 294.1 1613.5 303.9 1644 307.8 1674.4 322.3 1704.8 304.6 1735.3 328 1765.7 340.3 1796.1 356.8 1826.6 373.6 1857 370 1887.4 372.8 1917.8 389 1948.3 396.3 1978.7 402.2M1157.1 429.2L1187.5 505.3 1218 274 1248.4 272.1 1278.8 276 1309.2 262.3 1339.7 602.6 1370.1 275.9 1400.5 278.3 1431 230 1461.4 286.5 1491.8 311.4 1522.3 303.7 1552.7 290.5 1583.1 300.9 1613.5 300.7 1644 309 1674.4 324 1704.8 309.2 1735.3 327.9 1765.7 340.3 1796.1 357.6 1826.6 372.8 1857 370.1 1887.4 374 1917.8 393 1948.3 395.8 1978.7 400.5" fill="none" stroke="#6a3d9a" stroke-width="2.0" stroke-linejoin="round" />
<use href="#dsq" x="1157.1" y="292.6"/><use href="#dsq" x="1187.5" y="266"/><use href="#dsq" x="1218" y="247.2"/><use href="#dsq" x="1248.4" y="223"/><use href="#dsq" x="1278.8" y="239"/><use href="#dsq" x="1309.2" y="229"/><use href="#dsq" x="1339.7" y="355"/><use href="#dsq" x="1370.1" y="240.2"/><use href="#dsq" x="1400.5" y="245"/><use href="#dsq" x="1431" y="252"/><use href="#dsq" x="1461.4" y="256.2"/><use href="#dsq" x="1491.8" y="282"/><use href="#dsq" x="1522.3" y="281"/><use href="#dsq" x="1552.7" y="266.3"/><use href="#dsq" x="1583.1" y="265"/><use href="#dsq" x="1613.5" y="274"/><use href="#dsq" x="1644" y="286.7"/><use href="#dsq" x="1674.4" y="298.6"/><use href="#dsq" x="1704.8" y="278.6"/><use href="#dsq" x="1735.3" y="306.8"/><use href="#dsq" x="1765.7" y="322.5"/><use href="#dsq" x="1796.1" y="337.6"/><use href="#dsq" x="1826.6" y="357.1"/><use href="#dsq" x="1857" y="353"/><use href="#dsq" x="1887.4" y="362.9"/><use href="#dsq" x="1917.8" y="365"/><use href="#dsq" x="1948.3" y="368"/><use href="#dsq" x="1978.7" y="373.8"/><use href="#dsq" x="1157.1" y="279.7"/><use href="#dsq" x="1187.5" y="400.3"/><use href="#dsq" x="1218" y="251.3"/><use href="#dsq" x="1248.4" y="228.5"/><use href="#dsq" x="1278.8" y="238.6"/><use href="#dsq" x="1309.2" y="233.9"/><use href="#dsq" x="1339.7" y="250.7"/><use href="#dsq" x="1370.1" y="239.4"/><use href="#dsq" x="1400.5" y="247.2"/><use href="#dsq" x="1431" y="284.7"/><use href="#dsq" x="1461.4" y="255.8"/><use href="#dsq" x="1491.8" y="273"/><use href="#dsq" x="1522.3" y="282.1"/><use href="#dsq" x="1552.7" y="265.4"/><use href="#dsq" x="1583.1" y="270.4"/><use href="#dsq" x="1613.5" y="278.2"/><use href="#dsq" x="1644" y="284.5"/><use href="#dsq" x="1674.4" y="301.8"/><use href="#dsq" x="1704.8" y="281.9"/><use href="#dsq" x="1735.3" y="307.9"/><use href="#dsq" x="1765.7" y="324.2"/><use href="#dsq" x="1796.1" y="340"/><use href="#dsq" x="1826.6" y="359"/><use href="#dsq" x="1857" y="355.1"/><use href="#dsq" x="1887.4" y="362.6"/><use href="#dsq" x="1917.8" y="365.4"/><use href="#dsq" x="1948.3" y="371.3"/><use href="#dsq" x="1978.7" y="374.6"/><use href="#dsq" x="1157.1" y="266.8"/><use href="#dsq" x="1187.5" y="290"/><use href="#dsq" x="1218" y="251.1"/><use href="#dsq" x="1248.4" y="239.3"/><use href="#dsq" x="1278.8" y="244.2"/><use href="#dsq" x="1309.2" y="233.4"/><use href="#dsq" x="1339.7" y="384"/><use href="#dsq" x="1370.1" y="240.7"/><use href="#dsq" x="1400.5" y="248.7"/><use href="#dsq" x="1431" y="340.4"/><use href="#dsq" x="1461.4" y="261.2"/><use href="#dsq" x="1491.8" y="285"/><use href="#dsq" x="1522.3" y="282.9"/><use href="#dsq" x="1552.7" y="270.9"/><use href="#dsq" x="1583.1" y="273.7"/><use href="#dsq" x="1613.5" y="279"/><use href="#dsq" x="1644" y="289.1"/><use href="#dsq" x="1674.4" y="301.7"/><use href="#dsq" x="1704.8" y="285.1"/><use href="#dsq" x="1735.3" y="310.3"/><use href="#dsq" x="1765.7" y="326.2"/><use href="#dsq" x="1796.1" y="340.5"/><use href="#dsq" x="1826.6" y="359"/><use href="#dsq" x="1857" y="354.7"/><use href="#dsq" x="1887.4" y="364.3"/><use href="#dsq" x="1917.8" y="370.3"/><use href="#dsq" x="1948.3" y="373.4"/><use href="#dsq" x="1978.7" y="378.9"/><use href="#dsq" x="1157.1" y="336"/><use href="#dsq" x="1187.5" y="363.4"/><use href="#dsq" x="1218" y="250.9"/><use href="#dsq" x="1248.4" y="240.9"/><use href="#dsq" x="1278.8" y="248.2"/><use href="#dsq" x="1309.2" y="238.3"/><use href="#dsq" x="1339.7" y="386"/><use href="#dsq" x="1370.1" y="249.6"/><use href="#dsq" x="1400.5" y="253"/><use href="#dsq" x="1431" y="270"/><use href="#dsq" x="1461.4" y="261.6"/><use href="#dsq" x="1491.8" y="276"/><use href="#dsq" x="1522.3" y="284.9"/><use href="#dsq" x="1552.7" y="269.6"/><use href="#dsq" x="1583.1" y="274.4"/><use href="#dsq" x="1613.5" y="281.8"/><use href="#dsq" x="1644" y="291.4"/><use href="#dsq" x="1674.4" y="302"/><use href="#dsq" x="1704.8" y="286"/><use href="#dsq" x="1735.3" y="310.5"/><use href="#dsq" x="1765.7" y="329.6"/><use href="#dsq" x="1796.1" y="339.8"/><use href="#dsq" x="1826.6" y="361.3"/><use href="#dsq" x="1857" y="358.2"/><use href="#dsq" x="1887.4" y="366.4"/><use href="#dsq" x="1917.8" y="372.9"/><use href="#dsq" x="1948.3" y="377.3"/><use href="#dsq" x="1978.7" y="383.4"/><use href="#dsq" x="1157.1" y="403.5"/><use href="#dsq" x="1187.5" y="340"/><use href="#dsq" x="1218" y="256.6"/><use href="#dsq" x="1248.4" y="240.1"/><use href="#dsq" x="1278.8" y="246"/><use href="#dsq" x="1309.2" y="242.9"/><use href="#dsq" x="1339.7" y="331"/><use href="#dsq" x="1370.1" y="249.7"/><use href="#dsq" x="1400.5" y="255.9"/><use href="#dsq" x="1431" y="209"/><use href="#dsq" x="1461.4" y="264.3"/><use href="#dsq" x="1491.8" y="270"/><use href="#dsq" x="1522.3" y="288.1"/><use href="#dsq" x="1552.7" y="273.5"/><use href="#dsq" x="1583.1" y="277.4"/><use href="#dsq" x="1613.5" y="284.7"/><use href="#dsq" x="1644" y="294"/><use href="#dsq" x="1674.4" y="304.4"/><use href="#dsq" x="1704.8" y="289"/><use href="#dsq" x="1735.3" y="315.1"/><use href="#dsq" x="1765.7" y="330.2"/><use href="#dsq" x="1796.1" y="343"/><use href="#dsq" x="1826.6" y="361.3"/><use href="#dsq" x="1857" y="359.9"/><use href="#dsq" x="1887.4" y="365.3"/><use href="#dsq" x="1917.8" y="372.7"/><use href="#dsq" x="1948.3" y="376.1"/><use href="#dsq" x="1978.7" y="384.4"/><use href="#dsq" x="1157.1" y="340.8"/><use href="#dsq" x="1187.5" y="337.6"/><use href="#dsq" x="1218" y="258.2"/><use href="#dsq" x="1248.4" y="241"/><use href="#dsq" x="1278.8" y="250.5"/><use href="#dsq" x="1309.2" y="237.3"/><use href="#dsq" x="1339.7" y="553.6"/><use href="#dsq" x="1370.1" y="254.6"/><use href="#dsq" x="1400.5" y="259.2"/><use href="#dsq" x="1431" y="242"/><use href="#dsq" x="1461.4" y="266.7"/><use href="#dsq" x="1491.8" y="279"/><use href="#dsq" x="1522.3" y="286.5"/><use href="#dsq" x="1552.7" y="277"/><use href="#dsq" x="1583.1" y="279.9"/><use href="#dsq" x="1613.5" y="283.6"/><use href="#dsq" x="1644" y="295.2"/><use href="#dsq" x="1674.4" y="307.1"/><use href="#dsq" x="1704.8" y="291.4"/><use href="#dsq" x="1735.3" y="312.4"/><use href="#dsq" x="1765.7" y="332.1"/><use href="#dsq" x="1796.1" y="346.4"/><use href="#dsq" x="1826.6" y="362.1"/><use href="#dsq" x="1857" y="357.8"/><use href="#dsq" x="1887.4" y="366.2"/><use href="#dsq" x="1917.8" y="375.1"/><use href="#dsq" x="1948.3" y="376.4"/><use href="#dsq" x="1978.7" y="383.5"/><use href="#dsq" x="1157.1" y="648.4"/><use href="#dsq" x="1187.5" y="402"/><use href="#dsq" x="1218" y="259.9"/><use href="#dsq" x="1248.4" y="246.7"/><use href="#dsq" x="1278.8" y="254.3"/><use href="#dsq" x="1309.2" y="246.7"/><use href="#dsq" x="1339.7" y="394"/><use href="#dsq" x="1370.1" y="257.4"/><use href="#dsq" x="1400.5" y="260.3"/><use href="#dsq" x="1431" y="307"/><use href="#dsq" x="1461.4" y="276.2"/><use href="#dsq" x="1491.8" y="344.8"/><use href="#dsq" x="1522.3" y="290"/><use href="#dsq" x="1552.7" y="275.5"/><use href="#dsq" x="1583.1" y="280.4"/><use href="#dsq" x="1613.5" y="286.5"/><use href="#dsq" x="1644" y="294.4"/><use href="#dsq" x="1674.4" y="310.8"/><use href="#dsq" x="1704.8" y="290"/><use href="#dsq" x="1735.3" y="316.7"/><use href="#dsq" x="1765.7" y="332.8"/><use href="#dsq" x="1796.1" y="347.2"/><use href="#dsq" x="1826.6" y="363.8"/><use href="#dsq" x="1857" y="359"/><use href="#dsq" x="1887.4" y="366.2"/><use href="#dsq" x="1917.8" y="376.6"/><use href="#dsq" x="1948.3" y="382.3"/><use href="#dsq" x="1978.7" y="389"/><use href="#dsq" x="1157.1" y="535"/><use href="#dsq" x="1187.5" y="352"/><use href="#dsq" x="1218" y="263.2"/><use href="#dsq" x="1248.4" y="255.5"/><use href="#dsq" x="1278.8" y="255.6"/><use href="#dsq" x="1309.2" y="248.2"/><use href="#dsq" x="1339.7" y="600"/><use href="#dsq" x="1370.1" y="258.5"/><use href="#dsq" x="1400.5" y="266.1"/><use href="#dsq" x="1431" y="236"/><use href="#dsq" x="1461.4" y="271.2"/><use href="#dsq" x="1491.8" y="293"/><use href="#dsq" x="1522.3" y="295.3"/><use href="#dsq" x="1552.7" y="278.2"/><use href="#dsq" x="1583.1" y="284.7"/><use href="#dsq" x="1613.5" y="294.8"/><use href="#dsq" x="1644" y="297.5"/><use href="#dsq" x="1674.4" y="313.5"/><use href="#dsq" x="1704.8" y="294.5"/><use href="#dsq" x="1735.3" y="317.7"/><use href="#dsq" x="1765.7" y="332.8"/><use href="#dsq" x="1796.1" y="350.2"/><use href="#dsq" x="1826.6" y="365.7"/><use href="#dsq" x="1857" y="363.1"/><use href="#dsq" x="1887.4" y="368.7"/><use href="#dsq" x="1917.8" y="381.3"/><use href="#dsq" x="1948.3" y="384.7"/><use href="#dsq" x="1978.7" y="390.9"/><use href="#dsq" x="1157.1" y="633.2"/><use href="#dsq" x="1187.5" y="453"/><use href="#dsq" x="1218" y="264.6"/><use href="#dsq" x="1248.4" y="261.6"/><use href="#dsq" x="1278.8" y="261"/><use href="#dsq" x="1309.2" y="252.9"/><use href="#dsq" x="1339.7" y="333"/><use href="#dsq" x="1370.1" y="257.3"/><use href="#dsq" x="1400.5" y="270"/><use href="#dsq" x="1431" y="247"/><use href="#dsq" x="1461.4" y="272.8"/><use href="#dsq" x="1491.8" y="288"/><use href="#dsq" x="1522.3" y="296.3"/><use href="#dsq" x="1552.7" y="279.7"/><use href="#dsq" x="1583.1" y="286.6"/><use href="#dsq" x="1613.5" y="290.3"/><use href="#dsq" x="1644" y="298.8"/><use href="#dsq" x="1674.4" y="311.3"/><use href="#dsq" x="1704.8" y="301.4"/><use href="#dsq" x="1735.3" y="316.8"/><use href="#dsq" x="1765.7" y="335.7"/><use href="#dsq" x="1796.1" y="348.8"/><use href="#dsq" x="1826.6" y="369.3"/><use href="#dsq" x="1857" y="364.1"/><use href="#dsq" x="1887.4" y="369.9"/><use href="#dsq" x="1917.8" y="382.6"/><use href="#dsq" x="1948.3" y="383.3"/><use href="#dsq" x="1978.7" y="393.3"/><use href="#dsq" x="1157.1" y="561.6"/><use href="#dsq" x="1187.5" y="387.4"/><use href="#dsq" x="1218" y="265.6"/><use href="#dsq" x="1248.4" y="262"/><use href="#dsq" x="1278.8" y="262.5"/><use href="#dsq" x="1309.2" y="254.2"/><use href="#dsq" x="1339.7" y="396"/><use href="#dsq" x="1370.1" y="263"/><use href="#dsq" x="1400.5" y="269.8"/><use href="#dsq" x="1431" y="360.4"/><use href="#dsq" x="1461.4" y="277"/><use href="#dsq" x="1491.8" y="291"/><use href="#dsq" x="1522.3" y="299.1"/><use href="#dsq" x="1552.7" y="280.5"/><use href="#dsq" x="1583.1" y="292.9"/><use href="#dsq" x="1613.5" y="296.5"/><use href="#dsq" x="1644" y="300.1"/><use href="#dsq" x="1674.4" y="316.7"/><use href="#dsq" x="1704.8" y="300.7"/><use href="#dsq" x="1735.3" y="322.6"/><use href="#dsq" x="1765.7" y="337.6"/><use href="#dsq" x="1796.1" y="351.1"/><use href="#dsq" x="1826.6" y="370.7"/><use href="#dsq" x="1857" y="366.1"/><use href="#dsq" x="1887.4" y="373"/><use href="#dsq" x="1917.8" y="383.1"/><use href="#dsq" x="1948.3" y="388.9"/><use href="#dsq" x="1978.7" y="395.4"/><use href="#dsq" x="1157.1" y="573.7"/><use href="#dsq" x="1187.5" y="470.7"/><use href="#dsq" x="1218" y="274.2"/><use href="#dsq" x="1248.4" y="274.1"/><use href="#dsq" x="1278.8" y="265.1"/><use href="#dsq" x="1309.2" y="256.6"/><use href="#dsq" x="1339.7" y="453"/><use href="#dsq" x="1370.1" y="265.1"/><use href="#dsq" x="1400.5" y="269.8"/><use href="#dsq" x="1431" y="322.6"/><use href="#dsq" x="1461.4" y="282.8"/><use href="#dsq" x="1491.8" y="290"/><use href="#dsq" x="1522.3" y="298.7"/><use href="#dsq" x="1552.7" y="285.2"/><use href="#dsq" x="1583.1" y="295.2"/><use href="#dsq" x="1613.5" y="298.5"/><use href="#dsq" x="1644" y="301.9"/><use href="#dsq" x="1674.4" y="316.4"/><use href="#dsq" x="1704.8" y="301.3"/><use href="#dsq" x="1735.3" y="322.8"/><use href="#dsq" x="1765.7" y="337.9"/><use href="#dsq" x="1796.1" y="352.1"/><use href="#dsq" x="1826.6" y="371.9"/><use href="#dsq" x="1857" y="366.1"/><use href="#dsq" x="1887.4" y="372.4"/><use href="#dsq" x="1917.8" y="385.4"/><use href="#dsq" x="1948.3" y="389.3"/><use href="#dsq" x="1978.7" y="394"/><use href="#dsq" x="1157.1" y="548.7"/><use href="#dsq" x="1187.5" y="503"/><use href="#dsq" x="1218" y="271.4"/><use href="#dsq" x="1248.4" y="279.2"/><use href="#dsq" x="1278.8" y="273.3"/><use href="#dsq" x="1309.2" y="256.4"/><use href="#dsq" x="1339.7" y="484"/><use href="#dsq" x="1370.1" y="272"/><use href="#dsq" x="1400.5" y="274.2"/><use href="#dsq" x="1431" y="260"/><use href="#dsq" x="1461.4" y="284.6"/><use href="#dsq" x="1491.8" y="353.7"/><use href="#dsq" x="1522.3" y="300.3"/><use href="#dsq" x="1552.7" y="286.5"/><use href="#dsq" x="1583.1" y="295"/><use href="#dsq" x="1613.5" y="300.9"/><use href="#dsq" x="1644" y="303.7"/><use href="#dsq" x="1674.4" y="320.1"/><use href="#dsq" x="1704.8" y="301"/><use href="#dsq" x="1735.3" y="325.7"/><use href="#dsq" x="1765.7" y="339.9"/><use href="#dsq" x="1796.1" y="353.8"/><use href="#dsq" x="1826.6" y="371.2"/><use href="#dsq" x="1857" y="369.3"/><use href="#dsq" x="1887.4" y="373.1"/><use href="#dsq" x="1917.8" y="386"/><use href="#dsq" x="1948.3" y="391.2"/><use href="#dsq" x="1978.7" y="397.4"/><use href="#dsq" x="1157.1" y="610.6"/><use href="#dsq" x="1187.5" y="456"/><use href="#dsq" x="1218" y="273"/><use href="#dsq" x="1248.4" y="276.7"/><use href="#dsq" x="1278.8" y="271.7"/><use href="#dsq" x="1309.2" y="266"/><use href="#dsq" x="1339.7" y="482"/><use href="#dsq" x="1370.1" y="267.9"/><use href="#dsq" x="1400.5" y="276.7"/><use href="#dsq" x="1431" y="296"/><use href="#dsq" x="1461.4" y="286.5"/><use href="#dsq" x="1491.8" y="320.3"/><use href="#dsq" x="1522.3" y="302.5"/><use href="#dsq" x="1552.7" y="293"/><use href="#dsq" x="1583.1" y="294.1"/><use href="#dsq" x="1613.5" y="303.9"/><use href="#dsq" x="1644" y="307.8"/><use href="#dsq" x="1674.4" y="322.3"/><use href="#dsq" x="1704.8" y="304.6"/><use href="#dsq" x="1735.3" y="328"/><use href="#dsq" x="1765.7" y="340.3"/><use href="#dsq" x="1796.1" y="356.8"/><use href="#dsq" x="1826.6" y="373.6"/><use href="#dsq" x="1857" y="370"/><use href="#dsq" x="1887.4" y="372.8"/><use href="#dsq" x="1917.8" y="389"/><use href="#dsq" x="1948.3" y="396.3"/><use href="#dsq" x="1978.7" y="402.2"/><use href="#dsq" x="1157.1" y="429.2"/><use href="#dsq" x="1187.5" y="505.3"/><use href="#dsq" x="1218" y="274"/><use href="#dsq" x="1248.4" y="272.1"/><use href="#dsq" x="1278.8" y="276"/><use href="#dsq" x="1309.2" y="262.3"/><use href="#dsq" x="1339.7" y="602.6"/><use href="#dsq" x="1370.1" y="275.9"/><use href="#dsq" x="1400.5" y="278.3"/><use href="#dsq" x="1431" y="230"/><use href="#dsq" x="1461.4" y="286.5"/><use href="#dsq" x="1491.8" y="311.4"/><use href="#dsq" x="1522.3" y="303.7"/><use href="#dsq" x="1552.7" y="290.5"/><use href="#dsq" x="1583.1" y="300.9"/><use href="#dsq" x="1613.5" y="300.7"/><use href="#dsq" x="1644" y="309"/><use href="#dsq" x="1674.4" y="324"/><use href="#dsq" x="1704.8" y="309.2"/><use href="#dsq" x="1735.3" y="327.9"/><use href="#dsq" x="1765.7" y="340.3"/><use href="#dsq" x="1796.1" y="357.6"/><use href="#dsq" x="1826.6" y="372.8"/><use href="#dsq" x="1857" y="370.1"/><use href="#dsq" x="1887.4" y="374"/><use href="#dsq" x="1917.8" y="393"/><use href="#dsq" x="1948.3" y="395.8"/><use href="#dsq" x="1978.7" y="400.5"/>
<path d="M1157.1 234L1187.5 232.1 1218 236 1248.4 236.2 1278.8 208.3 1309.2 208.2 1339.7 236.5 1370.1 226.6 1400.5 239.8 1431 300.2 1461.4 256.6 1491.8 267.1 1522.3 274.6 1552.7 272.7 1583.1 283.3 1613.5 280.9 1644 289.5 1674.4 306.8 1704.8 330 1735.3 331.6 1765.7 352.3 1796.1 370.6 1826.6 386.6 1857 382.3 1887.4 394.9 1917.8 407 1948.3 410 1978.7 418" fill="none" stroke="#ff00ff" stroke-width="5.5" stroke-linejoin="round" stroke-linecap="round"/>
<path d="M1157.1 362L1187.5 434 1218 373.8 1248.4 373.8 1278.8 435 1309.2 421 1339.7 403.5 1370.1 397 1400.5 390.5 1431 374.9 1461.4 380.4 1491.8 369.3 1522.3 389.4 1552.7 370.4 1583.1 370.4 1613.5 362.6 1644 363.7 1674.4 364.7 1704.8 369.3 1735.3 357.2 1765.7 358 1796.1 360 1826.6 365 1857 362.3 1887.4 362.3 1917.8 368.8 1948.3 368 1978.7 373.5M1157.1 373L1187.5 436 1218 376 1248.4 376 1278.8 437 1309.2 422.8 1339.7 404.8 1370.1 399 1400.5 393 1431 378 1461.4 383 1491.8 372 1522.3 393 1552.7 373 1583.1 372 1613.5 364 1644 365 1674.4 368 1704.8 372 1735.3 360 1765.7 360 1796.1 362 1826.6 368 1857 366 1887.4 366 1917.8 371 1948.3 370 1978.7 375M1157.1 380L1187.5 440 1218 380 1248.4 380 1278.8 441 1309.2 425 1339.7 420 1370.1 402 1400.5 396 1431 381.6 1461.4 386 1491.8 375 1522.3 397 1552.7 376 1583.1 373 1613.5 366 1644 367 1674.4 371 1704.8 375 1735.3 363 1765.7 363 1796.1 364 1826.6 371 1857 369 1887.4 370 1917.8 374 1948.3 373 1978.7 378M1157.1 385L1187.5 441 1218 382.6 1248.4 382.6 1278.8 445 1309.2 427.6 1339.7 421.2 1370.1 403.8 1400.5 398.3 1431 389.4 1461.4 389.4 1491.8 378.2 1522.3 400.5 1552.7 378.2 1583.1 374.9 1613.5 367 1644 369.3 1674.4 374 1704.8 378.6 1735.3 365.6 1765.7 365.6 1796.1 365.6 1826.6 374.4 1857 372.5 1887.4 373.5 1917.8 377.2 1948.3 375.3 1978.7 380" fill="none" stroke="#2a8a55" stroke-width="1.7" stroke-linejoin="round" />
<use href="#dci" x="1157.1" y="362"/><use href="#dci" x="1187.5" y="434"/><use href="#dci" x="1218" y="373.8"/><use href="#dci" x="1248.4" y="373.8"/><use href="#dci" x="1278.8" y="435"/><use href="#dci" x="1309.2" y="421"/><use href="#dci" x="1339.7" y="403.5"/><use href="#dci" x="1370.1" y="397"/><use href="#dci" x="1400.5" y="390.5"/><use href="#dci" x="1431" y="374.9"/><use href="#dci" x="1461.4" y="380.4"/><use href="#dci" x="1491.8" y="369.3"/><use href="#dci" x="1522.3" y="389.4"/><use href="#dci" x="1552.7" y="370.4"/><use href="#dci" x="1583.1" y="370.4"/><use href="#dci" x="1613.5" y="362.6"/><use href="#dci" x="1644" y="363.7"/><use href="#dci" x="1674.4" y="364.7"/><use href="#dci" x="1704.8" y="369.3"/><use href="#dci" x="1735.3" y="357.2"/><use href="#dci" x="1765.7" y="358"/><use href="#dci" x="1796.1" y="360"/><use href="#dci" x="1826.6" y="365"/><use href="#dci" x="1857" y="362.3"/><use href="#dci" x="1887.4" y="362.3"/><use href="#dci" x="1917.8" y="368.8"/><use href="#dci" x="1948.3" y="368"/><use href="#dci" x="1978.7" y="373.5"/><use href="#dci" x="1157.1" y="373"/><use href="#dci" x="1187.5" y="436"/><use href="#dci" x="1218" y="376"/><use href="#dci" x="1248.4" y="376"/><use href="#dci" x="1278.8" y="437"/><use href="#dci" x="1309.2" y="422.8"/><use href="#dci" x="1339.7" y="404.8"/><use href="#dci" x="1370.1" y="399"/><use href="#dci" x="1400.5" y="393"/><use href="#dci" x="1431" y="378"/><use href="#dci" x="1461.4" y="383"/><use href="#dci" x="1491.8" y="372"/><use href="#dci" x="1522.3" y="393"/><use href="#dci" x="1552.7" y="373"/><use href="#dci" x="1583.1" y="372"/><use href="#dci" x="1613.5" y="364"/><use href="#dci" x="1644" y="365"/><use href="#dci" x="1674.4" y="368"/><use href="#dci" x="1704.8" y="372"/><use href="#dci" x="1735.3" y="360"/><use href="#dci" x="1765.7" y="360"/><use href="#dci" x="1796.1" y="362"/><use href="#dci" x="1826.6" y="368"/><use href="#dci" x="1857" y="366"/><use href="#dci" x="1887.4" y="366"/><use href="#dci" x="1917.8" y="371"/><use href="#dci" x="1948.3" y="370"/><use href="#dci" x="1978.7" y="375"/><use href="#dci" x="1157.1" y="380"/><use href="#dci" x="1187.5" y="440"/><use href="#dci" x="1218" y="380"/><use href="#dci" x="1248.4" y="380"/><use href="#dci" x="1278.8" y="441"/><use href="#dci" x="1309.2" y="425"/><use href="#dci" x="1339.7" y="420"/><use href="#dci" x="1370.1" y="402"/><use href="#dci" x="1400.5" y="396"/><use href="#dci" x="1431" y="381.6"/><use href="#dci" x="1461.4" y="386"/><use href="#dci" x="1491.8" y="375"/><use href="#dci" x="1522.3" y="397"/><use href="#dci" x="1552.7" y="376"/><use href="#dci" x="1583.1" y="373"/><use href="#dci" x="1613.5" y="366"/><use href="#dci" x="1644" y="367"/><use href="#dci" x="1674.4" y="371"/><use href="#dci" x="1704.8" y="375"/><use href="#dci" x="1735.3" y="363"/><use href="#dci" x="1765.7" y="363"/><use href="#dci" x="1796.1" y="364"/><use href="#dci" x="1826.6" y="371"/><use href="#dci" x="1857" y="369"/><use href="#dci" x="1887.4" y="370"/><use href="#dci" x="1917.8" y="374"/><use href="#dci" x="1948.3" y="373"/><use href="#dci" x="1978.7" y="378"/><use href="#dci" x="1157.1" y="385"/><use href="#dci" x="1187.5" y="441"/><use href="#dci" x="1218" y="382.6"/><use href="#dci" x="1248.4" y="382.6"/><use href="#dci" x="1278.8" y="445"/><use href="#dci" x="1309.2" y="427.6"/><use href="#dci" x="1339.7" y="421.2"/><use href="#dci" x="1370.1" y="403.8"/><use href="#dci" x="1400.5" y="398.3"/><use href="#dci" x="1431" y="389.4"/><use href="#dci" x="1461.4" y="389.4"/><use href="#dci" x="1491.8" y="378.2"/><use href="#dci" x="1522.3" y="400.5"/><use href="#dci" x="1552.7" y="378.2"/><use href="#dci" x="1583.1" y="374.9"/><use href="#dci" x="1613.5" y="367"/><use href="#dci" x="1644" y="369.3"/><use href="#dci" x="1674.4" y="374"/><use href="#dci" x="1704.8" y="378.6"/><use href="#dci" x="1735.3" y="365.6"/><use href="#dci" x="1765.7" y="365.6"/><use href="#dci" x="1796.1" y="365.6"/><use href="#dci" x="1826.6" y="374.4"/><use href="#dci" x="1857" y="372.5"/><use href="#dci" x="1887.4" y="373.5"/><use href="#dci" x="1917.8" y="377.2"/><use href="#dci" x="1948.3" y="375.3"/><use href="#dci" x="1978.7" y="380"/>
<path d="M1157.1 533.9L1187.5 532.1 1218 497.9 1248.4 465.8 1278.8 434.3 1309.2 433.6 1339.7 460.3 1370.1 427.8 1400.5 416.7 1431 476.9 1461.4 405.5 1491.8 416 1522.3 399.1 1552.7 396.9 1583.1 382.8 1613.5 380.8 1644 389.1 1674.4 387.5 1704.8 391.1 1735.3 385.9 1765.7 385.8 1796.1 386.1 1826.6 388.8 1857 385.7 1887.4 385.7 1917.8 386.5 1948.3 384.2 1978.7 386.2" fill="none" stroke="#0000ff" stroke-width="5.5" stroke-linejoin="round" stroke-linecap="round"/>
</g>
<line x1="1493.3" y1="159.2" x2="1527.4" y2="271.5" stroke="#ff00ff" stroke-width="1.4"/>
<text x="1495.3" y="146.3" font-size="35.5" text-anchor="middle" fill="#ff00ff" >OIB</text>
<line x1="1273.8" y1="373.5" x2="1356.2" y2="298.5" stroke="#0000ff" stroke-width="1.4"/>
<text x="1473.4" y="522.2" font-size="35.5" text-anchor="middle" fill="#0000ff" >N-MORB</text>
<g clip-path="url(#clipC)">
<path d="M440.4 1128.3H462.4M451.4 1117.3V1139.3" stroke="#555555" stroke-width="1.6" fill="none"/>
<path d="M442.8 1169H464.8M453.8 1158V1180" stroke="#555555" stroke-width="1.6" fill="none"/>
<path d="M343.5 1185.3H365.5M354.5 1174.3V1196.3" stroke="#555555" stroke-width="1.6" fill="none"/>
<path d="M371.6 1192.5H393.6M382.6 1181.5V1203.5" stroke="#555555" stroke-width="1.6" fill="none"/>
<path d="M387.7 1191H409.7M398.7 1180V1202" stroke="#555555" stroke-width="1.6" fill="none"/>
<path d="M388.2 1150.7H410.2M399.2 1139.7V1161.7" stroke="#555555" stroke-width="1.6" fill="none"/>
<path d="M328.8 1200.3H350.8M339.8 1189.3V1211.3" stroke="#555555" stroke-width="1.6" fill="none"/>
<path d="M327.3 1203.3H349.3M338.3 1192.3V1214.3" stroke="#555555" stroke-width="1.6" fill="none"/>
<path d="M320.5 1209.3H342.5M331.5 1198.3V1220.3" stroke="#555555" stroke-width="1.6" fill="none"/>
<path d="M301.7 1205.6H323.7M312.7 1194.6V1216.6" stroke="#555555" stroke-width="1.6" fill="none"/>
<path d="M310 1212.3H332M321 1201.3V1223.3" stroke="#555555" stroke-width="1.6" fill="none"/>
<path d="M332.5 1217.6H354.5M343.5 1206.6V1228.6" stroke="#555555" stroke-width="1.6" fill="none"/>
<path d="M358.1 1206.3H380.1M369.1 1195.3V1217.3" stroke="#555555" stroke-width="1.6" fill="none"/>
<path d="M361.1 1212.3H383.1M372.1 1201.3V1223.3" stroke="#555555" stroke-width="1.6" fill="none"/>
<path d="M325.8 1152.2H347.8M336.8 1141.2V1163.2" stroke="#555555" stroke-width="1.6" fill="none"/>
<path d="M319 1177H341M330 1166V1188" stroke="#555555" stroke-width="1.6" fill="none"/>
<path d="M331 1198.8H353M342 1187.8V1209.8" stroke="#555555" stroke-width="1.6" fill="none"/>
<path d="M251.3 1221.4H273.3M262.3 1210.4V1232.4" stroke="#555555" stroke-width="1.6" fill="none"/>
<path d="M188.2 1168.7H210.2M199.2 1157.7V1179.7" stroke="#555555" stroke-width="1.6" fill="none"/>
<path d="M330 1196H352M341 1185V1207" stroke="#555555" stroke-width="1.6" fill="none"/>
<path d="M333 1201H355M344 1190V1212" stroke="#555555" stroke-width="1.6" fill="none"/>
<rect x="144.8" y="1173" width="18.6" height="18.6" fill="#d5c6e6"/>
<rect x="171.4" y="1196.3" width="18.6" height="18.6" fill="#d5c6e6"/>
<rect x="233" y="1112.1" width="18.6" height="18.6" fill="#d5c6e6"/>
<rect x="232.3" y="1206" width="18.6" height="18.6" fill="#d5c6e6"/>
<rect x="236" y="1253.9" width="18.6" height="18.6" fill="#d5c6e6"/>
<rect x="268.1" y="1234.6" width="18.6" height="18.6" fill="#d5c6e6"/>
<rect x="407.5" y="1128.3" width="18.6" height="18.6" fill="#d5c6e6"/>
<rect x="431.9" y="1035.9" width="18.6" height="18.6" fill="#d5c6e6"/>
<rect x="479" y="1014.7" width="18.6" height="18.6" fill="#d5c6e6"/>
<rect x="201.5" y="1143.9" width="18.6" height="18.6" fill="#d5c6e6"/>
<rect x="230" y="1142.6" width="18.6" height="18.6" fill="#d5c6e6"/>
<rect x="182.7" y="1170.7" width="18.6" height="18.6" fill="#d5c6e6"/>
<rect x="201.5" y="1160.9" width="18.6" height="18.6" fill="#d5c6e6"/>
<rect x="219.9" y="1163.9" width="18.6" height="18.6" fill="#d5c6e6"/>
<rect x="239.5" y="1166.9" width="18.6" height="18.6" fill="#d5c6e6"/>
<rect x="186.9" y="1180.5" width="18.6" height="18.6" fill="#d5c6e6"/>
<rect x="210.9" y="1176" width="18.6" height="18.6" fill="#d5c6e6"/>
<rect x="229.7" y="1176" width="18.6" height="18.6" fill="#d5c6e6"/>
<rect x="248.5" y="1176" width="18.6" height="18.6" fill="#d5c6e6"/>
<rect x="271.1" y="1180.5" width="18.6" height="18.6" fill="#d5c6e6"/>
<rect x="286.1" y="1173" width="18.6" height="18.6" fill="#d5c6e6"/>
<rect x="267.3" y="1112.8" width="18.6" height="18.6" fill="#d5c6e6"/>
<rect x="289.1" y="1102.3" width="18.6" height="18.6" fill="#d5c6e6"/>
<rect x="308.7" y="1100" width="18.6" height="18.6" fill="#d5c6e6"/>
<rect x="332.7" y="1095.5" width="18.6" height="18.6" fill="#d5c6e6"/>
<rect x="346.3" y="1100.8" width="18.6" height="18.6" fill="#d5c6e6"/>
<rect x="362.8" y="1103.8" width="18.6" height="18.6" fill="#d5c6e6"/>
<rect x="368.8" y="1115.8" width="18.6" height="18.6" fill="#d5c6e6"/>
<rect x="379.3" y="1124.8" width="18.6" height="18.6" fill="#d5c6e6"/>
<rect x="382.4" y="1135.4" width="18.6" height="18.6" fill="#d5c6e6"/>
<rect x="259" y="1127.8" width="18.6" height="18.6" fill="#d5c6e6"/>
<rect x="265.1" y="1141.4" width="18.6" height="18.6" fill="#d5c6e6"/>
<rect x="310.2" y="1133.9" width="18.6" height="18.6" fill="#d5c6e6"/>
<rect x="331.2" y="1156.4" width="18.6" height="18.6" fill="#d5c6e6"/>
<rect x="349.3" y="1145.9" width="18.6" height="18.6" fill="#d5c6e6"/>
<rect x="364.3" y="1160.9" width="18.6" height="18.6" fill="#d5c6e6"/>
<rect x="316.2" y="1154.9" width="18.6" height="18.6" fill="#d5c6e6"/>
<rect x="301.2" y="1160.9" width="18.6" height="18.6" fill="#d5c6e6"/>
<rect x="260.5" y="1188" width="18.6" height="18.6" fill="#d5c6e6"/>
<rect x="271.1" y="1191" width="18.6" height="18.6" fill="#d5c6e6"/>
<rect x="281.6" y="1201.5" width="18.6" height="18.6" fill="#d5c6e6"/>
<rect x="259" y="1201.5" width="18.6" height="18.6" fill="#d5c6e6"/>
<rect x="278.6" y="1218.1" width="18.6" height="18.6" fill="#d5c6e6"/>
<rect x="386.9" y="1091.8" width="18.6" height="18.6" fill="#d5c6e6"/>
<rect x="391.4" y="1097.8" width="18.6" height="18.6" fill="#d5c6e6"/>
<rect x="323.7" y="1115.8" width="18.6" height="18.6" fill="#d5c6e6"/>
<rect x="346.3" y="1123.3" width="18.6" height="18.6" fill="#d5c6e6"/>
<rect x="290.6" y="1121.8" width="18.6" height="18.6" fill="#d5c6e6"/>
<rect x="389.8" y="1097" width="18.6" height="18.6" fill="#d5c6e6"/>
<rect x="380.8" y="1091" width="18.6" height="18.6" fill="#d5c6e6"/>
<rect x="407.9" y="1128.1" width="18.6" height="18.6" fill="#d5c6e6"/>
<rect x="250.7" y="1150.7" width="18.6" height="18.6" fill="#d5c6e6"/>
<rect x="290.7" y="1140.7" width="18.6" height="18.6" fill="#d5c6e6"/>
<rect x="275.7" y="1130.7" width="18.6" height="18.6" fill="#d5c6e6"/>
<rect x="240.7" y="1190.7" width="18.6" height="18.6" fill="#d5c6e6"/>
<rect x="220.7" y="1150.7" width="18.6" height="18.6" fill="#d5c6e6"/>
<rect x="195.7" y="1185.7" width="18.6" height="18.6" fill="#d5c6e6"/>
<rect x="312.7" y="1115.7" width="18.6" height="18.6" fill="#d5c6e6"/>
<rect x="335.7" y="1135.7" width="18.6" height="18.6" fill="#d5c6e6"/>
<rect x="355.7" y="1115.7" width="18.6" height="18.6" fill="#d5c6e6"/>
<rect x="252.7" y="1222.7" width="18.6" height="18.6" fill="#d5c6e6"/>
<rect x="265.7" y="1205.7" width="18.6" height="18.6" fill="#d5c6e6"/>
<rect x="282.7" y="1186.7" width="18.6" height="18.6" fill="#d5c6e6"/>
<rect x="374.7" y="1150.7" width="18.6" height="18.6" fill="#d5c6e6"/>
<circle cx="900.9" cy="845.1" r="10.5" fill="#93d9b4"/>
<circle cx="888.3" cy="862.1" r="10.5" fill="#93d9b4"/>
<circle cx="695" cy="932.3" r="10.5" fill="#93d9b4"/>
<circle cx="776.6" cy="878.1" r="10.5" fill="#93d9b4"/>
<circle cx="791.7" cy="882.2" r="10.5" fill="#93d9b4"/>
<circle cx="807.7" cy="872.1" r="10.5" fill="#93d9b4"/>
<circle cx="818.7" cy="877.1" r="10.5" fill="#93d9b4"/>
<circle cx="833.8" cy="888.2" r="10.5" fill="#93d9b4"/>
<circle cx="848.8" cy="908.2" r="10.5" fill="#93d9b4"/>
<circle cx="819.7" cy="921.3" r="10.5" fill="#93d9b4"/>
<circle cx="824.7" cy="900.2" r="10.5" fill="#93d9b4"/>
<circle cx="791.7" cy="922.3" r="10.5" fill="#93d9b4"/>
<circle cx="778.6" cy="926.3" r="10.5" fill="#93d9b4"/>
<circle cx="754.6" cy="899.2" r="10.5" fill="#93d9b4"/>
<circle cx="747.5" cy="902.2" r="10.5" fill="#93d9b4"/>
<circle cx="733.5" cy="917.2" r="10.5" fill="#93d9b4"/>
<circle cx="730.5" cy="931.3" r="10.5" fill="#93d9b4"/>
<circle cx="738.5" cy="930.3" r="10.5" fill="#93d9b4"/>
<circle cx="761.6" cy="938.3" r="10.5" fill="#93d9b4"/>
<circle cx="761.6" cy="958.3" r="10.5" fill="#93d9b4"/>
<circle cx="753.6" cy="967.4" r="10.5" fill="#93d9b4"/>
<circle cx="724.5" cy="967.4" r="10.5" fill="#93d9b4"/>
<circle cx="733.5" cy="972.4" r="10.5" fill="#93d9b4"/>
<circle cx="762.6" cy="916.2" r="10.5" fill="#93d9b4"/>
<circle cx="804.7" cy="888.2" r="10.5" fill="#93d9b4"/>
<circle cx="770.6" cy="906.2" r="10.5" fill="#93d9b4"/>
<circle cx="830.8" cy="906.2" r="10.5" fill="#93d9b4"/>
<circle cx="806.7" cy="902.2" r="10.5" fill="#93d9b4"/>
<circle cx="785" cy="895" r="10.5" fill="#93d9b4"/>
<circle cx="812" cy="915" r="10.5" fill="#93d9b4"/>
<circle cx="745" cy="915" r="10.5" fill="#93d9b4"/>
<circle cx="768" cy="925" r="10.5" fill="#93d9b4"/>
<circle cx="797" cy="905" r="10.5" fill="#93d9b4"/>
<polygon points="379.1,1060 392.4,1073.2 379.1,1086.5 365.9,1073.2" fill="#bcd4f4"/>
<polygon points="380.1,1073 393.4,1086.3 380.1,1099.5 366.9,1086.3" fill="#bcd4f4"/>
<polygon points="396.1,1061 409.4,1074.2 396.1,1087.5 382.9,1074.2" fill="#bcd4f4"/>
<polygon points="400.1,1067 413.4,1080.3 400.1,1093.5 386.9,1080.3" fill="#bcd4f4"/>
<polygon points="403.1,1072 416.4,1085.3 403.1,1098.5 389.9,1085.3" fill="#bcd4f4"/>
<polygon points="424.2,1077 437.4,1090.3 424.2,1103.5 410.9,1090.3" fill="#bcd4f4"/>
<polygon points="428.2,1059 441.4,1072.2 428.2,1085.5 414.9,1072.2" fill="#bcd4f4"/>
<polygon points="430.2,1096 443.4,1109.3 430.2,1122.5 416.9,1109.3" fill="#bcd4f4"/>
<polygon points="444.2,1060 457.4,1073.2 444.2,1086.5 430.9,1073.2" fill="#bcd4f4"/>
<polygon points="450.3,1073 463.6,1086.3 450.3,1099.5 437.1,1086.3" fill="#bcd4f4"/>
<polygon points="462.3,1057 475.6,1070.2 462.3,1083.5 449.1,1070.2" fill="#bcd4f4"/>
<polygon points="462.3,1045 475.6,1058.2 462.3,1071.5 449.1,1058.2" fill="#bcd4f4"/>
<polygon points="472.3,1031 485.6,1044.2 472.3,1057.5 459.1,1044.2" fill="#bcd4f4"/>
<polygon points="481.3,1008.9 494.6,1022.1 481.3,1035.3 468.1,1022.1" fill="#bcd4f4"/>
<polygon points="488.3,1011.8 501.6,1025.1 488.3,1038.3 475.1,1025.1" fill="#bcd4f4"/>
<polygon points="438.2,1067 451.4,1080.3 438.2,1093.5 424.9,1080.3" fill="#bcd4f4"/>
<polygon points="412,1068.8 425.2,1082 412,1095.2 398.8,1082" fill="#bcd4f4"/>
<polygon points="455,1064.8 468.2,1078 455,1091.2 441.8,1078" fill="#bcd4f4"/>
<polygon points="329.2,1082 342.2,1103.6 316.2,1103.6" fill="#fdd3b9"/>
<polygon points="354,1069.8 367,1091.4 341,1091.4" fill="#fdd3b9"/>
<polygon points="571.1,903.4 584.1,925.1 558.1,925.1" fill="#fdd3b9"/>
<polygon points="588.1,917.4 601.1,939.1 575.1,939.1" fill="#fdd3b9"/>
<polygon points="575.1,922.9 588.1,944.6 562.1,944.6" fill="#fdd3b9"/>
<polygon points="576.1,930.4 589.1,952.1 563.1,952.1" fill="#fdd3b9"/>
<polygon points="602.2,928.6 615.2,950.4 589.2,950.4" fill="#fdd3b9"/>
<polygon points="605.2,929.6 618.2,951.4 592.2,951.4" fill="#fdd3b9"/>
<polygon points="630.3,922.6 643.3,944.4 617.3,944.4" fill="#fdd3b9"/>
<polygon points="623.2,936.9 636.2,958.6 610.2,958.6" fill="#fdd3b9"/>
<polygon points="654.3,938.9 667.3,960.6 641.3,960.6" fill="#fdd3b9"/>
<polygon points="699.4,939.4 712.4,961.1 686.4,961.1" fill="#fdd3b9"/>
<polygon points="706.4,940.4 719.4,962.1 693.4,962.1" fill="#fdd3b9"/>
<polygon points="714.5,940.1 727.5,961.9 701.5,961.9" fill="#fdd3b9"/>
<polygon points="674.6,976.9 687.6,998.6 661.6,998.6" fill="#fdd3b9"/>
<polygon points="567.5,997.6 580.5,1019.4 554.5,1019.4" fill="#fdd3b9"/>
<polygon points="607.7,1005.8 620.7,1027.5 594.7,1027.5" fill="#fdd3b9"/>
<polygon points="600.6,1013.7 613.6,1035.4 587.6,1035.4" fill="#fdd3b9"/>
<polygon points="626.7,1000.4 639.7,1022.1 613.7,1022.1" fill="#fdd3b9"/>
<polygon points="636.7,1000.1 649.7,1021.9 623.7,1021.9" fill="#fdd3b9"/>
<polygon points="618.7,1003.2 631.7,1025 605.7,1025" fill="#fdd3b9"/>
<polygon points="575.6,1039.8 588.6,1061.4 562.6,1061.4" fill="#fdd3b9"/>
<polygon points="578.6,1040.2 591.6,1061.8 565.6,1061.8" fill="#fdd3b9"/>
<rect x="258.6" y="1160.8" width="18" height="18" fill="#9a75c8" stroke="#000" stroke-width="1.6"/>
<rect x="276.6" y="1159.7" width="18" height="18" fill="#9a75c8" stroke="#000" stroke-width="1.6"/>
<rect x="286.4" y="1153" width="18" height="18" fill="#9a75c8" stroke="#000" stroke-width="1.6"/>
<rect x="285.7" y="1140.2" width="18" height="18" fill="#9a75c8" stroke="#000" stroke-width="1.6"/>
<rect x="293.9" y="1132.7" width="18" height="18" fill="#9a75c8" stroke="#000" stroke-width="1.6"/>
<rect x="321.8" y="1119.1" width="18" height="18" fill="#9a75c8" stroke="#000" stroke-width="1.6"/>
<rect x="340.5" y="1120.6" width="18" height="18" fill="#9a75c8" stroke="#000" stroke-width="1.6"/>
<rect x="338.3" y="1113.9" width="18" height="18" fill="#9a75c8" stroke="#000" stroke-width="1.6"/>
<circle cx="795.7" cy="906.2" r="10.2" fill="#4fc785" stroke="#000" stroke-width="1.6"/>
<circle cx="803.7" cy="913.2" r="10.2" fill="#4fc785" stroke="#000" stroke-width="1.6"/>
<circle cx="798.7" cy="913.2" r="10.2" fill="#4fc785" stroke="#000" stroke-width="1.6"/>
<polygon points="674.4,952 678.8,962.5 690.1,963.4 681.5,970.8 684.1,981.8 674.4,975.9 664.7,981.8 667.3,970.8 658.7,963.4 670,962.5" fill="#0000ff" stroke="#0000ff" stroke-width="1.5" stroke-linejoin="round"/>
</g>
<g clip-path="url(#clipD)">
<path d="M1418.3 1387H1440.3M1429.3 1376V1398" stroke="#555555" stroke-width="1.6" fill="none"/>
<path d="M1432.5 1428.2H1454.5M1443.5 1417.2V1439.2" stroke="#555555" stroke-width="1.6" fill="none"/>
<path d="M1365 1448.8H1387M1376 1437.8V1459.8" stroke="#555555" stroke-width="1.6" fill="none"/>
<path d="M1392.6 1446.3H1414.6M1403.6 1435.3V1457.3" stroke="#555555" stroke-width="1.6" fill="none"/>
<path d="M1372 1458.6H1394M1383 1447.6V1469.6" stroke="#555555" stroke-width="1.6" fill="none"/>
<path d="M1411.9 1472H1433.9M1422.9 1461V1483" stroke="#555555" stroke-width="1.6" fill="none"/>
<path d="M1353.4 1481.9H1375.4M1364.4 1470.9V1492.9" stroke="#555555" stroke-width="1.6" fill="none"/>
<path d="M1398.5 1490.1H1420.5M1409.5 1479.1V1501.1" stroke="#555555" stroke-width="1.6" fill="none"/>
<path d="M1485.1 1465.7H1507.1M1496.1 1454.7V1476.7" stroke="#555555" stroke-width="1.6" fill="none"/>
<path d="M1485.1 1474.1H1507.1M1496.1 1463.1V1485.1" stroke="#555555" stroke-width="1.6" fill="none"/>
<path d="M1494.1 1467.7H1516.1M1505.1 1456.7V1478.7" stroke="#555555" stroke-width="1.6" fill="none"/>
<path d="M1583.6 1463.9H1605.6M1594.6 1452.9V1474.9" stroke="#555555" stroke-width="1.6" fill="none"/>
<path d="M1597.1 1458.9H1619.1M1608.1 1447.9V1469.9" stroke="#555555" stroke-width="1.6" fill="none"/>
<path d="M1610.7 1466.9H1632.7M1621.7 1455.9V1477.9" stroke="#555555" stroke-width="1.6" fill="none"/>
<path d="M1610.7 1474.1H1632.7M1621.7 1463.1V1485.1" stroke="#555555" stroke-width="1.6" fill="none"/>
<path d="M1640.3 1471.9H1662.3M1651.3 1460.9V1482.9" stroke="#555555" stroke-width="1.6" fill="none"/>
<path d="M1655.8 1461.7H1677.8M1666.8 1450.7V1472.7" stroke="#555555" stroke-width="1.6" fill="none"/>
<path d="M1703.9 1458.9H1725.9M1714.9 1447.9V1469.9" stroke="#555555" stroke-width="1.6" fill="none"/>
<rect x="1746.3" y="953.2" width="18.5" height="18.5" fill="#d5c6e6"/>
<rect x="1527" y="1086.2" width="18.5" height="18.5" fill="#d5c6e6"/>
<rect x="1537.8" y="1056.8" width="18.5" height="18.5" fill="#d5c6e6"/>
<rect x="1598.8" y="1068.2" width="18.5" height="18.5" fill="#d5c6e6"/>
<rect x="1604.8" y="1053" width="18.5" height="18.5" fill="#d5c6e6"/>
<rect x="1644.5" y="1163.7" width="18.5" height="18.5" fill="#d5c6e6"/>
<rect x="1527" y="1092.2" width="18.5" height="18.5" fill="#d5c6e6"/>
<rect x="1586.7" y="1105" width="18.5" height="18.5" fill="#d5c6e6"/>
<rect x="1598.8" y="1099.8" width="18.5" height="18.5" fill="#d5c6e6"/>
<rect x="1612.2" y="1117" width="18.5" height="18.5" fill="#d5c6e6"/>
<rect x="1633.3" y="1118.5" width="18.5" height="18.5" fill="#d5c6e6"/>
<rect x="1651.3" y="1105.8" width="18.5" height="18.5" fill="#d5c6e6"/>
<rect x="1666.3" y="1105.8" width="18.5" height="18.5" fill="#d5c6e6"/>
<rect x="1663.3" y="1125.3" width="18.5" height="18.5" fill="#d5c6e6"/>
<rect x="1677.7" y="1134.3" width="18.5" height="18.5" fill="#d5c6e6"/>
<rect x="1695" y="1111.8" width="18.5" height="18.5" fill="#d5c6e6"/>
<rect x="1783.3" y="1012" width="18.5" height="18.5" fill="#d5c6e6"/>
<rect x="1794.7" y="1004" width="18.5" height="18.5" fill="#d5c6e6"/>
<rect x="1808.5" y="998.6" width="18.5" height="18.5" fill="#d5c6e6"/>
<rect x="1816.5" y="1009" width="18.5" height="18.5" fill="#d5c6e6"/>
<rect x="1829.2" y="1024.8" width="18.5" height="18.5" fill="#d5c6e6"/>
<rect x="1830.3" y="1043" width="18.5" height="18.5" fill="#d5c6e6"/>
<rect x="1878" y="1024.8" width="18.5" height="18.5" fill="#d5c6e6"/>
<rect x="1865.2" y="1035" width="18.5" height="18.5" fill="#d5c6e6"/>
<rect x="1873" y="1043" width="18.5" height="18.5" fill="#d5c6e6"/>
<rect x="1907.5" y="998.6" width="18.5" height="18.5" fill="#d5c6e6"/>
<rect x="1902.2" y="1014" width="18.5" height="18.5" fill="#d5c6e6"/>
<rect x="1919.8" y="1024.8" width="18.5" height="18.5" fill="#d5c6e6"/>
<rect x="1905.2" y="1037.2" width="18.5" height="18.5" fill="#d5c6e6"/>
<rect x="1752.7" y="1022.2" width="18.5" height="18.5" fill="#d5c6e6"/>
<rect x="1760.2" y="1045.5" width="18.5" height="18.5" fill="#d5c6e6"/>
<rect x="1746.8" y="1070.8" width="18.5" height="18.5" fill="#d5c6e6"/>
<rect x="1779.7" y="1068" width="18.5" height="18.5" fill="#d5c6e6"/>
<rect x="1771.5" y="1078.7" width="18.5" height="18.5" fill="#d5c6e6"/>
<rect x="1801.5" y="1073.7" width="18.5" height="18.5" fill="#d5c6e6"/>
<rect x="1812.8" y="1088" width="18.5" height="18.5" fill="#d5c6e6"/>
<rect x="1833.8" y="1068" width="18.5" height="18.5" fill="#d5c6e6"/>
<rect x="1848.8" y="1077.3" width="18.5" height="18.5" fill="#d5c6e6"/>
<rect x="1738.2" y="1097.5" width="18.5" height="18.5" fill="#d5c6e6"/>
<rect x="1766" y="1099.2" width="18.5" height="18.5" fill="#d5c6e6"/>
<rect x="1735.8" y="1030.8" width="18.5" height="18.5" fill="#d5c6e6"/>
<rect x="1735.8" y="1055.8" width="18.5" height="18.5" fill="#d5c6e6"/>
<rect x="1750.8" y="990.8" width="18.5" height="18.5" fill="#d5c6e6"/>
<rect x="1645" y="1034.6" width="18.5" height="18.5" fill="#d5c6e6"/>
<rect x="1669.8" y="1042.2" width="18.5" height="18.5" fill="#d5c6e6"/>
<rect x="1688.8" y="1029.8" width="18.5" height="18.5" fill="#d5c6e6"/>
<rect x="1704.1" y="1027.9" width="18.5" height="18.5" fill="#d5c6e6"/>
<rect x="1723.1" y="1026.9" width="18.5" height="18.5" fill="#d5c6e6"/>
<rect x="1734.6" y="1035.5" width="18.5" height="18.5" fill="#d5c6e6"/>
<rect x="1752.7" y="1022.2" width="18.5" height="18.5" fill="#d5c6e6"/>
<rect x="1759.3" y="1046" width="18.5" height="18.5" fill="#d5c6e6"/>
<rect x="1757.4" y="1050.8" width="18.5" height="18.5" fill="#d5c6e6"/>
<rect x="1685" y="1046.9" width="18.5" height="18.5" fill="#d5c6e6"/>
<rect x="1704.1" y="1050.8" width="18.5" height="18.5" fill="#d5c6e6"/>
<rect x="1723.1" y="1048.8" width="18.5" height="18.5" fill="#d5c6e6"/>
<rect x="1742.2" y="1050.8" width="18.5" height="18.5" fill="#d5c6e6"/>
<rect x="1704.1" y="1062.2" width="18.5" height="18.5" fill="#d5c6e6"/>
<rect x="1726.9" y="1060.3" width="18.5" height="18.5" fill="#d5c6e6"/>
<rect x="1681.2" y="1073.6" width="18.5" height="18.5" fill="#d5c6e6"/>
<rect x="1654.6" y="1064.1" width="18.5" height="18.5" fill="#d5c6e6"/>
<rect x="1654.6" y="1073.6" width="18.5" height="18.5" fill="#d5c6e6"/>
<rect x="1644.1" y="1070.8" width="18.5" height="18.5" fill="#d5c6e6"/>
<rect x="1707.9" y="1083.1" width="18.5" height="18.5" fill="#d5c6e6"/>
<rect x="1725" y="1088.8" width="18.5" height="18.5" fill="#d5c6e6"/>
<rect x="1738.4" y="1097.4" width="18.5" height="18.5" fill="#d5c6e6"/>
<rect x="1694.6" y="1112.7" width="18.5" height="18.5" fill="#d5c6e6"/>
<rect x="1722.2" y="1123.1" width="18.5" height="18.5" fill="#d5c6e6"/>
<rect x="1746.9" y="1069.8" width="18.5" height="18.5" fill="#d5c6e6"/>
<rect x="1780.3" y="1067.9" width="18.5" height="18.5" fill="#d5c6e6"/>
<rect x="1771.7" y="1078.4" width="18.5" height="18.5" fill="#d5c6e6"/>
<rect x="1801.2" y="1073.6" width="18.5" height="18.5" fill="#d5c6e6"/>
<rect x="1812.7" y="1087.9" width="18.5" height="18.5" fill="#d5c6e6"/>
<rect x="1833.6" y="1067.9" width="18.5" height="18.5" fill="#d5c6e6"/>
<rect x="1848.8" y="1077.4" width="18.5" height="18.5" fill="#d5c6e6"/>
<rect x="1766" y="1099.3" width="18.5" height="18.5" fill="#d5c6e6"/>
<rect x="1599.3" y="1067.9" width="18.5" height="18.5" fill="#d5c6e6"/>
<rect x="1606" y="1052.7" width="18.5" height="18.5" fill="#d5c6e6"/>
<rect x="1596.5" y="1102.2" width="18.5" height="18.5" fill="#d5c6e6"/>
<rect x="1612.7" y="1117.4" width="18.5" height="18.5" fill="#d5c6e6"/>
<rect x="1632.7" y="1119.3" width="18.5" height="18.5" fill="#d5c6e6"/>
<rect x="1649.8" y="1106" width="18.5" height="18.5" fill="#d5c6e6"/>
<rect x="1666.9" y="1106" width="18.5" height="18.5" fill="#d5c6e6"/>
<rect x="1662.2" y="1125" width="18.5" height="18.5" fill="#d5c6e6"/>
<rect x="1677.4" y="1134.6" width="18.5" height="18.5" fill="#d5c6e6"/>
<rect x="1644.5" y="1164.1" width="18.5" height="18.5" fill="#d5c6e6"/>
<rect x="1633.6" y="1109.8" width="18.5" height="18.5" fill="#d5c6e6"/>
<rect x="1694.6" y="1037.4" width="18.5" height="18.5" fill="#d5c6e6"/>
<rect x="1713.6" y="1039.3" width="18.5" height="18.5" fill="#d5c6e6"/>
<rect x="1742.2" y="1039.3" width="18.5" height="18.5" fill="#d5c6e6"/>
<rect x="1692.7" y="1058.4" width="18.5" height="18.5" fill="#d5c6e6"/>
<rect x="1715.5" y="1056.5" width="18.5" height="18.5" fill="#d5c6e6"/>
<circle cx="1208" cy="982.5" r="10.5" fill="#93d9b4"/>
<circle cx="1399.2" cy="1016" r="10.5" fill="#93d9b4"/>
<circle cx="1471.4" cy="956.3" r="10.5" fill="#93d9b4"/>
<circle cx="1489.2" cy="981.9" r="10.5" fill="#93d9b4"/>
<circle cx="1483.5" cy="992.4" r="10.5" fill="#93d9b4"/>
<circle cx="1516.7" cy="969.1" r="10.5" fill="#93d9b4"/>
<circle cx="1516.2" cy="989.4" r="10.5" fill="#93d9b4"/>
<circle cx="1531.3" cy="987.1" r="10.5" fill="#93d9b4"/>
<circle cx="1512" cy="1005.9" r="10.5" fill="#93d9b4"/>
<circle cx="1575.6" cy="989.8" r="10.5" fill="#93d9b4"/>
<circle cx="1617.4" cy="979.6" r="10.5" fill="#93d9b4"/>
<circle cx="1613.2" cy="995.4" r="10.5" fill="#93d9b4"/>
<circle cx="1623" cy="995.4" r="10.5" fill="#93d9b4"/>
<circle cx="1635.3" cy="964.3" r="10.5" fill="#93d9b4"/>
<circle cx="1692.9" cy="972.1" r="10.5" fill="#93d9b4"/>
<circle cx="1700.9" cy="977.4" r="10.5" fill="#93d9b4"/>
<circle cx="1646.3" cy="999.9" r="10.5" fill="#93d9b4"/>
<circle cx="1654.6" cy="999.9" r="10.5" fill="#93d9b4"/>
<circle cx="1647.1" cy="1018" r="10.5" fill="#93d9b4"/>
<circle cx="1665.9" cy="1018.4" r="10.5" fill="#93d9b4"/>
<circle cx="1651.6" cy="1026.2" r="10.5" fill="#93d9b4"/>
<circle cx="1690.7" cy="1028.5" r="10.5" fill="#93d9b4"/>
<circle cx="1699.7" cy="1023.2" r="10.5" fill="#93d9b4"/>
<circle cx="1613.7" cy="1028.5" r="10.5" fill="#93d9b4"/>
<circle cx="1494.4" cy="1051.5" r="10.5" fill="#93d9b4"/>
<circle cx="1462.9" cy="1077.4" r="10.5" fill="#93d9b4"/>
<circle cx="1744.4" cy="987.4" r="10.5" fill="#93d9b4"/>
<circle cx="1522" cy="975" r="10.5" fill="#93d9b4"/>
<circle cx="1525" cy="992" r="10.5" fill="#93d9b4"/>
<polygon points="1590.7,1031 1604,1044.3 1590.7,1057.5 1577.5,1044.3" fill="#bcd4f4"/>
<polygon points="1533.5,1134.2 1546.8,1147.4 1533.5,1160.7 1520.2,1147.4" fill="#bcd4f4"/>
<polygon points="1491.4,1155.2 1504.7,1168.4 1491.4,1181.7 1478.2,1168.4" fill="#bcd4f4"/>
<polygon points="1505.7,1157.5 1519,1170.7 1505.7,1184 1492.5,1170.7" fill="#bcd4f4"/>
<polygon points="1522,1155.2 1535.2,1168.4 1522,1181.7 1508.8,1168.4" fill="#bcd4f4"/>
<polygon points="1530.5,1158.2 1543.8,1171.4 1530.5,1184.7 1517.2,1171.4" fill="#bcd4f4"/>
<polygon points="1552.3,1168 1565.5,1181.2 1552.3,1194.5 1539,1181.2" fill="#bcd4f4"/>
<polygon points="1568.9,1168 1582.2,1181.2 1568.9,1194.5 1555.7,1181.2" fill="#bcd4f4"/>
<polygon points="1562.9,1172.5 1576.2,1185.7 1562.9,1199 1549.7,1185.7" fill="#bcd4f4"/>
<polygon points="1535.8,1173.2 1549,1186.5 1535.8,1199.8 1522.5,1186.5" fill="#bcd4f4"/>
<polygon points="1473.4,1181.5 1486.7,1194.7 1473.4,1208 1460.2,1194.7" fill="#bcd4f4"/>
<polygon points="1478.6,1183 1491.8,1196.2 1478.6,1209.5 1465.3,1196.2" fill="#bcd4f4"/>
<polygon points="1491.4,1193.5 1504.7,1206.8 1491.4,1220 1478.2,1206.8" fill="#bcd4f4"/>
<polygon points="1510.2,1198.8 1523.5,1212 1510.2,1225.2 1497,1212" fill="#bcd4f4"/>
<polygon points="1510.2,1180 1523.5,1193.2 1510.2,1206.5 1497,1193.2" fill="#bcd4f4"/>
<polygon points="1517.7,1171 1531,1184.2 1517.7,1197.5 1504.5,1184.2" fill="#bcd4f4"/>
<polygon points="1501.2,1174 1514.5,1187.2 1501.2,1200.5 1488,1187.2" fill="#bcd4f4"/>
<polygon points="1466.6,1226.2 1479.8,1239.5 1466.6,1252.8 1453.3,1239.5" fill="#bcd4f4"/>
<polygon points="1500,1164.8 1513.2,1178 1500,1191.2 1486.8,1178" fill="#bcd4f4"/>
<polygon points="1520,1186.8 1533.2,1200 1520,1213.2 1506.8,1200" fill="#bcd4f4"/>
<polygon points="1443.8,1054.1 1456.8,1075.8 1430.8,1075.8" fill="#fdd3b9"/>
<polygon points="1492.6,1051.5 1505.6,1073.1 1479.6,1073.1" fill="#fdd3b9"/>
<polygon points="1505.7,1054.1 1518.7,1075.8 1492.7,1075.8" fill="#fdd3b9"/>
<polygon points="1514.4,1049.4 1527.4,1071 1501.4,1071" fill="#fdd3b9"/>
<polygon points="1542.6,1051.5 1555.6,1073.1 1529.6,1073.1" fill="#fdd3b9"/>
<polygon points="1549,1049.4 1562,1071 1536,1071" fill="#fdd3b9"/>
<polygon points="1604.2,1032.6 1617.2,1054.2 1591.2,1054.2" fill="#fdd3b9"/>
<polygon points="1614.7,1031.5 1627.7,1053.1 1601.7,1053.1" fill="#fdd3b9"/>
<polygon points="1608,1042.5 1621,1064.1 1595,1064.1" fill="#fdd3b9"/>
<polygon points="1634.7,1065.7 1647.7,1087.3 1621.7,1087.3" fill="#fdd3b9"/>
<polygon points="1764.7,1017.9 1777.7,1039.5 1751.7,1039.5" fill="#fdd3b9"/>
<polygon points="1600.5,1176.9 1613.5,1198.5 1587.5,1198.5" fill="#fdd3b9"/>
<polygon points="1606.5,1174.5 1619.5,1196.1 1593.5,1196.1" fill="#fdd3b9"/>
<polygon points="1623.8,1173.5 1636.8,1195.1 1610.8,1195.1" fill="#fdd3b9"/>
<polygon points="1629,1185.2 1642,1206.8 1616,1206.8" fill="#fdd3b9"/>
<rect x="1707.8" y="990.1" width="18" height="18" fill="#9a75c8" stroke="#000" stroke-width="1.6"/>
<rect x="1689.9" y="1096.7" width="18" height="18" fill="#9a75c8" stroke="#000" stroke-width="1.6"/>
<circle cx="1531.3" cy="976.6" r="10.2" fill="#4fc785" stroke="#000" stroke-width="1.6"/>
<circle cx="1537.3" cy="979.6" r="10.2" fill="#4fc785" stroke="#000" stroke-width="1.6"/>
<circle cx="1550.5" cy="981.1" r="10.2" fill="#4fc785" stroke="#000" stroke-width="1.6"/>
<circle cx="1546.3" cy="964.6" r="10.2" fill="#4fc785" stroke="#000" stroke-width="1.6"/>
<polygon points="1749.4,906 1753.8,916.5 1765.1,917.4 1756.5,924.8 1759.1,935.8 1749.4,929.9 1739.7,935.8 1742.3,924.8 1733.7,917.4 1745,916.5" fill="#0000ff" stroke="#0000ff" stroke-width="1.5" stroke-linejoin="round"/>
<path d="M1471.3,1266 C1440,1302 1400,1350 1387,1405" fill="none" stroke="#808080" stroke-width="5.5"/>
<path d="M1383.2,1429.5 L1371.3,1387 L1383,1400 L1392.5,1394 Z" fill="#808080"/>
</g>
<text x="1460.3" y="1342.4" font-size="35" text-anchor="start" fill="#000" font-family="Liberation Serif, Times New Roman, serif" textLength="421.8" lengthAdjust="spacing">Contamination of felsic rocks</text>
<text x="1962.8" y="879.4" font-size="50" text-anchor="middle" fill="#000" >d</text>
<text transform="translate(1047,1168) rotate(-90)" font-size="36" text-anchor="middle" fill="#000">&#949;<tspan font-size="25" dy="8.5">Nd</tspan><tspan dy="-8.5">(t)</tspan></text>
<line x1="108.3" y1="552.9" x2="121.3" y2="552.9" stroke="#1e1e1e" stroke-width="1.5"/>
<line x1="960.3" y1="552.9" x2="973.3" y2="552.9" stroke="#1e1e1e" stroke-width="1.5"/>
<line x1="108.3" y1="182.4" x2="121.3" y2="182.4" stroke="#1e1e1e" stroke-width="1.5"/>
<line x1="960.3" y1="182.4" x2="973.3" y2="182.4" stroke="#1e1e1e" stroke-width="1.5"/>
<line x1="114.8" y1="700.3" x2="121.3" y2="700.3" stroke="#1e1e1e" stroke-width="1.5"/>
<line x1="966.8" y1="700.3" x2="973.3" y2="700.3" stroke="#1e1e1e" stroke-width="1.5"/>
<line x1="114.8" y1="664.4" x2="121.3" y2="664.4" stroke="#1e1e1e" stroke-width="1.5"/>
<line x1="966.8" y1="664.4" x2="973.3" y2="664.4" stroke="#1e1e1e" stroke-width="1.5"/>
<line x1="114.8" y1="635.1" x2="121.3" y2="635.1" stroke="#1e1e1e" stroke-width="1.5"/>
<line x1="966.8" y1="635.1" x2="973.3" y2="635.1" stroke="#1e1e1e" stroke-width="1.5"/>
<line x1="114.8" y1="610.3" x2="121.3" y2="610.3" stroke="#1e1e1e" stroke-width="1.5"/>
<line x1="966.8" y1="610.3" x2="973.3" y2="610.3" stroke="#1e1e1e" stroke-width="1.5"/>
<line x1="114.8" y1="588.8" x2="121.3" y2="588.8" stroke="#1e1e1e" stroke-width="1.5"/>
<line x1="966.8" y1="588.8" x2="973.3" y2="588.8" stroke="#1e1e1e" stroke-width="1.5"/>
<line x1="114.8" y1="569.9" x2="121.3" y2="569.9" stroke="#1e1e1e" stroke-width="1.5"/>
<line x1="966.8" y1="569.9" x2="973.3" y2="569.9" stroke="#1e1e1e" stroke-width="1.5"/>
<line x1="114.8" y1="441.4" x2="121.3" y2="441.4" stroke="#1e1e1e" stroke-width="1.5"/>
<line x1="966.8" y1="441.4" x2="973.3" y2="441.4" stroke="#1e1e1e" stroke-width="1.5"/>
<line x1="114.8" y1="376.1" x2="121.3" y2="376.1" stroke="#1e1e1e" stroke-width="1.5"/>
<line x1="966.8" y1="376.1" x2="973.3" y2="376.1" stroke="#1e1e1e" stroke-width="1.5"/>
<line x1="114.8" y1="329.8" x2="121.3" y2="329.8" stroke="#1e1e1e" stroke-width="1.5"/>
<line x1="966.8" y1="329.8" x2="973.3" y2="329.8" stroke="#1e1e1e" stroke-width="1.5"/>
<line x1="114.8" y1="293.9" x2="121.3" y2="293.9" stroke="#1e1e1e" stroke-width="1.5"/>
<line x1="966.8" y1="293.9" x2="973.3" y2="293.9" stroke="#1e1e1e" stroke-width="1.5"/>
<line x1="114.8" y1="264.6" x2="121.3" y2="264.6" stroke="#1e1e1e" stroke-width="1.5"/>
<line x1="966.8" y1="264.6" x2="973.3" y2="264.6" stroke="#1e1e1e" stroke-width="1.5"/>
<line x1="114.8" y1="239.8" x2="121.3" y2="239.8" stroke="#1e1e1e" stroke-width="1.5"/>
<line x1="966.8" y1="239.8" x2="973.3" y2="239.8" stroke="#1e1e1e" stroke-width="1.5"/>
<line x1="114.8" y1="218.3" x2="121.3" y2="218.3" stroke="#1e1e1e" stroke-width="1.5"/>
<line x1="966.8" y1="218.3" x2="973.3" y2="218.3" stroke="#1e1e1e" stroke-width="1.5"/>
<line x1="114.8" y1="199.4" x2="121.3" y2="199.4" stroke="#1e1e1e" stroke-width="1.5"/>
<line x1="966.8" y1="199.4" x2="973.3" y2="199.4" stroke="#1e1e1e" stroke-width="1.5"/>
<line x1="114.8" y1="70.9" x2="121.3" y2="70.9" stroke="#1e1e1e" stroke-width="1.5"/>
<line x1="966.8" y1="70.9" x2="973.3" y2="70.9" stroke="#1e1e1e" stroke-width="1.5"/>
<line x1="114.8" y1="5.6" x2="121.3" y2="5.6" stroke="#1e1e1e" stroke-width="1.5"/>
<line x1="966.8" y1="5.6" x2="973.3" y2="5.6" stroke="#1e1e1e" stroke-width="1.5"/>
<line x1="151" y1="700.7" x2="151" y2="713.7" stroke="#1e1e1e" stroke-width="1.5"/>
<line x1="151" y1="5.5" x2="151" y2="18.5" stroke="#1e1e1e" stroke-width="1.5"/>
<line x1="212" y1="700.7" x2="212" y2="713.7" stroke="#1e1e1e" stroke-width="1.5"/>
<line x1="212" y1="5.5" x2="212" y2="18.5" stroke="#1e1e1e" stroke-width="1.5"/>
<line x1="273" y1="700.7" x2="273" y2="713.7" stroke="#1e1e1e" stroke-width="1.5"/>
<line x1="273" y1="5.5" x2="273" y2="18.5" stroke="#1e1e1e" stroke-width="1.5"/>
<line x1="334" y1="700.7" x2="334" y2="713.7" stroke="#1e1e1e" stroke-width="1.5"/>
<line x1="334" y1="5.5" x2="334" y2="18.5" stroke="#1e1e1e" stroke-width="1.5"/>
<line x1="395" y1="700.7" x2="395" y2="713.7" stroke="#1e1e1e" stroke-width="1.5"/>
<line x1="395" y1="5.5" x2="395" y2="18.5" stroke="#1e1e1e" stroke-width="1.5"/>
<line x1="456" y1="700.7" x2="456" y2="713.7" stroke="#1e1e1e" stroke-width="1.5"/>
<line x1="456" y1="5.5" x2="456" y2="18.5" stroke="#1e1e1e" stroke-width="1.5"/>
<line x1="517" y1="700.7" x2="517" y2="713.7" stroke="#1e1e1e" stroke-width="1.5"/>
<line x1="517" y1="5.5" x2="517" y2="18.5" stroke="#1e1e1e" stroke-width="1.5"/>
<line x1="578" y1="700.7" x2="578" y2="713.7" stroke="#1e1e1e" stroke-width="1.5"/>
<line x1="578" y1="5.5" x2="578" y2="18.5" stroke="#1e1e1e" stroke-width="1.5"/>
<line x1="639" y1="700.7" x2="639" y2="713.7" stroke="#1e1e1e" stroke-width="1.5"/>
<line x1="639" y1="5.5" x2="639" y2="18.5" stroke="#1e1e1e" stroke-width="1.5"/>
<line x1="700" y1="700.7" x2="700" y2="713.7" stroke="#1e1e1e" stroke-width="1.5"/>
<line x1="700" y1="5.5" x2="700" y2="18.5" stroke="#1e1e1e" stroke-width="1.5"/>
<line x1="761" y1="700.7" x2="761" y2="713.7" stroke="#1e1e1e" stroke-width="1.5"/>
<line x1="761" y1="5.5" x2="761" y2="18.5" stroke="#1e1e1e" stroke-width="1.5"/>
<line x1="822" y1="700.7" x2="822" y2="713.7" stroke="#1e1e1e" stroke-width="1.5"/>
<line x1="822" y1="5.5" x2="822" y2="18.5" stroke="#1e1e1e" stroke-width="1.5"/>
<line x1="883" y1="700.7" x2="883" y2="713.7" stroke="#1e1e1e" stroke-width="1.5"/>
<line x1="883" y1="5.5" x2="883" y2="18.5" stroke="#1e1e1e" stroke-width="1.5"/>
<line x1="944" y1="700.7" x2="944" y2="713.7" stroke="#1e1e1e" stroke-width="1.5"/>
<line x1="944" y1="5.5" x2="944" y2="18.5" stroke="#1e1e1e" stroke-width="1.5"/>
<rect x="121.3" y="5.5" width="852" height="695.2" fill="none" stroke="#2a2a2a" stroke-width="1.5"/>
<text x="97" y="562.9" font-size="28" text-anchor="end" fill="#000" >10</text>
<text x="97" y="192.4" font-size="28" text-anchor="end" fill="#000" >100</text>
<text x="151" y="747.1" font-size="29.5" text-anchor="middle" fill="#000" >La</text>
<text x="212" y="747.1" font-size="29.5" text-anchor="middle" fill="#000" >Ce</text>
<text x="273" y="747.1" font-size="29.5" text-anchor="middle" fill="#000" >Pr</text>
<text x="334" y="747.1" font-size="29.5" text-anchor="middle" fill="#000" >Nd</text>
<text x="395" y="747.1" font-size="29.5" text-anchor="middle" fill="#000" >Sm</text>
<text x="456" y="747.1" font-size="29.5" text-anchor="middle" fill="#000" >Eu</text>
<text x="517" y="747.1" font-size="29.5" text-anchor="middle" fill="#000" >Gd</text>
<text x="578" y="747.1" font-size="29.5" text-anchor="middle" fill="#000" >Tb</text>
<text x="639" y="747.1" font-size="29.5" text-anchor="middle" fill="#000" >Dy</text>
<text x="700" y="747.1" font-size="29.5" text-anchor="middle" fill="#000" >Ho</text>
<text x="761" y="747.1" font-size="29.5" text-anchor="middle" fill="#000" >Er</text>
<text x="822" y="747.1" font-size="29.5" text-anchor="middle" fill="#000" >Tm</text>
<text x="883" y="747.1" font-size="29.5" text-anchor="middle" fill="#000" >Yb</text>
<text x="944" y="747.1" font-size="29.5" text-anchor="middle" fill="#000" >Lu</text>
<text x="34.5" y="352" font-size="36" text-anchor="middle" fill="#000" transform="rotate(-90 34.5 352)">Sample/Chondrite</text>
<text x="942.5" y="64.6" font-size="50" text-anchor="middle" fill="#000" >a</text>
<line x1="1128.8" y1="700.7" x2="1141.8" y2="700.7" stroke="#1e1e1e" stroke-width="1.5"/>
<line x1="1980.8" y1="700.7" x2="1993.8" y2="700.7" stroke="#1e1e1e" stroke-width="1.5"/>
<line x1="1128.8" y1="528.7" x2="1141.8" y2="528.7" stroke="#1e1e1e" stroke-width="1.5"/>
<line x1="1980.8" y1="528.7" x2="1993.8" y2="528.7" stroke="#1e1e1e" stroke-width="1.5"/>
<line x1="1128.8" y1="356.7" x2="1141.8" y2="356.7" stroke="#1e1e1e" stroke-width="1.5"/>
<line x1="1980.8" y1="356.7" x2="1993.8" y2="356.7" stroke="#1e1e1e" stroke-width="1.5"/>
<line x1="1128.8" y1="184.7" x2="1141.8" y2="184.7" stroke="#1e1e1e" stroke-width="1.5"/>
<line x1="1980.8" y1="184.7" x2="1993.8" y2="184.7" stroke="#1e1e1e" stroke-width="1.5"/>
<line x1="1128.8" y1="12.7" x2="1141.8" y2="12.7" stroke="#1e1e1e" stroke-width="1.5"/>
<line x1="1980.8" y1="12.7" x2="1993.8" y2="12.7" stroke="#1e1e1e" stroke-width="1.5"/>
<line x1="1135.3" y1="648.9" x2="1141.8" y2="648.9" stroke="#1e1e1e" stroke-width="1.5"/>
<line x1="1987.3" y1="648.9" x2="1993.8" y2="648.9" stroke="#1e1e1e" stroke-width="1.5"/>
<line x1="1135.3" y1="618.6" x2="1141.8" y2="618.6" stroke="#1e1e1e" stroke-width="1.5"/>
<line x1="1987.3" y1="618.6" x2="1993.8" y2="618.6" stroke="#1e1e1e" stroke-width="1.5"/>
<line x1="1135.3" y1="597.1" x2="1141.8" y2="597.1" stroke="#1e1e1e" stroke-width="1.5"/>
<line x1="1987.3" y1="597.1" x2="1993.8" y2="597.1" stroke="#1e1e1e" stroke-width="1.5"/>
<line x1="1135.3" y1="580.5" x2="1141.8" y2="580.5" stroke="#1e1e1e" stroke-width="1.5"/>
<line x1="1987.3" y1="580.5" x2="1993.8" y2="580.5" stroke="#1e1e1e" stroke-width="1.5"/>
<line x1="1135.3" y1="566.9" x2="1141.8" y2="566.9" stroke="#1e1e1e" stroke-width="1.5"/>
<line x1="1987.3" y1="566.9" x2="1993.8" y2="566.9" stroke="#1e1e1e" stroke-width="1.5"/>
<line x1="1135.3" y1="555.3" x2="1141.8" y2="555.3" stroke="#1e1e1e" stroke-width="1.5"/>
<line x1="1987.3" y1="555.3" x2="1993.8" y2="555.3" stroke="#1e1e1e" stroke-width="1.5"/>
<line x1="1135.3" y1="545.4" x2="1141.8" y2="545.4" stroke="#1e1e1e" stroke-width="1.5"/>
<line x1="1987.3" y1="545.4" x2="1993.8" y2="545.4" stroke="#1e1e1e" stroke-width="1.5"/>
<line x1="1135.3" y1="536.6" x2="1141.8" y2="536.6" stroke="#1e1e1e" stroke-width="1.5"/>
<line x1="1987.3" y1="536.6" x2="1993.8" y2="536.6" stroke="#1e1e1e" stroke-width="1.5"/>
<line x1="1135.3" y1="476.9" x2="1141.8" y2="476.9" stroke="#1e1e1e" stroke-width="1.5"/>
<line x1="1987.3" y1="476.9" x2="1993.8" y2="476.9" stroke="#1e1e1e" stroke-width="1.5"/>
<line x1="1135.3" y1="446.6" x2="1141.8" y2="446.6" stroke="#1e1e1e" stroke-width="1.5"/>
<line x1="1987.3" y1="446.6" x2="1993.8" y2="446.6" stroke="#1e1e1e" stroke-width="1.5"/>
<line x1="1135.3" y1="425.1" x2="1141.8" y2="425.1" stroke="#1e1e1e" stroke-width="1.5"/>
<line x1="1987.3" y1="425.1" x2="1993.8" y2="425.1" stroke="#1e1e1e" stroke-width="1.5"/>
<line x1="1135.3" y1="408.5" x2="1141.8" y2="408.5" stroke="#1e1e1e" stroke-width="1.5"/>
<line x1="1987.3" y1="408.5" x2="1993.8" y2="408.5" stroke="#1e1e1e" stroke-width="1.5"/>
<line x1="1135.3" y1="394.9" x2="1141.8" y2="394.9" stroke="#1e1e1e" stroke-width="1.5"/>
<line x1="1987.3" y1="394.9" x2="1993.8" y2="394.9" stroke="#1e1e1e" stroke-width="1.5"/>
<line x1="1135.3" y1="383.3" x2="1141.8" y2="383.3" stroke="#1e1e1e" stroke-width="1.5"/>
<line x1="1987.3" y1="383.3" x2="1993.8" y2="383.3" stroke="#1e1e1e" stroke-width="1.5"/>
<line x1="1135.3" y1="373.4" x2="1141.8" y2="373.4" stroke="#1e1e1e" stroke-width="1.5"/>
<line x1="1987.3" y1="373.4" x2="1993.8" y2="373.4" stroke="#1e1e1e" stroke-width="1.5"/>
<line x1="1135.3" y1="364.6" x2="1141.8" y2="364.6" stroke="#1e1e1e" stroke-width="1.5"/>
<line x1="1987.3" y1="364.6" x2="1993.8" y2="364.6" stroke="#1e1e1e" stroke-width="1.5"/>
<line x1="1135.3" y1="304.9" x2="1141.8" y2="304.9" stroke="#1e1e1e" stroke-width="1.5"/>
<line x1="1987.3" y1="304.9" x2="1993.8" y2="304.9" stroke="#1e1e1e" stroke-width="1.5"/>
<line x1="1135.3" y1="274.6" x2="1141.8" y2="274.6" stroke="#1e1e1e" stroke-width="1.5"/>
<line x1="1987.3" y1="274.6" x2="1993.8" y2="274.6" stroke="#1e1e1e" stroke-width="1.5"/>
<line x1="1135.3" y1="253.1" x2="1141.8" y2="253.1" stroke="#1e1e1e" stroke-width="1.5"/>
<line x1="1987.3" y1="253.1" x2="1993.8" y2="253.1" stroke="#1e1e1e" stroke-width="1.5"/>
<line x1="1135.3" y1="236.5" x2="1141.8" y2="236.5" stroke="#1e1e1e" stroke-width="1.5"/>
<line x1="1987.3" y1="236.5" x2="1993.8" y2="236.5" stroke="#1e1e1e" stroke-width="1.5"/>
<line x1="1135.3" y1="222.9" x2="1141.8" y2="222.9" stroke="#1e1e1e" stroke-width="1.5"/>
<line x1="1987.3" y1="222.9" x2="1993.8" y2="222.9" stroke="#1e1e1e" stroke-width="1.5"/>
<line x1="1135.3" y1="211.3" x2="1141.8" y2="211.3" stroke="#1e1e1e" stroke-width="1.5"/>
<line x1="1987.3" y1="211.3" x2="1993.8" y2="211.3" stroke="#1e1e1e" stroke-width="1.5"/>
<line x1="1135.3" y1="201.4" x2="1141.8" y2="201.4" stroke="#1e1e1e" stroke-width="1.5"/>
<line x1="1987.3" y1="201.4" x2="1993.8" y2="201.4" stroke="#1e1e1e" stroke-width="1.5"/>
<line x1="1135.3" y1="192.6" x2="1141.8" y2="192.6" stroke="#1e1e1e" stroke-width="1.5"/>
<line x1="1987.3" y1="192.6" x2="1993.8" y2="192.6" stroke="#1e1e1e" stroke-width="1.5"/>
<line x1="1135.3" y1="132.9" x2="1141.8" y2="132.9" stroke="#1e1e1e" stroke-width="1.5"/>
<line x1="1987.3" y1="132.9" x2="1993.8" y2="132.9" stroke="#1e1e1e" stroke-width="1.5"/>
<line x1="1135.3" y1="102.6" x2="1141.8" y2="102.6" stroke="#1e1e1e" stroke-width="1.5"/>
<line x1="1987.3" y1="102.6" x2="1993.8" y2="102.6" stroke="#1e1e1e" stroke-width="1.5"/>
<line x1="1135.3" y1="81.1" x2="1141.8" y2="81.1" stroke="#1e1e1e" stroke-width="1.5"/>
<line x1="1987.3" y1="81.1" x2="1993.8" y2="81.1" stroke="#1e1e1e" stroke-width="1.5"/>
<line x1="1135.3" y1="64.5" x2="1141.8" y2="64.5" stroke="#1e1e1e" stroke-width="1.5"/>
<line x1="1987.3" y1="64.5" x2="1993.8" y2="64.5" stroke="#1e1e1e" stroke-width="1.5"/>
<line x1="1135.3" y1="50.9" x2="1141.8" y2="50.9" stroke="#1e1e1e" stroke-width="1.5"/>
<line x1="1987.3" y1="50.9" x2="1993.8" y2="50.9" stroke="#1e1e1e" stroke-width="1.5"/>
<line x1="1135.3" y1="39.3" x2="1141.8" y2="39.3" stroke="#1e1e1e" stroke-width="1.5"/>
<line x1="1987.3" y1="39.3" x2="1993.8" y2="39.3" stroke="#1e1e1e" stroke-width="1.5"/>
<line x1="1135.3" y1="29.4" x2="1141.8" y2="29.4" stroke="#1e1e1e" stroke-width="1.5"/>
<line x1="1987.3" y1="29.4" x2="1993.8" y2="29.4" stroke="#1e1e1e" stroke-width="1.5"/>
<line x1="1135.3" y1="20.6" x2="1141.8" y2="20.6" stroke="#1e1e1e" stroke-width="1.5"/>
<line x1="1987.3" y1="20.6" x2="1993.8" y2="20.6" stroke="#1e1e1e" stroke-width="1.5"/>
<line x1="1157.1" y1="700.7" x2="1157.1" y2="713.7" stroke="#1e1e1e" stroke-width="1.5"/>
<line x1="1157.1" y1="5.5" x2="1157.1" y2="18.5" stroke="#1e1e1e" stroke-width="1.5"/>
<line x1="1187.5" y1="700.7" x2="1187.5" y2="713.7" stroke="#1e1e1e" stroke-width="1.5"/>
<line x1="1187.5" y1="5.5" x2="1187.5" y2="18.5" stroke="#1e1e1e" stroke-width="1.5"/>
<line x1="1218" y1="700.7" x2="1218" y2="713.7" stroke="#1e1e1e" stroke-width="1.5"/>
<line x1="1218" y1="5.5" x2="1218" y2="18.5" stroke="#1e1e1e" stroke-width="1.5"/>
<line x1="1248.4" y1="700.7" x2="1248.4" y2="713.7" stroke="#1e1e1e" stroke-width="1.5"/>
<line x1="1248.4" y1="5.5" x2="1248.4" y2="18.5" stroke="#1e1e1e" stroke-width="1.5"/>
<line x1="1278.8" y1="700.7" x2="1278.8" y2="713.7" stroke="#1e1e1e" stroke-width="1.5"/>
<line x1="1278.8" y1="5.5" x2="1278.8" y2="18.5" stroke="#1e1e1e" stroke-width="1.5"/>
<line x1="1309.2" y1="700.7" x2="1309.2" y2="713.7" stroke="#1e1e1e" stroke-width="1.5"/>
<line x1="1309.2" y1="5.5" x2="1309.2" y2="18.5" stroke="#1e1e1e" stroke-width="1.5"/>
<line x1="1339.7" y1="700.7" x2="1339.7" y2="713.7" stroke="#1e1e1e" stroke-width="1.5"/>
<line x1="1339.7" y1="5.5" x2="1339.7" y2="18.5" stroke="#1e1e1e" stroke-width="1.5"/>
<line x1="1370.1" y1="700.7" x2="1370.1" y2="713.7" stroke="#1e1e1e" stroke-width="1.5"/>
<line x1="1370.1" y1="5.5" x2="1370.1" y2="18.5" stroke="#1e1e1e" stroke-width="1.5"/>
<line x1="1400.5" y1="700.7" x2="1400.5" y2="713.7" stroke="#1e1e1e" stroke-width="1.5"/>
<line x1="1400.5" y1="5.5" x2="1400.5" y2="18.5" stroke="#1e1e1e" stroke-width="1.5"/>
<line x1="1431" y1="700.7" x2="1431" y2="713.7" stroke="#1e1e1e" stroke-width="1.5"/>
<line x1="1431" y1="5.5" x2="1431" y2="18.5" stroke="#1e1e1e" stroke-width="1.5"/>
<line x1="1461.4" y1="700.7" x2="1461.4" y2="713.7" stroke="#1e1e1e" stroke-width="1.5"/>
<line x1="1461.4" y1="5.5" x2="1461.4" y2="18.5" stroke="#1e1e1e" stroke-width="1.5"/>
<line x1="1491.8" y1="700.7" x2="1491.8" y2="713.7" stroke="#1e1e1e" stroke-width="1.5"/>
<line x1="1491.8" y1="5.5" x2="1491.8" y2="18.5" stroke="#1e1e1e" stroke-width="1.5"/>
<line x1="1522.3" y1="700.7" x2="1522.3" y2="713.7" stroke="#1e1e1e" stroke-width="1.5"/>
<line x1="1522.3" y1="5.5" x2="1522.3" y2="18.5" stroke="#1e1e1e" stroke-width="1.5"/>
<line x1="1552.7" y1="700.7" x2="1552.7" y2="713.7" stroke="#1e1e1e" stroke-width="1.5"/>
<line x1="1552.7" y1="5.5" x2="1552.7" y2="18.5" stroke="#1e1e1e" stroke-width="1.5"/>
<line x1="1583.1" y1="700.7" x2="1583.1" y2="713.7" stroke="#1e1e1e" stroke-width="1.5"/>
<line x1="1583.1" y1="5.5" x2="1583.1" y2="18.5" stroke="#1e1e1e" stroke-width="1.5"/>
<line x1="1613.5" y1="700.7" x2="1613.5" y2="713.7" stroke="#1e1e1e" stroke-width="1.5"/>
<line x1="1613.5" y1="5.5" x2="1613.5" y2="18.5" stroke="#1e1e1e" stroke-width="1.5"/>
<line x1="1644" y1="700.7" x2="1644" y2="713.7" stroke="#1e1e1e" stroke-width="1.5"/>
<line x1="1644" y1="5.5" x2="1644" y2="18.5" stroke="#1e1e1e" stroke-width="1.5"/>
<line x1="1674.4" y1="700.7" x2="1674.4" y2="713.7" stroke="#1e1e1e" stroke-width="1.5"/>
<line x1="1674.4" y1="5.5" x2="1674.4" y2="18.5" stroke="#1e1e1e" stroke-width="1.5"/>
<line x1="1704.8" y1="700.7" x2="1704.8" y2="713.7" stroke="#1e1e1e" stroke-width="1.5"/>
<line x1="1704.8" y1="5.5" x2="1704.8" y2="18.5" stroke="#1e1e1e" stroke-width="1.5"/>
<line x1="1735.3" y1="700.7" x2="1735.3" y2="713.7" stroke="#1e1e1e" stroke-width="1.5"/>
<line x1="1735.3" y1="5.5" x2="1735.3" y2="18.5" stroke="#1e1e1e" stroke-width="1.5"/>
<line x1="1765.7" y1="700.7" x2="1765.7" y2="713.7" stroke="#1e1e1e" stroke-width="1.5"/>
<line x1="1765.7" y1="5.5" x2="1765.7" y2="18.5" stroke="#1e1e1e" stroke-width="1.5"/>
<line x1="1796.1" y1="700.7" x2="1796.1" y2="713.7" stroke="#1e1e1e" stroke-width="1.5"/>
<line x1="1796.1" y1="5.5" x2="1796.1" y2="18.5" stroke="#1e1e1e" stroke-width="1.5"/>
<line x1="1826.6" y1="700.7" x2="1826.6" y2="713.7" stroke="#1e1e1e" stroke-width="1.5"/>
<line x1="1826.6" y1="5.5" x2="1826.6" y2="18.5" stroke="#1e1e1e" stroke-width="1.5"/>
<line x1="1857" y1="700.7" x2="1857" y2="713.7" stroke="#1e1e1e" stroke-width="1.5"/>
<line x1="1857" y1="5.5" x2="1857" y2="18.5" stroke="#1e1e1e" stroke-width="1.5"/>
<line x1="1887.4" y1="700.7" x2="1887.4" y2="713.7" stroke="#1e1e1e" stroke-width="1.5"/>
<line x1="1887.4" y1="5.5" x2="1887.4" y2="18.5" stroke="#1e1e1e" stroke-width="1.5"/>
<line x1="1917.8" y1="700.7" x2="1917.8" y2="713.7" stroke="#1e1e1e" stroke-width="1.5"/>
<line x1="1917.8" y1="5.5" x2="1917.8" y2="18.5" stroke="#1e1e1e" stroke-width="1.5"/>
<line x1="1948.3" y1="700.7" x2="1948.3" y2="713.7" stroke="#1e1e1e" stroke-width="1.5"/>
<line x1="1948.3" y1="5.5" x2="1948.3" y2="18.5" stroke="#1e1e1e" stroke-width="1.5"/>
<line x1="1978.7" y1="700.7" x2="1978.7" y2="713.7" stroke="#1e1e1e" stroke-width="1.5"/>
<line x1="1978.7" y1="5.5" x2="1978.7" y2="18.5" stroke="#1e1e1e" stroke-width="1.5"/>
<rect x="1141.8" y="5.5" width="852" height="695.2" fill="none" stroke="#2a2a2a" stroke-width="1.5"/>
<text x="1117.5" y="710.7" font-size="28" text-anchor="end" fill="#000" >0.1</text>
<text x="1117.5" y="538.7" font-size="28" text-anchor="end" fill="#000" >1</text>
<text x="1117.5" y="366.7" font-size="28" text-anchor="end" fill="#000" >10</text>
<text x="1117.5" y="194.7" font-size="28" text-anchor="end" fill="#000" >100</text>
<text x="1117.5" y="22.7" font-size="28" text-anchor="end" fill="#000" >1000</text>
<text x="1157.1" y="739.8" font-size="19.5" text-anchor="middle" fill="#000" >Rb</text>
<text x="1187.5" y="739.8" font-size="19.5" text-anchor="middle" fill="#000" >Ba</text>
<text x="1218" y="739.8" font-size="19.5" text-anchor="middle" fill="#000" >Th</text>
<text x="1248.4" y="739.8" font-size="19.5" text-anchor="middle" fill="#000" >U</text>
<text x="1278.8" y="739.8" font-size="19.5" text-anchor="middle" fill="#000" >Nb</text>
<text x="1309.2" y="739.8" font-size="19.5" text-anchor="middle" fill="#000" >Ta</text>
<text x="1339.7" y="739.8" font-size="19.5" text-anchor="middle" fill="#000" >K</text>
<text x="1370.1" y="739.8" font-size="19.5" text-anchor="middle" fill="#000" >La</text>
<text x="1400.5" y="739.8" font-size="19.5" text-anchor="middle" fill="#000" >Ce</text>
<text x="1431" y="739.8" font-size="19.5" text-anchor="middle" fill="#000" >Pb</text>
<text x="1461.4" y="739.8" font-size="19.5" text-anchor="middle" fill="#000" >Pr</text>
<text x="1491.8" y="739.8" font-size="19.5" text-anchor="middle" fill="#000" >Sr</text>
<text x="1522.3" y="739.8" font-size="19.5" text-anchor="middle" fill="#000" >P</text>
<text x="1552.7" y="739.8" font-size="19.5" text-anchor="middle" fill="#000" >Nd</text>
<text x="1583.1" y="739.8" font-size="19.5" text-anchor="middle" fill="#000" >Zr</text>
<text x="1613.5" y="739.8" font-size="19.5" text-anchor="middle" fill="#000" >Hf</text>
<text x="1644" y="739.8" font-size="19.5" text-anchor="middle" fill="#000" >Sm</text>
<text x="1674.4" y="739.8" font-size="19.5" text-anchor="middle" fill="#000" >Eu</text>
<text x="1704.8" y="739.8" font-size="19.5" text-anchor="middle" fill="#000" >Ti</text>
<text x="1735.3" y="739.8" font-size="19.5" text-anchor="middle" fill="#000" >Gd</text>
<text x="1765.7" y="739.8" font-size="19.5" text-anchor="middle" fill="#000" >Tb</text>
<text x="1796.1" y="739.8" font-size="19.5" text-anchor="middle" fill="#000" >Dy</text>
<text x="1826.6" y="739.8" font-size="19.5" text-anchor="middle" fill="#000" >Y</text>
<text x="1857" y="739.8" font-size="19.5" text-anchor="middle" fill="#000" >Ho</text>
<text x="1887.4" y="739.8" font-size="19.5" text-anchor="middle" fill="#000" >Er</text>
<text x="1917.8" y="739.8" font-size="19.5" text-anchor="middle" fill="#000" >Tm</text>
<text x="1948.3" y="739.8" font-size="19.5" text-anchor="middle" fill="#000" >Yb</text>
<text x="1978.7" y="739.8" font-size="19.5" text-anchor="middle" fill="#000" >Lu</text>
<text x="1038.3" y="352.5" font-size="36" text-anchor="middle" fill="#000" transform="rotate(-90 1038.3 352.5)">Sample/Chondrite</text>
<text x="1962.8" y="65" font-size="50" text-anchor="middle" fill="#000" >b</text>
<line x1="108.3" y1="1515.9" x2="121.3" y2="1515.9" stroke="#1e1e1e" stroke-width="1.5"/>
<line x1="960.1" y1="1515.9" x2="973.1" y2="1515.9" stroke="#1e1e1e" stroke-width="1.5"/>
<line x1="108.3" y1="1334.9" x2="121.3" y2="1334.9" stroke="#1e1e1e" stroke-width="1.5"/>
<line x1="960.1" y1="1334.9" x2="973.1" y2="1334.9" stroke="#1e1e1e" stroke-width="1.5"/>
<line x1="108.3" y1="1153.9" x2="121.3" y2="1153.9" stroke="#1e1e1e" stroke-width="1.5"/>
<line x1="960.1" y1="1153.9" x2="973.1" y2="1153.9" stroke="#1e1e1e" stroke-width="1.5"/>
<line x1="108.3" y1="972.9" x2="121.3" y2="972.9" stroke="#1e1e1e" stroke-width="1.5"/>
<line x1="960.1" y1="972.9" x2="973.1" y2="972.9" stroke="#1e1e1e" stroke-width="1.5"/>
<line x1="114.8" y1="1461.4" x2="121.3" y2="1461.4" stroke="#1e1e1e" stroke-width="1.5"/>
<line x1="966.6" y1="1461.4" x2="973.1" y2="1461.4" stroke="#1e1e1e" stroke-width="1.5"/>
<line x1="114.8" y1="1429.5" x2="121.3" y2="1429.5" stroke="#1e1e1e" stroke-width="1.5"/>
<line x1="966.6" y1="1429.5" x2="973.1" y2="1429.5" stroke="#1e1e1e" stroke-width="1.5"/>
<line x1="114.8" y1="1406.9" x2="121.3" y2="1406.9" stroke="#1e1e1e" stroke-width="1.5"/>
<line x1="966.6" y1="1406.9" x2="973.1" y2="1406.9" stroke="#1e1e1e" stroke-width="1.5"/>
<line x1="114.8" y1="1389.4" x2="121.3" y2="1389.4" stroke="#1e1e1e" stroke-width="1.5"/>
<line x1="966.6" y1="1389.4" x2="973.1" y2="1389.4" stroke="#1e1e1e" stroke-width="1.5"/>
<line x1="114.8" y1="1375.1" x2="121.3" y2="1375.1" stroke="#1e1e1e" stroke-width="1.5"/>
<line x1="966.6" y1="1375.1" x2="973.1" y2="1375.1" stroke="#1e1e1e" stroke-width="1.5"/>
<line x1="114.8" y1="1362.9" x2="121.3" y2="1362.9" stroke="#1e1e1e" stroke-width="1.5"/>
<line x1="966.6" y1="1362.9" x2="973.1" y2="1362.9" stroke="#1e1e1e" stroke-width="1.5"/>
<line x1="114.8" y1="1352.4" x2="121.3" y2="1352.4" stroke="#1e1e1e" stroke-width="1.5"/>
<line x1="966.6" y1="1352.4" x2="973.1" y2="1352.4" stroke="#1e1e1e" stroke-width="1.5"/>
<line x1="114.8" y1="1343.2" x2="121.3" y2="1343.2" stroke="#1e1e1e" stroke-width="1.5"/>
<line x1="966.6" y1="1343.2" x2="973.1" y2="1343.2" stroke="#1e1e1e" stroke-width="1.5"/>
<line x1="114.8" y1="1280.4" x2="121.3" y2="1280.4" stroke="#1e1e1e" stroke-width="1.5"/>
<line x1="966.6" y1="1280.4" x2="973.1" y2="1280.4" stroke="#1e1e1e" stroke-width="1.5"/>
<line x1="114.8" y1="1248.5" x2="121.3" y2="1248.5" stroke="#1e1e1e" stroke-width="1.5"/>
<line x1="966.6" y1="1248.5" x2="973.1" y2="1248.5" stroke="#1e1e1e" stroke-width="1.5"/>
<line x1="114.8" y1="1225.9" x2="121.3" y2="1225.9" stroke="#1e1e1e" stroke-width="1.5"/>
<line x1="966.6" y1="1225.9" x2="973.1" y2="1225.9" stroke="#1e1e1e" stroke-width="1.5"/>
<line x1="114.8" y1="1208.4" x2="121.3" y2="1208.4" stroke="#1e1e1e" stroke-width="1.5"/>
<line x1="966.6" y1="1208.4" x2="973.1" y2="1208.4" stroke="#1e1e1e" stroke-width="1.5"/>
<line x1="114.8" y1="1194.1" x2="121.3" y2="1194.1" stroke="#1e1e1e" stroke-width="1.5"/>
<line x1="966.6" y1="1194.1" x2="973.1" y2="1194.1" stroke="#1e1e1e" stroke-width="1.5"/>
<line x1="114.8" y1="1181.9" x2="121.3" y2="1181.9" stroke="#1e1e1e" stroke-width="1.5"/>
<line x1="966.6" y1="1181.9" x2="973.1" y2="1181.9" stroke="#1e1e1e" stroke-width="1.5"/>
<line x1="114.8" y1="1171.4" x2="121.3" y2="1171.4" stroke="#1e1e1e" stroke-width="1.5"/>
<line x1="966.6" y1="1171.4" x2="973.1" y2="1171.4" stroke="#1e1e1e" stroke-width="1.5"/>
<line x1="114.8" y1="1162.2" x2="121.3" y2="1162.2" stroke="#1e1e1e" stroke-width="1.5"/>
<line x1="966.6" y1="1162.2" x2="973.1" y2="1162.2" stroke="#1e1e1e" stroke-width="1.5"/>
<line x1="114.8" y1="1099.4" x2="121.3" y2="1099.4" stroke="#1e1e1e" stroke-width="1.5"/>
<line x1="966.6" y1="1099.4" x2="973.1" y2="1099.4" stroke="#1e1e1e" stroke-width="1.5"/>
<line x1="114.8" y1="1067.5" x2="121.3" y2="1067.5" stroke="#1e1e1e" stroke-width="1.5"/>
<line x1="966.6" y1="1067.5" x2="973.1" y2="1067.5" stroke="#1e1e1e" stroke-width="1.5"/>
<line x1="114.8" y1="1044.9" x2="121.3" y2="1044.9" stroke="#1e1e1e" stroke-width="1.5"/>
<line x1="966.6" y1="1044.9" x2="973.1" y2="1044.9" stroke="#1e1e1e" stroke-width="1.5"/>
<line x1="114.8" y1="1027.4" x2="121.3" y2="1027.4" stroke="#1e1e1e" stroke-width="1.5"/>
<line x1="966.6" y1="1027.4" x2="973.1" y2="1027.4" stroke="#1e1e1e" stroke-width="1.5"/>
<line x1="114.8" y1="1013.1" x2="121.3" y2="1013.1" stroke="#1e1e1e" stroke-width="1.5"/>
<line x1="966.6" y1="1013.1" x2="973.1" y2="1013.1" stroke="#1e1e1e" stroke-width="1.5"/>
<line x1="114.8" y1="1000.9" x2="121.3" y2="1000.9" stroke="#1e1e1e" stroke-width="1.5"/>
<line x1="966.6" y1="1000.9" x2="973.1" y2="1000.9" stroke="#1e1e1e" stroke-width="1.5"/>
<line x1="114.8" y1="990.4" x2="121.3" y2="990.4" stroke="#1e1e1e" stroke-width="1.5"/>
<line x1="966.6" y1="990.4" x2="973.1" y2="990.4" stroke="#1e1e1e" stroke-width="1.5"/>
<line x1="114.8" y1="981.2" x2="121.3" y2="981.2" stroke="#1e1e1e" stroke-width="1.5"/>
<line x1="966.6" y1="981.2" x2="973.1" y2="981.2" stroke="#1e1e1e" stroke-width="1.5"/>
<line x1="114.8" y1="918.4" x2="121.3" y2="918.4" stroke="#1e1e1e" stroke-width="1.5"/>
<line x1="966.6" y1="918.4" x2="973.1" y2="918.4" stroke="#1e1e1e" stroke-width="1.5"/>
<line x1="114.8" y1="886.5" x2="121.3" y2="886.5" stroke="#1e1e1e" stroke-width="1.5"/>
<line x1="966.6" y1="886.5" x2="973.1" y2="886.5" stroke="#1e1e1e" stroke-width="1.5"/>
<line x1="114.8" y1="863.9" x2="121.3" y2="863.9" stroke="#1e1e1e" stroke-width="1.5"/>
<line x1="966.6" y1="863.9" x2="973.1" y2="863.9" stroke="#1e1e1e" stroke-width="1.5"/>
<line x1="114.8" y1="846.4" x2="121.3" y2="846.4" stroke="#1e1e1e" stroke-width="1.5"/>
<line x1="966.6" y1="846.4" x2="973.1" y2="846.4" stroke="#1e1e1e" stroke-width="1.5"/>
<line x1="114.8" y1="832.1" x2="121.3" y2="832.1" stroke="#1e1e1e" stroke-width="1.5"/>
<line x1="966.6" y1="832.1" x2="973.1" y2="832.1" stroke="#1e1e1e" stroke-width="1.5"/>
<line x1="224.3" y1="1515.1" x2="224.3" y2="1528.1" stroke="#1e1e1e" stroke-width="1.5"/>
<line x1="224.3" y1="820" x2="224.3" y2="833" stroke="#1e1e1e" stroke-width="1.5"/>
<line x1="692.9" y1="1515.1" x2="692.9" y2="1528.1" stroke="#1e1e1e" stroke-width="1.5"/>
<line x1="692.9" y1="820" x2="692.9" y2="833" stroke="#1e1e1e" stroke-width="1.5"/>
<line x1="151.7" y1="1515.1" x2="151.7" y2="1521.6" stroke="#1e1e1e" stroke-width="1.5"/>
<line x1="151.7" y1="820" x2="151.7" y2="826.5" stroke="#1e1e1e" stroke-width="1.5"/>
<line x1="178.9" y1="1515.1" x2="178.9" y2="1521.6" stroke="#1e1e1e" stroke-width="1.5"/>
<line x1="178.9" y1="820" x2="178.9" y2="826.5" stroke="#1e1e1e" stroke-width="1.5"/>
<line x1="202.9" y1="1515.1" x2="202.9" y2="1521.6" stroke="#1e1e1e" stroke-width="1.5"/>
<line x1="202.9" y1="820" x2="202.9" y2="826.5" stroke="#1e1e1e" stroke-width="1.5"/>
<line x1="365.4" y1="1515.1" x2="365.4" y2="1521.6" stroke="#1e1e1e" stroke-width="1.5"/>
<line x1="365.4" y1="820" x2="365.4" y2="826.5" stroke="#1e1e1e" stroke-width="1.5"/>
<line x1="447.9" y1="1515.1" x2="447.9" y2="1521.6" stroke="#1e1e1e" stroke-width="1.5"/>
<line x1="447.9" y1="820" x2="447.9" y2="826.5" stroke="#1e1e1e" stroke-width="1.5"/>
<line x1="506.4" y1="1515.1" x2="506.4" y2="1521.6" stroke="#1e1e1e" stroke-width="1.5"/>
<line x1="506.4" y1="820" x2="506.4" y2="826.5" stroke="#1e1e1e" stroke-width="1.5"/>
<line x1="551.8" y1="1515.1" x2="551.8" y2="1521.6" stroke="#1e1e1e" stroke-width="1.5"/>
<line x1="551.8" y1="820" x2="551.8" y2="826.5" stroke="#1e1e1e" stroke-width="1.5"/>
<line x1="588.9" y1="1515.1" x2="588.9" y2="1521.6" stroke="#1e1e1e" stroke-width="1.5"/>
<line x1="588.9" y1="820" x2="588.9" y2="826.5" stroke="#1e1e1e" stroke-width="1.5"/>
<line x1="620.3" y1="1515.1" x2="620.3" y2="1521.6" stroke="#1e1e1e" stroke-width="1.5"/>
<line x1="620.3" y1="820" x2="620.3" y2="826.5" stroke="#1e1e1e" stroke-width="1.5"/>
<line x1="647.5" y1="1515.1" x2="647.5" y2="1521.6" stroke="#1e1e1e" stroke-width="1.5"/>
<line x1="647.5" y1="820" x2="647.5" y2="826.5" stroke="#1e1e1e" stroke-width="1.5"/>
<line x1="671.5" y1="1515.1" x2="671.5" y2="1521.6" stroke="#1e1e1e" stroke-width="1.5"/>
<line x1="671.5" y1="820" x2="671.5" y2="826.5" stroke="#1e1e1e" stroke-width="1.5"/>
<line x1="834" y1="1515.1" x2="834" y2="1521.6" stroke="#1e1e1e" stroke-width="1.5"/>
<line x1="834" y1="820" x2="834" y2="826.5" stroke="#1e1e1e" stroke-width="1.5"/>
<line x1="916.5" y1="1515.1" x2="916.5" y2="1521.6" stroke="#1e1e1e" stroke-width="1.5"/>
<line x1="916.5" y1="820" x2="916.5" y2="826.5" stroke="#1e1e1e" stroke-width="1.5"/>
<rect x="121.3" y="820" width="851.8" height="695.1" fill="none" stroke="#2a2a2a" stroke-width="1.5"/>
<text x="97" y="1525.9" font-size="28" text-anchor="end" fill="#000" >0.01</text>
<text x="97" y="1344.9" font-size="28" text-anchor="end" fill="#000" >0.1</text>
<text x="97" y="1163.9" font-size="28" text-anchor="end" fill="#000" >1</text>
<text x="97" y="982.9" font-size="28" text-anchor="end" fill="#000" >10</text>
<text x="224.3" y="1561.7" font-size="28" text-anchor="middle" fill="#000" >1</text>
<text x="692.9" y="1561.7" font-size="28" text-anchor="middle" fill="#000" >10</text>
<text x="547" y="1616" font-size="36" text-anchor="middle" fill="#000" >Y/Nb</text>
<text x="26.7" y="1167.5" font-size="36" text-anchor="middle" fill="#000" transform="rotate(-90 26.7 1167.5)">Sc/Nb</text>
<text x="942.5" y="879.4" font-size="50" text-anchor="middle" fill="#000" >c</text>
<line x1="1129.1" y1="1514.3" x2="1142.1" y2="1514.3" stroke="#1e1e1e" stroke-width="1.5"/>
<line x1="1980.8" y1="1514.3" x2="1993.8" y2="1514.3" stroke="#1e1e1e" stroke-width="1.5"/>
<line x1="1129.1" y1="1385.8" x2="1142.1" y2="1385.8" stroke="#1e1e1e" stroke-width="1.5"/>
<line x1="1980.8" y1="1385.8" x2="1993.8" y2="1385.8" stroke="#1e1e1e" stroke-width="1.5"/>
<line x1="1129.1" y1="1257.3" x2="1142.1" y2="1257.3" stroke="#1e1e1e" stroke-width="1.5"/>
<line x1="1980.8" y1="1257.3" x2="1993.8" y2="1257.3" stroke="#1e1e1e" stroke-width="1.5"/>
<line x1="1129.1" y1="1128.8" x2="1142.1" y2="1128.8" stroke="#1e1e1e" stroke-width="1.5"/>
<line x1="1980.8" y1="1128.8" x2="1993.8" y2="1128.8" stroke="#1e1e1e" stroke-width="1.5"/>
<line x1="1129.1" y1="1000.3" x2="1142.1" y2="1000.3" stroke="#1e1e1e" stroke-width="1.5"/>
<line x1="1980.8" y1="1000.3" x2="1993.8" y2="1000.3" stroke="#1e1e1e" stroke-width="1.5"/>
<line x1="1129.1" y1="871.8" x2="1142.1" y2="871.8" stroke="#1e1e1e" stroke-width="1.5"/>
<line x1="1980.8" y1="871.8" x2="1993.8" y2="871.8" stroke="#1e1e1e" stroke-width="1.5"/>
<line x1="1135.6" y1="1450" x2="1142.1" y2="1450" stroke="#1e1e1e" stroke-width="1.5"/>
<line x1="1987.3" y1="1450" x2="1993.8" y2="1450" stroke="#1e1e1e" stroke-width="1.5"/>
<line x1="1135.6" y1="1321.5" x2="1142.1" y2="1321.5" stroke="#1e1e1e" stroke-width="1.5"/>
<line x1="1987.3" y1="1321.5" x2="1993.8" y2="1321.5" stroke="#1e1e1e" stroke-width="1.5"/>
<line x1="1135.6" y1="1193" x2="1142.1" y2="1193" stroke="#1e1e1e" stroke-width="1.5"/>
<line x1="1987.3" y1="1193" x2="1993.8" y2="1193" stroke="#1e1e1e" stroke-width="1.5"/>
<line x1="1135.6" y1="1064.5" x2="1142.1" y2="1064.5" stroke="#1e1e1e" stroke-width="1.5"/>
<line x1="1987.3" y1="1064.5" x2="1993.8" y2="1064.5" stroke="#1e1e1e" stroke-width="1.5"/>
<line x1="1135.6" y1="936" x2="1142.1" y2="936" stroke="#1e1e1e" stroke-width="1.5"/>
<line x1="1987.3" y1="936" x2="1993.8" y2="936" stroke="#1e1e1e" stroke-width="1.5"/>
<line x1="1484" y1="1515.1" x2="1484" y2="1528.1" stroke="#1e1e1e" stroke-width="1.5"/>
<line x1="1484" y1="820" x2="1484" y2="833" stroke="#1e1e1e" stroke-width="1.5"/>
<line x1="1898.5" y1="1515.1" x2="1898.5" y2="1528.1" stroke="#1e1e1e" stroke-width="1.5"/>
<line x1="1898.5" y1="820" x2="1898.5" y2="833" stroke="#1e1e1e" stroke-width="1.5"/>
<line x1="1194.3" y1="1515.1" x2="1194.3" y2="1521.6" stroke="#1e1e1e" stroke-width="1.5"/>
<line x1="1194.3" y1="820" x2="1194.3" y2="826.5" stroke="#1e1e1e" stroke-width="1.5"/>
<line x1="1267.3" y1="1515.1" x2="1267.3" y2="1521.6" stroke="#1e1e1e" stroke-width="1.5"/>
<line x1="1267.3" y1="820" x2="1267.3" y2="826.5" stroke="#1e1e1e" stroke-width="1.5"/>
<line x1="1319.1" y1="1515.1" x2="1319.1" y2="1521.6" stroke="#1e1e1e" stroke-width="1.5"/>
<line x1="1319.1" y1="820" x2="1319.1" y2="826.5" stroke="#1e1e1e" stroke-width="1.5"/>
<line x1="1359.2" y1="1515.1" x2="1359.2" y2="1521.6" stroke="#1e1e1e" stroke-width="1.5"/>
<line x1="1359.2" y1="820" x2="1359.2" y2="826.5" stroke="#1e1e1e" stroke-width="1.5"/>
<line x1="1392" y1="1515.1" x2="1392" y2="1521.6" stroke="#1e1e1e" stroke-width="1.5"/>
<line x1="1392" y1="820" x2="1392" y2="826.5" stroke="#1e1e1e" stroke-width="1.5"/>
<line x1="1419.8" y1="1515.1" x2="1419.8" y2="1521.6" stroke="#1e1e1e" stroke-width="1.5"/>
<line x1="1419.8" y1="820" x2="1419.8" y2="826.5" stroke="#1e1e1e" stroke-width="1.5"/>
<line x1="1443.8" y1="1515.1" x2="1443.8" y2="1521.6" stroke="#1e1e1e" stroke-width="1.5"/>
<line x1="1443.8" y1="820" x2="1443.8" y2="826.5" stroke="#1e1e1e" stroke-width="1.5"/>
<line x1="1465" y1="1515.1" x2="1465" y2="1521.6" stroke="#1e1e1e" stroke-width="1.5"/>
<line x1="1465" y1="820" x2="1465" y2="826.5" stroke="#1e1e1e" stroke-width="1.5"/>
<line x1="1608.8" y1="1515.1" x2="1608.8" y2="1521.6" stroke="#1e1e1e" stroke-width="1.5"/>
<line x1="1608.8" y1="820" x2="1608.8" y2="826.5" stroke="#1e1e1e" stroke-width="1.5"/>
<line x1="1681.8" y1="1515.1" x2="1681.8" y2="1521.6" stroke="#1e1e1e" stroke-width="1.5"/>
<line x1="1681.8" y1="820" x2="1681.8" y2="826.5" stroke="#1e1e1e" stroke-width="1.5"/>
<line x1="1733.6" y1="1515.1" x2="1733.6" y2="1521.6" stroke="#1e1e1e" stroke-width="1.5"/>
<line x1="1733.6" y1="820" x2="1733.6" y2="826.5" stroke="#1e1e1e" stroke-width="1.5"/>
<line x1="1773.7" y1="1515.1" x2="1773.7" y2="1521.6" stroke="#1e1e1e" stroke-width="1.5"/>
<line x1="1773.7" y1="820" x2="1773.7" y2="826.5" stroke="#1e1e1e" stroke-width="1.5"/>
<line x1="1806.5" y1="1515.1" x2="1806.5" y2="1521.6" stroke="#1e1e1e" stroke-width="1.5"/>
<line x1="1806.5" y1="820" x2="1806.5" y2="826.5" stroke="#1e1e1e" stroke-width="1.5"/>
<line x1="1834.3" y1="1515.1" x2="1834.3" y2="1521.6" stroke="#1e1e1e" stroke-width="1.5"/>
<line x1="1834.3" y1="820" x2="1834.3" y2="826.5" stroke="#1e1e1e" stroke-width="1.5"/>
<line x1="1858.3" y1="1515.1" x2="1858.3" y2="1521.6" stroke="#1e1e1e" stroke-width="1.5"/>
<line x1="1858.3" y1="820" x2="1858.3" y2="826.5" stroke="#1e1e1e" stroke-width="1.5"/>
<line x1="1879.5" y1="1515.1" x2="1879.5" y2="1521.6" stroke="#1e1e1e" stroke-width="1.5"/>
<line x1="1879.5" y1="820" x2="1879.5" y2="826.5" stroke="#1e1e1e" stroke-width="1.5"/>
<rect x="1142.1" y="820" width="851.7" height="695.1" fill="none" stroke="#2a2a2a" stroke-width="1.5"/>
<text x="1118" y="1524.3" font-size="28" text-anchor="end" fill="#000" >&#8722;15</text>
<text x="1118" y="1395.8" font-size="28" text-anchor="end" fill="#000" >&#8722;10</text>
<text x="1118" y="1267.3" font-size="28" text-anchor="end" fill="#000" >&#8722;5</text>
<text x="1118" y="1138.8" font-size="28" text-anchor="end" fill="#000" >0</text>
<text x="1118" y="1010.3" font-size="28" text-anchor="end" fill="#000" >5</text>
<text x="1118" y="881.8" font-size="28" text-anchor="end" fill="#000" >10</text>
<text x="1484" y="1561.7" font-size="28" text-anchor="middle" fill="#000" >10</text>
<text x="1898.5" y="1561.7" font-size="28" text-anchor="middle" fill="#000" >100</text>
<text x="1567.7" y="1616" font-size="36" text-anchor="middle" fill="#000" >Nb/U</text>
<rect x="393.5" y="1246.5" width="571.5" height="264.7" fill="#fff" stroke="#222" stroke-width="1.3"/>
<path d="M416.2 1264.5H438.2M427.2 1253.5V1275.5" stroke="#555555" stroke-width="1.6" fill="none"/>
<rect x="417.8" y="1287.8" width="18.8" height="18.8" fill="#d5c6e6"/>
<circle cx="427.2" cy="1329.7" r="10.6" fill="#93d9b4"/>
<polygon points="427.2,1349.1 440.6,1362.5 427.2,1375.9 413.8,1362.5" fill="#bcd4f4"/>
<polygon points="427.2,1382.9 440.3,1404.5 414.1,1404.5" fill="#fdd3b9"/>
<rect x="418.2" y="1418.4" width="18" height="18" fill="#9a75c8" stroke="#000" stroke-width="1.6"/>
<circle cx="427.2" cy="1461" r="10.2" fill="#4fc785" stroke="#000" stroke-width="1.6"/>
<polygon points="427.2,1478 431.6,1488.5 442.9,1489.4 434.3,1496.8 436.9,1507.8 427.2,1501.9 417.5,1507.8 420.1,1496.8 411.5,1489.4 422.8,1488.5" fill="#0000ff" stroke="#0000ff" stroke-width="1.5" stroke-linejoin="round"/>
<text x="464.5" y="1274" font-size="26.4" text-anchor="start" fill="#000" >Felsic rocks-CMLIP</text>
<text x="464.5" y="1306.7" font-size="26.4" text-anchor="start" fill="#000" >OIB-like mafic rocks-CMLIP</text>
<text x="464.5" y="1339.2" font-size="26.4" text-anchor="start" fill="#000" >MORB-like mafic rocks-CMLIP</text>
<text x="464.5" y="1372" font-size="26.4" text-anchor="start" fill="#000" >Contaminated OIB-like mafic rocks-CMLIP</text>
<text x="464.5" y="1402.9" font-size="26.4" text-anchor="start" fill="#000" >Transitional mafic rocks-CMLIP</text>
<text x="464.5" y="1436.9" font-size="26.4" text-anchor="start" fill="#000" >Cona diabases-TS</text>
<text x="464.5" y="1470.5" font-size="26.4" text-anchor="start" fill="#000" >Cona gabbros-TS</text>
<text x="464.5" y="1503" font-size="26.4" text-anchor="start" fill="#000" >N-MORB</text>
</svg></body></html>
